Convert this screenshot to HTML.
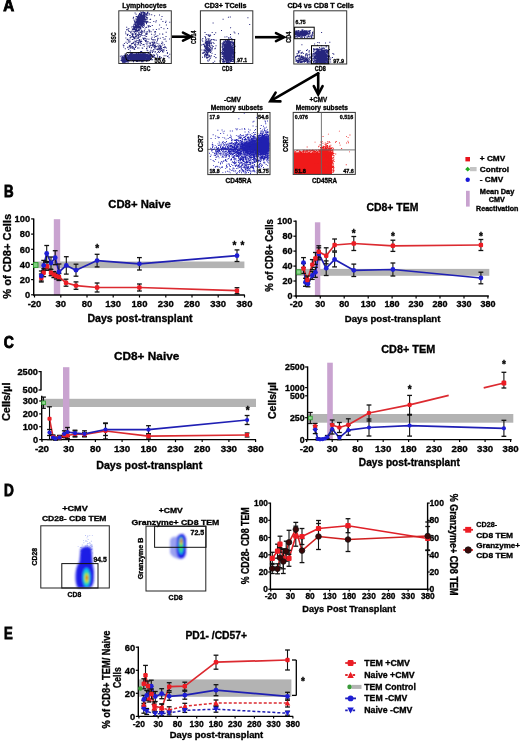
<!DOCTYPE html>
<html><head><meta charset="utf-8"><title>Figure</title>
<style>
html,body{margin:0;padding:0;background:#fff;width:520px;height:741px;overflow:hidden}
svg{display:block;font-family:"Liberation Sans",sans-serif;font-weight:bold;will-change:transform;filter:blur(0.3px)}
text{stroke:#000;stroke-width:0.32px;paint-order:stroke}
.pl{stroke-width:0.9px}
</style></head><body>
<svg width="520" height="741" viewBox="0 0 520 741">
<rect width="520" height="741" fill="#fff"/>
<defs><filter id="bl0" x="-50%" y="-50%" width="200%" height="200%"><feGaussianBlur stdDeviation="2"/></filter></defs>
<text x="3.2" y="11" font-size="16" class="pl" textLength="10.9" lengthAdjust="spacingAndGlyphs">A</text>
<text x="122.2" y="7.6" font-size="7" textLength="44.5" lengthAdjust="spacingAndGlyphs">Lymphocytes</text>
<path d="M141.8 17.5h1.0v1.0h-1.0zM142.8 17.2h1.0v1.0h-1.0zM139.8 19.9h1.0v1.0h-1.0zM141.1 14.3h1.0v1.0h-1.0zM137.6 23.0h1.0v1.0h-1.0zM138.4 18.8h1.0v1.0h-1.0zM139.7 21.8h1.0v1.0h-1.0zM143.5 21.1h1.0v1.0h-1.0zM141.1 16.4h1.0v1.0h-1.0zM141.4 15.1h1.0v1.0h-1.0zM141.9 19.9h1.0v1.0h-1.0zM142.4 18.2h1.0v1.0h-1.0zM139.8 21.8h1.0v1.0h-1.0zM138.3 19.4h1.0v1.0h-1.0zM143.8 13.8h1.0v1.0h-1.0zM141.5 21.6h1.0v1.0h-1.0zM141.0 12.4h1.0v1.0h-1.0zM140.9 16.9h1.0v1.0h-1.0zM137.0 16.9h1.0v1.0h-1.0zM136.1 18.8h1.0v1.0h-1.0zM139.3 21.0h1.0v1.0h-1.0zM138.0 18.3h1.0v1.0h-1.0zM141.9 18.7h1.0v1.0h-1.0zM141.5 18.8h1.0v1.0h-1.0zM142.4 15.5h1.0v1.0h-1.0zM135.6 16.3h1.0v1.0h-1.0zM140.5 17.2h1.0v1.0h-1.0zM139.9 20.9h1.0v1.0h-1.0zM143.7 14.7h1.0v1.0h-1.0zM136.3 19.9h1.0v1.0h-1.0zM138.8 20.7h1.0v1.0h-1.0zM138.5 18.7h1.0v1.0h-1.0zM139.7 17.4h1.0v1.0h-1.0zM141.0 24.4h1.0v1.0h-1.0zM143.0 11.4h1.0v1.0h-1.0zM138.9 22.7h1.0v1.0h-1.0zM141.4 22.7h1.0v1.0h-1.0zM138.2 21.2h1.0v1.0h-1.0zM138.9 22.3h1.0v1.0h-1.0zM142.2 17.4h1.0v1.0h-1.0zM141.0 19.3h1.0v1.0h-1.0zM135.9 22.2h1.0v1.0h-1.0zM139.2 22.7h1.0v1.0h-1.0zM142.5 23.1h1.0v1.0h-1.0zM140.6 24.1h1.0v1.0h-1.0zM137.3 26.4h1.0v1.0h-1.0zM136.1 24.7h1.0v1.0h-1.0zM143.8 24.0h1.0v1.0h-1.0zM146.0 13.7h1.0v1.0h-1.0zM135.1 23.8h1.0v1.0h-1.0zM140.8 19.9h1.0v1.0h-1.0zM138.8 22.1h1.0v1.0h-1.0zM145.6 14.0h1.0v1.0h-1.0zM143.5 14.1h1.0v1.0h-1.0zM143.3 18.1h1.0v1.0h-1.0zM139.8 28.4h1.0v1.0h-1.0zM139.8 17.9h1.0v1.0h-1.0zM139.9 22.1h1.0v1.0h-1.0zM134.5 28.6h1.0v1.0h-1.0zM136.2 28.5h1.0v1.0h-1.0zM138.0 18.6h1.0v1.0h-1.0zM139.6 18.6h1.0v1.0h-1.0zM143.2 14.1h1.0v1.0h-1.0zM144.0 18.1h1.0v1.0h-1.0zM141.5 23.9h1.0v1.0h-1.0zM136.3 20.9h1.0v1.0h-1.0zM138.2 20.1h1.0v1.0h-1.0zM138.9 26.1h1.0v1.0h-1.0zM138.1 14.4h1.0v1.0h-1.0zM139.4 19.7h1.0v1.0h-1.0zM138.0 24.0h1.0v1.0h-1.0zM141.3 24.8h1.0v1.0h-1.0zM138.8 26.6h1.0v1.0h-1.0zM138.4 22.1h1.0v1.0h-1.0zM140.3 18.6h1.0v1.0h-1.0zM138.7 22.0h1.0v1.0h-1.0zM146.1 17.3h1.0v1.0h-1.0zM143.7 12.0h1.0v1.0h-1.0zM138.0 23.0h1.0v1.0h-1.0zM141.1 20.6h1.0v1.0h-1.0zM139.1 21.9h1.0v1.0h-1.0zM144.3 11.9h1.0v1.0h-1.0zM138.8 17.4h1.0v1.0h-1.0zM141.8 17.5h1.0v1.0h-1.0zM141.6 15.7h1.0v1.0h-1.0zM142.5 19.6h1.0v1.0h-1.0zM137.7 24.9h1.0v1.0h-1.0zM140.6 23.1h1.0v1.0h-1.0zM141.1 17.2h1.0v1.0h-1.0zM142.5 21.6h1.0v1.0h-1.0zM138.2 24.2h1.0v1.0h-1.0zM137.8 18.4h1.0v1.0h-1.0zM139.5 23.6h1.0v1.0h-1.0zM134.8 21.9h1.0v1.0h-1.0zM131.3 26.5h1.0v1.0h-1.0zM136.5 25.7h1.0v1.0h-1.0zM137.5 21.0h1.0v1.0h-1.0zM139.7 22.2h1.0v1.0h-1.0zM142.8 27.0h1.0v1.0h-1.0zM139.9 16.9h1.0v1.0h-1.0zM139.0 19.6h1.0v1.0h-1.0zM138.2 25.2h1.0v1.0h-1.0zM136.0 30.7h1.0v1.0h-1.0zM140.3 19.5h1.0v1.0h-1.0zM139.9 20.0h1.0v1.0h-1.0zM141.1 22.3h1.0v1.0h-1.0zM137.7 27.7h1.0v1.0h-1.0zM138.1 19.2h1.0v1.0h-1.0zM136.1 27.6h1.0v1.0h-1.0zM142.9 15.8h1.0v1.0h-1.0zM138.5 18.4h1.0v1.0h-1.0zM141.3 19.8h1.0v1.0h-1.0zM136.3 23.4h1.0v1.0h-1.0zM139.4 26.8h1.0v1.0h-1.0zM144.7 13.3h1.0v1.0h-1.0zM142.8 16.1h1.0v1.0h-1.0zM138.1 21.5h1.0v1.0h-1.0zM141.7 17.1h1.0v1.0h-1.0zM135.0 24.3h1.0v1.0h-1.0zM139.6 23.3h1.0v1.0h-1.0zM134.4 20.5h1.0v1.0h-1.0zM143.3 19.1h1.0v1.0h-1.0zM133.8 23.5h1.0v1.0h-1.0zM142.4 20.2h1.0v1.0h-1.0zM135.5 24.9h1.0v1.0h-1.0zM144.3 16.9h1.0v1.0h-1.0zM142.8 16.5h1.0v1.0h-1.0zM136.4 19.7h1.0v1.0h-1.0zM144.7 18.5h1.0v1.0h-1.0zM141.4 25.5h1.0v1.0h-1.0zM139.4 21.7h1.0v1.0h-1.0zM142.1 15.6h1.0v1.0h-1.0zM139.7 20.7h1.0v1.0h-1.0zM139.1 17.7h1.0v1.0h-1.0zM140.1 26.3h1.0v1.0h-1.0zM140.8 16.8h1.0v1.0h-1.0zM141.3 18.3h1.0v1.0h-1.0zM135.3 25.5h1.0v1.0h-1.0zM132.9 30.8h1.0v1.0h-1.0zM132.1 28.9h1.0v1.0h-1.0zM142.7 22.3h1.0v1.0h-1.0zM139.3 21.4h1.0v1.0h-1.0zM138.1 29.1h1.0v1.0h-1.0zM140.6 19.9h1.0v1.0h-1.0zM141.4 14.9h1.0v1.0h-1.0zM139.2 20.7h1.0v1.0h-1.0zM137.8 22.1h1.0v1.0h-1.0zM142.4 16.4h1.0v1.0h-1.0zM143.8 12.0h1.0v1.0h-1.0zM143.4 13.1h1.0v1.0h-1.0zM135.5 22.2h1.0v1.0h-1.0zM140.5 15.8h1.0v1.0h-1.0zM144.1 21.7h1.0v1.0h-1.0zM138.2 20.8h1.0v1.0h-1.0zM136.3 22.3h1.0v1.0h-1.0zM141.8 19.2h1.0v1.0h-1.0zM141.8 24.6h1.0v1.0h-1.0zM139.5 14.5h1.0v1.0h-1.0zM140.7 18.5h1.0v1.0h-1.0zM141.6 14.7h1.0v1.0h-1.0zM133.5 24.0h1.0v1.0h-1.0zM141.8 21.2h1.0v1.0h-1.0zM142.1 16.8h1.0v1.0h-1.0zM141.3 18.9h1.0v1.0h-1.0zM139.2 18.5h1.0v1.0h-1.0zM139.3 24.5h1.0v1.0h-1.0zM143.3 12.0h1.0v1.0h-1.0zM142.7 15.2h1.0v1.0h-1.0zM138.9 17.4h1.0v1.0h-1.0zM130.8 31.5h1.0v1.0h-1.0zM140.4 26.7h1.0v1.0h-1.0zM139.4 19.4h1.0v1.0h-1.0zM138.9 24.3h1.0v1.0h-1.0zM134.6 30.6h1.0v1.0h-1.0zM139.9 18.8h1.0v1.0h-1.0zM140.1 18.1h1.0v1.0h-1.0zM138.3 27.2h1.0v1.0h-1.0zM138.2 22.6h1.0v1.0h-1.0zM138.1 23.6h1.0v1.0h-1.0zM141.6 18.0h1.0v1.0h-1.0zM137.5 31.3h1.0v1.0h-1.0zM137.0 29.7h1.0v1.0h-1.0zM139.5 23.7h1.0v1.0h-1.0zM137.2 23.2h1.0v1.0h-1.0zM140.5 24.7h1.0v1.0h-1.0zM142.8 20.7h1.0v1.0h-1.0zM138.7 22.5h1.0v1.0h-1.0zM139.5 24.5h1.0v1.0h-1.0zM142.8 19.7h1.0v1.0h-1.0zM146.5 13.1h1.0v1.0h-1.0zM141.2 23.4h1.0v1.0h-1.0zM141.2 16.3h1.0v1.0h-1.0zM144.3 20.6h1.0v1.0h-1.0zM139.2 16.1h1.0v1.0h-1.0zM142.9 19.8h1.0v1.0h-1.0zM138.8 27.5h1.0v1.0h-1.0zM143.5 23.9h1.0v1.0h-1.0zM140.3 27.7h1.0v1.0h-1.0zM132.5 28.9h1.0v1.0h-1.0zM136.6 18.7h1.0v1.0h-1.0zM146.8 12.6h1.0v1.0h-1.0zM140.5 14.9h1.0v1.0h-1.0zM143.4 14.6h1.0v1.0h-1.0zM143.3 19.0h1.0v1.0h-1.0zM136.5 19.0h1.0v1.0h-1.0zM139.8 22.5h1.0v1.0h-1.0zM144.3 13.1h1.0v1.0h-1.0zM138.9 21.7h1.0v1.0h-1.0zM140.6 20.0h1.0v1.0h-1.0zM139.2 18.0h1.0v1.0h-1.0zM137.2 18.4h1.0v1.0h-1.0zM141.3 17.7h1.0v1.0h-1.0zM139.8 16.4h1.0v1.0h-1.0zM141.3 20.9h1.0v1.0h-1.0zM135.1 29.5h1.0v1.0h-1.0zM135.7 30.7h1.0v1.0h-1.0zM134.6 25.9h1.0v1.0h-1.0zM136.9 23.2h1.0v1.0h-1.0zM139.9 16.0h1.0v1.0h-1.0zM134.5 26.6h1.0v1.0h-1.0zM140.8 20.4h1.0v1.0h-1.0zM138.7 19.3h1.0v1.0h-1.0zM141.7 19.5h1.0v1.0h-1.0zM140.7 21.3h1.0v1.0h-1.0zM145.6 20.7h1.0v1.0h-1.0zM137.5 18.5h1.0v1.0h-1.0zM145.0 16.2h1.0v1.0h-1.0zM141.0 18.6h1.0v1.0h-1.0zM134.0 31.7h1.0v1.0h-1.0zM137.3 18.5h1.0v1.0h-1.0zM139.9 18.8h1.0v1.0h-1.0zM140.3 24.0h1.0v1.0h-1.0zM138.1 23.9h1.0v1.0h-1.0zM143.4 15.1h1.0v1.0h-1.0zM140.1 19.1h1.0v1.0h-1.0zM140.2 26.3h1.0v1.0h-1.0zM139.4 21.8h1.0v1.0h-1.0zM135.2 18.6h1.0v1.0h-1.0zM134.6 27.3h1.0v1.0h-1.0zM137.9 14.9h1.0v1.0h-1.0zM133.1 17.2h1.0v1.0h-1.0zM140.5 17.3h1.0v1.0h-1.0zM139.0 29.4h1.0v1.0h-1.0zM139.5 15.9h1.0v1.0h-1.0zM139.6 16.8h1.0v1.0h-1.0zM140.8 25.1h1.0v1.0h-1.0zM138.9 23.7h1.0v1.0h-1.0zM136.6 27.4h1.0v1.0h-1.0zM144.3 12.7h1.0v1.0h-1.0zM138.3 24.2h1.0v1.0h-1.0zM142.7 20.0h1.0v1.0h-1.0zM143.2 17.9h1.0v1.0h-1.0zM139.2 23.4h1.0v1.0h-1.0zM140.5 14.8h1.0v1.0h-1.0zM139.8 17.9h1.0v1.0h-1.0zM146.5 14.4h1.0v1.0h-1.0zM139.3 15.8h1.0v1.0h-1.0zM138.9 22.2h1.0v1.0h-1.0zM139.3 22.0h1.0v1.0h-1.0zM133.1 26.8h1.0v1.0h-1.0zM144.4 21.5h1.0v1.0h-1.0zM147.4 14.6h1.0v1.0h-1.0zM141.3 16.3h1.0v1.0h-1.0zM144.3 16.9h1.0v1.0h-1.0zM144.3 15.0h1.0v1.0h-1.0zM133.5 19.6h1.0v1.0h-1.0zM142.5 17.6h1.0v1.0h-1.0zM138.5 24.0h1.0v1.0h-1.0zM138.2 18.7h1.0v1.0h-1.0zM138.7 21.9h1.0v1.0h-1.0zM139.5 20.8h1.0v1.0h-1.0zM141.0 25.0h1.0v1.0h-1.0zM140.8 21.1h1.0v1.0h-1.0zM136.9 26.6h1.0v1.0h-1.0zM142.3 24.3h1.0v1.0h-1.0zM138.0 21.8h1.0v1.0h-1.0zM138.3 22.1h1.0v1.0h-1.0zM143.9 21.5h1.0v1.0h-1.0zM142.9 20.3h1.0v1.0h-1.0zM141.6 22.6h1.0v1.0h-1.0zM145.3 14.6h1.0v1.0h-1.0zM136.0 28.7h1.0v1.0h-1.0zM140.4 21.3h1.0v1.0h-1.0zM142.9 14.3h1.0v1.0h-1.0zM144.4 11.9h1.0v1.0h-1.0zM141.1 19.2h1.0v1.0h-1.0zM143.6 21.8h1.0v1.0h-1.0zM143.3 17.6h1.0v1.0h-1.0zM139.8 20.9h1.0v1.0h-1.0zM140.7 16.7h1.0v1.0h-1.0zM137.4 22.5h1.0v1.0h-1.0zM145.5 18.8h1.0v1.0h-1.0zM141.4 20.9h1.0v1.0h-1.0zM137.7 25.4h1.0v1.0h-1.0zM132.6 32.7h1.0v1.0h-1.0zM140.6 14.3h1.0v1.0h-1.0zM141.3 18.1h1.0v1.0h-1.0zM144.3 17.4h1.0v1.0h-1.0zM137.3 23.9h1.0v1.0h-1.0zM142.8 14.6h1.0v1.0h-1.0zM141.0 17.9h1.0v1.0h-1.0zM140.5 20.5h1.0v1.0h-1.0zM139.5 13.9h1.0v1.0h-1.0zM142.3 15.5h1.0v1.0h-1.0zM139.7 17.2h1.0v1.0h-1.0zM142.5 12.5h1.0v1.0h-1.0zM142.5 19.1h1.0v1.0h-1.0zM143.0 23.0h1.0v1.0h-1.0zM140.0 19.2h1.0v1.0h-1.0zM141.8 18.4h1.0v1.0h-1.0zM138.1 24.4h1.0v1.0h-1.0zM136.6 22.1h1.0v1.0h-1.0zM141.4 20.6h1.0v1.0h-1.0zM146.8 18.5h1.0v1.0h-1.0zM138.0 23.3h1.0v1.0h-1.0zM141.3 17.4h1.0v1.0h-1.0zM141.1 13.6h1.0v1.0h-1.0zM143.0 16.9h1.0v1.0h-1.0zM133.7 26.2h1.0v1.0h-1.0zM137.3 20.3h1.0v1.0h-1.0zM139.8 27.7h1.0v1.0h-1.0zM139.6 17.1h1.0v1.0h-1.0zM140.0 26.4h1.0v1.0h-1.0zM145.0 19.3h1.0v1.0h-1.0zM141.2 20.0h1.0v1.0h-1.0zM134.7 33.4h1.0v1.0h-1.0zM142.3 26.5h1.0v1.0h-1.0zM141.1 17.8h1.0v1.0h-1.0zM139.2 19.4h1.0v1.0h-1.0zM136.5 20.5h1.0v1.0h-1.0zM137.0 26.5h1.0v1.0h-1.0zM144.6 19.8h1.0v1.0h-1.0zM146.9 13.0h1.0v1.0h-1.0zM139.0 18.0h1.0v1.0h-1.0zM138.4 19.6h1.0v1.0h-1.0zM138.8 20.5h1.0v1.0h-1.0zM137.3 27.3h1.0v1.0h-1.0zM138.9 21.8h1.0v1.0h-1.0zM138.5 24.7h1.0v1.0h-1.0zM143.8 15.4h1.0v1.0h-1.0zM137.2 24.4h1.0v1.0h-1.0zM134.5 30.8h1.0v1.0h-1.0zM138.6 24.5h1.0v1.0h-1.0zM139.3 21.6h1.0v1.0h-1.0zM140.8 21.8h1.0v1.0h-1.0zM139.3 31.4h1.0v1.0h-1.0zM143.9 16.6h1.0v1.0h-1.0zM140.6 20.0h1.0v1.0h-1.0zM135.4 20.8h1.0v1.0h-1.0zM139.0 24.6h1.0v1.0h-1.0zM137.3 16.1h1.0v1.0h-1.0zM136.4 20.4h1.0v1.0h-1.0zM142.7 20.1h1.0v1.0h-1.0zM141.4 21.9h1.0v1.0h-1.0zM140.2 19.7h1.0v1.0h-1.0zM139.7 12.9h1.0v1.0h-1.0zM139.5 20.0h1.0v1.0h-1.0zM136.4 24.0h1.0v1.0h-1.0zM144.1 16.5h1.0v1.0h-1.0zM145.6 21.9h1.0v1.0h-1.0zM138.9 24.0h1.0v1.0h-1.0zM141.4 14.3h1.0v1.0h-1.0zM137.2 20.1h1.0v1.0h-1.0zM142.9 15.2h1.0v1.0h-1.0zM136.8 25.9h1.0v1.0h-1.0zM131.6 30.5h1.0v1.0h-1.0zM135.0 30.6h1.0v1.0h-1.0zM138.4 18.1h1.0v1.0h-1.0zM140.6 25.4h1.0v1.0h-1.0zM142.1 22.3h1.0v1.0h-1.0zM142.2 22.2h1.0v1.0h-1.0zM135.0 27.6h1.0v1.0h-1.0zM144.8 14.6h1.0v1.0h-1.0zM137.1 25.5h1.0v1.0h-1.0zM139.5 19.8h1.0v1.0h-1.0zM135.7 27.0h1.0v1.0h-1.0zM137.0 19.9h1.0v1.0h-1.0zM139.0 15.5h1.0v1.0h-1.0zM141.1 22.8h1.0v1.0h-1.0zM137.8 23.9h1.0v1.0h-1.0zM140.6 20.9h1.0v1.0h-1.0zM141.0 24.1h1.0v1.0h-1.0zM138.0 15.9h1.0v1.0h-1.0zM138.2 25.1h1.0v1.0h-1.0zM139.1 24.4h1.0v1.0h-1.0zM139.0 20.8h1.0v1.0h-1.0zM142.2 22.0h1.0v1.0h-1.0zM137.9 25.8h1.0v1.0h-1.0zM138.9 16.9h1.0v1.0h-1.0zM140.1 16.0h1.0v1.0h-1.0zM142.4 20.5h1.0v1.0h-1.0zM138.0 26.9h1.0v1.0h-1.0zM139.9 11.5h1.0v1.0h-1.0zM139.8 27.9h1.0v1.0h-1.0zM143.2 18.0h1.0v1.0h-1.0zM146.0 16.6h1.0v1.0h-1.0zM136.0 26.3h1.0v1.0h-1.0zM139.8 19.7h1.0v1.0h-1.0zM141.3 12.8h1.0v1.0h-1.0zM146.5 21.7h1.0v1.0h-1.0zM137.3 24.9h1.0v1.0h-1.0zM140.3 28.2h1.0v1.0h-1.0zM140.0 17.7h1.0v1.0h-1.0zM139.5 22.7h1.0v1.0h-1.0zM134.8 22.1h1.0v1.0h-1.0zM141.1 16.9h1.0v1.0h-1.0zM141.3 23.4h1.0v1.0h-1.0zM137.6 18.9h1.0v1.0h-1.0zM143.9 19.1h1.0v1.0h-1.0zM142.2 18.5h1.0v1.0h-1.0zM137.8 19.6h1.0v1.0h-1.0zM139.1 20.1h1.0v1.0h-1.0zM140.8 17.2h1.0v1.0h-1.0zM141.2 18.3h1.0v1.0h-1.0zM136.1 25.4h1.0v1.0h-1.0zM137.9 20.6h1.0v1.0h-1.0zM137.2 24.5h1.0v1.0h-1.0zM134.8 25.2h1.0v1.0h-1.0zM135.9 21.9h1.0v1.0h-1.0zM134.0 31.6h1.0v1.0h-1.0zM144.3 17.5h1.0v1.0h-1.0zM134.8 22.7h1.0v1.0h-1.0zM141.1 18.9h1.0v1.0h-1.0zM133.8 28.9h1.0v1.0h-1.0zM133.6 27.7h1.0v1.0h-1.0zM147.2 11.9h1.0v1.0h-1.0zM141.7 15.1h1.0v1.0h-1.0zM141.6 25.5h1.0v1.0h-1.0zM136.4 23.5h1.0v1.0h-1.0zM139.0 24.6h1.0v1.0h-1.0zM139.9 19.9h1.0v1.0h-1.0zM137.4 21.9h1.0v1.0h-1.0zM139.7 24.4h1.0v1.0h-1.0zM140.1 19.9h1.0v1.0h-1.0zM138.7 26.2h1.0v1.0h-1.0zM136.2 22.4h1.0v1.0h-1.0zM142.8 15.3h1.0v1.0h-1.0zM137.7 25.3h1.0v1.0h-1.0zM142.8 20.5h1.0v1.0h-1.0zM140.7 15.1h1.0v1.0h-1.0zM139.1 22.3h1.0v1.0h-1.0zM139.0 14.0h1.0v1.0h-1.0zM144.0 16.8h1.0v1.0h-1.0zM142.1 11.6h1.0v1.0h-1.0zM136.5 18.3h1.0v1.0h-1.0zM138.7 22.9h1.0v1.0h-1.0zM139.8 26.8h1.0v1.0h-1.0zM137.4 18.0h1.0v1.0h-1.0zM135.1 24.4h1.0v1.0h-1.0zM138.6 19.7h1.0v1.0h-1.0zM138.1 18.7h1.0v1.0h-1.0zM139.5 23.8h1.0v1.0h-1.0zM135.7 24.8h1.0v1.0h-1.0zM139.6 18.0h1.0v1.0h-1.0zM142.1 20.0h1.0v1.0h-1.0zM139.0 18.8h1.0v1.0h-1.0zM140.9 21.4h1.0v1.0h-1.0zM140.6 15.0h1.0v1.0h-1.0zM134.9 24.2h1.0v1.0h-1.0zM137.4 16.4h1.0v1.0h-1.0zM142.9 24.9h1.0v1.0h-1.0zM141.7 16.1h1.0v1.0h-1.0zM139.8 22.5h1.0v1.0h-1.0zM139.1 22.4h1.0v1.0h-1.0zM141.7 18.6h1.0v1.0h-1.0zM134.9 30.5h1.0v1.0h-1.0zM143.2 24.5h1.0v1.0h-1.0zM133.2 28.0h1.0v1.0h-1.0zM134.3 23.4h1.0v1.0h-1.0zM139.8 16.1h1.0v1.0h-1.0zM138.4 17.1h1.0v1.0h-1.0zM140.6 23.5h1.0v1.0h-1.0zM141.8 21.7h1.0v1.0h-1.0zM138.0 19.6h1.0v1.0h-1.0zM138.0 17.5h1.0v1.0h-1.0zM143.7 21.0h1.0v1.0h-1.0zM140.3 22.9h1.0v1.0h-1.0zM139.9 15.7h1.0v1.0h-1.0zM144.3 18.2h1.0v1.0h-1.0zM138.5 18.2h1.0v1.0h-1.0zM138.9 21.5h1.0v1.0h-1.0zM140.9 11.7h1.0v1.0h-1.0zM146.0 16.9h1.0v1.0h-1.0zM147.4 11.4h1.0v1.0h-1.0zM141.9 15.3h1.0v1.0h-1.0zM134.1 27.3h1.0v1.0h-1.0zM139.0 13.1h1.0v1.0h-1.0zM137.6 23.2h1.0v1.0h-1.0zM143.8 13.7h1.0v1.0h-1.0zM139.2 21.9h1.0v1.0h-1.0zM140.9 18.8h1.0v1.0h-1.0zM138.0 18.9h1.0v1.0h-1.0zM138.5 23.2h1.0v1.0h-1.0zM135.4 29.1h1.0v1.0h-1.0zM142.4 22.9h1.0v1.0h-1.0zM143.8 23.3h1.0v1.0h-1.0zM142.5 15.6h1.0v1.0h-1.0zM137.0 22.5h1.0v1.0h-1.0zM140.7 19.2h1.0v1.0h-1.0zM145.2 21.2h1.0v1.0h-1.0zM143.4 16.2h1.0v1.0h-1.0zM147.6 25.3h1.0v1.0h-1.0zM132.7 17.7h1.0v1.0h-1.0zM139.6 20.8h1.0v1.0h-1.0zM139.7 20.2h1.0v1.0h-1.0zM140.7 14.3h1.0v1.0h-1.0zM141.6 17.6h1.0v1.0h-1.0zM134.2 20.6h1.0v1.0h-1.0zM138.5 26.8h1.0v1.0h-1.0zM146.7 33.6h1.0v1.0h-1.0zM146.9 21.0h1.0v1.0h-1.0zM132.6 26.1h1.0v1.0h-1.0zM132.5 28.4h1.0v1.0h-1.0zM134.5 29.1h1.0v1.0h-1.0zM139.1 33.9h1.0v1.0h-1.0zM137.8 19.2h1.0v1.0h-1.0zM138.4 19.3h1.0v1.0h-1.0zM140.8 29.7h1.0v1.0h-1.0zM149.2 14.3h1.0v1.0h-1.0zM138.2 22.7h1.0v1.0h-1.0zM138.1 15.9h1.0v1.0h-1.0zM135.8 16.1h1.0v1.0h-1.0zM143.5 23.5h1.0v1.0h-1.0zM134.6 26.9h1.0v1.0h-1.0zM138.6 30.0h1.0v1.0h-1.0zM148.2 25.5h1.0v1.0h-1.0zM145.9 23.2h1.0v1.0h-1.0zM139.1 13.7h1.0v1.0h-1.0zM142.4 26.7h1.0v1.0h-1.0zM146.0 22.8h1.0v1.0h-1.0zM135.2 24.6h1.0v1.0h-1.0zM130.0 32.2h1.0v1.0h-1.0zM140.2 21.5h1.0v1.0h-1.0zM149.6 19.1h1.0v1.0h-1.0zM134.4 30.6h1.0v1.0h-1.0zM138.7 23.1h1.0v1.0h-1.0zM147.0 11.7h1.0v1.0h-1.0zM139.1 27.2h1.0v1.0h-1.0zM134.8 30.4h1.0v1.0h-1.0zM146.4 21.9h1.0v1.0h-1.0zM134.6 12.6h1.0v1.0h-1.0zM141.8 19.6h1.0v1.0h-1.0zM136.6 22.5h1.0v1.0h-1.0zM138.6 26.8h1.0v1.0h-1.0zM136.8 30.8h1.0v1.0h-1.0zM132.2 28.5h1.0v1.0h-1.0zM133.4 28.9h1.0v1.0h-1.0zM138.4 33.3h1.0v1.0h-1.0zM139.3 27.4h1.0v1.0h-1.0zM149.1 25.5h1.0v1.0h-1.0zM148.4 29.2h1.0v1.0h-1.0zM136.2 16.2h1.0v1.0h-1.0zM138.2 29.0h1.0v1.0h-1.0zM151.8 24.9h1.0v1.0h-1.0zM147.1 17.2h1.0v1.0h-1.0zM135.8 32.6h1.0v1.0h-1.0zM137.1 26.2h1.0v1.0h-1.0zM137.5 22.4h1.0v1.0h-1.0zM136.1 28.0h1.0v1.0h-1.0zM134.2 28.3h1.0v1.0h-1.0zM142.1 26.0h1.0v1.0h-1.0zM141.3 16.3h1.0v1.0h-1.0zM137.5 16.2h1.0v1.0h-1.0zM144.1 15.0h1.0v1.0h-1.0zM136.2 21.5h1.0v1.0h-1.0zM135.2 30.0h1.0v1.0h-1.0zM146.5 20.8h1.0v1.0h-1.0zM146.3 14.8h1.0v1.0h-1.0zM134.7 37.3h1.0v1.0h-1.0zM143.6 19.6h1.0v1.0h-1.0zM145.5 13.5h1.0v1.0h-1.0zM139.1 23.4h1.0v1.0h-1.0zM137.7 24.3h1.0v1.0h-1.0zM146.2 18.7h1.0v1.0h-1.0zM133.2 25.2h1.0v1.0h-1.0zM147.7 21.5h1.0v1.0h-1.0zM144.2 15.6h1.0v1.0h-1.0zM136.9 21.6h1.0v1.0h-1.0zM135.6 26.4h1.0v1.0h-1.0zM140.3 16.1h1.0v1.0h-1.0zM139.9 24.7h1.0v1.0h-1.0zM138.0 19.8h1.0v1.0h-1.0zM134.2 44.3h1.0v1.0h-1.0zM140.1 15.3h1.0v1.0h-1.0zM126.2 26.8h1.0v1.0h-1.0zM137.8 20.1h1.0v1.0h-1.0zM133.1 16.8h1.0v1.0h-1.0zM137.6 27.0h1.0v1.0h-1.0zM141.3 30.6h1.0v1.0h-1.0zM138.2 32.3h1.0v1.0h-1.0zM134.0 21.4h1.0v1.0h-1.0zM139.8 16.1h1.0v1.0h-1.0zM149.6 22.1h1.0v1.0h-1.0zM139.8 26.3h1.0v1.0h-1.0zM138.3 26.1h1.0v1.0h-1.0zM139.3 34.1h1.0v1.0h-1.0zM148.6 30.2h1.0v1.0h-1.0zM141.6 32.2h1.0v1.0h-1.0zM135.2 32.9h1.0v1.0h-1.0zM141.3 23.9h1.0v1.0h-1.0zM148.6 12.9h1.0v1.0h-1.0zM142.6 12.4h1.0v1.0h-1.0zM134.6 33.3h1.0v1.0h-1.0zM140.0 14.0h1.0v1.0h-1.0zM135.5 30.5h1.0v1.0h-1.0zM138.6 26.3h1.0v1.0h-1.0zM143.2 39.1h1.0v1.0h-1.0zM133.3 27.2h1.0v1.0h-1.0zM140.4 21.0h1.0v1.0h-1.0zM140.6 20.2h1.0v1.0h-1.0zM141.9 23.5h1.0v1.0h-1.0zM144.0 25.5h1.0v1.0h-1.0zM140.6 17.2h1.0v1.0h-1.0zM137.4 20.0h1.0v1.0h-1.0zM127.8 29.8h1.0v1.0h-1.0zM141.6 25.0h1.0v1.0h-1.0zM144.2 15.7h1.0v1.0h-1.0zM135.8 21.1h1.0v1.0h-1.0zM135.8 27.1h1.0v1.0h-1.0zM140.8 21.7h1.0v1.0h-1.0zM139.5 28.5h1.0v1.0h-1.0zM135.3 29.2h1.0v1.0h-1.0zM135.6 13.8h1.0v1.0h-1.0zM133.6 23.9h1.0v1.0h-1.0zM146.2 26.8h1.0v1.0h-1.0zM142.1 16.0h1.0v1.0h-1.0zM140.5 24.0h1.0v1.0h-1.0zM160.8 47.8h1.0v1.0h-1.0zM146.4 49.6h1.0v1.0h-1.0zM153.9 36.8h1.0v1.0h-1.0zM133.2 41.7h1.0v1.0h-1.0zM160.7 45.9h1.0v1.0h-1.0zM169.1 38.6h1.0v1.0h-1.0zM141.3 53.4h1.0v1.0h-1.0zM142.2 47.7h1.0v1.0h-1.0zM138.3 30.0h1.0v1.0h-1.0zM154.3 46.9h1.0v1.0h-1.0zM169.3 53.8h1.0v1.0h-1.0zM153.2 45.8h1.0v1.0h-1.0zM161.6 41.6h1.0v1.0h-1.0zM153.9 41.6h1.0v1.0h-1.0zM139.2 39.4h1.0v1.0h-1.0zM157.7 49.2h1.0v1.0h-1.0zM135.4 41.3h1.0v1.0h-1.0zM146.2 41.3h1.0v1.0h-1.0zM144.0 53.3h1.0v1.0h-1.0zM156.6 43.1h1.0v1.0h-1.0zM150.5 45.1h1.0v1.0h-1.0zM156.0 35.7h1.0v1.0h-1.0zM145.4 33.1h1.0v1.0h-1.0zM134.6 41.6h1.0v1.0h-1.0zM150.9 38.3h1.0v1.0h-1.0zM141.2 40.9h1.0v1.0h-1.0zM138.1 35.6h1.0v1.0h-1.0zM141.0 31.6h1.0v1.0h-1.0zM145.1 38.2h1.0v1.0h-1.0zM135.1 31.1h1.0v1.0h-1.0zM138.9 33.6h1.0v1.0h-1.0zM133.5 37.5h1.0v1.0h-1.0zM147.7 45.6h1.0v1.0h-1.0zM152.6 41.5h1.0v1.0h-1.0zM165.8 47.6h1.0v1.0h-1.0zM135.8 36.2h1.0v1.0h-1.0zM143.0 38.4h1.0v1.0h-1.0zM152.3 50.7h1.0v1.0h-1.0zM139.4 52.3h1.0v1.0h-1.0zM143.3 44.1h1.0v1.0h-1.0zM161.2 49.9h1.0v1.0h-1.0zM145.9 39.7h1.0v1.0h-1.0zM141.4 32.9h1.0v1.0h-1.0zM140.3 31.9h1.0v1.0h-1.0zM153.2 39.3h1.0v1.0h-1.0zM151.4 41.8h1.0v1.0h-1.0zM138.6 33.7h1.0v1.0h-1.0zM138.5 40.5h1.0v1.0h-1.0zM153.1 42.8h1.0v1.0h-1.0zM152.9 43.9h1.0v1.0h-1.0zM146.2 33.8h1.0v1.0h-1.0zM148.5 51.9h1.0v1.0h-1.0zM151.1 46.9h1.0v1.0h-1.0zM129.6 41.2h1.0v1.0h-1.0zM143.5 43.9h1.0v1.0h-1.0zM147.3 50.3h1.0v1.0h-1.0zM144.3 38.2h1.0v1.0h-1.0zM129.7 35.0h1.0v1.0h-1.0zM138.8 52.2h1.0v1.0h-1.0zM157.0 40.3h1.0v1.0h-1.0zM157.1 54.4h1.0v1.0h-1.0zM126.8 38.9h1.0v1.0h-1.0zM167.0 56.1h1.0v1.0h-1.0zM137.4 40.0h1.0v1.0h-1.0zM152.0 52.0h1.0v1.0h-1.0zM159.2 44.9h1.0v1.0h-1.0zM154.5 48.4h1.0v1.0h-1.0zM151.5 38.9h1.0v1.0h-1.0zM140.9 33.6h1.0v1.0h-1.0zM154.5 42.3h1.0v1.0h-1.0zM142.9 38.0h1.0v1.0h-1.0zM128.3 30.8h1.0v1.0h-1.0zM168.5 57.3h1.0v1.0h-1.0zM157.2 39.1h1.0v1.0h-1.0zM156.7 59.2h1.0v1.0h-1.0zM137.9 42.8h1.0v1.0h-1.0zM157.3 52.1h1.0v1.0h-1.0zM161.2 47.9h1.0v1.0h-1.0zM160.2 48.9h1.0v1.0h-1.0zM146.4 44.3h1.0v1.0h-1.0zM137.7 38.1h1.0v1.0h-1.0zM151.1 33.8h1.0v1.0h-1.0zM129.1 34.9h1.0v1.0h-1.0zM127.1 46.7h1.0v1.0h-1.0zM153.7 34.4h1.0v1.0h-1.0zM137.7 41.7h1.0v1.0h-1.0zM145.7 42.8h1.0v1.0h-1.0zM147.5 41.0h1.0v1.0h-1.0zM159.1 57.1h1.0v1.0h-1.0zM161.1 42.9h1.0v1.0h-1.0zM147.2 42.5h1.0v1.0h-1.0zM153.4 54.1h1.0v1.0h-1.0zM142.5 37.5h1.0v1.0h-1.0zM146.5 38.6h1.0v1.0h-1.0zM154.7 46.8h1.0v1.0h-1.0zM139.7 34.2h1.0v1.0h-1.0zM141.7 47.5h1.0v1.0h-1.0zM140.3 31.8h1.0v1.0h-1.0zM146.6 46.4h1.0v1.0h-1.0zM163.9 44.2h1.0v1.0h-1.0zM140.4 41.4h1.0v1.0h-1.0zM150.0 42.6h1.0v1.0h-1.0zM148.1 26.5h1.0v1.0h-1.0zM139.2 36.6h1.0v1.0h-1.0zM141.4 31.5h1.0v1.0h-1.0zM160.4 46.9h1.0v1.0h-1.0zM162.0 59.9h1.0v1.0h-1.0zM154.7 39.4h1.0v1.0h-1.0zM145.4 34.0h1.0v1.0h-1.0zM149.5 51.6h1.0v1.0h-1.0zM145.1 40.9h1.0v1.0h-1.0zM150.0 52.5h1.0v1.0h-1.0zM149.4 44.8h1.0v1.0h-1.0zM152.5 39.4h1.0v1.0h-1.0zM152.8 44.6h1.0v1.0h-1.0zM140.2 44.7h1.0v1.0h-1.0zM142.4 44.2h1.0v1.0h-1.0zM134.8 33.9h1.0v1.0h-1.0zM144.5 40.1h1.0v1.0h-1.0zM137.4 34.8h1.0v1.0h-1.0zM148.4 38.8h1.0v1.0h-1.0zM135.5 46.0h1.0v1.0h-1.0zM148.8 42.5h1.0v1.0h-1.0zM154.5 39.2h1.0v1.0h-1.0zM138.4 33.2h1.0v1.0h-1.0zM139.8 41.4h1.0v1.0h-1.0zM139.0 40.4h1.0v1.0h-1.0zM154.1 44.9h1.0v1.0h-1.0zM162.9 47.1h1.0v1.0h-1.0zM154.5 46.1h1.0v1.0h-1.0zM125.4 37.4h1.0v1.0h-1.0zM127.3 38.7h1.0v1.0h-1.0zM138.1 34.6h1.0v1.0h-1.0zM131.5 33.5h1.0v1.0h-1.0zM135.9 35.5h1.0v1.0h-1.0zM140.3 40.9h1.0v1.0h-1.0zM137.3 44.2h1.0v1.0h-1.0zM134.1 44.1h1.0v1.0h-1.0zM144.9 35.5h1.0v1.0h-1.0zM137.4 36.6h1.0v1.0h-1.0zM132.2 35.9h1.0v1.0h-1.0zM137.8 43.5h1.0v1.0h-1.0zM136.1 29.8h1.0v1.0h-1.0zM129.6 47.8h1.0v1.0h-1.0zM134.4 38.3h1.0v1.0h-1.0zM133.2 36.7h1.0v1.0h-1.0zM123.9 42.9h1.0v1.0h-1.0zM133.1 46.7h1.0v1.0h-1.0zM132.5 42.9h1.0v1.0h-1.0zM131.7 46.8h1.0v1.0h-1.0zM125.5 41.7h1.0v1.0h-1.0zM132.2 47.8h1.0v1.0h-1.0zM133.8 47.8h1.0v1.0h-1.0zM134.5 40.5h1.0v1.0h-1.0zM128.2 48.9h1.0v1.0h-1.0zM137.3 41.9h1.0v1.0h-1.0zM127.8 41.5h1.0v1.0h-1.0zM132.8 35.9h1.0v1.0h-1.0zM140.7 39.4h1.0v1.0h-1.0zM130.4 45.3h1.0v1.0h-1.0zM131.4 33.8h1.0v1.0h-1.0zM139.5 44.6h1.0v1.0h-1.0zM132.0 42.9h1.0v1.0h-1.0zM132.5 42.5h1.0v1.0h-1.0zM135.1 28.9h1.0v1.0h-1.0zM139.4 40.4h1.0v1.0h-1.0zM122.7 44.6h1.0v1.0h-1.0zM129.7 36.8h1.0v1.0h-1.0zM128.8 41.5h1.0v1.0h-1.0zM128.4 27.9h1.0v1.0h-1.0zM129.6 44.7h1.0v1.0h-1.0zM129.7 37.4h1.0v1.0h-1.0zM135.5 45.8h1.0v1.0h-1.0zM129.4 30.9h1.0v1.0h-1.0zM134.6 44.8h1.0v1.0h-1.0zM136.1 39.7h1.0v1.0h-1.0zM130.3 45.4h1.0v1.0h-1.0zM134.7 35.9h1.0v1.0h-1.0zM142.4 37.6h1.0v1.0h-1.0zM135.7 53.3h1.0v1.0h-1.0zM130.7 36.4h1.0v1.0h-1.0zM133.7 37.1h1.0v1.0h-1.0zM129.3 39.5h1.0v1.0h-1.0zM135.4 35.4h1.0v1.0h-1.0zM138.4 47.5h1.0v1.0h-1.0zM129.8 50.5h1.0v1.0h-1.0zM132.9 37.1h1.0v1.0h-1.0zM139.7 31.5h1.0v1.0h-1.0zM131.5 47.4h1.0v1.0h-1.0zM135.0 47.1h1.0v1.0h-1.0zM128.8 45.5h1.0v1.0h-1.0zM129.8 47.4h1.0v1.0h-1.0zM131.4 36.2h1.0v1.0h-1.0zM144.9 40.1h1.0v1.0h-1.0zM132.0 33.4h1.0v1.0h-1.0zM131.4 33.2h1.0v1.0h-1.0zM131.2 46.4h1.0v1.0h-1.0zM133.2 37.3h1.0v1.0h-1.0zM137.3 53.5h1.0v1.0h-1.0zM134.9 41.4h1.0v1.0h-1.0zM144.3 37.5h1.0v1.0h-1.0zM135.1 45.4h1.0v1.0h-1.0zM141.2 50.9h1.0v1.0h-1.0zM135.4 43.7h1.0v1.0h-1.0zM137.0 34.3h1.0v1.0h-1.0zM126.8 43.0h1.0v1.0h-1.0zM133.4 48.6h1.0v1.0h-1.0zM133.7 38.3h1.0v1.0h-1.0zM132.8 36.7h1.0v1.0h-1.0zM123.2 46.6h1.0v1.0h-1.0zM138.4 41.8h1.0v1.0h-1.0zM132.1 34.9h1.0v1.0h-1.0zM131.8 38.9h1.0v1.0h-1.0zM132.7 36.8h1.0v1.0h-1.0zM132.9 42.6h1.0v1.0h-1.0zM136.0 41.6h1.0v1.0h-1.0zM127.6 47.3h1.0v1.0h-1.0zM129.3 44.9h1.0v1.0h-1.0zM135.5 32.4h1.0v1.0h-1.0zM134.7 43.2h1.0v1.0h-1.0zM132.1 45.9h1.0v1.0h-1.0zM131.1 43.5h1.0v1.0h-1.0zM129.8 46.7h1.0v1.0h-1.0zM133.7 38.0h1.0v1.0h-1.0zM139.9 35.8h1.0v1.0h-1.0zM128.7 46.1h1.0v1.0h-1.0zM141.6 35.1h1.0v1.0h-1.0zM138.2 29.1h1.0v1.0h-1.0zM131.7 46.6h1.0v1.0h-1.0zM137.9 37.0h1.0v1.0h-1.0zM126.7 39.3h1.0v1.0h-1.0zM125.3 33.3h1.0v1.0h-1.0zM127.6 33.7h1.0v1.0h-1.0zM132.0 34.6h1.0v1.0h-1.0zM132.4 39.0h1.0v1.0h-1.0zM131.4 43.0h1.0v1.0h-1.0zM134.5 28.4h1.0v1.0h-1.0zM123.3 45.1h1.0v1.0h-1.0zM136.5 34.5h1.0v1.0h-1.0zM126.9 35.1h1.0v1.0h-1.0zM158.9 52.0h1.0v1.0h-1.0zM157.5 45.2h1.0v1.0h-1.0zM146.0 47.9h1.0v1.0h-1.0zM166.9 52.0h1.0v1.0h-1.0zM150.8 47.6h1.0v1.0h-1.0zM158.5 47.4h1.0v1.0h-1.0zM158.5 46.8h1.0v1.0h-1.0zM161.0 57.3h1.0v1.0h-1.0zM155.1 44.7h1.0v1.0h-1.0zM164.5 46.0h1.0v1.0h-1.0zM154.3 42.7h1.0v1.0h-1.0zM163.4 49.3h1.0v1.0h-1.0zM149.4 51.4h1.0v1.0h-1.0zM154.7 46.6h1.0v1.0h-1.0zM165.4 55.3h1.0v1.0h-1.0zM160.3 44.8h1.0v1.0h-1.0zM157.0 48.4h1.0v1.0h-1.0zM167.7 55.5h1.0v1.0h-1.0zM155.9 53.6h1.0v1.0h-1.0zM153.9 42.5h1.0v1.0h-1.0zM159.9 51.0h1.0v1.0h-1.0zM150.3 44.5h1.0v1.0h-1.0zM164.7 47.1h1.0v1.0h-1.0zM163.4 50.4h1.0v1.0h-1.0zM154.4 44.5h1.0v1.0h-1.0zM157.6 38.1h1.0v1.0h-1.0zM156.9 49.3h1.0v1.0h-1.0zM156.2 48.7h1.0v1.0h-1.0zM152.6 42.8h1.0v1.0h-1.0zM162.2 44.5h1.0v1.0h-1.0zM143.8 45.7h1.0v1.0h-1.0zM154.3 46.6h1.0v1.0h-1.0zM153.2 49.0h1.0v1.0h-1.0zM153.2 50.5h1.0v1.0h-1.0zM159.5 46.3h1.0v1.0h-1.0zM149.2 46.0h1.0v1.0h-1.0zM160.5 48.0h1.0v1.0h-1.0zM156.2 46.3h1.0v1.0h-1.0zM153.7 44.9h1.0v1.0h-1.0zM149.8 43.1h1.0v1.0h-1.0zM148.9 47.0h1.0v1.0h-1.0zM158.7 48.4h1.0v1.0h-1.0zM152.2 43.8h1.0v1.0h-1.0zM157.8 46.3h1.0v1.0h-1.0zM162.0 51.1h1.0v1.0h-1.0zM163.9 47.2h1.0v1.0h-1.0zM166.1 49.9h1.0v1.0h-1.0zM155.5 46.0h1.0v1.0h-1.0zM152.2 42.1h1.0v1.0h-1.0zM162.6 49.6h1.0v1.0h-1.0zM159.7 46.0h1.0v1.0h-1.0zM159.6 56.4h1.0v1.0h-1.0zM154.8 51.1h1.0v1.0h-1.0zM162.5 51.8h1.0v1.0h-1.0zM161.5 49.3h1.0v1.0h-1.0zM157.1 55.8h1.0v1.0h-1.0zM159.1 49.4h1.0v1.0h-1.0zM159.2 47.9h1.0v1.0h-1.0zM157.7 48.6h1.0v1.0h-1.0zM157.7 48.6h1.0v1.0h-1.0zM162.3 42.4h1.0v1.0h-1.0zM146.1 35.9h1.0v1.0h-1.0zM140.2 51.0h1.0v1.0h-1.0zM143.6 31.7h1.0v1.0h-1.0zM131.8 28.4h1.0v1.0h-1.0zM145.8 57.9h1.0v1.0h-1.0zM134.2 37.4h1.0v1.0h-1.0zM131.1 43.3h1.0v1.0h-1.0zM140.7 34.3h1.0v1.0h-1.0zM126.8 34.3h1.0v1.0h-1.0zM144.7 40.1h1.0v1.0h-1.0zM154.6 51.7h1.0v1.0h-1.0zM152.7 29.2h1.0v1.0h-1.0zM166.9 53.1h1.0v1.0h-1.0zM163.0 57.7h1.0v1.0h-1.0zM151.9 44.8h1.0v1.0h-1.0zM163.5 38.8h1.0v1.0h-1.0zM143.6 35.0h1.0v1.0h-1.0zM159.2 33.5h1.0v1.0h-1.0zM136.5 37.7h1.0v1.0h-1.0zM147.2 53.5h1.0v1.0h-1.0zM167.1 28.1h1.0v1.0h-1.0zM150.3 51.6h1.0v1.0h-1.0zM146.3 48.0h1.0v1.0h-1.0zM158.6 28.6h1.0v1.0h-1.0zM137.7 30.1h1.0v1.0h-1.0zM160.6 50.1h1.0v1.0h-1.0zM124.8 48.2h1.0v1.0h-1.0zM134.5 37.4h1.0v1.0h-1.0zM131.8 53.8h1.0v1.0h-1.0zM135.3 34.3h1.0v1.0h-1.0zM165.6 40.8h1.0v1.0h-1.0zM125.1 31.5h1.0v1.0h-1.0zM137.1 47.4h1.0v1.0h-1.0zM149.3 30.6h1.0v1.0h-1.0zM154.9 33.4h1.0v1.0h-1.0zM158.0 51.0h1.0v1.0h-1.0zM140.9 43.0h1.0v1.0h-1.0zM133.7 47.9h1.0v1.0h-1.0zM161.5 50.0h1.0v1.0h-1.0zM129.4 46.2h1.0v1.0h-1.0zM126.9 33.9h1.0v1.0h-1.0zM134.2 49.0h1.0v1.0h-1.0zM145.7 31.5h1.0v1.0h-1.0zM165.5 36.1h1.0v1.0h-1.0zM156.1 41.4h1.0v1.0h-1.0zM148.8 31.4h1.0v1.0h-1.0zM146.9 31.2h1.0v1.0h-1.0zM154.5 47.6h1.0v1.0h-1.0zM151.6 50.3h1.0v1.0h-1.0zM138.8 39.1h1.0v1.0h-1.0zM128.1 39.7h1.0v1.0h-1.0zM132.8 34.2h1.0v1.0h-1.0zM158.4 43.6h1.0v1.0h-1.0zM151.9 45.4h1.0v1.0h-1.0zM159.1 56.0h1.0v1.0h-1.0zM126.0 29.2h1.0v1.0h-1.0zM163.6 55.3h1.0v1.0h-1.0zM140.8 57.7h1.0v1.0h-1.0zM164.8 38.4h1.0v1.0h-1.0zM150.2 49.8h1.0v1.0h-1.0zM148.1 52.7h1.0v1.0h-1.0zM160.0 47.5h1.0v1.0h-1.0zM151.5 36.7h1.0v1.0h-1.0zM153.7 46.7h1.0v1.0h-1.0zM130.9 54.3h1.0v1.0h-1.0zM150.6 31.2h1.0v1.0h-1.0zM139.7 42.4h1.0v1.0h-1.0zM127.3 28.7h1.0v1.0h-1.0zM129.9 53.3h1.0v1.0h-1.0zM163.4 28.3h1.0v1.0h-1.0zM141.4 24.6h1.0v1.0h-1.0zM162.4 21.0h1.0v1.0h-1.0zM160.7 18.7h1.0v1.0h-1.0zM143.8 30.1h1.0v1.0h-1.0zM155.8 20.3h1.0v1.0h-1.0zM160.7 27.0h1.0v1.0h-1.0zM150.1 18.8h1.0v1.0h-1.0zM155.1 31.6h1.0v1.0h-1.0zM169.3 21.7h1.0v1.0h-1.0zM159.1 24.4h1.0v1.0h-1.0zM155.1 36.1h1.0v1.0h-1.0zM142.0 30.7h1.0v1.0h-1.0zM143.6 31.1h1.0v1.0h-1.0zM165.5 20.8h1.0v1.0h-1.0zM162.3 33.8h1.0v1.0h-1.0zM165.1 22.0h1.0v1.0h-1.0zM157.3 37.7h1.0v1.0h-1.0zM157.3 35.3h1.0v1.0h-1.0zM155.9 29.1h1.0v1.0h-1.0zM162.1 33.6h1.0v1.0h-1.0zM149.9 26.1h1.0v1.0h-1.0zM154.9 31.1h1.0v1.0h-1.0zM154.1 15.2h1.0v1.0h-1.0zM159.8 37.7h1.0v1.0h-1.0zM146.5 32.8h1.0v1.0h-1.0zM140.8 15.7h1.0v1.0h-1.0zM142.7 18.3h1.0v1.0h-1.0zM145.4 26.9h1.0v1.0h-1.0zM165.7 31.8h1.0v1.0h-1.0zM161.5 15.9h1.0v1.0h-1.0zM162.5 37.0h1.0v1.0h-1.0zM153.3 21.0h1.0v1.0h-1.0zM143.1 37.9h1.0v1.0h-1.0zM154.0 31.6h1.0v1.0h-1.0zM165.9 24.6h1.0v1.0h-1.0zM155.3 21.4h1.0v1.0h-1.0zM159.0 14.5h1.0v1.0h-1.0zM151.2 14.3h1.0v1.0h-1.0zM144.5 28.4h1.0v1.0h-1.0zM135.9 57.8h1.0v1.0h-1.0zM139.7 57.1h1.0v1.0h-1.0zM141.5 57.9h1.0v1.0h-1.0zM145.5 56.1h1.0v1.0h-1.0zM131.4 56.9h1.0v1.0h-1.0zM147.2 55.7h1.0v1.0h-1.0zM131.7 55.7h1.0v1.0h-1.0zM139.2 56.6h1.0v1.0h-1.0zM144.7 56.6h1.0v1.0h-1.0zM141.9 54.8h1.0v1.0h-1.0zM131.7 59.5h1.0v1.0h-1.0zM133.1 56.6h1.0v1.0h-1.0zM134.6 54.4h1.0v1.0h-1.0zM137.2 58.7h1.0v1.0h-1.0zM144.6 55.5h1.0v1.0h-1.0zM129.5 57.7h1.0v1.0h-1.0zM140.4 56.8h1.0v1.0h-1.0zM141.3 57.2h1.0v1.0h-1.0zM141.0 57.1h1.0v1.0h-1.0zM140.4 55.8h1.0v1.0h-1.0zM146.9 56.9h1.0v1.0h-1.0zM140.5 60.3h1.0v1.0h-1.0zM142.8 53.0h1.0v1.0h-1.0zM141.0 56.9h1.0v1.0h-1.0zM148.6 57.5h1.0v1.0h-1.0zM125.7 55.0h1.0v1.0h-1.0zM145.4 54.5h1.0v1.0h-1.0zM135.9 60.5h1.0v1.0h-1.0zM135.8 56.2h1.0v1.0h-1.0zM131.5 60.3h1.0v1.0h-1.0zM125.9 57.7h1.0v1.0h-1.0zM135.1 56.9h1.0v1.0h-1.0zM133.2 57.6h1.0v1.0h-1.0zM140.6 57.9h1.0v1.0h-1.0zM128.4 58.8h1.0v1.0h-1.0zM146.4 57.5h1.0v1.0h-1.0zM139.2 57.0h1.0v1.0h-1.0zM136.0 57.1h1.0v1.0h-1.0zM133.1 59.1h1.0v1.0h-1.0zM132.6 58.2h1.0v1.0h-1.0zM130.5 55.1h1.0v1.0h-1.0zM134.1 55.7h1.0v1.0h-1.0zM137.5 57.4h1.0v1.0h-1.0zM136.4 55.7h1.0v1.0h-1.0zM128.7 56.2h1.0v1.0h-1.0zM135.9 55.2h1.0v1.0h-1.0zM132.0 56.4h1.0v1.0h-1.0zM138.5 57.5h1.0v1.0h-1.0zM149.1 58.5h1.0v1.0h-1.0zM141.4 56.8h1.0v1.0h-1.0zM135.6 60.3h1.0v1.0h-1.0zM127.4 56.7h1.0v1.0h-1.0zM127.0 58.5h1.0v1.0h-1.0zM142.0 57.6h1.0v1.0h-1.0zM132.8 56.0h1.0v1.0h-1.0zM137.9 52.0h1.0v1.0h-1.0zM133.6 56.5h1.0v1.0h-1.0zM138.1 57.1h1.0v1.0h-1.0zM146.2 60.1h1.0v1.0h-1.0zM133.3 54.5h1.0v1.0h-1.0zM135.4 60.0h1.0v1.0h-1.0zM132.5 56.4h1.0v1.0h-1.0zM142.9 58.0h1.0v1.0h-1.0zM131.1 52.5h1.0v1.0h-1.0zM130.5 57.0h1.0v1.0h-1.0zM128.9 56.2h1.0v1.0h-1.0zM128.8 58.0h1.0v1.0h-1.0zM140.4 57.0h1.0v1.0h-1.0zM153.4 54.9h1.0v1.0h-1.0zM131.3 58.4h1.0v1.0h-1.0zM143.4 58.0h1.0v1.0h-1.0zM139.1 57.8h1.0v1.0h-1.0zM130.7 58.5h1.0v1.0h-1.0zM135.8 58.7h1.0v1.0h-1.0zM136.1 56.8h1.0v1.0h-1.0zM133.2 54.5h1.0v1.0h-1.0zM149.5 54.4h1.0v1.0h-1.0zM125.7 59.1h1.0v1.0h-1.0zM139.9 58.0h1.0v1.0h-1.0zM139.6 57.0h1.0v1.0h-1.0zM133.9 56.1h1.0v1.0h-1.0zM138.4 56.9h1.0v1.0h-1.0zM142.9 56.8h1.0v1.0h-1.0zM138.4 56.2h1.0v1.0h-1.0zM140.1 55.6h1.0v1.0h-1.0zM141.8 60.5h1.0v1.0h-1.0zM124.9 57.2h1.0v1.0h-1.0zM146.7 55.8h1.0v1.0h-1.0zM151.6 54.6h1.0v1.0h-1.0zM143.6 55.6h1.0v1.0h-1.0zM143.8 58.0h1.0v1.0h-1.0zM128.8 58.1h1.0v1.0h-1.0zM136.8 56.4h1.0v1.0h-1.0zM132.5 56.9h1.0v1.0h-1.0zM133.9 56.3h1.0v1.0h-1.0zM143.5 54.9h1.0v1.0h-1.0zM132.5 59.0h1.0v1.0h-1.0zM136.7 57.4h1.0v1.0h-1.0zM125.7 61.0h1.0v1.0h-1.0zM136.5 55.5h1.0v1.0h-1.0zM138.1 56.6h1.0v1.0h-1.0zM133.1 58.3h1.0v1.0h-1.0zM133.0 56.4h1.0v1.0h-1.0zM149.2 54.4h1.0v1.0h-1.0zM130.0 55.2h1.0v1.0h-1.0zM131.0 57.0h1.0v1.0h-1.0zM132.5 57.4h1.0v1.0h-1.0zM144.9 56.6h1.0v1.0h-1.0zM150.5 58.5h1.0v1.0h-1.0zM139.6 58.5h1.0v1.0h-1.0zM133.1 57.3h1.0v1.0h-1.0zM134.8 56.8h1.0v1.0h-1.0zM144.1 56.4h1.0v1.0h-1.0zM131.9 57.7h1.0v1.0h-1.0zM146.5 58.4h1.0v1.0h-1.0zM146.3 56.9h1.0v1.0h-1.0zM137.9 57.6h1.0v1.0h-1.0zM141.5 56.2h1.0v1.0h-1.0zM142.1 54.4h1.0v1.0h-1.0zM147.1 55.1h1.0v1.0h-1.0zM131.0 58.1h1.0v1.0h-1.0zM144.8 57.6h1.0v1.0h-1.0zM135.2 59.5h1.0v1.0h-1.0zM132.7 56.9h1.0v1.0h-1.0zM138.1 58.3h1.0v1.0h-1.0zM136.2 59.0h1.0v1.0h-1.0zM131.4 58.5h1.0v1.0h-1.0zM127.6 55.8h1.0v1.0h-1.0zM131.7 56.5h1.0v1.0h-1.0zM146.5 57.0h1.0v1.0h-1.0zM149.7 55.1h1.0v1.0h-1.0zM141.5 57.6h1.0v1.0h-1.0zM144.9 58.5h1.0v1.0h-1.0zM134.3 56.0h1.0v1.0h-1.0zM137.0 60.2h1.0v1.0h-1.0zM139.3 56.3h1.0v1.0h-1.0zM130.8 56.5h1.0v1.0h-1.0zM131.4 56.4h1.0v1.0h-1.0zM138.1 55.6h1.0v1.0h-1.0zM135.5 57.5h1.0v1.0h-1.0zM130.9 56.8h1.0v1.0h-1.0zM139.9 59.6h1.0v1.0h-1.0zM135.9 57.8h1.0v1.0h-1.0zM143.8 57.7h1.0v1.0h-1.0zM137.5 56.4h1.0v1.0h-1.0zM135.6 54.4h1.0v1.0h-1.0zM138.3 56.6h1.0v1.0h-1.0zM136.4 55.4h1.0v1.0h-1.0zM133.4 58.4h1.0v1.0h-1.0zM135.0 56.7h1.0v1.0h-1.0zM142.1 59.6h1.0v1.0h-1.0zM141.5 58.1h1.0v1.0h-1.0zM145.5 58.2h1.0v1.0h-1.0zM127.0 57.2h1.0v1.0h-1.0zM135.1 57.2h1.0v1.0h-1.0zM134.9 57.9h1.0v1.0h-1.0zM138.6 58.4h1.0v1.0h-1.0zM134.7 55.6h1.0v1.0h-1.0zM134.3 57.6h1.0v1.0h-1.0zM142.4 61.3h1.0v1.0h-1.0zM138.6 56.6h1.0v1.0h-1.0zM130.3 56.4h1.0v1.0h-1.0zM145.8 55.6h1.0v1.0h-1.0zM143.7 54.3h1.0v1.0h-1.0zM133.9 58.8h1.0v1.0h-1.0zM142.7 56.9h1.0v1.0h-1.0zM132.9 57.3h1.0v1.0h-1.0zM144.5 59.9h1.0v1.0h-1.0zM136.1 61.1h1.0v1.0h-1.0zM132.5 55.3h1.0v1.0h-1.0zM135.2 58.6h1.0v1.0h-1.0zM132.8 57.9h1.0v1.0h-1.0zM138.7 57.5h1.0v1.0h-1.0zM138.6 57.6h1.0v1.0h-1.0zM137.7 56.8h1.0v1.0h-1.0zM134.0 59.5h1.0v1.0h-1.0zM138.1 57.4h1.0v1.0h-1.0zM125.7 58.9h1.0v1.0h-1.0zM139.0 58.3h1.0v1.0h-1.0zM144.5 57.6h1.0v1.0h-1.0zM139.2 57.4h1.0v1.0h-1.0zM135.1 59.8h1.0v1.0h-1.0zM136.4 57.7h1.0v1.0h-1.0zM136.7 56.7h1.0v1.0h-1.0zM134.1 55.3h1.0v1.0h-1.0zM133.9 56.2h1.0v1.0h-1.0zM131.8 55.0h1.0v1.0h-1.0zM144.9 57.0h1.0v1.0h-1.0zM137.4 57.2h1.0v1.0h-1.0zM143.4 53.3h1.0v1.0h-1.0zM135.9 56.8h1.0v1.0h-1.0zM137.9 57.9h1.0v1.0h-1.0zM136.4 57.1h1.0v1.0h-1.0zM140.4 55.2h1.0v1.0h-1.0zM142.6 59.0h1.0v1.0h-1.0zM139.0 55.6h1.0v1.0h-1.0zM133.3 54.7h1.0v1.0h-1.0zM132.7 55.0h1.0v1.0h-1.0zM147.8 56.8h1.0v1.0h-1.0zM135.8 58.5h1.0v1.0h-1.0zM135.7 58.8h1.0v1.0h-1.0zM146.6 57.2h1.0v1.0h-1.0zM144.2 54.8h1.0v1.0h-1.0zM140.8 55.7h1.0v1.0h-1.0zM135.0 55.3h1.0v1.0h-1.0zM152.1 56.5h1.0v1.0h-1.0zM139.9 53.8h1.0v1.0h-1.0zM140.9 57.0h1.0v1.0h-1.0zM136.4 57.9h1.0v1.0h-1.0zM128.7 56.5h1.0v1.0h-1.0zM129.2 57.6h1.0v1.0h-1.0zM140.0 55.2h1.0v1.0h-1.0zM139.9 54.3h1.0v1.0h-1.0zM136.0 55.7h1.0v1.0h-1.0zM130.2 58.8h1.0v1.0h-1.0zM128.6 58.6h1.0v1.0h-1.0zM135.5 56.0h1.0v1.0h-1.0zM128.5 58.8h1.0v1.0h-1.0zM143.1 56.2h1.0v1.0h-1.0zM144.6 59.4h1.0v1.0h-1.0zM155.0 57.6h1.0v1.0h-1.0zM142.9 56.0h1.0v1.0h-1.0zM133.8 58.2h1.0v1.0h-1.0zM132.1 55.5h1.0v1.0h-1.0zM133.8 54.3h1.0v1.0h-1.0zM136.4 57.2h1.0v1.0h-1.0zM143.5 56.7h1.0v1.0h-1.0zM141.3 56.7h1.0v1.0h-1.0zM141.1 56.1h1.0v1.0h-1.0zM138.8 59.2h1.0v1.0h-1.0zM141.6 56.1h1.0v1.0h-1.0zM146.5 55.6h1.0v1.0h-1.0zM130.9 58.9h1.0v1.0h-1.0zM134.7 59.2h1.0v1.0h-1.0zM128.9 57.4h1.0v1.0h-1.0zM147.5 53.8h1.0v1.0h-1.0zM145.5 55.8h1.0v1.0h-1.0zM142.2 57.8h1.0v1.0h-1.0zM130.1 56.8h1.0v1.0h-1.0zM138.6 59.4h1.0v1.0h-1.0zM136.0 54.5h1.0v1.0h-1.0zM138.0 58.0h1.0v1.0h-1.0zM136.3 55.7h1.0v1.0h-1.0zM140.7 59.0h1.0v1.0h-1.0zM135.1 56.7h1.0v1.0h-1.0zM142.8 58.6h1.0v1.0h-1.0zM139.0 55.7h1.0v1.0h-1.0zM135.7 54.4h1.0v1.0h-1.0zM136.8 54.9h1.0v1.0h-1.0zM134.8 55.8h1.0v1.0h-1.0zM142.5 55.1h1.0v1.0h-1.0zM135.8 58.8h1.0v1.0h-1.0zM139.3 59.1h1.0v1.0h-1.0zM135.1 57.3h1.0v1.0h-1.0zM128.3 55.0h1.0v1.0h-1.0zM143.1 56.6h1.0v1.0h-1.0zM130.9 55.6h1.0v1.0h-1.0zM141.7 59.3h1.0v1.0h-1.0zM140.1 57.3h1.0v1.0h-1.0zM127.2 57.6h1.0v1.0h-1.0zM131.6 56.1h1.0v1.0h-1.0zM134.3 53.4h1.0v1.0h-1.0zM132.4 55.5h1.0v1.0h-1.0zM130.2 54.9h1.0v1.0h-1.0zM142.1 57.4h1.0v1.0h-1.0zM136.0 57.0h1.0v1.0h-1.0zM139.9 55.4h1.0v1.0h-1.0zM134.8 56.1h1.0v1.0h-1.0zM139.4 59.5h1.0v1.0h-1.0zM132.8 55.2h1.0v1.0h-1.0zM137.3 55.2h1.0v1.0h-1.0zM141.1 56.4h1.0v1.0h-1.0zM137.8 55.6h1.0v1.0h-1.0zM134.7 56.1h1.0v1.0h-1.0zM130.8 57.7h1.0v1.0h-1.0zM138.5 59.7h1.0v1.0h-1.0zM139.6 53.8h1.0v1.0h-1.0zM135.9 56.8h1.0v1.0h-1.0zM132.7 56.9h1.0v1.0h-1.0zM140.9 56.7h1.0v1.0h-1.0zM152.9 56.5h1.0v1.0h-1.0zM135.6 56.2h1.0v1.0h-1.0zM139.6 58.5h1.0v1.0h-1.0zM139.8 56.0h1.0v1.0h-1.0zM121.6 56.6h1.0v1.0h-1.0zM138.3 56.8h1.0v1.0h-1.0zM133.1 57.0h1.0v1.0h-1.0zM146.1 56.5h1.0v1.0h-1.0zM135.9 58.5h1.0v1.0h-1.0zM132.7 56.8h1.0v1.0h-1.0zM136.1 57.1h1.0v1.0h-1.0zM138.5 56.7h1.0v1.0h-1.0zM134.0 55.1h1.0v1.0h-1.0zM137.2 55.4h1.0v1.0h-1.0zM129.1 55.0h1.0v1.0h-1.0zM136.1 57.1h1.0v1.0h-1.0zM142.3 55.6h1.0v1.0h-1.0zM149.7 55.0h1.0v1.0h-1.0zM141.9 57.2h1.0v1.0h-1.0zM139.2 57.7h1.0v1.0h-1.0zM144.8 53.8h1.0v1.0h-1.0zM143.8 59.7h1.0v1.0h-1.0zM147.8 56.9h1.0v1.0h-1.0zM144.2 56.6h1.0v1.0h-1.0zM136.8 58.6h1.0v1.0h-1.0zM139.1 56.9h1.0v1.0h-1.0zM138.6 55.8h1.0v1.0h-1.0zM139.4 60.5h1.0v1.0h-1.0zM138.7 55.0h1.0v1.0h-1.0zM132.6 56.6h1.0v1.0h-1.0zM124.5 58.2h1.0v1.0h-1.0zM133.3 55.0h1.0v1.0h-1.0zM124.9 56.6h1.0v1.0h-1.0zM137.9 57.5h1.0v1.0h-1.0zM137.5 60.9h1.0v1.0h-1.0zM127.1 55.3h1.0v1.0h-1.0zM141.8 56.7h1.0v1.0h-1.0zM142.9 57.9h1.0v1.0h-1.0zM138.1 56.9h1.0v1.0h-1.0zM147.8 54.8h1.0v1.0h-1.0zM149.1 57.5h1.0v1.0h-1.0zM130.0 57.0h1.0v1.0h-1.0zM143.9 57.6h1.0v1.0h-1.0zM140.2 58.7h1.0v1.0h-1.0zM140.1 58.5h1.0v1.0h-1.0zM143.3 57.5h1.0v1.0h-1.0zM133.0 57.3h1.0v1.0h-1.0zM133.8 54.9h1.0v1.0h-1.0zM132.4 56.6h1.0v1.0h-1.0zM132.8 57.2h1.0v1.0h-1.0zM136.9 56.1h1.0v1.0h-1.0zM128.5 57.0h1.0v1.0h-1.0zM131.0 55.4h1.0v1.0h-1.0zM141.1 59.4h1.0v1.0h-1.0zM137.1 60.5h1.0v1.0h-1.0zM139.9 56.1h1.0v1.0h-1.0zM125.8 57.5h1.0v1.0h-1.0zM132.6 56.4h1.0v1.0h-1.0zM134.1 58.9h1.0v1.0h-1.0zM137.7 57.5h1.0v1.0h-1.0zM133.9 56.9h1.0v1.0h-1.0zM143.3 56.4h1.0v1.0h-1.0zM137.1 57.0h1.0v1.0h-1.0zM137.6 55.1h1.0v1.0h-1.0zM137.6 57.9h1.0v1.0h-1.0zM141.9 55.6h1.0v1.0h-1.0zM134.6 57.7h1.0v1.0h-1.0zM144.5 57.0h1.0v1.0h-1.0zM140.4 58.7h1.0v1.0h-1.0zM138.5 56.8h1.0v1.0h-1.0zM137.8 58.5h1.0v1.0h-1.0zM140.7 55.2h1.0v1.0h-1.0zM143.8 57.8h1.0v1.0h-1.0zM143.4 56.4h1.0v1.0h-1.0zM139.8 57.1h1.0v1.0h-1.0zM142.9 56.9h1.0v1.0h-1.0zM138.2 58.4h1.0v1.0h-1.0zM145.3 53.4h1.0v1.0h-1.0zM137.3 57.3h1.0v1.0h-1.0zM124.6 54.3h1.0v1.0h-1.0zM145.8 58.9h1.0v1.0h-1.0zM138.2 53.4h1.0v1.0h-1.0zM130.2 55.1h1.0v1.0h-1.0zM136.3 54.0h1.0v1.0h-1.0zM132.0 59.6h1.0v1.0h-1.0zM150.5 54.6h1.0v1.0h-1.0zM140.6 57.0h1.0v1.0h-1.0zM127.8 55.9h1.0v1.0h-1.0zM140.9 53.7h1.0v1.0h-1.0zM135.0 56.2h1.0v1.0h-1.0zM149.4 57.9h1.0v1.0h-1.0zM131.0 56.5h1.0v1.0h-1.0zM123.6 58.4h1.0v1.0h-1.0zM137.9 56.2h1.0v1.0h-1.0zM135.3 56.8h1.0v1.0h-1.0zM134.9 56.1h1.0v1.0h-1.0zM124.2 57.4h1.0v1.0h-1.0zM140.1 60.0h1.0v1.0h-1.0zM147.9 57.4h1.0v1.0h-1.0zM125.7 57.1h1.0v1.0h-1.0zM144.8 55.7h1.0v1.0h-1.0zM134.0 55.5h1.0v1.0h-1.0zM152.1 59.3h1.0v1.0h-1.0zM140.2 54.9h1.0v1.0h-1.0zM136.3 55.2h1.0v1.0h-1.0zM144.4 56.6h1.0v1.0h-1.0zM140.8 56.1h1.0v1.0h-1.0zM133.8 60.1h1.0v1.0h-1.0zM141.9 52.8h1.0v1.0h-1.0zM134.3 57.4h1.0v1.0h-1.0zM126.4 58.0h1.0v1.0h-1.0zM150.1 54.9h1.0v1.0h-1.0zM135.3 55.7h1.0v1.0h-1.0zM133.7 57.5h1.0v1.0h-1.0zM139.6 59.6h1.0v1.0h-1.0zM127.8 55.2h1.0v1.0h-1.0zM129.1 54.1h1.0v1.0h-1.0zM134.4 58.5h1.0v1.0h-1.0zM134.3 59.4h1.0v1.0h-1.0zM137.9 56.2h1.0v1.0h-1.0zM144.5 53.0h1.0v1.0h-1.0zM134.6 59.3h1.0v1.0h-1.0zM140.6 56.5h1.0v1.0h-1.0zM141.2 58.7h1.0v1.0h-1.0zM130.8 56.7h1.0v1.0h-1.0zM138.9 56.2h1.0v1.0h-1.0zM131.7 56.0h1.0v1.0h-1.0zM144.1 59.3h1.0v1.0h-1.0zM140.3 59.2h1.0v1.0h-1.0zM137.6 53.2h1.0v1.0h-1.0zM129.2 55.2h1.0v1.0h-1.0zM138.2 59.8h1.0v1.0h-1.0zM132.7 56.2h1.0v1.0h-1.0zM141.9 54.5h1.0v1.0h-1.0zM136.8 56.8h1.0v1.0h-1.0zM132.5 56.6h1.0v1.0h-1.0zM143.2 56.6h1.0v1.0h-1.0zM142.0 56.0h1.0v1.0h-1.0zM133.8 56.3h1.0v1.0h-1.0zM144.7 56.0h1.0v1.0h-1.0zM135.6 57.4h1.0v1.0h-1.0zM135.6 55.4h1.0v1.0h-1.0zM138.3 56.3h1.0v1.0h-1.0zM132.8 56.6h1.0v1.0h-1.0zM134.8 59.0h1.0v1.0h-1.0zM136.5 57.4h1.0v1.0h-1.0zM147.0 56.6h1.0v1.0h-1.0zM146.8 57.7h1.0v1.0h-1.0zM135.9 57.5h1.0v1.0h-1.0zM147.5 58.6h1.0v1.0h-1.0zM137.2 57.7h1.0v1.0h-1.0zM139.9 59.8h1.0v1.0h-1.0zM143.0 59.1h1.0v1.0h-1.0zM139.3 56.7h1.0v1.0h-1.0zM152.5 56.1h1.0v1.0h-1.0zM139.0 58.3h1.0v1.0h-1.0zM130.1 57.7h1.0v1.0h-1.0zM145.6 56.6h1.0v1.0h-1.0zM134.9 54.3h1.0v1.0h-1.0zM135.6 53.7h1.0v1.0h-1.0zM143.7 58.1h1.0v1.0h-1.0zM142.6 58.2h1.0v1.0h-1.0zM142.5 54.6h1.0v1.0h-1.0zM143.6 58.6h1.0v1.0h-1.0zM148.0 55.9h1.0v1.0h-1.0zM137.2 57.5h1.0v1.0h-1.0zM143.3 57.5h1.0v1.0h-1.0zM132.9 55.4h1.0v1.0h-1.0zM135.3 55.8h1.0v1.0h-1.0zM144.1 53.3h1.0v1.0h-1.0zM139.9 55.2h1.0v1.0h-1.0zM129.2 53.7h1.0v1.0h-1.0zM139.7 57.5h1.0v1.0h-1.0zM136.4 56.9h1.0v1.0h-1.0zM132.4 58.4h1.0v1.0h-1.0zM140.2 57.4h1.0v1.0h-1.0zM135.0 55.7h1.0v1.0h-1.0zM127.8 57.4h1.0v1.0h-1.0zM130.6 56.1h1.0v1.0h-1.0zM148.5 57.8h1.0v1.0h-1.0zM128.1 57.3h1.0v1.0h-1.0zM138.9 55.1h1.0v1.0h-1.0zM141.3 56.8h1.0v1.0h-1.0zM141.5 56.9h1.0v1.0h-1.0zM129.9 56.3h1.0v1.0h-1.0zM135.5 58.3h1.0v1.0h-1.0zM138.4 59.7h1.0v1.0h-1.0zM142.5 56.2h1.0v1.0h-1.0zM133.5 56.2h1.0v1.0h-1.0zM130.3 53.0h1.0v1.0h-1.0zM143.7 56.6h1.0v1.0h-1.0zM144.4 56.1h1.0v1.0h-1.0zM139.8 53.1h1.0v1.0h-1.0zM133.7 57.3h1.0v1.0h-1.0zM140.0 57.8h1.0v1.0h-1.0zM138.2 55.6h1.0v1.0h-1.0zM142.7 56.2h1.0v1.0h-1.0zM129.8 55.2h1.0v1.0h-1.0zM138.2 58.1h1.0v1.0h-1.0zM136.5 54.2h1.0v1.0h-1.0zM130.6 56.3h1.0v1.0h-1.0zM138.8 60.1h1.0v1.0h-1.0zM137.7 56.9h1.0v1.0h-1.0zM135.0 57.6h1.0v1.0h-1.0zM140.0 56.6h1.0v1.0h-1.0zM128.7 54.8h1.0v1.0h-1.0zM137.2 56.7h1.0v1.0h-1.0zM140.2 57.5h1.0v1.0h-1.0zM139.3 55.1h1.0v1.0h-1.0zM144.2 57.4h1.0v1.0h-1.0zM130.1 58.9h1.0v1.0h-1.0zM128.2 58.6h1.0v1.0h-1.0zM139.0 54.1h1.0v1.0h-1.0zM140.3 55.1h1.0v1.0h-1.0zM150.6 54.1h1.0v1.0h-1.0zM141.3 58.6h1.0v1.0h-1.0zM132.1 57.8h1.0v1.0h-1.0zM142.5 58.0h1.0v1.0h-1.0zM132.3 55.3h1.0v1.0h-1.0zM128.3 54.8h1.0v1.0h-1.0zM153.7 56.9h1.0v1.0h-1.0zM139.5 57.0h1.0v1.0h-1.0zM141.9 55.3h1.0v1.0h-1.0zM141.0 57.0h1.0v1.0h-1.0zM148.7 57.9h1.0v1.0h-1.0zM139.3 57.2h1.0v1.0h-1.0zM145.0 55.0h1.0v1.0h-1.0zM131.1 53.2h1.0v1.0h-1.0zM128.9 56.4h1.0v1.0h-1.0zM146.3 57.1h1.0v1.0h-1.0zM146.6 56.4h1.0v1.0h-1.0zM140.7 56.1h1.0v1.0h-1.0zM138.9 55.6h1.0v1.0h-1.0zM138.5 58.0h1.0v1.0h-1.0zM133.2 56.7h1.0v1.0h-1.0zM147.0 57.0h1.0v1.0h-1.0zM141.6 55.1h1.0v1.0h-1.0zM140.6 55.7h1.0v1.0h-1.0zM139.8 57.1h1.0v1.0h-1.0zM144.0 55.1h1.0v1.0h-1.0zM140.6 54.7h1.0v1.0h-1.0zM142.1 56.2h1.0v1.0h-1.0zM130.3 58.8h1.0v1.0h-1.0zM140.7 57.1h1.0v1.0h-1.0zM151.1 59.3h1.0v1.0h-1.0zM134.3 56.6h1.0v1.0h-1.0zM136.7 56.3h1.0v1.0h-1.0zM143.0 54.4h1.0v1.0h-1.0zM143.4 55.8h1.0v1.0h-1.0zM141.4 59.2h1.0v1.0h-1.0zM127.5 57.4h1.0v1.0h-1.0zM140.6 58.0h1.0v1.0h-1.0zM130.2 58.0h1.0v1.0h-1.0zM132.4 56.8h1.0v1.0h-1.0zM140.9 56.5h1.0v1.0h-1.0zM135.7 57.0h1.0v1.0h-1.0zM142.5 57.9h1.0v1.0h-1.0zM157.0 57.6h1.0v1.0h-1.0zM142.3 57.6h1.0v1.0h-1.0zM142.0 57.1h1.0v1.0h-1.0zM131.9 55.5h1.0v1.0h-1.0zM133.5 56.4h1.0v1.0h-1.0zM130.9 55.2h1.0v1.0h-1.0zM134.2 58.5h1.0v1.0h-1.0zM130.7 53.2h1.0v1.0h-1.0zM133.4 56.4h1.0v1.0h-1.0zM136.2 60.9h1.0v1.0h-1.0zM131.3 56.2h1.0v1.0h-1.0zM128.7 54.9h1.0v1.0h-1.0zM129.1 56.8h1.0v1.0h-1.0zM140.3 59.0h1.0v1.0h-1.0zM137.9 56.5h1.0v1.0h-1.0zM143.9 57.8h1.0v1.0h-1.0zM144.0 57.0h1.0v1.0h-1.0zM135.4 56.2h1.0v1.0h-1.0zM128.6 56.9h1.0v1.0h-1.0zM151.7 55.9h1.0v1.0h-1.0zM144.9 56.0h1.0v1.0h-1.0zM136.2 57.4h1.0v1.0h-1.0zM130.3 57.5h1.0v1.0h-1.0zM139.9 58.1h1.0v1.0h-1.0zM125.9 57.0h1.0v1.0h-1.0zM132.7 54.4h1.0v1.0h-1.0zM142.1 57.7h1.0v1.0h-1.0zM138.0 56.3h1.0v1.0h-1.0zM134.5 56.3h1.0v1.0h-1.0zM143.4 54.3h1.0v1.0h-1.0zM131.1 55.8h1.0v1.0h-1.0zM139.3 55.6h1.0v1.0h-1.0zM134.4 56.7h1.0v1.0h-1.0zM132.2 54.3h1.0v1.0h-1.0zM140.4 56.9h1.0v1.0h-1.0zM131.3 57.0h1.0v1.0h-1.0zM149.3 54.9h1.0v1.0h-1.0zM133.9 55.7h1.0v1.0h-1.0zM149.8 55.3h1.0v1.0h-1.0zM130.7 58.3h1.0v1.0h-1.0zM141.3 52.5h1.0v1.0h-1.0zM130.1 56.2h1.0v1.0h-1.0zM129.2 54.0h1.0v1.0h-1.0zM138.5 56.1h1.0v1.0h-1.0zM141.7 58.2h1.0v1.0h-1.0zM129.6 55.7h1.0v1.0h-1.0zM144.8 57.0h1.0v1.0h-1.0zM132.6 55.4h1.0v1.0h-1.0zM138.3 60.1h1.0v1.0h-1.0zM139.9 58.4h1.0v1.0h-1.0zM141.2 58.7h1.0v1.0h-1.0zM126.4 54.5h1.0v1.0h-1.0zM147.5 54.9h1.0v1.0h-1.0zM141.0 58.6h1.0v1.0h-1.0zM134.9 56.5h1.0v1.0h-1.0zM131.2 56.4h1.0v1.0h-1.0zM127.0 57.4h1.0v1.0h-1.0zM129.1 54.7h1.0v1.0h-1.0zM140.9 58.1h1.0v1.0h-1.0zM135.4 56.8h1.0v1.0h-1.0zM130.5 57.6h1.0v1.0h-1.0zM134.2 55.7h1.0v1.0h-1.0zM147.2 57.7h1.0v1.0h-1.0zM135.4 55.6h1.0v1.0h-1.0zM133.9 58.4h1.0v1.0h-1.0zM145.9 58.7h1.0v1.0h-1.0zM140.4 58.4h1.0v1.0h-1.0zM137.8 57.7h1.0v1.0h-1.0zM133.7 57.9h1.0v1.0h-1.0zM127.9 52.2h1.0v1.0h-1.0zM130.2 58.2h1.0v1.0h-1.0zM134.5 56.3h1.0v1.0h-1.0zM136.1 57.0h1.0v1.0h-1.0zM139.7 56.3h1.0v1.0h-1.0zM140.9 54.4h1.0v1.0h-1.0zM138.9 55.9h1.0v1.0h-1.0zM138.9 57.9h1.0v1.0h-1.0zM131.3 59.2h1.0v1.0h-1.0zM124.1 55.7h1.0v1.0h-1.0zM134.3 55.3h1.0v1.0h-1.0zM131.6 59.3h1.0v1.0h-1.0zM133.5 55.3h1.0v1.0h-1.0zM135.8 60.3h1.0v1.0h-1.0zM129.8 56.9h1.0v1.0h-1.0zM130.6 55.3h1.0v1.0h-1.0zM136.9 58.5h1.0v1.0h-1.0zM138.2 59.7h1.0v1.0h-1.0zM133.4 54.4h1.0v1.0h-1.0zM140.6 59.5h1.0v1.0h-1.0zM136.1 56.3h1.0v1.0h-1.0zM131.2 59.3h1.0v1.0h-1.0zM137.8 56.2h1.0v1.0h-1.0zM149.2 54.1h1.0v1.0h-1.0zM133.3 57.7h1.0v1.0h-1.0zM144.7 58.4h1.0v1.0h-1.0zM146.0 60.4h1.0v1.0h-1.0zM146.8 59.7h1.0v1.0h-1.0zM132.4 58.0h1.0v1.0h-1.0zM150.0 56.4h1.0v1.0h-1.0zM138.2 55.9h1.0v1.0h-1.0zM135.9 56.3h1.0v1.0h-1.0zM136.1 55.4h1.0v1.0h-1.0zM141.2 56.3h1.0v1.0h-1.0zM137.8 52.5h1.0v1.0h-1.0zM136.4 57.1h1.0v1.0h-1.0zM145.5 56.8h1.0v1.0h-1.0zM133.0 61.2h1.0v1.0h-1.0zM131.0 58.1h1.0v1.0h-1.0zM142.4 56.0h1.0v1.0h-1.0zM141.9 57.8h1.0v1.0h-1.0zM144.3 54.7h1.0v1.0h-1.0zM130.9 55.8h1.0v1.0h-1.0zM144.2 53.6h1.0v1.0h-1.0zM140.5 59.2h1.0v1.0h-1.0zM148.4 57.8h1.0v1.0h-1.0zM129.8 54.8h1.0v1.0h-1.0zM138.9 56.7h1.0v1.0h-1.0zM135.8 58.4h1.0v1.0h-1.0zM127.6 57.6h1.0v1.0h-1.0zM133.1 57.4h1.0v1.0h-1.0zM144.5 55.3h1.0v1.0h-1.0zM134.6 55.7h1.0v1.0h-1.0zM133.0 57.0h1.0v1.0h-1.0zM142.9 58.4h1.0v1.0h-1.0zM143.6 55.4h1.0v1.0h-1.0zM143.6 54.9h1.0v1.0h-1.0zM132.6 58.7h1.0v1.0h-1.0zM137.1 55.2h1.0v1.0h-1.0zM143.9 58.6h1.0v1.0h-1.0zM133.4 57.2h1.0v1.0h-1.0zM132.9 58.3h1.0v1.0h-1.0zM142.6 59.8h1.0v1.0h-1.0zM147.2 58.0h1.0v1.0h-1.0zM130.4 58.1h1.0v1.0h-1.0zM121.4 55.2h1.0v1.0h-1.0zM128.5 55.6h1.0v1.0h-1.0zM131.2 57.9h1.0v1.0h-1.0zM136.6 59.4h1.0v1.0h-1.0zM141.3 59.2h1.0v1.0h-1.0zM136.6 60.7h1.0v1.0h-1.0zM133.2 57.3h1.0v1.0h-1.0zM138.5 57.1h1.0v1.0h-1.0zM131.5 58.5h1.0v1.0h-1.0zM137.2 56.8h1.0v1.0h-1.0zM133.5 56.7h1.0v1.0h-1.0zM154.1 55.0h1.0v1.0h-1.0zM142.6 58.5h1.0v1.0h-1.0zM132.3 55.0h1.0v1.0h-1.0zM131.3 57.7h1.0v1.0h-1.0zM134.8 54.4h1.0v1.0h-1.0zM127.3 58.7h1.0v1.0h-1.0zM133.0 55.1h1.0v1.0h-1.0zM132.9 58.2h1.0v1.0h-1.0zM143.0 54.1h1.0v1.0h-1.0zM134.9 56.1h1.0v1.0h-1.0zM132.6 58.8h1.0v1.0h-1.0zM129.2 55.4h1.0v1.0h-1.0zM130.2 56.9h1.0v1.0h-1.0zM137.1 56.0h1.0v1.0h-1.0zM136.2 52.9h1.0v1.0h-1.0zM144.5 57.3h1.0v1.0h-1.0zM133.6 57.5h1.0v1.0h-1.0zM144.1 54.9h1.0v1.0h-1.0zM139.1 57.8h1.0v1.0h-1.0zM137.5 55.4h1.0v1.0h-1.0zM125.0 55.1h1.0v1.0h-1.0zM129.5 56.8h1.0v1.0h-1.0zM142.1 55.6h1.0v1.0h-1.0zM146.2 60.7h1.0v1.0h-1.0zM138.8 54.2h1.0v1.0h-1.0zM142.2 58.1h1.0v1.0h-1.0zM135.0 58.5h1.0v1.0h-1.0zM135.2 53.4h1.0v1.0h-1.0zM133.4 53.9h1.0v1.0h-1.0zM143.5 57.8h1.0v1.0h-1.0zM139.6 56.0h1.0v1.0h-1.0zM136.0 57.5h1.0v1.0h-1.0zM135.5 58.7h1.0v1.0h-1.0zM141.0 56.2h1.0v1.0h-1.0zM139.5 55.0h1.0v1.0h-1.0zM132.3 52.2h1.0v1.0h-1.0zM148.1 57.1h1.0v1.0h-1.0zM139.1 55.2h1.0v1.0h-1.0zM137.6 57.3h1.0v1.0h-1.0zM146.7 57.2h1.0v1.0h-1.0zM143.8 54.4h1.0v1.0h-1.0zM137.0 59.7h1.0v1.0h-1.0zM140.8 58.6h1.0v1.0h-1.0zM130.9 58.2h1.0v1.0h-1.0zM133.5 54.8h1.0v1.0h-1.0zM123.5 56.1h1.0v1.0h-1.0zM145.1 55.9h1.0v1.0h-1.0zM125.7 56.1h1.0v1.0h-1.0zM141.7 54.9h1.0v1.0h-1.0zM132.3 57.5h1.0v1.0h-1.0zM131.4 57.2h1.0v1.0h-1.0zM136.3 57.4h1.0v1.0h-1.0zM139.2 55.9h1.0v1.0h-1.0zM141.3 59.0h1.0v1.0h-1.0zM148.5 57.1h1.0v1.0h-1.0zM139.7 52.1h1.0v1.0h-1.0zM143.0 55.7h1.0v1.0h-1.0zM133.8 56.7h1.0v1.0h-1.0zM141.9 58.4h1.0v1.0h-1.0zM138.5 56.3h1.0v1.0h-1.0zM134.6 56.4h1.0v1.0h-1.0zM136.9 55.7h1.0v1.0h-1.0zM137.1 57.9h1.0v1.0h-1.0zM138.7 56.0h1.0v1.0h-1.0zM140.0 55.8h1.0v1.0h-1.0zM134.3 55.5h1.0v1.0h-1.0zM132.9 57.7h1.0v1.0h-1.0zM142.1 55.9h1.0v1.0h-1.0zM127.0 54.0h1.0v1.0h-1.0zM133.7 57.9h1.0v1.0h-1.0zM147.1 55.6h1.0v1.0h-1.0zM120.7 57.4h1.0v1.0h-1.0zM133.2 57.4h1.0v1.0h-1.0zM141.8 58.8h1.0v1.0h-1.0zM127.3 58.6h1.0v1.0h-1.0zM153.6 55.8h1.0v1.0h-1.0zM121.5 56.5h1.0v1.0h-1.0zM146.4 54.6h1.0v1.0h-1.0zM147.2 59.7h1.0v1.0h-1.0zM143.2 57.6h1.0v1.0h-1.0zM136.1 59.2h1.0v1.0h-1.0zM139.7 56.3h1.0v1.0h-1.0zM131.9 53.3h1.0v1.0h-1.0zM142.5 59.4h1.0v1.0h-1.0zM130.6 57.0h1.0v1.0h-1.0zM135.8 57.0h1.0v1.0h-1.0zM143.7 56.9h1.0v1.0h-1.0zM130.6 57.9h1.0v1.0h-1.0zM135.2 57.7h1.0v1.0h-1.0zM138.5 54.1h1.0v1.0h-1.0zM129.2 58.6h1.0v1.0h-1.0zM144.7 55.9h1.0v1.0h-1.0zM139.6 56.0h1.0v1.0h-1.0zM128.1 59.7h1.0v1.0h-1.0zM137.2 58.4h1.0v1.0h-1.0zM132.7 56.2h1.0v1.0h-1.0zM133.4 53.6h1.0v1.0h-1.0zM138.0 57.1h1.0v1.0h-1.0zM133.1 57.7h1.0v1.0h-1.0zM143.5 56.7h1.0v1.0h-1.0zM133.1 54.7h1.0v1.0h-1.0zM143.6 55.5h1.0v1.0h-1.0zM137.2 54.7h1.0v1.0h-1.0zM142.8 57.2h1.0v1.0h-1.0zM134.1 58.2h1.0v1.0h-1.0zM134.4 58.5h1.0v1.0h-1.0zM130.4 55.6h1.0v1.0h-1.0zM141.1 57.2h1.0v1.0h-1.0zM143.3 57.7h1.0v1.0h-1.0zM150.6 55.9h1.0v1.0h-1.0zM145.5 56.5h1.0v1.0h-1.0zM139.0 60.4h1.0v1.0h-1.0zM136.2 57.1h1.0v1.0h-1.0zM139.9 58.3h1.0v1.0h-1.0zM137.3 56.1h1.0v1.0h-1.0zM146.6 56.9h1.0v1.0h-1.0zM143.4 53.9h1.0v1.0h-1.0zM132.3 56.8h1.0v1.0h-1.0zM133.2 58.8h1.0v1.0h-1.0zM146.0 60.4h1.0v1.0h-1.0zM139.4 58.8h1.0v1.0h-1.0zM136.1 58.0h1.0v1.0h-1.0zM144.9 56.9h1.0v1.0h-1.0zM135.1 55.8h1.0v1.0h-1.0zM135.8 56.5h1.0v1.0h-1.0zM134.6 57.8h1.0v1.0h-1.0zM125.3 55.5h1.0v1.0h-1.0zM142.9 58.4h1.0v1.0h-1.0zM130.0 55.1h1.0v1.0h-1.0zM134.0 53.8h1.0v1.0h-1.0zM132.9 55.1h1.0v1.0h-1.0zM142.0 54.0h1.0v1.0h-1.0zM137.1 54.5h1.0v1.0h-1.0zM137.6 58.7h1.0v1.0h-1.0zM127.1 56.5h1.0v1.0h-1.0zM137.0 57.2h1.0v1.0h-1.0zM128.3 58.8h1.0v1.0h-1.0zM139.4 58.9h1.0v1.0h-1.0zM139.8 55.9h1.0v1.0h-1.0zM137.4 59.1h1.0v1.0h-1.0zM150.2 57.5h1.0v1.0h-1.0zM140.8 56.8h1.0v1.0h-1.0zM141.2 57.6h1.0v1.0h-1.0zM138.4 54.4h1.0v1.0h-1.0zM136.3 55.5h1.0v1.0h-1.0zM143.5 56.6h1.0v1.0h-1.0zM144.3 57.8h1.0v1.0h-1.0zM129.4 56.2h1.0v1.0h-1.0zM144.0 56.6h1.0v1.0h-1.0zM140.7 58.4h1.0v1.0h-1.0zM143.5 59.2h1.0v1.0h-1.0zM140.4 58.1h1.0v1.0h-1.0zM129.8 59.0h1.0v1.0h-1.0zM130.2 56.1h1.0v1.0h-1.0zM148.8 56.3h1.0v1.0h-1.0zM139.1 57.3h1.0v1.0h-1.0zM128.7 56.3h1.0v1.0h-1.0zM139.7 55.9h1.0v1.0h-1.0zM135.3 59.6h1.0v1.0h-1.0zM126.1 56.5h1.0v1.0h-1.0zM123.3 55.2h1.0v1.0h-1.0zM127.6 57.6h1.0v1.0h-1.0zM139.2 59.9h1.0v1.0h-1.0zM137.2 56.9h1.0v1.0h-1.0zM136.0 58.9h1.0v1.0h-1.0zM139.3 56.1h1.0v1.0h-1.0zM141.2 56.0h1.0v1.0h-1.0zM124.5 55.6h1.0v1.0h-1.0zM135.6 56.6h1.0v1.0h-1.0zM132.4 59.9h1.0v1.0h-1.0zM129.9 54.8h1.0v1.0h-1.0zM134.1 59.6h1.0v1.0h-1.0zM136.7 55.1h1.0v1.0h-1.0zM135.8 56.4h1.0v1.0h-1.0zM128.5 58.2h1.0v1.0h-1.0zM134.5 57.9h1.0v1.0h-1.0zM150.0 57.3h1.0v1.0h-1.0zM131.0 54.0h1.0v1.0h-1.0zM127.0 57.4h1.0v1.0h-1.0zM139.2 55.1h1.0v1.0h-1.0zM141.2 61.2h1.0v1.0h-1.0zM140.4 56.4h1.0v1.0h-1.0zM130.6 57.1h1.0v1.0h-1.0zM143.7 54.9h1.0v1.0h-1.0zM132.6 56.0h1.0v1.0h-1.0zM130.5 54.6h1.0v1.0h-1.0zM133.7 58.5h1.0v1.0h-1.0zM136.8 56.4h1.0v1.0h-1.0zM141.9 57.8h1.0v1.0h-1.0zM141.4 55.6h1.0v1.0h-1.0zM137.4 55.9h1.0v1.0h-1.0zM143.3 59.0h1.0v1.0h-1.0zM138.0 55.1h1.0v1.0h-1.0zM143.1 53.7h1.0v1.0h-1.0zM128.8 57.5h1.0v1.0h-1.0zM127.7 54.9h1.0v1.0h-1.0zM142.3 56.1h1.0v1.0h-1.0zM128.9 58.3h1.0v1.0h-1.0zM135.6 55.4h1.0v1.0h-1.0zM136.9 58.3h1.0v1.0h-1.0zM134.5 55.6h1.0v1.0h-1.0zM134.7 59.3h1.0v1.0h-1.0zM146.1 59.1h1.0v1.0h-1.0zM121.8 56.0h1.0v1.0h-1.0zM143.0 56.4h1.0v1.0h-1.0zM151.7 55.4h1.0v1.0h-1.0zM137.6 57.1h1.0v1.0h-1.0zM137.4 58.8h1.0v1.0h-1.0zM142.0 54.3h1.0v1.0h-1.0zM148.8 58.4h1.0v1.0h-1.0zM130.1 54.5h1.0v1.0h-1.0zM138.0 55.3h1.0v1.0h-1.0zM136.3 53.8h1.0v1.0h-1.0zM128.0 61.5h1.0v1.0h-1.0zM124.3 59.3h1.0v1.0h-1.0zM124.6 59.5h1.0v1.0h-1.0zM123.0 59.8h1.0v1.0h-1.0zM126.1 60.5h1.0v1.0h-1.0zM124.2 56.1h1.0v1.0h-1.0zM128.2 59.9h1.0v1.0h-1.0zM123.5 58.4h1.0v1.0h-1.0zM125.4 59.0h1.0v1.0h-1.0zM122.7 60.7h1.0v1.0h-1.0zM124.2 59.0h1.0v1.0h-1.0zM125.9 61.1h1.0v1.0h-1.0zM124.5 61.8h1.0v1.0h-1.0zM124.9 59.0h1.0v1.0h-1.0zM123.6 59.9h1.0v1.0h-1.0zM124.8 57.0h1.0v1.0h-1.0zM124.3 60.4h1.0v1.0h-1.0zM126.8 61.5h1.0v1.0h-1.0zM125.5 58.7h1.0v1.0h-1.0zM119.8 55.7h1.0v1.0h-1.0zM125.5 56.1h1.0v1.0h-1.0zM125.6 57.0h1.0v1.0h-1.0zM122.5 58.8h1.0v1.0h-1.0zM120.6 59.8h1.0v1.0h-1.0zM122.1 59.6h1.0v1.0h-1.0zM125.9 59.7h1.0v1.0h-1.0zM122.3 61.2h1.0v1.0h-1.0zM123.4 58.9h1.0v1.0h-1.0zM124.6 57.3h1.0v1.0h-1.0zM126.4 57.3h1.0v1.0h-1.0zM124.0 55.1h1.0v1.0h-1.0zM123.2 59.4h1.0v1.0h-1.0zM126.1 60.8h1.0v1.0h-1.0zM124.0 58.1h1.0v1.0h-1.0zM121.7 59.8h1.0v1.0h-1.0zM122.8 61.5h1.0v1.0h-1.0zM122.9 58.0h1.0v1.0h-1.0zM125.8 61.3h1.0v1.0h-1.0zM124.9 60.3h1.0v1.0h-1.0zM125.1 59.1h1.0v1.0h-1.0zM122.7 56.9h1.0v1.0h-1.0zM123.6 60.6h1.0v1.0h-1.0zM122.0 61.2h1.0v1.0h-1.0zM123.3 60.3h1.0v1.0h-1.0zM123.9 57.7h1.0v1.0h-1.0zM122.7 61.6h1.0v1.0h-1.0zM121.8 58.7h1.0v1.0h-1.0zM125.2 59.9h1.0v1.0h-1.0zM126.0 60.0h1.0v1.0h-1.0zM124.3 57.9h1.0v1.0h-1.0zM126.1 58.7h1.0v1.0h-1.0zM122.3 56.6h1.0v1.0h-1.0zM124.5 60.8h1.0v1.0h-1.0zM123.0 58.9h1.0v1.0h-1.0zM124.5 60.6h1.0v1.0h-1.0zM125.6 57.7h1.0v1.0h-1.0zM126.1 59.1h1.0v1.0h-1.0zM122.4 61.9h1.0v1.0h-1.0zM126.5 59.5h1.0v1.0h-1.0zM123.3 61.1h1.0v1.0h-1.0zM122.4 60.9h1.0v1.0h-1.0zM123.9 59.1h1.0v1.0h-1.0zM121.6 56.7h1.0v1.0h-1.0zM124.2 61.8h1.0v1.0h-1.0zM124.7 60.1h1.0v1.0h-1.0zM123.8 61.8h1.0v1.0h-1.0zM125.2 55.8h1.0v1.0h-1.0zM123.6 56.5h1.0v1.0h-1.0zM124.2 55.5h1.0v1.0h-1.0zM121.6 58.0h1.0v1.0h-1.0zM124.3 61.9h1.0v1.0h-1.0zM122.7 60.9h1.0v1.0h-1.0zM123.4 59.7h1.0v1.0h-1.0zM124.0 60.1h1.0v1.0h-1.0zM124.5 61.3h1.0v1.0h-1.0zM121.2 59.2h1.0v1.0h-1.0zM121.4 60.6h1.0v1.0h-1.0zM123.7 60.1h1.0v1.0h-1.0zM125.1 55.4h1.0v1.0h-1.0zM124.8 59.0h1.0v1.0h-1.0zM126.5 59.0h1.0v1.0h-1.0zM125.1 59.5h1.0v1.0h-1.0zM124.2 58.6h1.0v1.0h-1.0zM122.3 58.8h1.0v1.0h-1.0zM123.4 59.3h1.0v1.0h-1.0zM124.7 57.8h1.0v1.0h-1.0zM124.6 53.6h1.0v1.0h-1.0zM124.2 58.7h1.0v1.0h-1.0zM123.9 55.9h1.0v1.0h-1.0zM125.3 56.2h1.0v1.0h-1.0zM124.6 61.4h1.0v1.0h-1.0zM124.7 61.2h1.0v1.0h-1.0zM124.8 56.0h1.0v1.0h-1.0zM123.2 61.5h1.0v1.0h-1.0zM122.3 60.7h1.0v1.0h-1.0zM125.1 58.2h1.0v1.0h-1.0zM125.0 61.3h1.0v1.0h-1.0zM123.8 56.5h1.0v1.0h-1.0zM123.5 57.4h1.0v1.0h-1.0zM128.3 56.9h1.0v1.0h-1.0zM122.8 57.6h1.0v1.0h-1.0zM123.8 61.6h1.0v1.0h-1.0zM124.7 57.1h1.0v1.0h-1.0zM122.1 57.5h1.0v1.0h-1.0zM124.4 57.9h1.0v1.0h-1.0zM127.4 60.2h1.0v1.0h-1.0zM125.9 59.1h1.0v1.0h-1.0zM125.3 61.5h1.0v1.0h-1.0zM125.3 58.4h1.0v1.0h-1.0zM124.4 57.2h1.0v1.0h-1.0zM125.9 58.8h1.0v1.0h-1.0zM123.9 59.9h1.0v1.0h-1.0zM123.4 57.9h1.0v1.0h-1.0zM124.4 60.3h1.0v1.0h-1.0zM124.8 58.6h1.0v1.0h-1.0zM125.4 59.9h1.0v1.0h-1.0zM126.3 58.5h1.0v1.0h-1.0zM128.4 58.1h1.0v1.0h-1.0zM126.6 57.6h1.0v1.0h-1.0zM123.6 60.6h1.0v1.0h-1.0zM122.7 60.8h1.0v1.0h-1.0zM124.7 59.5h1.0v1.0h-1.0zM122.4 59.9h1.0v1.0h-1.0zM123.3 61.5h1.0v1.0h-1.0zM125.9 57.0h1.0v1.0h-1.0zM126.7 59.7h1.0v1.0h-1.0zM120.5 60.0h1.0v1.0h-1.0zM124.7 61.2h1.0v1.0h-1.0zM122.9 59.3h1.0v1.0h-1.0zM121.7 58.5h1.0v1.0h-1.0zM123.1 58.8h1.0v1.0h-1.0zM123.8 56.2h1.0v1.0h-1.0zM126.1 59.7h1.0v1.0h-1.0zM121.5 58.6h1.0v1.0h-1.0zM126.1 60.7h1.0v1.0h-1.0zM127.8 57.7h1.0v1.0h-1.0zM125.3 58.9h1.0v1.0h-1.0zM125.2 57.8h1.0v1.0h-1.0zM124.2 57.6h1.0v1.0h-1.0zM122.1 61.1h1.0v1.0h-1.0zM125.2 58.8h1.0v1.0h-1.0zM124.9 60.6h1.0v1.0h-1.0zM125.5 57.5h1.0v1.0h-1.0zM128.8 59.9h1.0v1.0h-1.0zM125.5 56.3h1.0v1.0h-1.0zM125.0 58.8h1.0v1.0h-1.0zM127.0 58.7h1.0v1.0h-1.0zM121.8 60.9h1.0v1.0h-1.0zM122.1 60.1h1.0v1.0h-1.0zM123.5 59.4h1.0v1.0h-1.0zM123.0 61.4h1.0v1.0h-1.0zM125.4 60.1h1.0v1.0h-1.0zM123.6 60.8h1.0v1.0h-1.0zM127.3 61.2h1.0v1.0h-1.0zM126.9 59.6h1.0v1.0h-1.0zM125.6 59.1h1.0v1.0h-1.0zM123.5 60.4h1.0v1.0h-1.0zM125.3 58.9h1.0v1.0h-1.0zM125.7 60.5h1.0v1.0h-1.0zM122.3 61.9h1.0v1.0h-1.0zM124.8 61.4h1.0v1.0h-1.0zM125.5 58.9h1.0v1.0h-1.0zM124.6 57.1h1.0v1.0h-1.0zM127.0 59.6h1.0v1.0h-1.0zM126.4 59.5h1.0v1.0h-1.0zM122.7 61.9h1.0v1.0h-1.0zM124.4 58.9h1.0v1.0h-1.0zM122.7 59.3h1.0v1.0h-1.0zM125.2 61.2h1.0v1.0h-1.0zM122.6 58.8h1.0v1.0h-1.0zM125.9 59.4h1.0v1.0h-1.0zM123.9 61.0h1.0v1.0h-1.0zM121.6 60.2h1.0v1.0h-1.0zM127.4 57.8h1.0v1.0h-1.0zM123.9 60.8h1.0v1.0h-1.0zM126.7 59.8h1.0v1.0h-1.0zM125.0 60.1h1.0v1.0h-1.0zM125.4 58.7h1.0v1.0h-1.0zM127.5 59.7h1.0v1.0h-1.0zM124.8 59.3h1.0v1.0h-1.0zM126.7 60.3h1.0v1.0h-1.0zM148.9 55.4h1.0v1.0h-1.0zM130.6 55.9h1.0v1.0h-1.0zM140.3 57.8h1.0v1.0h-1.0zM138.2 57.5h1.0v1.0h-1.0zM134.8 58.8h1.0v1.0h-1.0zM134.3 59.0h1.0v1.0h-1.0zM129.9 55.6h1.0v1.0h-1.0zM142.2 54.3h1.0v1.0h-1.0zM132.3 58.5h1.0v1.0h-1.0zM137.3 58.2h1.0v1.0h-1.0zM148.4 55.4h1.0v1.0h-1.0zM135.7 53.9h1.0v1.0h-1.0zM135.0 53.7h1.0v1.0h-1.0zM148.5 55.2h1.0v1.0h-1.0zM140.8 55.4h1.0v1.0h-1.0zM140.6 54.9h1.0v1.0h-1.0zM132.9 53.8h1.0v1.0h-1.0zM142.1 54.7h1.0v1.0h-1.0zM136.3 55.9h1.0v1.0h-1.0zM140.0 54.1h1.0v1.0h-1.0zM136.7 54.9h1.0v1.0h-1.0zM129.8 56.5h1.0v1.0h-1.0zM147.3 59.3h1.0v1.0h-1.0zM143.2 59.4h1.0v1.0h-1.0zM149.1 56.3h1.0v1.0h-1.0zM134.7 54.4h1.0v1.0h-1.0zM134.2 55.3h1.0v1.0h-1.0zM131.0 58.1h1.0v1.0h-1.0zM134.7 56.3h1.0v1.0h-1.0zM135.2 57.4h1.0v1.0h-1.0zM132.0 58.5h1.0v1.0h-1.0zM133.8 58.0h1.0v1.0h-1.0zM134.5 59.3h1.0v1.0h-1.0zM146.9 54.1h1.0v1.0h-1.0zM137.8 55.5h1.0v1.0h-1.0zM146.0 53.7h1.0v1.0h-1.0zM129.1 57.0h1.0v1.0h-1.0zM132.1 57.7h1.0v1.0h-1.0zM149.0 55.2h1.0v1.0h-1.0zM129.1 53.9h1.0v1.0h-1.0zM129.5 56.7h1.0v1.0h-1.0zM139.4 54.6h1.0v1.0h-1.0zM134.4 54.8h1.0v1.0h-1.0zM132.3 56.1h1.0v1.0h-1.0zM141.4 59.9h1.0v1.0h-1.0zM141.4 55.9h1.0v1.0h-1.0zM132.1 58.3h1.0v1.0h-1.0zM139.9 56.0h1.0v1.0h-1.0zM138.0 56.3h1.0v1.0h-1.0zM146.6 54.5h1.0v1.0h-1.0zM129.5 54.8h1.0v1.0h-1.0zM133.1 58.7h1.0v1.0h-1.0zM140.4 56.4h1.0v1.0h-1.0zM128.7 55.4h1.0v1.0h-1.0zM146.6 60.2h1.0v1.0h-1.0zM149.3 59.5h1.0v1.0h-1.0zM135.2 55.3h1.0v1.0h-1.0zM145.0 56.5h1.0v1.0h-1.0zM133.5 57.4h1.0v1.0h-1.0zM148.9 54.6h1.0v1.0h-1.0zM132.7 56.4h1.0v1.0h-1.0zM128.1 55.4h1.0v1.0h-1.0zM129.5 59.0h1.0v1.0h-1.0zM138.1 54.1h1.0v1.0h-1.0zM128.8 60.2h1.0v1.0h-1.0zM149.6 55.1h1.0v1.0h-1.0zM141.9 55.8h1.0v1.0h-1.0zM140.5 54.0h1.0v1.0h-1.0zM141.8 59.7h1.0v1.0h-1.0zM137.2 59.1h1.0v1.0h-1.0zM147.5 54.0h1.0v1.0h-1.0zM143.7 57.1h1.0v1.0h-1.0zM137.5 56.2h1.0v1.0h-1.0zM134.2 57.6h1.0v1.0h-1.0zM131.2 55.8h1.0v1.0h-1.0zM134.9 60.0h1.0v1.0h-1.0zM135.8 55.0h1.0v1.0h-1.0zM129.8 59.1h1.0v1.0h-1.0zM148.3 55.3h1.0v1.0h-1.0zM133.7 57.9h1.0v1.0h-1.0zM139.9 56.4h1.0v1.0h-1.0zM129.5 57.1h1.0v1.0h-1.0zM140.1 57.0h1.0v1.0h-1.0zM142.2 57.8h1.0v1.0h-1.0zM129.8 54.0h1.0v1.0h-1.0zM149.5 53.9h1.0v1.0h-1.0zM131.6 60.1h1.0v1.0h-1.0zM133.8 55.2h1.0v1.0h-1.0zM144.2 55.9h1.0v1.0h-1.0zM135.4 55.1h1.0v1.0h-1.0zM147.3 57.9h1.0v1.0h-1.0zM133.2 60.2h1.0v1.0h-1.0zM134.9 56.2h1.0v1.0h-1.0zM143.2 55.7h1.0v1.0h-1.0zM146.9 55.9h1.0v1.0h-1.0zM147.4 53.7h1.0v1.0h-1.0zM134.3 54.1h1.0v1.0h-1.0zM139.7 53.8h1.0v1.0h-1.0zM137.0 55.7h1.0v1.0h-1.0zM142.9 60.2h1.0v1.0h-1.0zM133.0 54.5h1.0v1.0h-1.0zM146.5 57.2h1.0v1.0h-1.0zM143.7 54.9h1.0v1.0h-1.0zM131.8 53.8h1.0v1.0h-1.0zM134.9 59.2h1.0v1.0h-1.0zM135.4 54.4h1.0v1.0h-1.0zM148.5 54.4h1.0v1.0h-1.0zM138.0 59.1h1.0v1.0h-1.0zM141.6 55.2h1.0v1.0h-1.0zM148.5 54.9h1.0v1.0h-1.0zM136.7 59.9h1.0v1.0h-1.0zM148.8 54.8h1.0v1.0h-1.0zM134.4 59.2h1.0v1.0h-1.0zM128.3 55.6h1.0v1.0h-1.0zM130.3 57.3h1.0v1.0h-1.0zM143.2 55.6h1.0v1.0h-1.0zM136.4 55.8h1.0v1.0h-1.0zM146.3 59.8h1.0v1.0h-1.0zM139.7 59.7h1.0v1.0h-1.0zM143.1 54.7h1.0v1.0h-1.0zM135.8 58.4h1.0v1.0h-1.0zM140.9 54.4h1.0v1.0h-1.0zM143.4 55.5h1.0v1.0h-1.0zM136.3 54.0h1.0v1.0h-1.0zM138.8 57.9h1.0v1.0h-1.0zM146.6 58.4h1.0v1.0h-1.0zM148.4 58.6h1.0v1.0h-1.0zM135.7 58.8h1.0v1.0h-1.0zM129.5 56.2h1.0v1.0h-1.0zM146.5 54.7h1.0v1.0h-1.0zM137.8 53.5h1.0v1.0h-1.0zM149.3 56.5h1.0v1.0h-1.0zM144.8 59.8h1.0v1.0h-1.0zM136.1 56.6h1.0v1.0h-1.0zM146.7 57.7h1.0v1.0h-1.0zM140.1 59.7h1.0v1.0h-1.0zM143.7 59.4h1.0v1.0h-1.0zM147.5 58.5h1.0v1.0h-1.0zM140.8 57.5h1.0v1.0h-1.0zM148.8 55.1h1.0v1.0h-1.0zM136.8 58.6h1.0v1.0h-1.0zM136.3 56.3h1.0v1.0h-1.0zM142.1 58.3h1.0v1.0h-1.0zM136.9 55.0h1.0v1.0h-1.0zM143.6 59.9h1.0v1.0h-1.0zM139.7 54.6h1.0v1.0h-1.0zM144.3 58.9h1.0v1.0h-1.0zM146.2 59.6h1.0v1.0h-1.0zM140.5 54.5h1.0v1.0h-1.0zM148.1 59.4h1.0v1.0h-1.0zM145.2 57.9h1.0v1.0h-1.0zM146.9 57.6h1.0v1.0h-1.0zM128.4 55.2h1.0v1.0h-1.0zM128.3 55.7h1.0v1.0h-1.0zM142.0 55.1h1.0v1.0h-1.0zM135.3 56.5h1.0v1.0h-1.0zM147.2 57.9h1.0v1.0h-1.0zM136.6 58.5h1.0v1.0h-1.0zM144.4 58.3h1.0v1.0h-1.0zM133.4 55.9h1.0v1.0h-1.0zM141.8 55.8h1.0v1.0h-1.0zM147.8 58.7h1.0v1.0h-1.0zM147.0 60.1h1.0v1.0h-1.0zM136.1 55.0h1.0v1.0h-1.0zM138.6 56.3h1.0v1.0h-1.0zM139.8 55.4h1.0v1.0h-1.0zM135.6 60.1h1.0v1.0h-1.0zM138.6 53.6h1.0v1.0h-1.0zM149.2 59.6h1.0v1.0h-1.0zM147.4 58.7h1.0v1.0h-1.0zM134.9 55.8h1.0v1.0h-1.0zM143.0 58.1h1.0v1.0h-1.0zM148.9 56.0h1.0v1.0h-1.0zM136.0 57.8h1.0v1.0h-1.0zM146.7 56.4h1.0v1.0h-1.0zM145.5 59.7h1.0v1.0h-1.0zM147.5 56.6h1.0v1.0h-1.0zM129.9 59.0h1.0v1.0h-1.0zM148.3 57.4h1.0v1.0h-1.0zM149.6 56.0h1.0v1.0h-1.0zM133.3 60.1h1.0v1.0h-1.0zM141.9 54.8h1.0v1.0h-1.0zM130.0 59.7h1.0v1.0h-1.0zM141.3 60.2h1.0v1.0h-1.0zM143.6 59.3h1.0v1.0h-1.0zM144.4 57.7h1.0v1.0h-1.0zM146.9 57.7h1.0v1.0h-1.0zM134.5 59.8h1.0v1.0h-1.0zM130.6 56.4h1.0v1.0h-1.0zM146.0 59.1h1.0v1.0h-1.0zM128.6 58.8h1.0v1.0h-1.0zM133.1 59.3h1.0v1.0h-1.0zM133.2 56.5h1.0v1.0h-1.0zM145.1 57.9h1.0v1.0h-1.0zM137.7 54.1h1.0v1.0h-1.0zM146.4 54.0h1.0v1.0h-1.0zM142.7 54.2h1.0v1.0h-1.0zM146.5 58.5h1.0v1.0h-1.0zM145.3 55.9h1.0v1.0h-1.0zM147.4 59.7h1.0v1.0h-1.0z" fill="#26267e"/>
<rect x="118.8" y="10.8" width="52.5" height="52.7" fill="none" stroke="#333" stroke-width="1" />
<path d="M127 52.6L149 52.6L152.8 56.6L149.3 60.8L129 60.8Q125.8 60.8 125.8 57.5L125.8 55.2Q125.8 52.6 127 52.6Z" fill="none" stroke="#000" stroke-width="1"/>
<text x="154.5" y="62.6" font-size="6.8" textLength="11" lengthAdjust="spacingAndGlyphs">55.6</text>
<text x="145.3" y="71" font-size="6.3" text-anchor="middle" textLength="10.1" lengthAdjust="spacingAndGlyphs">FSC</text>
<text x="116.3" y="37.6" font-size="6.3" text-anchor="middle" textLength="10.1" lengthAdjust="spacingAndGlyphs" transform="rotate(-90 116.3 37.6)">SSC</text>
<line x1="172" y1="36.7" x2="189.5" y2="36.7" stroke="#000" stroke-width="2.6" />
<path d="M183 32.7L191 36.7L183 40.7" fill="none" stroke="#000" stroke-width="2.6" stroke-linecap="round" stroke-linejoin="miter"/>
<line x1="255" y1="37.2" x2="282.5" y2="37.2" stroke="#000" stroke-width="2.6" />
<path d="M276 33.2L284 37.2L276 41.2" fill="none" stroke="#000" stroke-width="2.6" stroke-linecap="round" stroke-linejoin="miter"/>
<text x="225.5" y="7.6" font-size="7" text-anchor="middle" textLength="42" lengthAdjust="spacingAndGlyphs">CD3+ TCells</text>
<ellipse cx="227.8" cy="52.5" rx="4.2" ry="9.5" fill="#26267e"/>
<path d="M204.1 46.5h1.0v1.0h-1.0zM204.3 43.4h1.0v1.0h-1.0zM205.5 42.9h1.0v1.0h-1.0zM207.9 41.0h1.0v1.0h-1.0zM204.1 54.4h1.0v1.0h-1.0zM206.3 46.5h1.0v1.0h-1.0zM202.0 56.8h1.0v1.0h-1.0zM203.9 45.9h1.0v1.0h-1.0zM207.6 34.1h1.0v1.0h-1.0zM208.7 51.6h1.0v1.0h-1.0zM204.1 45.0h1.0v1.0h-1.0zM205.0 45.7h1.0v1.0h-1.0zM208.5 55.6h1.0v1.0h-1.0zM205.8 45.6h1.0v1.0h-1.0zM205.5 53.4h1.0v1.0h-1.0zM207.8 47.0h1.0v1.0h-1.0zM207.1 42.9h1.0v1.0h-1.0zM209.2 49.8h1.0v1.0h-1.0zM208.5 43.7h1.0v1.0h-1.0zM205.4 53.8h1.0v1.0h-1.0zM206.4 52.3h1.0v1.0h-1.0zM206.6 47.3h1.0v1.0h-1.0zM203.7 50.4h1.0v1.0h-1.0zM204.6 50.1h1.0v1.0h-1.0zM208.9 45.5h1.0v1.0h-1.0zM203.2 51.9h1.0v1.0h-1.0zM208.9 45.7h1.0v1.0h-1.0zM207.3 50.4h1.0v1.0h-1.0zM206.4 41.8h1.0v1.0h-1.0zM207.9 47.6h1.0v1.0h-1.0zM207.8 49.3h1.0v1.0h-1.0zM209.4 42.7h1.0v1.0h-1.0zM205.8 44.7h1.0v1.0h-1.0zM206.2 44.1h1.0v1.0h-1.0zM206.2 51.0h1.0v1.0h-1.0zM210.9 43.1h1.0v1.0h-1.0zM208.8 49.4h1.0v1.0h-1.0zM204.7 55.4h1.0v1.0h-1.0zM206.0 49.0h1.0v1.0h-1.0zM205.1 38.2h1.0v1.0h-1.0zM206.7 47.7h1.0v1.0h-1.0zM207.2 52.8h1.0v1.0h-1.0zM211.8 45.5h1.0v1.0h-1.0zM202.7 53.1h1.0v1.0h-1.0zM209.0 50.4h1.0v1.0h-1.0zM207.7 49.4h1.0v1.0h-1.0zM205.2 45.6h1.0v1.0h-1.0zM206.4 44.2h1.0v1.0h-1.0zM205.6 45.6h1.0v1.0h-1.0zM206.8 47.4h1.0v1.0h-1.0zM208.9 49.9h1.0v1.0h-1.0zM203.4 49.4h1.0v1.0h-1.0zM209.6 45.4h1.0v1.0h-1.0zM205.9 47.4h1.0v1.0h-1.0zM210.0 49.2h1.0v1.0h-1.0zM207.6 38.1h1.0v1.0h-1.0zM209.4 42.8h1.0v1.0h-1.0zM208.0 42.7h1.0v1.0h-1.0zM209.1 45.9h1.0v1.0h-1.0zM206.8 45.6h1.0v1.0h-1.0zM204.9 45.7h1.0v1.0h-1.0zM208.2 42.3h1.0v1.0h-1.0zM208.3 50.8h1.0v1.0h-1.0zM211.4 48.6h1.0v1.0h-1.0zM202.3 38.0h1.0v1.0h-1.0zM206.3 47.2h1.0v1.0h-1.0zM209.1 40.9h1.0v1.0h-1.0zM204.0 56.4h1.0v1.0h-1.0zM206.2 44.6h1.0v1.0h-1.0zM211.4 44.9h1.0v1.0h-1.0zM209.8 47.5h1.0v1.0h-1.0zM204.8 46.0h1.0v1.0h-1.0zM209.9 46.8h1.0v1.0h-1.0zM209.3 55.6h1.0v1.0h-1.0zM208.4 48.3h1.0v1.0h-1.0zM207.6 51.7h1.0v1.0h-1.0zM207.3 53.3h1.0v1.0h-1.0zM204.8 41.7h1.0v1.0h-1.0zM205.6 56.4h1.0v1.0h-1.0zM208.3 50.9h1.0v1.0h-1.0zM207.0 52.4h1.0v1.0h-1.0zM210.8 42.3h1.0v1.0h-1.0zM206.0 51.6h1.0v1.0h-1.0zM201.4 49.4h1.0v1.0h-1.0zM206.0 44.1h1.0v1.0h-1.0zM207.3 59.7h1.0v1.0h-1.0zM207.6 50.2h1.0v1.0h-1.0zM206.9 45.8h1.0v1.0h-1.0zM204.9 48.2h1.0v1.0h-1.0zM210.0 52.1h1.0v1.0h-1.0zM205.3 53.3h1.0v1.0h-1.0zM208.3 50.3h1.0v1.0h-1.0zM206.1 53.8h1.0v1.0h-1.0zM204.1 55.2h1.0v1.0h-1.0zM209.9 40.3h1.0v1.0h-1.0zM201.2 44.4h1.0v1.0h-1.0zM204.9 41.9h1.0v1.0h-1.0zM207.7 47.6h1.0v1.0h-1.0zM206.0 55.0h1.0v1.0h-1.0zM208.4 50.7h1.0v1.0h-1.0zM206.5 41.4h1.0v1.0h-1.0zM205.7 45.5h1.0v1.0h-1.0zM211.5 52.8h1.0v1.0h-1.0zM206.3 44.2h1.0v1.0h-1.0zM206.4 46.6h1.0v1.0h-1.0zM204.4 48.8h1.0v1.0h-1.0zM205.1 37.1h1.0v1.0h-1.0zM208.2 51.4h1.0v1.0h-1.0zM208.0 49.0h1.0v1.0h-1.0zM206.8 50.2h1.0v1.0h-1.0zM205.2 41.7h1.0v1.0h-1.0zM208.3 42.9h1.0v1.0h-1.0zM203.0 43.8h1.0v1.0h-1.0zM206.0 48.5h1.0v1.0h-1.0zM206.2 47.5h1.0v1.0h-1.0zM204.9 47.8h1.0v1.0h-1.0zM207.1 57.0h1.0v1.0h-1.0zM205.3 54.3h1.0v1.0h-1.0zM205.0 43.2h1.0v1.0h-1.0zM210.7 43.5h1.0v1.0h-1.0zM208.4 56.5h1.0v1.0h-1.0zM209.4 45.4h1.0v1.0h-1.0zM206.9 54.7h1.0v1.0h-1.0zM208.9 55.9h1.0v1.0h-1.0zM208.5 44.1h1.0v1.0h-1.0zM209.4 45.6h1.0v1.0h-1.0zM212.0 47.6h1.0v1.0h-1.0zM206.3 42.4h1.0v1.0h-1.0zM207.3 41.7h1.0v1.0h-1.0zM206.7 44.9h1.0v1.0h-1.0zM203.7 44.6h1.0v1.0h-1.0zM206.8 46.0h1.0v1.0h-1.0zM208.2 44.6h1.0v1.0h-1.0zM205.5 39.6h1.0v1.0h-1.0zM209.3 55.3h1.0v1.0h-1.0zM209.6 34.2h1.0v1.0h-1.0zM205.9 43.5h1.0v1.0h-1.0zM209.9 50.2h1.0v1.0h-1.0zM210.6 39.4h1.0v1.0h-1.0zM207.8 50.4h1.0v1.0h-1.0zM204.6 54.0h1.0v1.0h-1.0zM210.0 42.4h1.0v1.0h-1.0zM206.4 48.3h1.0v1.0h-1.0zM206.0 41.0h1.0v1.0h-1.0zM207.0 49.9h1.0v1.0h-1.0zM205.6 47.6h1.0v1.0h-1.0zM209.2 48.3h1.0v1.0h-1.0zM208.5 54.6h1.0v1.0h-1.0zM209.5 49.7h1.0v1.0h-1.0zM208.1 54.5h1.0v1.0h-1.0zM205.1 50.6h1.0v1.0h-1.0zM206.4 40.5h1.0v1.0h-1.0zM208.7 48.5h1.0v1.0h-1.0zM205.9 49.8h1.0v1.0h-1.0zM213.2 39.2h1.0v1.0h-1.0zM206.3 54.4h1.0v1.0h-1.0zM205.5 47.5h1.0v1.0h-1.0zM209.3 49.1h1.0v1.0h-1.0zM208.4 42.2h1.0v1.0h-1.0zM206.7 47.5h1.0v1.0h-1.0zM206.3 48.8h1.0v1.0h-1.0zM207.7 45.3h1.0v1.0h-1.0zM208.6 47.5h1.0v1.0h-1.0zM208.5 35.4h1.0v1.0h-1.0zM206.1 54.6h1.0v1.0h-1.0zM207.8 41.0h1.0v1.0h-1.0zM208.7 35.1h1.0v1.0h-1.0zM208.5 41.8h1.0v1.0h-1.0zM204.8 50.1h1.0v1.0h-1.0zM205.1 42.1h1.0v1.0h-1.0zM206.3 48.7h1.0v1.0h-1.0zM207.2 41.8h1.0v1.0h-1.0zM208.8 59.2h1.0v1.0h-1.0zM208.2 50.1h1.0v1.0h-1.0zM206.5 57.9h1.0v1.0h-1.0zM206.9 41.5h1.0v1.0h-1.0zM210.7 50.8h1.0v1.0h-1.0zM205.5 41.8h1.0v1.0h-1.0zM207.5 50.3h1.0v1.0h-1.0zM210.2 50.8h1.0v1.0h-1.0zM207.6 38.3h1.0v1.0h-1.0zM202.3 40.8h1.0v1.0h-1.0zM207.6 40.7h1.0v1.0h-1.0zM205.9 38.8h1.0v1.0h-1.0zM206.6 43.1h1.0v1.0h-1.0zM209.1 41.8h1.0v1.0h-1.0zM207.8 39.1h1.0v1.0h-1.0zM206.2 47.6h1.0v1.0h-1.0zM208.8 50.1h1.0v1.0h-1.0zM207.8 39.9h1.0v1.0h-1.0zM207.0 44.0h1.0v1.0h-1.0zM207.5 47.1h1.0v1.0h-1.0zM207.4 45.8h1.0v1.0h-1.0zM206.1 43.2h1.0v1.0h-1.0zM205.8 51.5h1.0v1.0h-1.0zM206.9 51.7h1.0v1.0h-1.0zM204.7 50.8h1.0v1.0h-1.0zM204.0 45.9h1.0v1.0h-1.0zM209.7 58.0h1.0v1.0h-1.0zM206.3 56.6h1.0v1.0h-1.0zM206.7 44.9h1.0v1.0h-1.0zM206.5 46.4h1.0v1.0h-1.0zM206.9 53.6h1.0v1.0h-1.0zM206.8 42.7h1.0v1.0h-1.0zM206.9 49.3h1.0v1.0h-1.0zM205.0 47.3h1.0v1.0h-1.0zM208.9 43.2h1.0v1.0h-1.0zM205.3 45.8h1.0v1.0h-1.0zM209.1 38.4h1.0v1.0h-1.0zM202.6 44.1h1.0v1.0h-1.0zM204.5 36.1h1.0v1.0h-1.0zM209.0 59.6h1.0v1.0h-1.0zM206.5 55.3h1.0v1.0h-1.0zM205.3 53.8h1.0v1.0h-1.0zM207.6 48.7h1.0v1.0h-1.0zM204.5 52.5h1.0v1.0h-1.0zM207.0 54.0h1.0v1.0h-1.0zM201.9 52.6h1.0v1.0h-1.0zM205.8 52.1h1.0v1.0h-1.0zM205.4 42.0h1.0v1.0h-1.0zM208.0 49.4h1.0v1.0h-1.0zM208.7 44.1h1.0v1.0h-1.0zM204.9 40.5h1.0v1.0h-1.0zM210.3 40.8h1.0v1.0h-1.0zM205.5 49.4h1.0v1.0h-1.0zM202.3 52.8h1.0v1.0h-1.0zM201.6 39.5h1.0v1.0h-1.0zM210.2 56.6h1.0v1.0h-1.0zM213.8 56.1h1.0v1.0h-1.0zM211.3 47.7h1.0v1.0h-1.0zM206.1 57.0h1.0v1.0h-1.0zM205.8 34.0h1.0v1.0h-1.0zM204.5 32.0h1.0v1.0h-1.0zM207.7 34.7h1.0v1.0h-1.0zM207.0 45.1h1.0v1.0h-1.0zM206.0 43.0h1.0v1.0h-1.0zM214.2 60.8h1.0v1.0h-1.0zM212.7 61.9h1.0v1.0h-1.0zM208.9 36.0h1.0v1.0h-1.0zM215.5 57.0h1.0v1.0h-1.0zM211.4 47.3h1.0v1.0h-1.0zM215.3 57.2h1.0v1.0h-1.0zM213.5 43.1h1.0v1.0h-1.0zM210.9 55.2h1.0v1.0h-1.0zM211.7 32.1h1.0v1.0h-1.0zM212.8 46.0h1.0v1.0h-1.0zM212.6 42.0h1.0v1.0h-1.0zM214.2 39.6h1.0v1.0h-1.0zM206.8 41.0h1.0v1.0h-1.0zM207.1 44.6h1.0v1.0h-1.0zM205.5 46.9h1.0v1.0h-1.0zM214.9 47.7h1.0v1.0h-1.0zM214.7 54.0h1.0v1.0h-1.0zM208.2 56.8h1.0v1.0h-1.0zM207.6 60.8h1.0v1.0h-1.0zM203.9 52.1h1.0v1.0h-1.0zM215.7 39.7h1.0v1.0h-1.0zM211.4 49.4h1.0v1.0h-1.0zM215.5 45.2h1.0v1.0h-1.0zM210.9 39.1h1.0v1.0h-1.0zM209.2 42.0h1.0v1.0h-1.0zM212.5 38.9h1.0v1.0h-1.0zM214.4 48.2h1.0v1.0h-1.0zM213.8 34.0h1.0v1.0h-1.0zM206.8 48.3h1.0v1.0h-1.0zM209.1 44.4h1.0v1.0h-1.0zM215.2 32.2h1.0v1.0h-1.0zM209.1 40.3h1.0v1.0h-1.0zM233.5 47.5h1.0v1.0h-1.0zM226.1 47.3h1.0v1.0h-1.0zM229.1 50.1h1.0v1.0h-1.0zM229.8 47.6h1.0v1.0h-1.0zM225.1 46.1h1.0v1.0h-1.0zM228.3 61.1h1.0v1.0h-1.0zM228.3 51.5h1.0v1.0h-1.0zM226.5 49.2h1.0v1.0h-1.0zM229.4 49.7h1.0v1.0h-1.0zM230.7 49.9h1.0v1.0h-1.0zM231.0 59.6h1.0v1.0h-1.0zM227.3 54.1h1.0v1.0h-1.0zM228.3 57.9h1.0v1.0h-1.0zM234.4 32.5h1.0v1.0h-1.0zM224.7 53.2h1.0v1.0h-1.0zM228.4 57.6h1.0v1.0h-1.0zM228.2 51.4h1.0v1.0h-1.0zM229.6 40.9h1.0v1.0h-1.0zM228.3 54.7h1.0v1.0h-1.0zM229.9 47.6h1.0v1.0h-1.0zM231.4 40.5h1.0v1.0h-1.0zM227.2 47.5h1.0v1.0h-1.0zM228.4 57.5h1.0v1.0h-1.0zM227.6 58.4h1.0v1.0h-1.0zM226.7 55.5h1.0v1.0h-1.0zM227.7 44.9h1.0v1.0h-1.0zM229.9 44.2h1.0v1.0h-1.0zM232.6 50.8h1.0v1.0h-1.0zM232.6 42.5h1.0v1.0h-1.0zM231.4 59.1h1.0v1.0h-1.0zM225.1 53.9h1.0v1.0h-1.0zM232.1 56.6h1.0v1.0h-1.0zM225.8 51.8h1.0v1.0h-1.0zM227.7 50.8h1.0v1.0h-1.0zM233.0 52.3h1.0v1.0h-1.0zM224.8 39.9h1.0v1.0h-1.0zM230.2 57.2h1.0v1.0h-1.0zM228.6 56.7h1.0v1.0h-1.0zM227.4 48.9h1.0v1.0h-1.0zM225.3 51.2h1.0v1.0h-1.0zM229.0 53.0h1.0v1.0h-1.0zM226.5 60.7h1.0v1.0h-1.0zM230.7 53.8h1.0v1.0h-1.0zM231.2 51.5h1.0v1.0h-1.0zM223.9 48.2h1.0v1.0h-1.0zM226.4 42.2h1.0v1.0h-1.0zM226.9 47.7h1.0v1.0h-1.0zM224.5 51.7h1.0v1.0h-1.0zM224.7 49.7h1.0v1.0h-1.0zM228.0 51.7h1.0v1.0h-1.0zM227.2 55.7h1.0v1.0h-1.0zM223.2 53.9h1.0v1.0h-1.0zM226.3 52.9h1.0v1.0h-1.0zM229.3 55.2h1.0v1.0h-1.0zM224.4 52.4h1.0v1.0h-1.0zM225.2 51.1h1.0v1.0h-1.0zM232.2 54.1h1.0v1.0h-1.0zM231.5 40.9h1.0v1.0h-1.0zM223.3 58.8h1.0v1.0h-1.0zM224.0 43.5h1.0v1.0h-1.0zM228.9 56.3h1.0v1.0h-1.0zM224.5 51.4h1.0v1.0h-1.0zM227.1 57.9h1.0v1.0h-1.0zM226.5 51.5h1.0v1.0h-1.0zM229.4 45.6h1.0v1.0h-1.0zM220.7 57.7h1.0v1.0h-1.0zM221.6 52.4h1.0v1.0h-1.0zM224.4 52.0h1.0v1.0h-1.0zM230.6 51.8h1.0v1.0h-1.0zM227.4 57.3h1.0v1.0h-1.0zM223.0 56.2h1.0v1.0h-1.0zM229.2 52.7h1.0v1.0h-1.0zM229.8 42.0h1.0v1.0h-1.0zM227.1 48.9h1.0v1.0h-1.0zM226.9 51.9h1.0v1.0h-1.0zM231.2 53.6h1.0v1.0h-1.0zM228.2 50.8h1.0v1.0h-1.0zM229.3 58.5h1.0v1.0h-1.0zM227.7 50.6h1.0v1.0h-1.0zM226.7 51.2h1.0v1.0h-1.0zM225.2 52.3h1.0v1.0h-1.0zM228.5 42.3h1.0v1.0h-1.0zM227.0 57.1h1.0v1.0h-1.0zM227.1 53.9h1.0v1.0h-1.0zM230.4 49.6h1.0v1.0h-1.0zM229.2 44.5h1.0v1.0h-1.0zM230.2 52.6h1.0v1.0h-1.0zM223.4 59.7h1.0v1.0h-1.0zM229.4 47.5h1.0v1.0h-1.0zM226.1 45.0h1.0v1.0h-1.0zM225.5 53.9h1.0v1.0h-1.0zM225.4 41.8h1.0v1.0h-1.0zM231.2 38.0h1.0v1.0h-1.0zM230.1 48.7h1.0v1.0h-1.0zM225.8 47.2h1.0v1.0h-1.0zM224.6 49.7h1.0v1.0h-1.0zM227.8 48.0h1.0v1.0h-1.0zM226.5 53.3h1.0v1.0h-1.0zM232.4 50.0h1.0v1.0h-1.0zM223.7 47.7h1.0v1.0h-1.0zM222.7 48.6h1.0v1.0h-1.0zM227.1 55.1h1.0v1.0h-1.0zM227.8 57.1h1.0v1.0h-1.0zM228.2 56.8h1.0v1.0h-1.0zM229.9 55.5h1.0v1.0h-1.0zM233.6 31.6h1.0v1.0h-1.0zM226.8 45.3h1.0v1.0h-1.0zM226.3 49.5h1.0v1.0h-1.0zM222.9 52.6h1.0v1.0h-1.0zM228.5 41.6h1.0v1.0h-1.0zM230.2 59.9h1.0v1.0h-1.0zM227.1 53.2h1.0v1.0h-1.0zM231.1 47.6h1.0v1.0h-1.0zM227.9 52.3h1.0v1.0h-1.0zM232.0 49.3h1.0v1.0h-1.0zM228.7 46.8h1.0v1.0h-1.0zM224.8 54.4h1.0v1.0h-1.0zM226.0 48.6h1.0v1.0h-1.0zM223.5 42.9h1.0v1.0h-1.0zM222.9 47.6h1.0v1.0h-1.0zM228.5 50.7h1.0v1.0h-1.0zM230.2 44.9h1.0v1.0h-1.0zM233.3 58.9h1.0v1.0h-1.0zM227.6 44.8h1.0v1.0h-1.0zM227.1 61.9h1.0v1.0h-1.0zM224.7 56.7h1.0v1.0h-1.0zM230.6 45.7h1.0v1.0h-1.0zM228.9 52.2h1.0v1.0h-1.0zM226.1 58.5h1.0v1.0h-1.0zM229.7 50.2h1.0v1.0h-1.0zM229.4 44.2h1.0v1.0h-1.0zM222.6 52.1h1.0v1.0h-1.0zM228.2 42.4h1.0v1.0h-1.0zM226.7 54.7h1.0v1.0h-1.0zM226.6 51.4h1.0v1.0h-1.0zM232.7 50.7h1.0v1.0h-1.0zM232.1 49.1h1.0v1.0h-1.0zM232.9 49.5h1.0v1.0h-1.0zM224.6 57.6h1.0v1.0h-1.0zM226.0 55.0h1.0v1.0h-1.0zM230.3 45.4h1.0v1.0h-1.0zM224.4 60.8h1.0v1.0h-1.0zM225.8 43.6h1.0v1.0h-1.0zM222.7 55.4h1.0v1.0h-1.0zM233.0 52.5h1.0v1.0h-1.0zM230.8 58.6h1.0v1.0h-1.0zM229.1 53.6h1.0v1.0h-1.0zM228.4 57.8h1.0v1.0h-1.0zM226.6 51.3h1.0v1.0h-1.0zM226.7 57.3h1.0v1.0h-1.0zM229.5 53.5h1.0v1.0h-1.0zM231.2 47.3h1.0v1.0h-1.0zM226.4 58.6h1.0v1.0h-1.0zM225.4 54.2h1.0v1.0h-1.0zM231.4 52.5h1.0v1.0h-1.0zM227.4 48.0h1.0v1.0h-1.0zM229.4 54.1h1.0v1.0h-1.0zM226.6 42.6h1.0v1.0h-1.0zM221.5 43.2h1.0v1.0h-1.0zM229.3 55.7h1.0v1.0h-1.0zM224.0 42.1h1.0v1.0h-1.0zM230.8 60.1h1.0v1.0h-1.0zM223.5 49.8h1.0v1.0h-1.0zM222.6 52.9h1.0v1.0h-1.0zM228.7 51.9h1.0v1.0h-1.0zM229.0 54.0h1.0v1.0h-1.0zM228.1 49.8h1.0v1.0h-1.0zM224.4 49.2h1.0v1.0h-1.0zM230.3 50.7h1.0v1.0h-1.0zM223.7 57.7h1.0v1.0h-1.0zM226.5 58.3h1.0v1.0h-1.0zM225.6 59.1h1.0v1.0h-1.0zM226.7 53.6h1.0v1.0h-1.0zM230.2 50.2h1.0v1.0h-1.0zM226.0 41.4h1.0v1.0h-1.0zM229.4 55.3h1.0v1.0h-1.0zM229.7 56.5h1.0v1.0h-1.0zM223.0 49.0h1.0v1.0h-1.0zM224.5 56.3h1.0v1.0h-1.0zM226.7 59.2h1.0v1.0h-1.0zM226.1 52.0h1.0v1.0h-1.0zM228.7 57.8h1.0v1.0h-1.0zM222.4 53.3h1.0v1.0h-1.0zM229.8 41.0h1.0v1.0h-1.0zM229.9 48.6h1.0v1.0h-1.0zM227.3 49.0h1.0v1.0h-1.0zM223.9 54.6h1.0v1.0h-1.0zM227.8 46.3h1.0v1.0h-1.0zM226.3 48.8h1.0v1.0h-1.0zM229.4 45.7h1.0v1.0h-1.0zM227.6 51.2h1.0v1.0h-1.0zM229.8 51.9h1.0v1.0h-1.0zM226.6 57.3h1.0v1.0h-1.0zM231.8 56.2h1.0v1.0h-1.0zM221.3 52.4h1.0v1.0h-1.0zM225.0 52.9h1.0v1.0h-1.0zM229.2 52.1h1.0v1.0h-1.0zM223.6 52.1h1.0v1.0h-1.0zM229.9 60.7h1.0v1.0h-1.0zM224.4 36.5h1.0v1.0h-1.0zM228.1 50.4h1.0v1.0h-1.0zM225.2 53.3h1.0v1.0h-1.0zM226.6 58.2h1.0v1.0h-1.0zM228.3 44.9h1.0v1.0h-1.0zM227.5 53.5h1.0v1.0h-1.0zM226.7 56.6h1.0v1.0h-1.0zM233.8 48.8h1.0v1.0h-1.0zM227.8 40.0h1.0v1.0h-1.0zM225.1 49.3h1.0v1.0h-1.0zM230.4 44.3h1.0v1.0h-1.0zM230.1 55.4h1.0v1.0h-1.0zM231.2 46.4h1.0v1.0h-1.0zM225.2 52.3h1.0v1.0h-1.0zM230.8 46.6h1.0v1.0h-1.0zM231.0 48.4h1.0v1.0h-1.0zM227.8 44.9h1.0v1.0h-1.0zM228.5 53.8h1.0v1.0h-1.0zM219.4 60.4h1.0v1.0h-1.0zM226.2 50.2h1.0v1.0h-1.0zM232.8 57.0h1.0v1.0h-1.0zM222.8 45.8h1.0v1.0h-1.0zM226.3 53.3h1.0v1.0h-1.0zM229.4 43.0h1.0v1.0h-1.0zM232.4 58.9h1.0v1.0h-1.0zM222.9 58.5h1.0v1.0h-1.0zM227.9 40.2h1.0v1.0h-1.0zM230.2 42.9h1.0v1.0h-1.0zM224.1 45.6h1.0v1.0h-1.0zM227.7 57.3h1.0v1.0h-1.0zM233.1 48.9h1.0v1.0h-1.0zM231.5 50.5h1.0v1.0h-1.0zM229.3 55.7h1.0v1.0h-1.0zM220.5 52.2h1.0v1.0h-1.0zM227.4 52.8h1.0v1.0h-1.0zM228.9 49.5h1.0v1.0h-1.0zM226.9 58.2h1.0v1.0h-1.0zM227.6 46.8h1.0v1.0h-1.0zM236.4 61.5h1.0v1.0h-1.0zM227.2 49.4h1.0v1.0h-1.0zM225.1 46.7h1.0v1.0h-1.0zM228.5 55.3h1.0v1.0h-1.0zM226.9 54.2h1.0v1.0h-1.0zM226.9 39.6h1.0v1.0h-1.0zM227.6 52.8h1.0v1.0h-1.0zM230.0 43.4h1.0v1.0h-1.0zM228.5 46.5h1.0v1.0h-1.0zM224.4 56.2h1.0v1.0h-1.0zM227.4 46.3h1.0v1.0h-1.0zM229.1 53.6h1.0v1.0h-1.0zM226.5 49.2h1.0v1.0h-1.0zM230.0 50.9h1.0v1.0h-1.0zM225.0 44.4h1.0v1.0h-1.0zM228.7 44.8h1.0v1.0h-1.0zM233.4 46.0h1.0v1.0h-1.0zM232.2 52.2h1.0v1.0h-1.0zM227.6 51.4h1.0v1.0h-1.0zM230.3 57.2h1.0v1.0h-1.0zM225.9 52.4h1.0v1.0h-1.0zM223.7 52.2h1.0v1.0h-1.0zM229.4 53.4h1.0v1.0h-1.0zM228.5 50.6h1.0v1.0h-1.0zM229.2 53.2h1.0v1.0h-1.0zM227.7 56.1h1.0v1.0h-1.0zM228.7 56.1h1.0v1.0h-1.0zM226.4 48.1h1.0v1.0h-1.0zM229.1 40.8h1.0v1.0h-1.0zM230.1 46.5h1.0v1.0h-1.0zM227.6 53.1h1.0v1.0h-1.0zM230.1 36.5h1.0v1.0h-1.0zM222.8 48.5h1.0v1.0h-1.0zM225.6 54.1h1.0v1.0h-1.0zM231.8 48.0h1.0v1.0h-1.0zM232.7 44.7h1.0v1.0h-1.0zM228.5 61.9h1.0v1.0h-1.0zM227.5 59.7h1.0v1.0h-1.0zM224.2 49.8h1.0v1.0h-1.0zM228.8 59.3h1.0v1.0h-1.0zM230.0 59.2h1.0v1.0h-1.0zM223.7 44.6h1.0v1.0h-1.0zM229.2 45.7h1.0v1.0h-1.0zM229.0 49.8h1.0v1.0h-1.0zM224.6 44.8h1.0v1.0h-1.0zM229.3 51.8h1.0v1.0h-1.0zM223.6 43.5h1.0v1.0h-1.0zM232.0 51.3h1.0v1.0h-1.0zM228.2 57.8h1.0v1.0h-1.0zM224.5 52.6h1.0v1.0h-1.0zM231.6 49.7h1.0v1.0h-1.0zM231.0 60.6h1.0v1.0h-1.0zM226.0 46.0h1.0v1.0h-1.0zM234.0 57.1h1.0v1.0h-1.0zM225.0 49.5h1.0v1.0h-1.0zM228.7 52.6h1.0v1.0h-1.0zM231.1 51.5h1.0v1.0h-1.0zM221.4 52.1h1.0v1.0h-1.0zM230.6 51.0h1.0v1.0h-1.0zM227.6 46.6h1.0v1.0h-1.0zM227.8 47.9h1.0v1.0h-1.0zM224.8 53.9h1.0v1.0h-1.0zM228.7 50.6h1.0v1.0h-1.0zM224.7 44.3h1.0v1.0h-1.0zM225.1 47.1h1.0v1.0h-1.0zM226.5 47.1h1.0v1.0h-1.0zM224.4 50.9h1.0v1.0h-1.0zM232.2 52.3h1.0v1.0h-1.0zM224.1 51.8h1.0v1.0h-1.0zM225.7 47.3h1.0v1.0h-1.0zM226.9 51.4h1.0v1.0h-1.0zM227.8 43.0h1.0v1.0h-1.0zM230.0 34.0h1.0v1.0h-1.0zM230.1 50.9h1.0v1.0h-1.0zM227.0 41.3h1.0v1.0h-1.0zM226.7 45.6h1.0v1.0h-1.0zM227.9 44.0h1.0v1.0h-1.0zM230.1 55.0h1.0v1.0h-1.0zM229.8 44.0h1.0v1.0h-1.0zM226.4 52.9h1.0v1.0h-1.0zM222.0 48.3h1.0v1.0h-1.0zM233.8 43.8h1.0v1.0h-1.0zM230.5 41.7h1.0v1.0h-1.0zM228.5 54.0h1.0v1.0h-1.0zM228.8 53.5h1.0v1.0h-1.0zM226.3 55.8h1.0v1.0h-1.0zM226.9 52.8h1.0v1.0h-1.0zM227.2 52.8h1.0v1.0h-1.0zM226.0 50.4h1.0v1.0h-1.0zM223.7 51.8h1.0v1.0h-1.0zM226.9 49.0h1.0v1.0h-1.0zM229.4 45.8h1.0v1.0h-1.0zM227.9 39.9h1.0v1.0h-1.0zM222.0 52.6h1.0v1.0h-1.0zM227.2 53.8h1.0v1.0h-1.0zM227.5 52.0h1.0v1.0h-1.0zM224.4 45.3h1.0v1.0h-1.0zM223.0 49.9h1.0v1.0h-1.0zM229.0 48.3h1.0v1.0h-1.0zM225.5 44.6h1.0v1.0h-1.0zM229.2 50.8h1.0v1.0h-1.0zM226.6 48.6h1.0v1.0h-1.0zM229.5 47.7h1.0v1.0h-1.0zM226.9 55.1h1.0v1.0h-1.0zM223.6 44.7h1.0v1.0h-1.0zM227.6 53.7h1.0v1.0h-1.0zM226.9 47.4h1.0v1.0h-1.0zM229.6 53.6h1.0v1.0h-1.0zM226.5 51.4h1.0v1.0h-1.0zM226.7 52.5h1.0v1.0h-1.0zM230.2 45.1h1.0v1.0h-1.0zM231.1 46.4h1.0v1.0h-1.0zM229.9 45.9h1.0v1.0h-1.0zM230.7 52.0h1.0v1.0h-1.0zM229.1 55.5h1.0v1.0h-1.0zM230.0 57.4h1.0v1.0h-1.0zM230.3 48.0h1.0v1.0h-1.0zM228.9 51.5h1.0v1.0h-1.0zM228.0 41.3h1.0v1.0h-1.0zM228.2 37.7h1.0v1.0h-1.0zM234.5 45.8h1.0v1.0h-1.0zM227.8 47.0h1.0v1.0h-1.0zM227.1 41.7h1.0v1.0h-1.0zM226.8 40.3h1.0v1.0h-1.0zM227.7 54.1h1.0v1.0h-1.0zM228.5 46.1h1.0v1.0h-1.0zM224.6 40.9h1.0v1.0h-1.0zM228.6 52.0h1.0v1.0h-1.0zM223.3 49.0h1.0v1.0h-1.0zM228.5 55.0h1.0v1.0h-1.0zM228.2 46.4h1.0v1.0h-1.0zM231.0 60.4h1.0v1.0h-1.0zM232.5 41.7h1.0v1.0h-1.0zM228.8 43.1h1.0v1.0h-1.0zM226.2 50.1h1.0v1.0h-1.0zM224.5 46.3h1.0v1.0h-1.0zM225.6 59.3h1.0v1.0h-1.0zM227.9 41.3h1.0v1.0h-1.0zM222.0 46.5h1.0v1.0h-1.0zM228.0 52.3h1.0v1.0h-1.0zM227.8 54.2h1.0v1.0h-1.0zM229.6 56.8h1.0v1.0h-1.0zM226.9 52.9h1.0v1.0h-1.0zM225.7 48.0h1.0v1.0h-1.0zM226.5 51.9h1.0v1.0h-1.0zM222.8 55.9h1.0v1.0h-1.0zM228.1 48.9h1.0v1.0h-1.0zM232.1 49.1h1.0v1.0h-1.0zM228.3 48.0h1.0v1.0h-1.0zM228.8 46.9h1.0v1.0h-1.0zM225.1 44.0h1.0v1.0h-1.0zM231.8 47.5h1.0v1.0h-1.0zM225.7 41.5h1.0v1.0h-1.0zM230.0 53.1h1.0v1.0h-1.0zM228.1 41.3h1.0v1.0h-1.0zM230.7 60.9h1.0v1.0h-1.0zM227.8 57.4h1.0v1.0h-1.0zM228.3 49.5h1.0v1.0h-1.0zM229.1 47.2h1.0v1.0h-1.0zM227.7 58.1h1.0v1.0h-1.0zM226.7 51.8h1.0v1.0h-1.0zM229.1 54.1h1.0v1.0h-1.0zM226.7 46.4h1.0v1.0h-1.0zM228.0 57.1h1.0v1.0h-1.0zM225.9 46.0h1.0v1.0h-1.0zM223.6 51.4h1.0v1.0h-1.0zM225.9 40.4h1.0v1.0h-1.0zM226.4 46.8h1.0v1.0h-1.0zM227.8 53.7h1.0v1.0h-1.0zM231.1 48.0h1.0v1.0h-1.0zM223.1 48.0h1.0v1.0h-1.0zM228.2 55.4h1.0v1.0h-1.0zM221.6 50.3h1.0v1.0h-1.0zM224.9 58.1h1.0v1.0h-1.0zM226.4 36.3h1.0v1.0h-1.0zM221.5 54.1h1.0v1.0h-1.0zM222.6 53.7h1.0v1.0h-1.0zM228.2 41.5h1.0v1.0h-1.0zM228.0 42.9h1.0v1.0h-1.0zM227.5 55.9h1.0v1.0h-1.0zM225.5 44.3h1.0v1.0h-1.0zM233.8 46.9h1.0v1.0h-1.0zM227.3 54.3h1.0v1.0h-1.0zM225.4 48.7h1.0v1.0h-1.0zM232.5 53.5h1.0v1.0h-1.0zM229.5 45.5h1.0v1.0h-1.0zM226.8 52.5h1.0v1.0h-1.0zM231.1 57.2h1.0v1.0h-1.0zM228.2 52.6h1.0v1.0h-1.0zM229.6 37.6h1.0v1.0h-1.0zM228.5 54.6h1.0v1.0h-1.0zM224.9 51.0h1.0v1.0h-1.0zM230.5 45.3h1.0v1.0h-1.0zM228.2 59.0h1.0v1.0h-1.0zM225.0 40.3h1.0v1.0h-1.0zM225.7 61.9h1.0v1.0h-1.0zM230.5 46.9h1.0v1.0h-1.0zM226.8 60.1h1.0v1.0h-1.0zM227.9 50.4h1.0v1.0h-1.0zM229.6 42.7h1.0v1.0h-1.0zM228.2 51.2h1.0v1.0h-1.0zM223.5 52.7h1.0v1.0h-1.0zM229.6 53.9h1.0v1.0h-1.0zM230.4 57.0h1.0v1.0h-1.0zM230.2 45.3h1.0v1.0h-1.0zM232.3 53.6h1.0v1.0h-1.0zM228.8 55.1h1.0v1.0h-1.0zM230.0 49.1h1.0v1.0h-1.0zM232.3 45.1h1.0v1.0h-1.0zM227.0 45.0h1.0v1.0h-1.0zM232.7 55.2h1.0v1.0h-1.0zM232.7 55.4h1.0v1.0h-1.0zM230.0 45.7h1.0v1.0h-1.0zM233.0 42.7h1.0v1.0h-1.0zM230.2 58.1h1.0v1.0h-1.0zM225.3 41.4h1.0v1.0h-1.0zM231.0 51.6h1.0v1.0h-1.0zM228.7 45.9h1.0v1.0h-1.0zM229.0 40.2h1.0v1.0h-1.0zM228.2 51.4h1.0v1.0h-1.0zM231.6 49.5h1.0v1.0h-1.0zM229.3 59.3h1.0v1.0h-1.0zM229.2 49.5h1.0v1.0h-1.0zM229.8 56.8h1.0v1.0h-1.0zM225.8 56.9h1.0v1.0h-1.0zM226.6 47.5h1.0v1.0h-1.0zM226.7 45.5h1.0v1.0h-1.0zM226.1 60.3h1.0v1.0h-1.0zM228.8 48.5h1.0v1.0h-1.0zM230.6 50.5h1.0v1.0h-1.0zM233.1 48.9h1.0v1.0h-1.0zM231.1 49.9h1.0v1.0h-1.0zM230.7 47.1h1.0v1.0h-1.0zM231.0 55.1h1.0v1.0h-1.0zM231.5 58.2h1.0v1.0h-1.0zM226.7 48.4h1.0v1.0h-1.0zM229.7 42.4h1.0v1.0h-1.0zM228.7 51.0h1.0v1.0h-1.0zM227.4 41.8h1.0v1.0h-1.0zM226.5 46.8h1.0v1.0h-1.0zM226.4 58.0h1.0v1.0h-1.0zM224.3 52.9h1.0v1.0h-1.0zM229.3 44.3h1.0v1.0h-1.0zM227.7 55.3h1.0v1.0h-1.0zM228.1 37.3h1.0v1.0h-1.0zM228.7 46.5h1.0v1.0h-1.0zM229.8 59.8h1.0v1.0h-1.0zM226.1 55.1h1.0v1.0h-1.0zM227.5 42.4h1.0v1.0h-1.0zM223.3 40.7h1.0v1.0h-1.0zM221.6 55.8h1.0v1.0h-1.0zM222.4 50.4h1.0v1.0h-1.0zM232.1 47.1h1.0v1.0h-1.0zM222.7 53.1h1.0v1.0h-1.0zM229.1 47.2h1.0v1.0h-1.0zM231.9 39.2h1.0v1.0h-1.0zM226.5 55.5h1.0v1.0h-1.0zM232.4 46.8h1.0v1.0h-1.0zM233.0 44.7h1.0v1.0h-1.0zM230.4 42.7h1.0v1.0h-1.0zM234.4 52.2h1.0v1.0h-1.0zM229.5 45.9h1.0v1.0h-1.0zM225.8 54.4h1.0v1.0h-1.0zM229.3 49.1h1.0v1.0h-1.0zM226.6 57.1h1.0v1.0h-1.0zM224.2 48.4h1.0v1.0h-1.0zM224.2 46.8h1.0v1.0h-1.0zM234.3 38.9h1.0v1.0h-1.0zM226.3 44.1h1.0v1.0h-1.0zM227.7 55.0h1.0v1.0h-1.0zM228.2 43.2h1.0v1.0h-1.0zM227.2 44.5h1.0v1.0h-1.0zM226.7 52.7h1.0v1.0h-1.0zM224.4 53.5h1.0v1.0h-1.0zM223.9 46.6h1.0v1.0h-1.0zM225.7 51.1h1.0v1.0h-1.0zM228.7 41.1h1.0v1.0h-1.0zM233.6 48.9h1.0v1.0h-1.0zM230.8 56.0h1.0v1.0h-1.0zM232.9 60.4h1.0v1.0h-1.0zM229.2 49.7h1.0v1.0h-1.0zM227.6 49.1h1.0v1.0h-1.0zM224.1 53.4h1.0v1.0h-1.0zM227.9 57.3h1.0v1.0h-1.0zM221.8 53.6h1.0v1.0h-1.0zM227.0 46.2h1.0v1.0h-1.0zM232.4 52.8h1.0v1.0h-1.0zM228.8 56.4h1.0v1.0h-1.0zM231.0 46.4h1.0v1.0h-1.0zM226.8 42.7h1.0v1.0h-1.0zM224.0 53.7h1.0v1.0h-1.0zM226.5 52.9h1.0v1.0h-1.0zM226.7 56.4h1.0v1.0h-1.0zM231.2 51.2h1.0v1.0h-1.0zM233.4 46.8h1.0v1.0h-1.0zM225.8 48.1h1.0v1.0h-1.0zM226.9 44.5h1.0v1.0h-1.0zM227.5 45.0h1.0v1.0h-1.0zM226.9 47.3h1.0v1.0h-1.0zM224.4 47.8h1.0v1.0h-1.0zM228.1 57.3h1.0v1.0h-1.0zM228.9 43.4h1.0v1.0h-1.0zM228.9 50.4h1.0v1.0h-1.0zM224.5 47.2h1.0v1.0h-1.0zM227.6 59.6h1.0v1.0h-1.0zM223.0 52.3h1.0v1.0h-1.0zM230.4 48.5h1.0v1.0h-1.0zM225.0 55.6h1.0v1.0h-1.0zM227.1 51.1h1.0v1.0h-1.0zM226.6 47.9h1.0v1.0h-1.0zM226.2 59.9h1.0v1.0h-1.0zM224.9 54.9h1.0v1.0h-1.0zM222.9 61.0h1.0v1.0h-1.0zM232.7 57.6h1.0v1.0h-1.0zM228.6 55.3h1.0v1.0h-1.0zM228.6 51.5h1.0v1.0h-1.0zM233.8 44.2h1.0v1.0h-1.0zM227.6 54.9h1.0v1.0h-1.0zM229.4 51.2h1.0v1.0h-1.0zM227.9 54.8h1.0v1.0h-1.0zM231.2 50.7h1.0v1.0h-1.0zM229.3 46.6h1.0v1.0h-1.0zM228.8 44.7h1.0v1.0h-1.0zM227.2 54.9h1.0v1.0h-1.0zM228.7 58.4h1.0v1.0h-1.0zM231.1 49.0h1.0v1.0h-1.0zM222.1 53.4h1.0v1.0h-1.0zM227.5 59.0h1.0v1.0h-1.0zM226.7 45.8h1.0v1.0h-1.0zM227.0 48.7h1.0v1.0h-1.0zM222.4 44.1h1.0v1.0h-1.0zM229.9 57.8h1.0v1.0h-1.0zM225.5 52.3h1.0v1.0h-1.0zM227.3 48.0h1.0v1.0h-1.0zM226.5 40.9h1.0v1.0h-1.0zM223.2 49.7h1.0v1.0h-1.0zM226.6 56.7h1.0v1.0h-1.0zM222.7 49.0h1.0v1.0h-1.0zM225.3 48.2h1.0v1.0h-1.0zM227.0 54.6h1.0v1.0h-1.0zM227.9 43.4h1.0v1.0h-1.0zM228.0 51.1h1.0v1.0h-1.0zM227.5 54.3h1.0v1.0h-1.0zM233.9 46.1h1.0v1.0h-1.0zM229.1 45.8h1.0v1.0h-1.0zM224.5 52.2h1.0v1.0h-1.0zM230.1 50.4h1.0v1.0h-1.0zM233.0 57.2h1.0v1.0h-1.0zM229.4 57.8h1.0v1.0h-1.0zM228.0 61.5h1.0v1.0h-1.0zM225.9 53.7h1.0v1.0h-1.0zM226.8 44.2h1.0v1.0h-1.0zM225.1 42.7h1.0v1.0h-1.0zM229.3 54.8h1.0v1.0h-1.0zM232.3 52.5h1.0v1.0h-1.0zM228.9 46.4h1.0v1.0h-1.0zM224.0 44.5h1.0v1.0h-1.0zM222.0 48.5h1.0v1.0h-1.0zM232.5 47.2h1.0v1.0h-1.0zM225.2 48.6h1.0v1.0h-1.0zM230.1 48.6h1.0v1.0h-1.0zM233.3 57.2h1.0v1.0h-1.0zM233.2 50.9h1.0v1.0h-1.0zM228.4 59.2h1.0v1.0h-1.0zM232.9 51.8h1.0v1.0h-1.0zM226.5 47.2h1.0v1.0h-1.0zM233.3 60.9h1.0v1.0h-1.0zM230.0 55.0h1.0v1.0h-1.0zM222.5 59.1h1.0v1.0h-1.0zM231.7 46.0h1.0v1.0h-1.0zM223.5 61.9h1.0v1.0h-1.0zM234.0 54.7h1.0v1.0h-1.0zM222.1 49.1h1.0v1.0h-1.0zM231.0 46.4h1.0v1.0h-1.0zM223.4 43.1h1.0v1.0h-1.0zM228.3 41.7h1.0v1.0h-1.0zM226.2 45.2h1.0v1.0h-1.0zM232.4 47.7h1.0v1.0h-1.0zM224.9 52.4h1.0v1.0h-1.0zM230.5 49.6h1.0v1.0h-1.0zM233.3 42.0h1.0v1.0h-1.0zM222.3 44.1h1.0v1.0h-1.0zM230.4 41.4h1.0v1.0h-1.0zM222.5 41.9h1.0v1.0h-1.0zM231.2 47.4h1.0v1.0h-1.0zM232.2 54.7h1.0v1.0h-1.0zM223.2 44.3h1.0v1.0h-1.0zM232.6 60.0h1.0v1.0h-1.0zM225.4 54.2h1.0v1.0h-1.0zM233.6 42.0h1.0v1.0h-1.0zM226.3 44.9h1.0v1.0h-1.0zM224.1 52.0h1.0v1.0h-1.0zM225.6 61.1h1.0v1.0h-1.0zM233.8 56.8h1.0v1.0h-1.0zM227.2 60.1h1.0v1.0h-1.0zM227.7 43.1h1.0v1.0h-1.0zM229.0 51.9h1.0v1.0h-1.0zM232.0 51.3h1.0v1.0h-1.0zM221.6 45.7h1.0v1.0h-1.0zM231.4 53.1h1.0v1.0h-1.0zM233.7 53.1h1.0v1.0h-1.0zM226.6 61.9h1.0v1.0h-1.0zM227.0 42.4h1.0v1.0h-1.0zM233.5 47.4h1.0v1.0h-1.0zM226.6 44.7h1.0v1.0h-1.0zM226.2 45.8h1.0v1.0h-1.0zM232.2 47.8h1.0v1.0h-1.0zM227.4 48.9h1.0v1.0h-1.0zM229.6 61.6h1.0v1.0h-1.0zM225.1 48.1h1.0v1.0h-1.0zM230.0 51.4h1.0v1.0h-1.0zM226.1 44.6h1.0v1.0h-1.0zM231.3 45.7h1.0v1.0h-1.0zM227.7 45.7h1.0v1.0h-1.0zM233.0 53.2h1.0v1.0h-1.0zM228.3 47.5h1.0v1.0h-1.0zM232.2 47.0h1.0v1.0h-1.0zM227.0 52.3h1.0v1.0h-1.0zM229.9 41.4h1.0v1.0h-1.0zM224.8 59.6h1.0v1.0h-1.0zM228.8 42.1h1.0v1.0h-1.0zM229.8 49.8h1.0v1.0h-1.0zM228.3 44.6h1.0v1.0h-1.0zM233.0 42.0h1.0v1.0h-1.0zM224.0 51.4h1.0v1.0h-1.0zM227.6 54.6h1.0v1.0h-1.0zM232.0 49.2h1.0v1.0h-1.0zM226.8 45.7h1.0v1.0h-1.0zM221.9 55.9h1.0v1.0h-1.0zM228.1 53.7h1.0v1.0h-1.0zM227.3 48.5h1.0v1.0h-1.0zM233.1 54.2h1.0v1.0h-1.0zM229.8 59.1h1.0v1.0h-1.0zM231.2 52.1h1.0v1.0h-1.0zM226.1 49.3h1.0v1.0h-1.0zM232.7 54.2h1.0v1.0h-1.0zM231.9 51.9h1.0v1.0h-1.0zM222.6 43.1h1.0v1.0h-1.0zM229.8 60.4h1.0v1.0h-1.0zM232.8 43.7h1.0v1.0h-1.0zM229.6 57.0h1.0v1.0h-1.0zM233.6 50.3h1.0v1.0h-1.0zM224.8 57.8h1.0v1.0h-1.0zM228.8 52.2h1.0v1.0h-1.0zM228.2 58.6h1.0v1.0h-1.0zM225.2 51.1h1.0v1.0h-1.0zM231.3 46.3h1.0v1.0h-1.0zM226.9 57.6h1.0v1.0h-1.0zM229.6 58.8h1.0v1.0h-1.0zM231.3 51.8h1.0v1.0h-1.0zM230.6 61.0h1.0v1.0h-1.0zM222.8 56.2h1.0v1.0h-1.0zM222.2 61.1h1.0v1.0h-1.0zM231.8 45.2h1.0v1.0h-1.0zM229.6 61.3h1.0v1.0h-1.0zM223.4 57.5h1.0v1.0h-1.0zM223.1 61.3h1.0v1.0h-1.0zM227.7 48.5h1.0v1.0h-1.0zM223.7 53.0h1.0v1.0h-1.0zM233.1 60.2h1.0v1.0h-1.0zM224.3 55.5h1.0v1.0h-1.0zM233.3 47.2h1.0v1.0h-1.0zM230.4 47.2h1.0v1.0h-1.0zM228.4 61.3h1.0v1.0h-1.0zM229.9 55.4h1.0v1.0h-1.0zM230.2 42.1h1.0v1.0h-1.0zM225.1 46.6h1.0v1.0h-1.0zM227.6 53.0h1.0v1.0h-1.0zM222.3 45.1h1.0v1.0h-1.0zM222.1 51.0h1.0v1.0h-1.0zM233.3 55.4h1.0v1.0h-1.0zM232.1 42.8h1.0v1.0h-1.0zM230.9 46.5h1.0v1.0h-1.0zM222.8 59.9h1.0v1.0h-1.0zM229.3 41.9h1.0v1.0h-1.0zM230.4 43.4h1.0v1.0h-1.0zM226.9 58.6h1.0v1.0h-1.0zM226.2 55.5h1.0v1.0h-1.0zM230.6 51.1h1.0v1.0h-1.0zM221.6 59.5h1.0v1.0h-1.0zM227.4 45.5h1.0v1.0h-1.0zM224.7 41.1h1.0v1.0h-1.0zM227.0 58.5h1.0v1.0h-1.0zM228.4 54.7h1.0v1.0h-1.0zM226.8 48.2h1.0v1.0h-1.0zM232.5 53.5h1.0v1.0h-1.0zM232.5 42.8h1.0v1.0h-1.0zM231.0 47.7h1.0v1.0h-1.0zM231.4 53.2h1.0v1.0h-1.0zM227.8 59.2h1.0v1.0h-1.0zM224.9 47.8h1.0v1.0h-1.0zM231.7 42.3h1.0v1.0h-1.0zM223.0 42.9h1.0v1.0h-1.0zM228.9 47.6h1.0v1.0h-1.0zM229.4 54.5h1.0v1.0h-1.0zM222.9 56.2h1.0v1.0h-1.0zM224.1 55.9h1.0v1.0h-1.0zM229.9 59.8h1.0v1.0h-1.0zM232.2 55.7h1.0v1.0h-1.0zM226.4 55.4h1.0v1.0h-1.0zM228.1 53.8h1.0v1.0h-1.0zM230.4 55.3h1.0v1.0h-1.0zM228.8 56.7h1.0v1.0h-1.0zM227.3 62.0h1.0v1.0h-1.0zM229.5 44.9h1.0v1.0h-1.0zM230.4 54.8h1.0v1.0h-1.0zM231.5 43.7h1.0v1.0h-1.0zM228.5 45.4h1.0v1.0h-1.0zM229.8 60.9h1.0v1.0h-1.0zM223.9 49.7h1.0v1.0h-1.0zM223.5 53.2h1.0v1.0h-1.0zM231.6 45.6h1.0v1.0h-1.0zM224.3 52.0h1.0v1.0h-1.0zM227.0 41.5h1.0v1.0h-1.0zM232.6 53.5h1.0v1.0h-1.0zM223.3 61.5h1.0v1.0h-1.0zM230.0 55.8h1.0v1.0h-1.0zM224.6 55.3h1.0v1.0h-1.0zM229.3 52.9h1.0v1.0h-1.0zM231.7 47.9h1.0v1.0h-1.0zM231.8 57.6h1.0v1.0h-1.0zM231.2 49.4h1.0v1.0h-1.0zM228.0 48.2h1.0v1.0h-1.0zM228.3 52.8h1.0v1.0h-1.0zM223.6 62.0h1.0v1.0h-1.0zM223.0 56.8h1.0v1.0h-1.0zM230.8 55.5h1.0v1.0h-1.0zM222.2 43.8h1.0v1.0h-1.0zM233.2 58.4h1.0v1.0h-1.0zM223.8 50.1h1.0v1.0h-1.0zM230.5 54.5h1.0v1.0h-1.0zM227.1 53.1h1.0v1.0h-1.0zM229.2 57.9h1.0v1.0h-1.0zM231.0 41.7h1.0v1.0h-1.0zM225.2 43.1h1.0v1.0h-1.0zM231.8 47.0h1.0v1.0h-1.0zM230.9 45.4h1.0v1.0h-1.0zM228.8 55.7h1.0v1.0h-1.0zM228.7 43.5h1.0v1.0h-1.0zM226.3 43.0h1.0v1.0h-1.0zM233.6 52.4h1.0v1.0h-1.0zM226.3 42.4h1.0v1.0h-1.0zM224.5 58.1h1.0v1.0h-1.0zM228.5 48.1h1.0v1.0h-1.0zM233.0 47.5h1.0v1.0h-1.0zM233.1 53.8h1.0v1.0h-1.0zM228.7 62.0h1.0v1.0h-1.0zM226.4 47.1h1.0v1.0h-1.0zM230.8 45.9h1.0v1.0h-1.0zM228.5 48.9h1.0v1.0h-1.0zM231.8 57.8h1.0v1.0h-1.0zM231.9 61.1h1.0v1.0h-1.0zM230.3 44.3h1.0v1.0h-1.0zM233.7 41.6h1.0v1.0h-1.0zM229.6 47.6h1.0v1.0h-1.0zM233.7 47.9h1.0v1.0h-1.0zM229.6 57.1h1.0v1.0h-1.0zM224.2 55.6h1.0v1.0h-1.0zM229.3 57.1h1.0v1.0h-1.0zM231.1 49.4h1.0v1.0h-1.0zM226.8 50.2h1.0v1.0h-1.0zM223.6 61.3h1.0v1.0h-1.0zM225.9 42.0h1.0v1.0h-1.0zM231.3 41.5h1.0v1.0h-1.0zM224.1 41.4h1.0v1.0h-1.0zM221.6 58.6h1.0v1.0h-1.0zM232.5 52.1h1.0v1.0h-1.0zM233.6 55.9h1.0v1.0h-1.0zM232.4 55.1h1.0v1.0h-1.0zM231.5 58.5h1.0v1.0h-1.0zM230.6 52.4h1.0v1.0h-1.0zM228.4 48.1h1.0v1.0h-1.0zM229.6 43.4h1.0v1.0h-1.0zM230.8 49.8h1.0v1.0h-1.0zM225.6 45.2h1.0v1.0h-1.0zM224.1 60.9h1.0v1.0h-1.0zM230.2 57.4h1.0v1.0h-1.0zM229.0 47.1h1.0v1.0h-1.0zM233.9 52.0h1.0v1.0h-1.0zM226.7 51.1h1.0v1.0h-1.0zM226.7 54.0h1.0v1.0h-1.0zM223.0 61.4h1.0v1.0h-1.0zM221.7 46.9h1.0v1.0h-1.0zM223.2 54.2h1.0v1.0h-1.0zM228.9 51.8h1.0v1.0h-1.0zM233.5 61.5h1.0v1.0h-1.0zM222.9 45.7h1.0v1.0h-1.0zM223.5 54.9h1.0v1.0h-1.0zM230.0 43.0h1.0v1.0h-1.0zM225.3 52.7h1.0v1.0h-1.0zM222.1 61.6h1.0v1.0h-1.0zM232.6 56.5h1.0v1.0h-1.0zM223.4 41.7h1.0v1.0h-1.0zM249.2 24.1h1.0v1.0h-1.0zM227.9 16.7h1.0v1.0h-1.0zM229.8 16.6h1.0v1.0h-1.0zM247.4 17.2h1.0v1.0h-1.0zM230.1 27.2h1.0v1.0h-1.0zM212.6 22.4h1.0v1.0h-1.0zM222.6 18.7h1.0v1.0h-1.0zM238.0 33.2h1.0v1.0h-1.0zM221.0 29.9h1.0v1.0h-1.0zM210.1 35.3h1.0v1.0h-1.0z" fill="#26267e"/>
<rect x="200.4" y="10.8" width="52.4" height="52.7" fill="none" stroke="#333" stroke-width="1" />
<rect x="220.3" y="39.6" width="14.3" height="23.9" fill="none" stroke="#000" stroke-width="1" />
<text x="237.3" y="62.2" font-size="6.0" textLength="9.8" lengthAdjust="spacingAndGlyphs">97.1</text>
<text x="227.2" y="71" font-size="6.3" text-anchor="middle" textLength="10.2" lengthAdjust="spacingAndGlyphs">CD3</text>
<text x="196.2" y="37.3" font-size="6.3" text-anchor="middle" textLength="13.3" lengthAdjust="spacingAndGlyphs" transform="rotate(-90 196.2 37.3)">CD14</text>
<text x="287.4" y="7.6" font-size="7" textLength="66.5" lengthAdjust="spacingAndGlyphs">CD4 vs CD8 T Cells</text>
<ellipse cx="321.5" cy="56.5" rx="5" ry="6" fill="#26267e"/>
<path d="M304.7 33.7h1.0v1.0h-1.0zM310.7 34.8h1.0v1.0h-1.0zM300.8 30.9h1.0v1.0h-1.0zM307.0 32.0h1.0v1.0h-1.0zM297.2 33.3h1.0v1.0h-1.0zM299.5 34.2h1.0v1.0h-1.0zM299.1 33.8h1.0v1.0h-1.0zM299.8 34.6h1.0v1.0h-1.0zM298.4 32.8h1.0v1.0h-1.0zM299.5 33.4h1.0v1.0h-1.0zM301.2 33.4h1.0v1.0h-1.0zM299.9 32.3h1.0v1.0h-1.0zM303.7 34.5h1.0v1.0h-1.0zM301.1 33.7h1.0v1.0h-1.0zM301.4 34.2h1.0v1.0h-1.0zM306.5 32.3h1.0v1.0h-1.0zM302.5 34.3h1.0v1.0h-1.0zM301.9 31.4h1.0v1.0h-1.0zM301.3 33.4h1.0v1.0h-1.0zM301.6 29.3h1.0v1.0h-1.0zM303.4 31.5h1.0v1.0h-1.0zM298.6 33.9h1.0v1.0h-1.0zM305.3 32.2h1.0v1.0h-1.0zM306.8 33.1h1.0v1.0h-1.0zM305.4 30.6h1.0v1.0h-1.0zM299.7 35.0h1.0v1.0h-1.0zM295.9 33.7h1.0v1.0h-1.0zM299.9 32.8h1.0v1.0h-1.0zM301.9 33.4h1.0v1.0h-1.0zM304.2 33.3h1.0v1.0h-1.0zM300.8 34.8h1.0v1.0h-1.0zM300.4 33.2h1.0v1.0h-1.0zM306.6 30.8h1.0v1.0h-1.0zM299.1 32.5h1.0v1.0h-1.0zM305.1 34.6h1.0v1.0h-1.0zM304.5 33.6h1.0v1.0h-1.0zM296.8 32.3h1.0v1.0h-1.0zM302.4 33.7h1.0v1.0h-1.0zM299.5 33.0h1.0v1.0h-1.0zM298.1 33.7h1.0v1.0h-1.0zM295.1 30.7h1.0v1.0h-1.0zM296.0 31.6h1.0v1.0h-1.0zM302.8 33.8h1.0v1.0h-1.0zM300.1 32.6h1.0v1.0h-1.0zM302.3 33.3h1.0v1.0h-1.0zM297.8 35.5h1.0v1.0h-1.0zM300.3 32.4h1.0v1.0h-1.0zM300.5 33.2h1.0v1.0h-1.0zM296.1 32.1h1.0v1.0h-1.0zM295.7 32.0h1.0v1.0h-1.0zM302.9 32.8h1.0v1.0h-1.0zM301.9 30.9h1.0v1.0h-1.0zM298.2 30.0h1.0v1.0h-1.0zM301.1 34.7h1.0v1.0h-1.0zM303.7 32.7h1.0v1.0h-1.0zM307.7 34.4h1.0v1.0h-1.0zM298.4 33.0h1.0v1.0h-1.0zM303.5 33.1h1.0v1.0h-1.0zM308.7 33.8h1.0v1.0h-1.0zM301.6 33.8h1.0v1.0h-1.0zM306.4 31.2h1.0v1.0h-1.0zM306.4 31.5h1.0v1.0h-1.0zM301.4 33.1h1.0v1.0h-1.0zM295.0 36.4h1.0v1.0h-1.0zM304.1 33.0h1.0v1.0h-1.0zM305.0 35.1h1.0v1.0h-1.0zM305.5 32.4h1.0v1.0h-1.0zM305.5 33.7h1.0v1.0h-1.0zM301.3 32.9h1.0v1.0h-1.0zM298.8 33.4h1.0v1.0h-1.0zM299.8 31.7h1.0v1.0h-1.0zM301.3 31.6h1.0v1.0h-1.0zM302.8 33.3h1.0v1.0h-1.0zM299.7 30.7h1.0v1.0h-1.0zM301.6 31.7h1.0v1.0h-1.0zM304.4 33.7h1.0v1.0h-1.0zM302.5 32.0h1.0v1.0h-1.0zM309.3 31.6h1.0v1.0h-1.0zM308.8 31.3h1.0v1.0h-1.0zM297.5 33.1h1.0v1.0h-1.0zM299.4 32.4h1.0v1.0h-1.0zM296.9 33.1h1.0v1.0h-1.0zM297.4 32.6h1.0v1.0h-1.0zM303.3 35.4h1.0v1.0h-1.0zM298.0 32.3h1.0v1.0h-1.0zM297.8 30.2h1.0v1.0h-1.0zM300.5 33.0h1.0v1.0h-1.0zM304.1 32.9h1.0v1.0h-1.0zM300.2 33.1h1.0v1.0h-1.0zM300.2 30.7h1.0v1.0h-1.0zM304.6 34.4h1.0v1.0h-1.0zM303.0 32.8h1.0v1.0h-1.0zM303.0 32.8h1.0v1.0h-1.0zM304.7 30.7h1.0v1.0h-1.0zM297.9 33.5h1.0v1.0h-1.0zM302.1 32.8h1.0v1.0h-1.0zM299.2 34.7h1.0v1.0h-1.0zM304.9 32.3h1.0v1.0h-1.0zM304.2 31.2h1.0v1.0h-1.0zM297.8 33.0h1.0v1.0h-1.0zM306.0 31.6h1.0v1.0h-1.0zM297.4 33.4h1.0v1.0h-1.0zM305.4 31.4h1.0v1.0h-1.0zM302.1 32.7h1.0v1.0h-1.0zM298.4 32.6h1.0v1.0h-1.0zM297.6 32.8h1.0v1.0h-1.0zM300.4 32.2h1.0v1.0h-1.0zM301.3 31.8h1.0v1.0h-1.0zM299.0 32.8h1.0v1.0h-1.0zM303.3 32.1h1.0v1.0h-1.0zM296.6 33.1h1.0v1.0h-1.0zM301.4 32.5h1.0v1.0h-1.0zM301.4 29.8h1.0v1.0h-1.0zM295.0 32.8h1.0v1.0h-1.0zM302.5 34.8h1.0v1.0h-1.0zM297.0 33.3h1.0v1.0h-1.0zM299.3 33.5h1.0v1.0h-1.0zM300.6 32.2h1.0v1.0h-1.0zM304.5 31.1h1.0v1.0h-1.0zM299.7 34.0h1.0v1.0h-1.0zM306.5 34.3h1.0v1.0h-1.0zM306.4 33.6h1.0v1.0h-1.0zM305.2 33.4h1.0v1.0h-1.0zM306.0 33.4h1.0v1.0h-1.0zM302.6 32.8h1.0v1.0h-1.0zM299.5 33.2h1.0v1.0h-1.0zM303.6 32.9h1.0v1.0h-1.0zM304.7 33.3h1.0v1.0h-1.0zM302.2 31.6h1.0v1.0h-1.0zM300.6 32.0h1.0v1.0h-1.0zM296.0 33.6h1.0v1.0h-1.0zM303.7 32.4h1.0v1.0h-1.0zM302.6 29.6h1.0v1.0h-1.0zM296.9 33.0h1.0v1.0h-1.0zM301.7 29.8h1.0v1.0h-1.0zM303.9 35.4h1.0v1.0h-1.0zM301.0 33.8h1.0v1.0h-1.0zM304.1 33.8h1.0v1.0h-1.0zM304.0 32.0h1.0v1.0h-1.0zM296.3 31.3h1.0v1.0h-1.0zM300.4 32.6h1.0v1.0h-1.0zM303.1 32.9h1.0v1.0h-1.0zM304.6 31.8h1.0v1.0h-1.0zM306.3 33.1h1.0v1.0h-1.0zM294.8 33.8h1.0v1.0h-1.0zM301.2 33.7h1.0v1.0h-1.0zM303.9 31.5h1.0v1.0h-1.0zM305.6 30.0h1.0v1.0h-1.0zM307.2 32.9h1.0v1.0h-1.0zM298.2 32.0h1.0v1.0h-1.0zM300.1 33.5h1.0v1.0h-1.0zM297.8 35.1h1.0v1.0h-1.0zM304.2 35.1h1.0v1.0h-1.0zM296.8 33.3h1.0v1.0h-1.0zM305.5 34.4h1.0v1.0h-1.0zM304.6 35.1h1.0v1.0h-1.0zM303.1 32.9h1.0v1.0h-1.0zM299.1 34.0h1.0v1.0h-1.0zM304.0 32.8h1.0v1.0h-1.0zM296.5 32.2h1.0v1.0h-1.0zM300.6 31.9h1.0v1.0h-1.0zM301.0 32.9h1.0v1.0h-1.0zM304.5 32.0h1.0v1.0h-1.0zM302.4 33.9h1.0v1.0h-1.0zM302.3 32.4h1.0v1.0h-1.0zM299.9 34.8h1.0v1.0h-1.0zM301.4 34.5h1.0v1.0h-1.0zM300.9 31.2h1.0v1.0h-1.0zM303.9 34.3h1.0v1.0h-1.0zM300.8 32.3h1.0v1.0h-1.0zM305.0 34.7h1.0v1.0h-1.0zM295.5 33.6h1.0v1.0h-1.0zM305.5 32.8h1.0v1.0h-1.0zM300.8 33.8h1.0v1.0h-1.0zM305.3 32.1h1.0v1.0h-1.0zM301.7 33.3h1.0v1.0h-1.0zM304.3 33.4h1.0v1.0h-1.0zM306.6 32.7h1.0v1.0h-1.0zM299.5 33.4h1.0v1.0h-1.0zM301.7 31.6h1.0v1.0h-1.0zM300.8 33.6h1.0v1.0h-1.0zM302.1 31.3h1.0v1.0h-1.0zM295.8 33.7h1.0v1.0h-1.0zM300.8 33.5h1.0v1.0h-1.0zM300.5 33.8h1.0v1.0h-1.0zM298.7 32.2h1.0v1.0h-1.0zM300.7 37.0h1.0v1.0h-1.0zM296.1 32.6h1.0v1.0h-1.0zM306.2 33.1h1.0v1.0h-1.0zM302.9 31.9h1.0v1.0h-1.0zM307.9 34.8h1.0v1.0h-1.0zM298.4 32.3h1.0v1.0h-1.0zM297.4 34.2h1.0v1.0h-1.0zM302.4 31.7h1.0v1.0h-1.0zM295.6 33.3h1.0v1.0h-1.0zM302.2 32.4h1.0v1.0h-1.0zM299.0 34.2h1.0v1.0h-1.0zM300.2 32.5h1.0v1.0h-1.0zM302.3 31.8h1.0v1.0h-1.0zM301.5 33.5h1.0v1.0h-1.0zM307.8 31.3h1.0v1.0h-1.0zM303.6 31.6h1.0v1.0h-1.0zM296.9 33.9h1.0v1.0h-1.0zM304.8 30.4h1.0v1.0h-1.0zM296.7 33.9h1.0v1.0h-1.0zM301.7 32.4h1.0v1.0h-1.0zM297.1 31.7h1.0v1.0h-1.0zM298.5 33.3h1.0v1.0h-1.0zM305.9 33.8h1.0v1.0h-1.0zM299.5 32.2h1.0v1.0h-1.0zM299.1 32.7h1.0v1.0h-1.0zM299.4 34.0h1.0v1.0h-1.0zM300.3 33.9h1.0v1.0h-1.0zM306.4 32.9h1.0v1.0h-1.0zM297.3 31.9h1.0v1.0h-1.0zM297.1 31.7h1.0v1.0h-1.0zM303.4 32.1h1.0v1.0h-1.0zM295.9 33.8h1.0v1.0h-1.0zM300.1 33.7h1.0v1.0h-1.0zM305.3 33.3h1.0v1.0h-1.0zM301.4 34.8h1.0v1.0h-1.0zM299.7 32.5h1.0v1.0h-1.0zM298.9 32.4h1.0v1.0h-1.0zM298.2 32.4h1.0v1.0h-1.0zM299.3 35.5h1.0v1.0h-1.0zM301.8 30.2h1.0v1.0h-1.0zM305.7 33.3h1.0v1.0h-1.0zM304.7 33.5h1.0v1.0h-1.0zM299.4 33.0h1.0v1.0h-1.0zM298.8 36.0h1.0v1.0h-1.0zM303.8 34.5h1.0v1.0h-1.0zM295.1 34.0h1.0v1.0h-1.0zM299.8 31.8h1.0v1.0h-1.0zM300.2 33.6h1.0v1.0h-1.0zM297.5 32.5h1.0v1.0h-1.0zM297.9 33.0h1.0v1.0h-1.0zM302.5 33.2h1.0v1.0h-1.0zM295.6 32.3h1.0v1.0h-1.0zM298.2 33.8h1.0v1.0h-1.0zM299.1 35.1h1.0v1.0h-1.0zM301.6 34.3h1.0v1.0h-1.0zM296.6 33.3h1.0v1.0h-1.0zM305.1 30.4h1.0v1.0h-1.0zM300.2 34.4h1.0v1.0h-1.0zM300.4 34.4h1.0v1.0h-1.0zM300.1 32.7h1.0v1.0h-1.0zM299.0 32.3h1.0v1.0h-1.0zM297.9 33.8h1.0v1.0h-1.0zM305.3 31.9h1.0v1.0h-1.0zM302.0 34.0h1.0v1.0h-1.0zM300.9 31.6h1.0v1.0h-1.0zM304.7 31.8h1.0v1.0h-1.0zM298.8 33.0h1.0v1.0h-1.0zM303.5 31.1h1.0v1.0h-1.0zM301.4 33.0h1.0v1.0h-1.0zM298.2 33.7h1.0v1.0h-1.0zM303.9 31.2h1.0v1.0h-1.0zM296.1 34.2h1.0v1.0h-1.0zM303.5 32.2h1.0v1.0h-1.0zM298.2 33.7h1.0v1.0h-1.0zM302.7 33.3h1.0v1.0h-1.0zM306.0 32.4h1.0v1.0h-1.0zM303.2 32.3h1.0v1.0h-1.0zM299.2 30.7h1.0v1.0h-1.0zM301.2 32.1h1.0v1.0h-1.0zM300.0 32.0h1.0v1.0h-1.0zM297.2 35.1h1.0v1.0h-1.0zM297.4 34.3h1.0v1.0h-1.0zM301.4 31.2h1.0v1.0h-1.0zM303.1 34.0h1.0v1.0h-1.0zM295.2 33.3h1.0v1.0h-1.0zM301.0 32.5h1.0v1.0h-1.0zM303.0 33.6h1.0v1.0h-1.0zM301.6 34.0h1.0v1.0h-1.0zM297.8 32.2h1.0v1.0h-1.0zM304.8 32.6h1.0v1.0h-1.0zM297.0 33.2h1.0v1.0h-1.0zM303.4 31.7h1.0v1.0h-1.0zM306.7 33.2h1.0v1.0h-1.0zM302.1 32.1h1.0v1.0h-1.0zM302.3 31.9h1.0v1.0h-1.0zM302.0 33.4h1.0v1.0h-1.0zM298.6 34.1h1.0v1.0h-1.0zM300.1 33.4h1.0v1.0h-1.0zM296.4 31.9h1.0v1.0h-1.0zM301.6 34.0h1.0v1.0h-1.0zM303.0 33.2h1.0v1.0h-1.0zM298.9 33.8h1.0v1.0h-1.0zM298.0 34.5h1.0v1.0h-1.0zM299.6 31.8h1.0v1.0h-1.0zM301.2 32.8h1.0v1.0h-1.0zM301.4 32.2h1.0v1.0h-1.0zM300.8 31.8h1.0v1.0h-1.0zM301.4 35.6h1.0v1.0h-1.0zM296.7 34.2h1.0v1.0h-1.0zM309.0 31.3h1.0v1.0h-1.0zM295.8 34.1h1.0v1.0h-1.0zM303.0 31.0h1.0v1.0h-1.0zM299.7 36.6h1.0v1.0h-1.0zM301.9 30.3h1.0v1.0h-1.0zM301.9 36.8h1.0v1.0h-1.0zM302.1 31.5h1.0v1.0h-1.0zM295.2 31.4h1.0v1.0h-1.0zM299.9 33.0h1.0v1.0h-1.0zM300.2 34.5h1.0v1.0h-1.0zM306.7 36.9h1.0v1.0h-1.0zM307.5 33.3h1.0v1.0h-1.0zM308.5 36.3h1.0v1.0h-1.0zM306.5 36.2h1.0v1.0h-1.0zM311.1 36.9h1.0v1.0h-1.0zM305.0 32.5h1.0v1.0h-1.0zM300.6 33.3h1.0v1.0h-1.0zM295.7 30.2h1.0v1.0h-1.0zM308.1 32.7h1.0v1.0h-1.0zM305.1 32.5h1.0v1.0h-1.0zM297.9 30.9h1.0v1.0h-1.0zM304.2 35.8h1.0v1.0h-1.0zM312.0 32.0h1.0v1.0h-1.0zM305.9 30.9h1.0v1.0h-1.0zM300.6 30.8h1.0v1.0h-1.0zM309.5 30.2h1.0v1.0h-1.0zM302.1 35.3h1.0v1.0h-1.0zM295.3 33.7h1.0v1.0h-1.0zM296.4 33.7h1.0v1.0h-1.0zM312.3 32.9h1.0v1.0h-1.0zM296.7 36.7h1.0v1.0h-1.0zM309.1 32.6h1.0v1.0h-1.0zM295.6 33.3h1.0v1.0h-1.0zM302.6 34.8h1.0v1.0h-1.0zM300.1 36.5h1.0v1.0h-1.0zM301.2 36.0h1.0v1.0h-1.0zM296.6 36.2h1.0v1.0h-1.0zM302.2 31.3h1.0v1.0h-1.0zM308.7 36.6h1.0v1.0h-1.0zM304.4 35.8h1.0v1.0h-1.0zM297.4 32.3h1.0v1.0h-1.0zM309.5 35.6h1.0v1.0h-1.0zM310.7 36.7h1.0v1.0h-1.0zM303.2 35.2h1.0v1.0h-1.0zM301.5 35.2h1.0v1.0h-1.0zM295.3 35.9h1.0v1.0h-1.0zM296.3 36.2h1.0v1.0h-1.0zM301.8 35.5h1.0v1.0h-1.0zM297.0 30.5h1.0v1.0h-1.0zM312.5 31.5h1.0v1.0h-1.0zM306.6 30.8h1.0v1.0h-1.0zM300.6 33.3h1.0v1.0h-1.0zM305.5 30.5h1.0v1.0h-1.0zM298.0 33.9h1.0v1.0h-1.0zM311.5 36.5h1.0v1.0h-1.0zM304.0 36.9h1.0v1.0h-1.0zM307.6 30.3h1.0v1.0h-1.0zM298.3 34.8h1.0v1.0h-1.0zM303.5 31.0h1.0v1.0h-1.0zM307.8 36.0h1.0v1.0h-1.0zM302.0 30.2h1.0v1.0h-1.0zM296.2 30.7h1.0v1.0h-1.0zM303.4 32.3h1.0v1.0h-1.0zM309.8 30.0h1.0v1.0h-1.0zM303.3 34.6h1.0v1.0h-1.0zM312.6 31.4h1.0v1.0h-1.0zM305.1 35.0h1.0v1.0h-1.0zM310.9 36.6h1.0v1.0h-1.0zM295.6 33.3h1.0v1.0h-1.0zM306.4 33.3h1.0v1.0h-1.0zM304.2 37.0h1.0v1.0h-1.0zM301.4 32.2h1.0v1.0h-1.0zM311.2 36.2h1.0v1.0h-1.0zM296.7 35.0h1.0v1.0h-1.0zM303.7 30.1h1.0v1.0h-1.0zM300.5 32.1h1.0v1.0h-1.0zM312.3 35.0h1.0v1.0h-1.0zM309.1 30.3h1.0v1.0h-1.0zM298.6 36.0h1.0v1.0h-1.0zM297.3 36.4h1.0v1.0h-1.0zM295.4 35.3h1.0v1.0h-1.0zM298.2 35.7h1.0v1.0h-1.0zM311.7 34.2h1.0v1.0h-1.0zM310.7 35.7h1.0v1.0h-1.0zM309.4 33.3h1.0v1.0h-1.0zM302.2 32.9h1.0v1.0h-1.0zM303.7 34.9h1.0v1.0h-1.0zM305.4 33.3h1.0v1.0h-1.0zM309.6 32.2h1.0v1.0h-1.0zM295.1 31.9h1.0v1.0h-1.0zM302.4 56.2h1.0v1.0h-1.0zM301.5 57.5h1.0v1.0h-1.0zM307.8 57.7h1.0v1.0h-1.0zM308.3 62.4h1.0v1.0h-1.0zM308.6 59.8h1.0v1.0h-1.0zM309.4 53.4h1.0v1.0h-1.0zM301.2 59.5h1.0v1.0h-1.0zM301.3 55.3h1.0v1.0h-1.0zM298.1 55.7h1.0v1.0h-1.0zM306.9 49.2h1.0v1.0h-1.0zM303.9 61.8h1.0v1.0h-1.0zM306.3 52.9h1.0v1.0h-1.0zM306.8 60.5h1.0v1.0h-1.0zM306.4 57.6h1.0v1.0h-1.0zM299.0 59.4h1.0v1.0h-1.0zM295.4 59.3h1.0v1.0h-1.0zM311.2 61.7h1.0v1.0h-1.0zM310.3 60.7h1.0v1.0h-1.0zM303.6 58.0h1.0v1.0h-1.0zM306.2 53.6h1.0v1.0h-1.0zM296.5 55.9h1.0v1.0h-1.0zM302.8 52.9h1.0v1.0h-1.0zM305.0 53.7h1.0v1.0h-1.0zM306.9 55.4h1.0v1.0h-1.0zM298.7 54.9h1.0v1.0h-1.0zM296.6 53.1h1.0v1.0h-1.0zM311.3 53.3h1.0v1.0h-1.0zM309.4 53.4h1.0v1.0h-1.0zM298.0 51.7h1.0v1.0h-1.0zM309.0 57.2h1.0v1.0h-1.0zM308.8 50.3h1.0v1.0h-1.0zM298.1 52.5h1.0v1.0h-1.0zM308.7 51.4h1.0v1.0h-1.0zM301.5 58.9h1.0v1.0h-1.0zM300.7 52.9h1.0v1.0h-1.0zM297.7 50.4h1.0v1.0h-1.0zM305.1 60.5h1.0v1.0h-1.0zM305.4 55.1h1.0v1.0h-1.0zM303.7 60.3h1.0v1.0h-1.0zM296.7 53.5h1.0v1.0h-1.0zM308.5 53.9h1.0v1.0h-1.0zM300.4 56.8h1.0v1.0h-1.0zM299.5 50.0h1.0v1.0h-1.0zM298.1 50.9h1.0v1.0h-1.0zM310.5 61.8h1.0v1.0h-1.0zM306.0 58.2h1.0v1.0h-1.0zM308.4 59.7h1.0v1.0h-1.0zM300.8 51.9h1.0v1.0h-1.0zM302.3 61.5h1.0v1.0h-1.0zM299.3 56.5h1.0v1.0h-1.0zM299.3 54.8h1.0v1.0h-1.0zM302.1 51.7h1.0v1.0h-1.0zM308.4 51.4h1.0v1.0h-1.0zM303.6 61.1h1.0v1.0h-1.0zM296.9 54.9h1.0v1.0h-1.0zM299.9 59.1h1.0v1.0h-1.0zM295.6 58.8h1.0v1.0h-1.0zM310.5 55.9h1.0v1.0h-1.0zM296.1 55.7h1.0v1.0h-1.0zM304.2 56.7h1.0v1.0h-1.0zM306.4 53.9h1.0v1.0h-1.0zM298.5 59.4h1.0v1.0h-1.0zM311.7 54.9h1.0v1.0h-1.0zM311.7 56.1h1.0v1.0h-1.0zM299.1 51.5h1.0v1.0h-1.0zM306.0 50.1h1.0v1.0h-1.0zM307.2 60.4h1.0v1.0h-1.0zM306.2 60.0h1.0v1.0h-1.0zM300.9 56.2h1.0v1.0h-1.0zM295.6 61.1h1.0v1.0h-1.0zM299.6 59.9h1.0v1.0h-1.0zM305.9 59.7h1.0v1.0h-1.0zM305.0 57.2h1.0v1.0h-1.0zM307.1 61.5h1.0v1.0h-1.0zM295.3 56.4h1.0v1.0h-1.0zM304.5 59.5h1.0v1.0h-1.0zM301.8 57.6h1.0v1.0h-1.0zM306.7 62.3h1.0v1.0h-1.0zM304.0 56.7h1.0v1.0h-1.0zM300.9 61.6h1.0v1.0h-1.0zM295.1 57.4h1.0v1.0h-1.0zM300.3 60.5h1.0v1.0h-1.0zM302.6 60.8h1.0v1.0h-1.0zM300.7 61.3h1.0v1.0h-1.0zM301.4 56.4h1.0v1.0h-1.0zM306.1 59.4h1.0v1.0h-1.0zM300.7 56.9h1.0v1.0h-1.0zM309.5 56.9h1.0v1.0h-1.0zM301.1 57.1h1.0v1.0h-1.0zM302.4 57.0h1.0v1.0h-1.0zM310.4 59.9h1.0v1.0h-1.0zM305.3 57.8h1.0v1.0h-1.0zM311.4 59.4h1.0v1.0h-1.0zM295.1 56.4h1.0v1.0h-1.0zM311.2 57.5h1.0v1.0h-1.0zM298.3 60.4h1.0v1.0h-1.0zM310.3 60.9h1.0v1.0h-1.0zM295.7 60.3h1.0v1.0h-1.0zM306.7 61.8h1.0v1.0h-1.0zM301.7 59.3h1.0v1.0h-1.0zM301.6 61.3h1.0v1.0h-1.0zM297.7 57.7h1.0v1.0h-1.0zM297.4 62.1h1.0v1.0h-1.0zM305.6 57.7h1.0v1.0h-1.0zM295.5 56.1h1.0v1.0h-1.0zM297.9 61.6h1.0v1.0h-1.0zM297.9 59.5h1.0v1.0h-1.0zM298.3 61.7h1.0v1.0h-1.0zM302.7 59.6h1.0v1.0h-1.0zM310.5 61.8h1.0v1.0h-1.0zM304.9 61.0h1.0v1.0h-1.0zM307.6 60.5h1.0v1.0h-1.0zM306.8 56.8h1.0v1.0h-1.0zM309.7 62.5h1.0v1.0h-1.0zM311.9 59.7h1.0v1.0h-1.0zM307.1 61.0h1.0v1.0h-1.0zM305.3 60.7h1.0v1.0h-1.0zM311.4 58.7h1.0v1.0h-1.0zM297.2 59.7h1.0v1.0h-1.0zM307.2 59.4h1.0v1.0h-1.0zM307.3 62.4h1.0v1.0h-1.0zM301.0 56.1h1.0v1.0h-1.0zM296.4 60.0h1.0v1.0h-1.0zM297.4 60.8h1.0v1.0h-1.0zM306.5 58.8h1.0v1.0h-1.0zM300.3 56.6h1.0v1.0h-1.0zM311.1 61.5h1.0v1.0h-1.0zM297.1 61.3h1.0v1.0h-1.0zM308.8 58.7h1.0v1.0h-1.0zM303.1 56.7h1.0v1.0h-1.0zM300.0 61.9h1.0v1.0h-1.0zM299.3 61.4h1.0v1.0h-1.0zM301.0 61.8h1.0v1.0h-1.0zM301.3 61.7h1.0v1.0h-1.0zM298.8 57.8h1.0v1.0h-1.0zM298.7 60.4h1.0v1.0h-1.0zM311.5 59.3h1.0v1.0h-1.0zM302.2 58.7h1.0v1.0h-1.0zM305.6 58.9h1.0v1.0h-1.0zM306.9 60.7h1.0v1.0h-1.0zM310.9 59.3h1.0v1.0h-1.0zM300.0 58.6h1.0v1.0h-1.0zM298.3 60.4h1.0v1.0h-1.0zM295.8 60.4h1.0v1.0h-1.0zM299.5 58.9h1.0v1.0h-1.0zM296.0 60.5h1.0v1.0h-1.0zM300.5 59.1h1.0v1.0h-1.0zM304.7 59.2h1.0v1.0h-1.0zM302.5 58.0h1.0v1.0h-1.0zM297.5 60.7h1.0v1.0h-1.0zM301.9 58.7h1.0v1.0h-1.0zM313.4 57.3h1.0v1.0h-1.0zM304.0 58.2h1.0v1.0h-1.0zM300.3 58.7h1.0v1.0h-1.0zM310.5 57.6h1.0v1.0h-1.0zM298.3 61.8h1.0v1.0h-1.0zM301.4 61.0h1.0v1.0h-1.0zM299.5 59.5h1.0v1.0h-1.0zM301.0 55.6h1.0v1.0h-1.0zM305.7 60.6h1.0v1.0h-1.0zM305.0 55.4h1.0v1.0h-1.0zM298.6 59.6h1.0v1.0h-1.0zM301.5 59.2h1.0v1.0h-1.0zM302.6 57.4h1.0v1.0h-1.0zM300.2 56.7h1.0v1.0h-1.0zM302.0 57.1h1.0v1.0h-1.0zM298.6 58.3h1.0v1.0h-1.0zM302.4 58.5h1.0v1.0h-1.0zM297.1 61.9h1.0v1.0h-1.0zM304.2 60.3h1.0v1.0h-1.0zM301.2 62.1h1.0v1.0h-1.0zM297.7 55.5h1.0v1.0h-1.0zM299.2 55.9h1.0v1.0h-1.0zM301.4 59.0h1.0v1.0h-1.0zM302.7 58.2h1.0v1.0h-1.0zM301.1 59.5h1.0v1.0h-1.0zM297.9 62.0h1.0v1.0h-1.0zM309.1 55.6h1.0v1.0h-1.0zM306.6 59.9h1.0v1.0h-1.0zM302.7 59.0h1.0v1.0h-1.0zM306.8 61.0h1.0v1.0h-1.0zM303.7 59.6h1.0v1.0h-1.0zM300.9 57.5h1.0v1.0h-1.0zM302.6 56.6h1.0v1.0h-1.0zM315.1 52.0h1.0v1.0h-1.0zM307.0 61.9h1.0v1.0h-1.0zM307.2 54.8h1.0v1.0h-1.0zM300.2 57.9h1.0v1.0h-1.0zM313.1 57.9h1.0v1.0h-1.0zM304.2 60.8h1.0v1.0h-1.0zM307.4 58.5h1.0v1.0h-1.0zM308.3 61.1h1.0v1.0h-1.0zM305.3 59.2h1.0v1.0h-1.0zM309.8 57.6h1.0v1.0h-1.0zM304.6 58.3h1.0v1.0h-1.0zM299.1 55.2h1.0v1.0h-1.0zM315.0 58.1h1.0v1.0h-1.0zM303.6 60.6h1.0v1.0h-1.0zM302.7 55.9h1.0v1.0h-1.0zM308.9 61.3h1.0v1.0h-1.0zM299.8 61.3h1.0v1.0h-1.0zM328.5 58.4h1.0v1.0h-1.0zM319.5 56.1h1.0v1.0h-1.0zM323.8 60.6h1.0v1.0h-1.0zM320.2 61.3h1.0v1.0h-1.0zM321.9 50.4h1.0v1.0h-1.0zM322.9 56.0h1.0v1.0h-1.0zM321.4 54.7h1.0v1.0h-1.0zM321.3 54.9h1.0v1.0h-1.0zM319.6 51.2h1.0v1.0h-1.0zM320.1 54.7h1.0v1.0h-1.0zM322.6 51.8h1.0v1.0h-1.0zM323.4 57.8h1.0v1.0h-1.0zM323.7 56.5h1.0v1.0h-1.0zM324.8 50.4h1.0v1.0h-1.0zM325.5 49.2h1.0v1.0h-1.0zM315.7 54.3h1.0v1.0h-1.0zM319.9 59.1h1.0v1.0h-1.0zM321.1 58.4h1.0v1.0h-1.0zM319.5 56.1h1.0v1.0h-1.0zM325.0 42.4h1.0v1.0h-1.0zM324.0 54.3h1.0v1.0h-1.0zM321.2 53.2h1.0v1.0h-1.0zM322.0 54.9h1.0v1.0h-1.0zM325.7 51.2h1.0v1.0h-1.0zM320.5 54.5h1.0v1.0h-1.0zM320.6 53.5h1.0v1.0h-1.0zM323.1 59.3h1.0v1.0h-1.0zM326.2 55.5h1.0v1.0h-1.0zM322.8 56.1h1.0v1.0h-1.0zM324.0 55.8h1.0v1.0h-1.0zM319.8 57.1h1.0v1.0h-1.0zM318.5 54.6h1.0v1.0h-1.0zM321.6 56.3h1.0v1.0h-1.0zM312.9 60.7h1.0v1.0h-1.0zM322.9 59.8h1.0v1.0h-1.0zM324.8 57.6h1.0v1.0h-1.0zM321.8 61.9h1.0v1.0h-1.0zM320.9 57.3h1.0v1.0h-1.0zM325.1 52.2h1.0v1.0h-1.0zM321.4 49.0h1.0v1.0h-1.0zM324.8 53.4h1.0v1.0h-1.0zM328.7 56.1h1.0v1.0h-1.0zM323.9 58.0h1.0v1.0h-1.0zM324.6 60.9h1.0v1.0h-1.0zM323.2 53.9h1.0v1.0h-1.0zM322.4 52.9h1.0v1.0h-1.0zM322.5 59.6h1.0v1.0h-1.0zM321.8 61.3h1.0v1.0h-1.0zM325.1 54.3h1.0v1.0h-1.0zM316.3 57.8h1.0v1.0h-1.0zM320.7 62.1h1.0v1.0h-1.0zM323.7 57.7h1.0v1.0h-1.0zM318.8 56.1h1.0v1.0h-1.0zM321.2 47.6h1.0v1.0h-1.0zM319.3 61.9h1.0v1.0h-1.0zM323.0 59.0h1.0v1.0h-1.0zM324.4 56.9h1.0v1.0h-1.0zM326.3 54.4h1.0v1.0h-1.0zM323.2 51.1h1.0v1.0h-1.0zM319.3 55.9h1.0v1.0h-1.0zM322.4 55.9h1.0v1.0h-1.0zM323.4 61.0h1.0v1.0h-1.0zM326.2 51.2h1.0v1.0h-1.0zM314.6 62.4h1.0v1.0h-1.0zM322.8 56.5h1.0v1.0h-1.0zM315.7 61.3h1.0v1.0h-1.0zM323.9 52.2h1.0v1.0h-1.0zM323.0 57.8h1.0v1.0h-1.0zM323.2 61.5h1.0v1.0h-1.0zM324.5 56.8h1.0v1.0h-1.0zM322.8 50.1h1.0v1.0h-1.0zM319.5 54.9h1.0v1.0h-1.0zM322.7 58.6h1.0v1.0h-1.0zM325.5 50.4h1.0v1.0h-1.0zM321.2 50.2h1.0v1.0h-1.0zM321.7 57.3h1.0v1.0h-1.0zM317.7 52.3h1.0v1.0h-1.0zM325.4 59.2h1.0v1.0h-1.0zM320.0 51.4h1.0v1.0h-1.0zM319.2 48.6h1.0v1.0h-1.0zM320.1 53.1h1.0v1.0h-1.0zM320.8 52.7h1.0v1.0h-1.0zM325.7 56.3h1.0v1.0h-1.0zM324.2 57.4h1.0v1.0h-1.0zM326.2 52.3h1.0v1.0h-1.0zM326.4 60.9h1.0v1.0h-1.0zM318.7 57.1h1.0v1.0h-1.0zM323.2 58.2h1.0v1.0h-1.0zM326.5 49.3h1.0v1.0h-1.0zM329.0 49.0h1.0v1.0h-1.0zM317.0 44.7h1.0v1.0h-1.0zM317.0 55.5h1.0v1.0h-1.0zM323.1 55.4h1.0v1.0h-1.0zM320.5 59.4h1.0v1.0h-1.0zM322.8 55.3h1.0v1.0h-1.0zM319.0 55.2h1.0v1.0h-1.0zM314.2 58.2h1.0v1.0h-1.0zM322.0 52.9h1.0v1.0h-1.0zM323.7 59.0h1.0v1.0h-1.0zM324.6 55.3h1.0v1.0h-1.0zM322.2 54.9h1.0v1.0h-1.0zM320.8 59.8h1.0v1.0h-1.0zM319.4 53.0h1.0v1.0h-1.0zM316.2 51.8h1.0v1.0h-1.0zM320.2 59.1h1.0v1.0h-1.0zM324.8 56.2h1.0v1.0h-1.0zM323.7 55.2h1.0v1.0h-1.0zM328.2 55.8h1.0v1.0h-1.0zM321.1 58.4h1.0v1.0h-1.0zM315.8 54.8h1.0v1.0h-1.0zM324.3 59.6h1.0v1.0h-1.0zM324.9 58.1h1.0v1.0h-1.0zM316.3 61.7h1.0v1.0h-1.0zM322.1 60.0h1.0v1.0h-1.0zM323.9 55.5h1.0v1.0h-1.0zM317.9 56.8h1.0v1.0h-1.0zM320.5 53.9h1.0v1.0h-1.0zM317.7 55.4h1.0v1.0h-1.0zM317.3 58.7h1.0v1.0h-1.0zM322.0 62.1h1.0v1.0h-1.0zM320.4 50.6h1.0v1.0h-1.0zM319.4 52.9h1.0v1.0h-1.0zM313.1 54.7h1.0v1.0h-1.0zM327.2 52.2h1.0v1.0h-1.0zM318.5 51.0h1.0v1.0h-1.0zM321.1 54.2h1.0v1.0h-1.0zM317.9 61.8h1.0v1.0h-1.0zM322.8 59.4h1.0v1.0h-1.0zM316.7 56.5h1.0v1.0h-1.0zM321.9 56.5h1.0v1.0h-1.0zM320.9 49.4h1.0v1.0h-1.0zM324.5 59.3h1.0v1.0h-1.0zM318.0 58.2h1.0v1.0h-1.0zM319.4 51.8h1.0v1.0h-1.0zM320.8 57.2h1.0v1.0h-1.0zM328.3 55.6h1.0v1.0h-1.0zM316.8 54.2h1.0v1.0h-1.0zM322.5 52.2h1.0v1.0h-1.0zM319.4 53.5h1.0v1.0h-1.0zM322.6 52.4h1.0v1.0h-1.0zM323.7 58.3h1.0v1.0h-1.0zM322.0 57.9h1.0v1.0h-1.0zM322.4 57.7h1.0v1.0h-1.0zM322.4 55.6h1.0v1.0h-1.0zM319.6 54.7h1.0v1.0h-1.0zM316.2 48.5h1.0v1.0h-1.0zM320.4 61.4h1.0v1.0h-1.0zM319.0 57.9h1.0v1.0h-1.0zM320.7 56.7h1.0v1.0h-1.0zM323.9 54.2h1.0v1.0h-1.0zM322.8 55.5h1.0v1.0h-1.0zM323.1 51.4h1.0v1.0h-1.0zM325.1 50.5h1.0v1.0h-1.0zM313.8 55.9h1.0v1.0h-1.0zM322.9 49.4h1.0v1.0h-1.0zM321.5 59.9h1.0v1.0h-1.0zM321.2 61.1h1.0v1.0h-1.0zM317.3 41.9h1.0v1.0h-1.0zM323.3 49.9h1.0v1.0h-1.0zM325.3 57.5h1.0v1.0h-1.0zM324.9 57.3h1.0v1.0h-1.0zM321.2 56.8h1.0v1.0h-1.0zM323.6 58.2h1.0v1.0h-1.0zM324.5 59.5h1.0v1.0h-1.0zM327.4 60.0h1.0v1.0h-1.0zM322.0 56.5h1.0v1.0h-1.0zM321.8 60.0h1.0v1.0h-1.0zM322.1 49.6h1.0v1.0h-1.0zM322.3 55.8h1.0v1.0h-1.0zM319.9 51.3h1.0v1.0h-1.0zM324.0 62.2h1.0v1.0h-1.0zM318.9 58.7h1.0v1.0h-1.0zM322.7 50.9h1.0v1.0h-1.0zM319.7 55.9h1.0v1.0h-1.0zM320.7 56.5h1.0v1.0h-1.0zM314.8 57.2h1.0v1.0h-1.0zM324.1 61.0h1.0v1.0h-1.0zM321.5 60.4h1.0v1.0h-1.0zM321.1 45.3h1.0v1.0h-1.0zM323.0 62.1h1.0v1.0h-1.0zM322.2 54.3h1.0v1.0h-1.0zM319.2 54.0h1.0v1.0h-1.0zM328.0 62.3h1.0v1.0h-1.0zM320.0 55.3h1.0v1.0h-1.0zM324.7 50.6h1.0v1.0h-1.0zM327.4 50.8h1.0v1.0h-1.0zM319.5 56.6h1.0v1.0h-1.0zM321.8 60.2h1.0v1.0h-1.0zM324.9 55.7h1.0v1.0h-1.0zM320.4 54.4h1.0v1.0h-1.0zM325.8 54.5h1.0v1.0h-1.0zM318.6 57.4h1.0v1.0h-1.0zM325.3 57.4h1.0v1.0h-1.0zM322.1 55.4h1.0v1.0h-1.0zM330.3 57.6h1.0v1.0h-1.0zM327.1 54.5h1.0v1.0h-1.0zM319.7 53.6h1.0v1.0h-1.0zM320.6 55.8h1.0v1.0h-1.0zM318.7 53.7h1.0v1.0h-1.0zM321.9 57.7h1.0v1.0h-1.0zM321.7 56.8h1.0v1.0h-1.0zM323.9 55.3h1.0v1.0h-1.0zM321.8 55.6h1.0v1.0h-1.0zM316.7 55.4h1.0v1.0h-1.0zM326.1 56.4h1.0v1.0h-1.0zM325.3 53.9h1.0v1.0h-1.0zM321.0 55.2h1.0v1.0h-1.0zM321.1 59.2h1.0v1.0h-1.0zM321.0 55.6h1.0v1.0h-1.0zM321.6 55.8h1.0v1.0h-1.0zM316.1 55.3h1.0v1.0h-1.0zM324.4 57.1h1.0v1.0h-1.0zM319.4 58.0h1.0v1.0h-1.0zM322.0 58.3h1.0v1.0h-1.0zM313.3 49.5h1.0v1.0h-1.0zM322.3 51.9h1.0v1.0h-1.0zM325.8 45.4h1.0v1.0h-1.0zM314.2 59.8h1.0v1.0h-1.0zM326.4 61.1h1.0v1.0h-1.0zM323.0 61.9h1.0v1.0h-1.0zM319.1 57.0h1.0v1.0h-1.0zM316.4 61.2h1.0v1.0h-1.0zM325.3 56.2h1.0v1.0h-1.0zM322.3 55.9h1.0v1.0h-1.0zM323.4 49.9h1.0v1.0h-1.0zM320.6 53.1h1.0v1.0h-1.0zM318.9 53.9h1.0v1.0h-1.0zM324.3 60.3h1.0v1.0h-1.0zM324.4 54.4h1.0v1.0h-1.0zM316.1 58.0h1.0v1.0h-1.0zM318.5 57.6h1.0v1.0h-1.0zM316.8 53.2h1.0v1.0h-1.0zM325.8 49.2h1.0v1.0h-1.0zM315.8 53.2h1.0v1.0h-1.0zM317.8 50.4h1.0v1.0h-1.0zM323.6 55.1h1.0v1.0h-1.0zM322.2 55.8h1.0v1.0h-1.0zM328.6 55.6h1.0v1.0h-1.0zM327.5 55.7h1.0v1.0h-1.0zM323.5 58.4h1.0v1.0h-1.0zM323.7 52.5h1.0v1.0h-1.0zM315.6 60.1h1.0v1.0h-1.0zM318.6 49.4h1.0v1.0h-1.0zM320.4 56.7h1.0v1.0h-1.0zM320.9 58.0h1.0v1.0h-1.0zM317.0 53.1h1.0v1.0h-1.0zM318.5 49.7h1.0v1.0h-1.0zM318.7 59.1h1.0v1.0h-1.0zM325.0 53.6h1.0v1.0h-1.0zM322.9 59.7h1.0v1.0h-1.0zM320.4 59.6h1.0v1.0h-1.0zM320.6 56.4h1.0v1.0h-1.0zM322.4 56.4h1.0v1.0h-1.0zM319.2 60.5h1.0v1.0h-1.0zM320.6 58.0h1.0v1.0h-1.0zM315.9 52.5h1.0v1.0h-1.0zM323.7 57.1h1.0v1.0h-1.0zM324.6 58.7h1.0v1.0h-1.0zM322.7 57.2h1.0v1.0h-1.0zM323.1 57.2h1.0v1.0h-1.0zM322.7 55.8h1.0v1.0h-1.0zM328.1 55.9h1.0v1.0h-1.0zM322.2 52.5h1.0v1.0h-1.0zM317.2 50.4h1.0v1.0h-1.0zM318.1 61.1h1.0v1.0h-1.0zM323.8 53.7h1.0v1.0h-1.0zM325.0 57.3h1.0v1.0h-1.0zM324.0 50.1h1.0v1.0h-1.0zM324.2 57.0h1.0v1.0h-1.0zM322.1 52.9h1.0v1.0h-1.0zM319.2 52.1h1.0v1.0h-1.0zM315.6 52.3h1.0v1.0h-1.0zM320.2 60.3h1.0v1.0h-1.0zM317.1 61.1h1.0v1.0h-1.0zM321.8 47.6h1.0v1.0h-1.0zM320.9 57.4h1.0v1.0h-1.0zM315.1 60.1h1.0v1.0h-1.0zM323.9 51.3h1.0v1.0h-1.0zM324.0 59.2h1.0v1.0h-1.0zM317.0 54.2h1.0v1.0h-1.0zM322.0 52.2h1.0v1.0h-1.0zM323.8 54.9h1.0v1.0h-1.0zM320.5 54.5h1.0v1.0h-1.0zM324.3 50.6h1.0v1.0h-1.0zM325.0 54.5h1.0v1.0h-1.0zM322.1 53.3h1.0v1.0h-1.0zM320.9 59.9h1.0v1.0h-1.0zM323.1 56.1h1.0v1.0h-1.0zM324.0 61.9h1.0v1.0h-1.0zM322.3 55.3h1.0v1.0h-1.0zM320.0 57.8h1.0v1.0h-1.0zM318.9 56.8h1.0v1.0h-1.0zM320.3 57.1h1.0v1.0h-1.0zM319.6 55.5h1.0v1.0h-1.0zM322.1 55.9h1.0v1.0h-1.0zM321.2 53.5h1.0v1.0h-1.0zM321.5 54.1h1.0v1.0h-1.0zM322.0 54.9h1.0v1.0h-1.0zM326.6 58.8h1.0v1.0h-1.0zM325.4 58.1h1.0v1.0h-1.0zM319.6 60.3h1.0v1.0h-1.0zM322.8 50.8h1.0v1.0h-1.0zM320.4 57.5h1.0v1.0h-1.0zM321.1 55.6h1.0v1.0h-1.0zM320.7 55.2h1.0v1.0h-1.0zM319.4 57.1h1.0v1.0h-1.0zM317.0 48.2h1.0v1.0h-1.0zM313.4 57.5h1.0v1.0h-1.0zM322.1 57.0h1.0v1.0h-1.0zM325.3 50.4h1.0v1.0h-1.0zM318.5 56.0h1.0v1.0h-1.0zM320.2 54.8h1.0v1.0h-1.0zM322.4 58.8h1.0v1.0h-1.0zM318.8 55.4h1.0v1.0h-1.0zM320.7 53.0h1.0v1.0h-1.0zM321.1 52.5h1.0v1.0h-1.0zM313.6 54.7h1.0v1.0h-1.0zM322.1 61.8h1.0v1.0h-1.0zM321.0 59.8h1.0v1.0h-1.0zM313.3 53.4h1.0v1.0h-1.0zM323.6 60.5h1.0v1.0h-1.0zM321.3 55.8h1.0v1.0h-1.0zM322.1 53.5h1.0v1.0h-1.0zM322.6 58.2h1.0v1.0h-1.0zM320.1 52.6h1.0v1.0h-1.0zM317.9 49.8h1.0v1.0h-1.0zM320.0 61.8h1.0v1.0h-1.0zM320.0 48.8h1.0v1.0h-1.0zM328.7 58.6h1.0v1.0h-1.0zM327.5 50.0h1.0v1.0h-1.0zM319.8 56.3h1.0v1.0h-1.0zM320.1 55.6h1.0v1.0h-1.0zM322.5 54.6h1.0v1.0h-1.0zM323.3 47.3h1.0v1.0h-1.0zM319.1 55.9h1.0v1.0h-1.0zM318.1 56.2h1.0v1.0h-1.0zM327.8 52.7h1.0v1.0h-1.0zM324.9 56.1h1.0v1.0h-1.0zM316.3 60.5h1.0v1.0h-1.0zM315.6 53.4h1.0v1.0h-1.0zM318.7 57.5h1.0v1.0h-1.0zM322.1 51.6h1.0v1.0h-1.0zM323.2 58.0h1.0v1.0h-1.0zM320.3 59.0h1.0v1.0h-1.0zM322.1 60.1h1.0v1.0h-1.0zM323.4 58.2h1.0v1.0h-1.0zM321.4 62.2h1.0v1.0h-1.0zM319.8 52.3h1.0v1.0h-1.0zM323.3 60.8h1.0v1.0h-1.0zM321.2 54.1h1.0v1.0h-1.0zM317.7 53.8h1.0v1.0h-1.0zM321.7 60.9h1.0v1.0h-1.0zM317.1 57.4h1.0v1.0h-1.0zM324.6 61.9h1.0v1.0h-1.0zM322.9 50.4h1.0v1.0h-1.0zM318.1 57.5h1.0v1.0h-1.0zM322.1 54.2h1.0v1.0h-1.0zM325.5 55.3h1.0v1.0h-1.0zM314.3 48.5h1.0v1.0h-1.0zM320.9 60.3h1.0v1.0h-1.0zM326.8 57.3h1.0v1.0h-1.0zM316.3 52.3h1.0v1.0h-1.0zM320.8 50.8h1.0v1.0h-1.0zM316.7 52.8h1.0v1.0h-1.0zM321.2 62.2h1.0v1.0h-1.0zM313.4 56.0h1.0v1.0h-1.0zM316.0 55.0h1.0v1.0h-1.0zM319.6 58.5h1.0v1.0h-1.0zM321.9 56.5h1.0v1.0h-1.0zM322.7 57.4h1.0v1.0h-1.0zM322.8 59.5h1.0v1.0h-1.0zM325.2 57.8h1.0v1.0h-1.0zM323.7 60.1h1.0v1.0h-1.0zM323.8 51.5h1.0v1.0h-1.0zM318.1 56.7h1.0v1.0h-1.0zM320.9 55.0h1.0v1.0h-1.0zM332.0 56.9h1.0v1.0h-1.0zM328.9 56.3h1.0v1.0h-1.0zM324.2 53.8h1.0v1.0h-1.0zM323.9 55.0h1.0v1.0h-1.0zM324.7 60.4h1.0v1.0h-1.0zM320.1 54.2h1.0v1.0h-1.0zM327.9 51.3h1.0v1.0h-1.0zM320.1 58.9h1.0v1.0h-1.0zM321.1 60.5h1.0v1.0h-1.0zM328.6 55.3h1.0v1.0h-1.0zM314.5 57.0h1.0v1.0h-1.0zM322.6 53.0h1.0v1.0h-1.0zM315.7 55.6h1.0v1.0h-1.0zM319.2 61.0h1.0v1.0h-1.0zM321.1 59.8h1.0v1.0h-1.0zM320.2 57.1h1.0v1.0h-1.0zM322.0 55.3h1.0v1.0h-1.0zM318.8 49.8h1.0v1.0h-1.0zM321.1 57.8h1.0v1.0h-1.0zM317.4 58.4h1.0v1.0h-1.0zM320.1 60.8h1.0v1.0h-1.0zM323.6 58.0h1.0v1.0h-1.0zM317.1 60.4h1.0v1.0h-1.0zM323.7 51.9h1.0v1.0h-1.0zM320.0 61.4h1.0v1.0h-1.0zM320.4 60.1h1.0v1.0h-1.0zM325.3 62.1h1.0v1.0h-1.0zM321.8 59.3h1.0v1.0h-1.0zM315.1 58.4h1.0v1.0h-1.0zM311.7 53.8h1.0v1.0h-1.0zM322.3 59.2h1.0v1.0h-1.0zM320.1 61.0h1.0v1.0h-1.0zM316.7 53.3h1.0v1.0h-1.0zM321.7 51.8h1.0v1.0h-1.0zM320.4 58.3h1.0v1.0h-1.0zM328.1 57.0h1.0v1.0h-1.0zM319.9 59.0h1.0v1.0h-1.0zM327.9 59.2h1.0v1.0h-1.0zM326.0 53.4h1.0v1.0h-1.0zM319.3 57.9h1.0v1.0h-1.0zM318.7 61.2h1.0v1.0h-1.0zM325.8 55.1h1.0v1.0h-1.0zM320.9 55.4h1.0v1.0h-1.0zM321.9 51.9h1.0v1.0h-1.0zM320.5 59.9h1.0v1.0h-1.0zM320.1 50.9h1.0v1.0h-1.0zM318.2 59.7h1.0v1.0h-1.0zM316.2 60.2h1.0v1.0h-1.0zM320.4 54.3h1.0v1.0h-1.0zM327.4 55.0h1.0v1.0h-1.0zM326.8 52.3h1.0v1.0h-1.0zM321.2 53.3h1.0v1.0h-1.0zM321.9 57.2h1.0v1.0h-1.0zM323.1 59.2h1.0v1.0h-1.0zM326.0 57.0h1.0v1.0h-1.0zM322.5 60.1h1.0v1.0h-1.0zM319.8 57.4h1.0v1.0h-1.0zM320.1 51.8h1.0v1.0h-1.0zM330.2 61.4h1.0v1.0h-1.0zM319.3 53.7h1.0v1.0h-1.0zM324.1 58.5h1.0v1.0h-1.0zM321.1 57.1h1.0v1.0h-1.0zM325.6 46.4h1.0v1.0h-1.0zM321.6 50.0h1.0v1.0h-1.0zM316.9 59.5h1.0v1.0h-1.0zM314.8 55.6h1.0v1.0h-1.0zM321.2 52.7h1.0v1.0h-1.0zM322.4 58.6h1.0v1.0h-1.0zM317.1 51.4h1.0v1.0h-1.0zM320.2 53.9h1.0v1.0h-1.0zM316.4 60.1h1.0v1.0h-1.0zM319.9 48.4h1.0v1.0h-1.0zM323.4 57.6h1.0v1.0h-1.0zM326.0 55.0h1.0v1.0h-1.0zM320.8 49.5h1.0v1.0h-1.0zM318.5 55.9h1.0v1.0h-1.0zM328.0 50.0h1.0v1.0h-1.0zM322.6 54.4h1.0v1.0h-1.0zM323.5 58.7h1.0v1.0h-1.0zM326.3 59.8h1.0v1.0h-1.0zM324.8 59.1h1.0v1.0h-1.0zM323.7 58.1h1.0v1.0h-1.0zM324.0 60.6h1.0v1.0h-1.0zM318.5 51.9h1.0v1.0h-1.0zM319.3 55.2h1.0v1.0h-1.0zM321.0 60.1h1.0v1.0h-1.0zM321.7 53.6h1.0v1.0h-1.0zM321.5 54.8h1.0v1.0h-1.0zM322.5 61.6h1.0v1.0h-1.0zM320.0 54.2h1.0v1.0h-1.0zM315.9 53.3h1.0v1.0h-1.0zM324.2 59.0h1.0v1.0h-1.0zM323.4 57.8h1.0v1.0h-1.0zM318.4 53.9h1.0v1.0h-1.0zM323.1 59.1h1.0v1.0h-1.0zM322.8 58.9h1.0v1.0h-1.0zM321.7 57.0h1.0v1.0h-1.0zM317.3 62.2h1.0v1.0h-1.0zM319.4 60.0h1.0v1.0h-1.0zM326.9 60.9h1.0v1.0h-1.0zM320.2 61.2h1.0v1.0h-1.0zM317.6 53.7h1.0v1.0h-1.0zM319.7 58.0h1.0v1.0h-1.0zM322.6 57.0h1.0v1.0h-1.0zM314.4 54.3h1.0v1.0h-1.0zM311.8 57.7h1.0v1.0h-1.0zM323.7 57.7h1.0v1.0h-1.0zM321.5 56.4h1.0v1.0h-1.0zM319.4 54.7h1.0v1.0h-1.0zM324.7 60.1h1.0v1.0h-1.0zM324.7 50.1h1.0v1.0h-1.0zM314.3 60.1h1.0v1.0h-1.0zM320.8 56.7h1.0v1.0h-1.0zM325.2 57.8h1.0v1.0h-1.0zM319.1 46.9h1.0v1.0h-1.0zM324.6 49.6h1.0v1.0h-1.0zM320.5 53.1h1.0v1.0h-1.0zM317.3 59.3h1.0v1.0h-1.0zM319.1 54.2h1.0v1.0h-1.0zM316.9 55.0h1.0v1.0h-1.0zM323.3 47.5h1.0v1.0h-1.0zM315.6 54.9h1.0v1.0h-1.0zM324.8 57.6h1.0v1.0h-1.0zM315.8 59.5h1.0v1.0h-1.0zM321.6 55.5h1.0v1.0h-1.0zM316.4 57.6h1.0v1.0h-1.0zM320.3 58.5h1.0v1.0h-1.0zM324.9 53.9h1.0v1.0h-1.0zM325.2 53.6h1.0v1.0h-1.0zM321.1 53.2h1.0v1.0h-1.0zM321.8 61.8h1.0v1.0h-1.0zM322.2 57.0h1.0v1.0h-1.0zM320.1 54.1h1.0v1.0h-1.0zM325.1 58.8h1.0v1.0h-1.0zM322.5 58.0h1.0v1.0h-1.0zM325.3 55.8h1.0v1.0h-1.0zM323.0 58.0h1.0v1.0h-1.0zM323.7 53.5h1.0v1.0h-1.0zM318.9 56.4h1.0v1.0h-1.0zM320.0 55.0h1.0v1.0h-1.0zM317.0 59.8h1.0v1.0h-1.0zM320.4 56.3h1.0v1.0h-1.0zM320.8 51.0h1.0v1.0h-1.0zM324.3 55.2h1.0v1.0h-1.0zM317.1 56.3h1.0v1.0h-1.0zM332.4 53.0h1.0v1.0h-1.0zM321.0 62.2h1.0v1.0h-1.0zM325.7 58.4h1.0v1.0h-1.0zM324.9 60.2h1.0v1.0h-1.0zM312.8 53.5h1.0v1.0h-1.0zM320.5 55.0h1.0v1.0h-1.0zM326.4 60.8h1.0v1.0h-1.0zM313.2 50.8h1.0v1.0h-1.0zM324.0 58.2h1.0v1.0h-1.0zM318.3 57.1h1.0v1.0h-1.0zM319.8 54.6h1.0v1.0h-1.0zM322.2 57.1h1.0v1.0h-1.0zM315.1 52.3h1.0v1.0h-1.0zM322.1 57.6h1.0v1.0h-1.0zM319.2 51.7h1.0v1.0h-1.0zM318.9 51.4h1.0v1.0h-1.0zM323.8 62.5h1.0v1.0h-1.0zM333.3 53.8h1.0v1.0h-1.0zM322.6 48.0h1.0v1.0h-1.0zM323.3 60.7h1.0v1.0h-1.0zM321.2 53.5h1.0v1.0h-1.0zM318.9 42.2h1.0v1.0h-1.0zM322.3 56.5h1.0v1.0h-1.0zM326.6 60.5h1.0v1.0h-1.0zM322.0 58.1h1.0v1.0h-1.0zM320.6 56.2h1.0v1.0h-1.0zM330.0 59.2h1.0v1.0h-1.0zM315.8 52.5h1.0v1.0h-1.0zM323.4 57.4h1.0v1.0h-1.0zM322.3 58.8h1.0v1.0h-1.0zM317.6 57.4h1.0v1.0h-1.0zM317.5 48.5h1.0v1.0h-1.0zM320.6 55.1h1.0v1.0h-1.0zM321.7 51.4h1.0v1.0h-1.0zM317.3 59.9h1.0v1.0h-1.0zM317.8 53.6h1.0v1.0h-1.0zM323.3 58.2h1.0v1.0h-1.0zM324.9 52.6h1.0v1.0h-1.0zM319.0 51.9h1.0v1.0h-1.0zM318.9 57.3h1.0v1.0h-1.0zM313.7 59.5h1.0v1.0h-1.0zM320.4 61.3h1.0v1.0h-1.0zM316.3 53.3h1.0v1.0h-1.0zM321.9 61.1h1.0v1.0h-1.0zM315.7 50.7h1.0v1.0h-1.0zM322.1 56.7h1.0v1.0h-1.0zM324.5 53.2h1.0v1.0h-1.0zM321.9 56.0h1.0v1.0h-1.0zM325.6 51.0h1.0v1.0h-1.0zM318.7 53.7h1.0v1.0h-1.0zM323.0 54.9h1.0v1.0h-1.0zM319.7 56.7h1.0v1.0h-1.0zM326.7 51.1h1.0v1.0h-1.0zM314.4 57.1h1.0v1.0h-1.0zM326.0 51.2h1.0v1.0h-1.0zM325.8 51.6h1.0v1.0h-1.0zM314.3 49.6h1.0v1.0h-1.0zM323.5 52.1h1.0v1.0h-1.0zM314.5 56.5h1.0v1.0h-1.0zM324.7 54.7h1.0v1.0h-1.0zM316.3 57.9h1.0v1.0h-1.0zM314.1 49.6h1.0v1.0h-1.0zM326.1 54.2h1.0v1.0h-1.0zM321.6 56.3h1.0v1.0h-1.0zM324.9 61.3h1.0v1.0h-1.0zM314.4 56.6h1.0v1.0h-1.0zM314.4 52.5h1.0v1.0h-1.0zM323.7 49.7h1.0v1.0h-1.0zM325.7 57.5h1.0v1.0h-1.0zM315.7 56.4h1.0v1.0h-1.0zM326.3 55.1h1.0v1.0h-1.0zM313.4 58.8h1.0v1.0h-1.0zM324.5 55.0h1.0v1.0h-1.0zM322.4 59.7h1.0v1.0h-1.0zM318.8 52.3h1.0v1.0h-1.0zM318.7 52.9h1.0v1.0h-1.0zM317.6 61.7h1.0v1.0h-1.0zM320.1 56.7h1.0v1.0h-1.0zM320.5 62.3h1.0v1.0h-1.0zM315.5 48.9h1.0v1.0h-1.0zM313.2 61.9h1.0v1.0h-1.0zM320.9 48.9h1.0v1.0h-1.0zM315.9 59.2h1.0v1.0h-1.0zM314.5 56.7h1.0v1.0h-1.0zM316.8 49.8h1.0v1.0h-1.0zM315.2 52.5h1.0v1.0h-1.0zM326.0 55.2h1.0v1.0h-1.0zM317.4 56.4h1.0v1.0h-1.0zM322.7 55.3h1.0v1.0h-1.0zM313.1 48.4h1.0v1.0h-1.0zM327.3 53.3h1.0v1.0h-1.0zM324.3 58.8h1.0v1.0h-1.0zM324.5 61.9h1.0v1.0h-1.0zM320.2 50.8h1.0v1.0h-1.0zM326.5 61.4h1.0v1.0h-1.0zM316.6 55.7h1.0v1.0h-1.0zM320.6 57.8h1.0v1.0h-1.0zM323.9 51.7h1.0v1.0h-1.0zM318.1 50.2h1.0v1.0h-1.0zM320.1 56.7h1.0v1.0h-1.0zM313.5 61.5h1.0v1.0h-1.0zM323.2 54.3h1.0v1.0h-1.0zM315.5 62.3h1.0v1.0h-1.0zM316.9 58.6h1.0v1.0h-1.0zM316.4 48.3h1.0v1.0h-1.0zM323.8 62.0h1.0v1.0h-1.0zM319.0 49.7h1.0v1.0h-1.0zM327.9 51.3h1.0v1.0h-1.0zM325.0 56.4h1.0v1.0h-1.0zM326.9 62.1h1.0v1.0h-1.0zM323.3 50.0h1.0v1.0h-1.0zM316.4 52.5h1.0v1.0h-1.0zM317.9 48.7h1.0v1.0h-1.0zM318.5 49.3h1.0v1.0h-1.0zM316.0 54.5h1.0v1.0h-1.0zM320.0 56.6h1.0v1.0h-1.0zM324.9 55.7h1.0v1.0h-1.0zM320.8 48.7h1.0v1.0h-1.0zM315.5 54.4h1.0v1.0h-1.0zM324.0 54.7h1.0v1.0h-1.0zM327.5 62.0h1.0v1.0h-1.0zM320.1 52.9h1.0v1.0h-1.0zM315.1 57.5h1.0v1.0h-1.0zM324.0 55.3h1.0v1.0h-1.0zM321.1 59.7h1.0v1.0h-1.0zM325.1 57.1h1.0v1.0h-1.0zM326.1 57.6h1.0v1.0h-1.0zM313.2 53.1h1.0v1.0h-1.0zM322.8 54.3h1.0v1.0h-1.0zM322.0 60.8h1.0v1.0h-1.0zM324.7 53.5h1.0v1.0h-1.0zM316.3 61.9h1.0v1.0h-1.0zM321.8 54.6h1.0v1.0h-1.0zM317.0 62.1h1.0v1.0h-1.0zM324.3 50.3h1.0v1.0h-1.0zM314.2 59.8h1.0v1.0h-1.0zM315.4 54.7h1.0v1.0h-1.0zM327.2 51.4h1.0v1.0h-1.0zM324.1 56.9h1.0v1.0h-1.0zM316.8 48.9h1.0v1.0h-1.0zM317.7 51.0h1.0v1.0h-1.0zM319.5 60.7h1.0v1.0h-1.0zM316.5 55.9h1.0v1.0h-1.0zM315.1 53.1h1.0v1.0h-1.0zM327.5 50.2h1.0v1.0h-1.0zM316.2 50.4h1.0v1.0h-1.0zM324.2 51.4h1.0v1.0h-1.0zM323.8 54.9h1.0v1.0h-1.0zM324.0 48.3h1.0v1.0h-1.0zM317.5 51.1h1.0v1.0h-1.0zM316.3 54.4h1.0v1.0h-1.0zM322.2 61.2h1.0v1.0h-1.0zM327.9 61.0h1.0v1.0h-1.0zM318.8 62.0h1.0v1.0h-1.0zM316.3 51.4h1.0v1.0h-1.0zM320.6 49.9h1.0v1.0h-1.0zM315.8 60.7h1.0v1.0h-1.0zM318.2 58.5h1.0v1.0h-1.0zM324.0 51.7h1.0v1.0h-1.0zM316.6 54.5h1.0v1.0h-1.0zM319.7 61.9h1.0v1.0h-1.0zM322.7 60.3h1.0v1.0h-1.0zM315.4 62.0h1.0v1.0h-1.0zM315.2 55.4h1.0v1.0h-1.0zM327.5 50.9h1.0v1.0h-1.0zM326.0 56.1h1.0v1.0h-1.0zM326.3 49.7h1.0v1.0h-1.0zM321.6 49.8h1.0v1.0h-1.0zM320.6 49.4h1.0v1.0h-1.0zM314.6 51.8h1.0v1.0h-1.0zM316.6 50.5h1.0v1.0h-1.0zM314.7 51.9h1.0v1.0h-1.0zM321.0 58.4h1.0v1.0h-1.0zM319.5 58.1h1.0v1.0h-1.0zM315.6 48.4h1.0v1.0h-1.0zM314.5 60.9h1.0v1.0h-1.0zM321.6 60.3h1.0v1.0h-1.0zM315.1 62.2h1.0v1.0h-1.0zM313.2 51.3h1.0v1.0h-1.0zM316.4 59.0h1.0v1.0h-1.0zM325.0 56.4h1.0v1.0h-1.0zM322.9 58.6h1.0v1.0h-1.0zM320.8 61.6h1.0v1.0h-1.0zM316.4 49.2h1.0v1.0h-1.0zM320.0 60.6h1.0v1.0h-1.0zM313.1 60.9h1.0v1.0h-1.0zM317.9 57.7h1.0v1.0h-1.0zM320.2 54.0h1.0v1.0h-1.0zM314.4 56.1h1.0v1.0h-1.0zM321.7 50.1h1.0v1.0h-1.0zM319.6 59.2h1.0v1.0h-1.0zM313.8 56.3h1.0v1.0h-1.0zM315.2 56.6h1.0v1.0h-1.0zM320.3 58.6h1.0v1.0h-1.0zM326.5 49.5h1.0v1.0h-1.0zM313.9 48.7h1.0v1.0h-1.0zM321.4 49.8h1.0v1.0h-1.0zM317.3 49.2h1.0v1.0h-1.0zM318.8 60.0h1.0v1.0h-1.0zM326.8 50.0h1.0v1.0h-1.0zM322.4 53.7h1.0v1.0h-1.0zM317.3 57.9h1.0v1.0h-1.0zM319.8 51.9h1.0v1.0h-1.0zM327.7 61.7h1.0v1.0h-1.0zM326.0 61.7h1.0v1.0h-1.0zM319.4 53.9h1.0v1.0h-1.0zM320.9 56.8h1.0v1.0h-1.0zM319.9 59.8h1.0v1.0h-1.0zM327.5 58.4h1.0v1.0h-1.0zM316.4 54.7h1.0v1.0h-1.0zM316.3 48.7h1.0v1.0h-1.0zM314.7 57.6h1.0v1.0h-1.0zM327.1 57.9h1.0v1.0h-1.0zM326.7 58.4h1.0v1.0h-1.0zM322.6 53.2h1.0v1.0h-1.0zM320.9 60.9h1.0v1.0h-1.0zM321.7 56.9h1.0v1.0h-1.0zM318.6 53.7h1.0v1.0h-1.0zM326.3 51.6h1.0v1.0h-1.0zM321.4 48.5h1.0v1.0h-1.0zM325.8 58.7h1.0v1.0h-1.0zM323.4 52.7h1.0v1.0h-1.0zM323.2 60.8h1.0v1.0h-1.0zM323.1 52.8h1.0v1.0h-1.0zM324.6 52.6h1.0v1.0h-1.0zM325.2 59.8h1.0v1.0h-1.0zM323.2 53.7h1.0v1.0h-1.0zM316.9 56.5h1.0v1.0h-1.0zM315.9 62.1h1.0v1.0h-1.0zM325.8 49.8h1.0v1.0h-1.0zM320.3 48.7h1.0v1.0h-1.0zM313.0 48.2h1.0v1.0h-1.0zM322.0 61.1h1.0v1.0h-1.0zM326.0 55.2h1.0v1.0h-1.0zM326.8 59.0h1.0v1.0h-1.0zM327.1 55.9h1.0v1.0h-1.0zM315.7 60.1h1.0v1.0h-1.0zM320.7 55.2h1.0v1.0h-1.0zM323.6 50.7h1.0v1.0h-1.0zM322.6 53.8h1.0v1.0h-1.0zM318.4 53.9h1.0v1.0h-1.0zM313.6 53.4h1.0v1.0h-1.0zM326.4 58.7h1.0v1.0h-1.0zM324.7 60.6h1.0v1.0h-1.0zM326.0 60.4h1.0v1.0h-1.0zM318.8 51.0h1.0v1.0h-1.0zM316.7 50.5h1.0v1.0h-1.0zM325.7 58.1h1.0v1.0h-1.0zM322.8 59.0h1.0v1.0h-1.0zM323.0 59.8h1.0v1.0h-1.0zM313.5 61.6h1.0v1.0h-1.0zM314.6 53.0h1.0v1.0h-1.0zM299.3 35.2h1.0v1.0h-1.0zM314.1 43.6h1.0v1.0h-1.0zM311.9 33.6h1.0v1.0h-1.0zM301.4 44.2h1.0v1.0h-1.0zM329.3 41.7h1.0v1.0h-1.0zM321.1 31.9h1.0v1.0h-1.0z" fill="#26267e"/>
<rect x="293.8" y="10.8" width="52.9" height="53.2" fill="none" stroke="#333" stroke-width="1" />
<rect x="294.6" y="27.2" width="19.6" height="11.5" fill="none" stroke="#000" stroke-width="1" />
<rect x="311.5" y="45.7" width="17.3" height="18" fill="none" stroke="#000" stroke-width="1" />
<text x="295.6" y="24.2" font-size="6.0" textLength="10" lengthAdjust="spacingAndGlyphs">6.75</text>
<text x="333.2" y="62.7" font-size="6.0" textLength="10.8" lengthAdjust="spacingAndGlyphs">97.9</text>
<text x="320.3" y="71.2" font-size="6.3" text-anchor="middle" textLength="11" lengthAdjust="spacingAndGlyphs">CD8</text>
<text x="290.6" y="37.3" font-size="6.3" text-anchor="middle" textLength="11" lengthAdjust="spacingAndGlyphs" transform="rotate(-90 290.6 37.3)">CD4</text>
<line x1="318.2" y1="73.4" x2="272" y2="100.2" stroke="#000" stroke-width="2.6" stroke-linecap="round"/>
<path d="M275.6 92.6L270.3 101.2L280.4 101.4" fill="none" stroke="#000" stroke-width="2.6" stroke-linecap="round"/>
<line x1="318.2" y1="73.4" x2="318.2" y2="93" stroke="#000" stroke-width="2.6" stroke-linecap="round"/>
<path d="M313.8 86.2L318.2 94.4L322.6 86.2" fill="none" stroke="#000" stroke-width="2.6" stroke-linecap="round"/>
<text x="232.5" y="102" font-size="7" text-anchor="middle" textLength="17" lengthAdjust="spacingAndGlyphs">-CMV</text>
<text x="236.8" y="109.6" font-size="7" text-anchor="middle" textLength="52.3" lengthAdjust="spacingAndGlyphs">Memory subsets</text>
<line x1="207.8" y1="149.4" x2="257.4" y2="149.4" stroke="#555" stroke-width="0.9" />
<clipPath id="cm"><rect x="208" y="113" width="61.5" height="61"/></clipPath><g clip-path="url(#cm)"><ellipse cx="256" cy="146.5" rx="13" ry="6.5" fill="#12129c" filter="url(#bl0)"/><ellipse cx="265" cy="145" rx="5" ry="9" fill="#12129c" filter="url(#bl0)"/></g>
<path d="M259.9 145.2h0.9v0.9h-0.9zM250.6 147.1h0.9v0.9h-0.9zM257.7 149.9h0.9v0.9h-0.9zM246.6 143.9h0.9v0.9h-0.9zM268.4 157.3h0.9v0.9h-0.9zM249.8 142.8h0.9v0.9h-0.9zM264.9 143.7h0.9v0.9h-0.9zM233.5 158.9h0.9v0.9h-0.9zM246.6 146.7h0.9v0.9h-0.9zM253.8 145.5h0.9v0.9h-0.9zM266.4 140.9h0.9v0.9h-0.9zM251.3 152.4h0.9v0.9h-0.9zM259.1 147.4h0.9v0.9h-0.9zM249.0 142.1h0.9v0.9h-0.9zM260.8 148.6h0.9v0.9h-0.9zM244.6 153.6h0.9v0.9h-0.9zM263.3 150.1h0.9v0.9h-0.9zM228.3 158.0h0.9v0.9h-0.9zM238.4 152.5h0.9v0.9h-0.9zM257.2 146.3h0.9v0.9h-0.9zM247.5 149.4h0.9v0.9h-0.9zM265.3 151.0h0.9v0.9h-0.9zM266.0 152.0h0.9v0.9h-0.9zM251.8 147.7h0.9v0.9h-0.9zM261.3 150.5h0.9v0.9h-0.9zM260.3 152.8h0.9v0.9h-0.9zM240.5 145.6h0.9v0.9h-0.9zM261.1 139.8h0.9v0.9h-0.9zM254.0 155.5h0.9v0.9h-0.9zM267.4 149.5h0.9v0.9h-0.9zM267.6 144.2h0.9v0.9h-0.9zM249.8 147.7h0.9v0.9h-0.9zM250.1 145.2h0.9v0.9h-0.9zM257.4 137.6h0.9v0.9h-0.9zM261.6 145.5h0.9v0.9h-0.9zM251.9 139.1h0.9v0.9h-0.9zM254.6 147.6h0.9v0.9h-0.9zM261.2 145.9h0.9v0.9h-0.9zM259.5 152.4h0.9v0.9h-0.9zM266.3 145.9h0.9v0.9h-0.9zM257.8 148.4h0.9v0.9h-0.9zM247.5 144.9h0.9v0.9h-0.9zM239.4 144.5h0.9v0.9h-0.9zM263.1 139.2h0.9v0.9h-0.9zM252.6 151.7h0.9v0.9h-0.9zM252.4 147.4h0.9v0.9h-0.9zM253.0 143.5h0.9v0.9h-0.9zM241.2 147.6h0.9v0.9h-0.9zM252.0 144.3h0.9v0.9h-0.9zM231.7 142.7h0.9v0.9h-0.9zM251.9 147.8h0.9v0.9h-0.9zM247.4 152.8h0.9v0.9h-0.9zM259.7 139.1h0.9v0.9h-0.9zM253.6 143.3h0.9v0.9h-0.9zM257.1 155.8h0.9v0.9h-0.9zM262.3 142.3h0.9v0.9h-0.9zM248.6 152.7h0.9v0.9h-0.9zM253.5 145.3h0.9v0.9h-0.9zM252.3 150.3h0.9v0.9h-0.9zM256.3 138.3h0.9v0.9h-0.9zM237.5 144.4h0.9v0.9h-0.9zM262.9 157.5h0.9v0.9h-0.9zM246.8 149.4h0.9v0.9h-0.9zM255.0 145.8h0.9v0.9h-0.9zM264.8 148.2h0.9v0.9h-0.9zM250.4 149.0h0.9v0.9h-0.9zM253.1 158.0h0.9v0.9h-0.9zM244.2 146.4h0.9v0.9h-0.9zM245.8 145.6h0.9v0.9h-0.9zM235.8 143.1h0.9v0.9h-0.9zM266.2 139.7h0.9v0.9h-0.9zM245.0 138.1h0.9v0.9h-0.9zM259.0 150.0h0.9v0.9h-0.9zM258.6 136.8h0.9v0.9h-0.9zM249.6 153.8h0.9v0.9h-0.9zM256.0 151.0h0.9v0.9h-0.9zM254.7 145.0h0.9v0.9h-0.9zM251.0 140.5h0.9v0.9h-0.9zM256.0 146.7h0.9v0.9h-0.9zM256.0 146.6h0.9v0.9h-0.9zM246.1 152.4h0.9v0.9h-0.9zM243.6 142.7h0.9v0.9h-0.9zM247.7 144.5h0.9v0.9h-0.9zM256.7 146.2h0.9v0.9h-0.9zM268.4 145.1h0.9v0.9h-0.9zM258.5 137.6h0.9v0.9h-0.9zM264.3 138.0h0.9v0.9h-0.9zM256.7 143.0h0.9v0.9h-0.9zM265.8 145.3h0.9v0.9h-0.9zM256.7 151.7h0.9v0.9h-0.9zM259.2 158.5h0.9v0.9h-0.9zM252.9 155.4h0.9v0.9h-0.9zM255.5 148.6h0.9v0.9h-0.9zM244.4 145.9h0.9v0.9h-0.9zM255.6 143.8h0.9v0.9h-0.9zM250.0 158.5h0.9v0.9h-0.9zM264.4 141.0h0.9v0.9h-0.9zM252.6 145.2h0.9v0.9h-0.9zM229.8 154.1h0.9v0.9h-0.9zM261.2 143.4h0.9v0.9h-0.9zM261.2 150.6h0.9v0.9h-0.9zM239.9 144.4h0.9v0.9h-0.9zM253.3 140.2h0.9v0.9h-0.9zM254.9 147.7h0.9v0.9h-0.9zM234.0 147.4h0.9v0.9h-0.9zM261.8 140.5h0.9v0.9h-0.9zM259.6 142.0h0.9v0.9h-0.9zM257.7 142.4h0.9v0.9h-0.9zM245.6 151.5h0.9v0.9h-0.9zM248.9 148.9h0.9v0.9h-0.9zM249.6 147.8h0.9v0.9h-0.9zM260.0 149.1h0.9v0.9h-0.9zM246.3 144.0h0.9v0.9h-0.9zM259.0 143.4h0.9v0.9h-0.9zM235.2 139.6h0.9v0.9h-0.9zM257.0 147.6h0.9v0.9h-0.9zM250.3 147.0h0.9v0.9h-0.9zM256.4 152.0h0.9v0.9h-0.9zM238.4 137.8h0.9v0.9h-0.9zM257.2 145.4h0.9v0.9h-0.9zM232.5 148.6h0.9v0.9h-0.9zM245.9 141.5h0.9v0.9h-0.9zM268.1 147.8h0.9v0.9h-0.9zM267.2 144.4h0.9v0.9h-0.9zM252.3 140.7h0.9v0.9h-0.9zM246.4 152.4h0.9v0.9h-0.9zM264.2 139.3h0.9v0.9h-0.9zM255.0 151.7h0.9v0.9h-0.9zM257.4 144.4h0.9v0.9h-0.9zM261.3 141.6h0.9v0.9h-0.9zM245.4 141.9h0.9v0.9h-0.9zM262.9 142.7h0.9v0.9h-0.9zM235.6 142.1h0.9v0.9h-0.9zM240.7 136.8h0.9v0.9h-0.9zM249.5 153.0h0.9v0.9h-0.9zM249.2 150.9h0.9v0.9h-0.9zM262.2 153.8h0.9v0.9h-0.9zM262.4 141.4h0.9v0.9h-0.9zM258.8 134.5h0.9v0.9h-0.9zM260.5 143.3h0.9v0.9h-0.9zM259.8 145.7h0.9v0.9h-0.9zM254.7 148.1h0.9v0.9h-0.9zM237.5 143.8h0.9v0.9h-0.9zM233.8 146.1h0.9v0.9h-0.9zM233.8 147.3h0.9v0.9h-0.9zM254.9 138.5h0.9v0.9h-0.9zM253.2 155.9h0.9v0.9h-0.9zM254.1 140.7h0.9v0.9h-0.9zM257.5 147.9h0.9v0.9h-0.9zM253.2 152.2h0.9v0.9h-0.9zM246.0 142.5h0.9v0.9h-0.9zM241.3 146.6h0.9v0.9h-0.9zM237.6 155.0h0.9v0.9h-0.9zM266.8 145.1h0.9v0.9h-0.9zM263.9 152.0h0.9v0.9h-0.9zM242.6 148.1h0.9v0.9h-0.9zM252.8 147.7h0.9v0.9h-0.9zM259.5 150.3h0.9v0.9h-0.9zM249.7 145.5h0.9v0.9h-0.9zM257.0 151.6h0.9v0.9h-0.9zM266.2 147.9h0.9v0.9h-0.9zM239.0 149.1h0.9v0.9h-0.9zM248.4 140.3h0.9v0.9h-0.9zM254.9 146.7h0.9v0.9h-0.9zM248.5 152.9h0.9v0.9h-0.9zM263.5 148.4h0.9v0.9h-0.9zM257.2 143.9h0.9v0.9h-0.9zM246.3 143.4h0.9v0.9h-0.9zM263.4 148.9h0.9v0.9h-0.9zM261.2 153.9h0.9v0.9h-0.9zM250.5 146.8h0.9v0.9h-0.9zM251.2 153.4h0.9v0.9h-0.9zM241.5 145.0h0.9v0.9h-0.9zM254.6 152.8h0.9v0.9h-0.9zM263.4 141.4h0.9v0.9h-0.9zM264.7 147.5h0.9v0.9h-0.9zM260.7 141.0h0.9v0.9h-0.9zM263.0 150.0h0.9v0.9h-0.9zM249.7 149.6h0.9v0.9h-0.9zM250.9 141.6h0.9v0.9h-0.9zM266.6 142.7h0.9v0.9h-0.9zM259.5 144.3h0.9v0.9h-0.9zM247.8 138.8h0.9v0.9h-0.9zM260.0 141.8h0.9v0.9h-0.9zM263.1 142.1h0.9v0.9h-0.9zM261.9 150.6h0.9v0.9h-0.9zM256.3 153.8h0.9v0.9h-0.9zM250.4 144.3h0.9v0.9h-0.9zM259.0 145.1h0.9v0.9h-0.9zM256.6 143.9h0.9v0.9h-0.9zM249.0 145.1h0.9v0.9h-0.9zM258.4 150.9h0.9v0.9h-0.9zM243.7 147.8h0.9v0.9h-0.9zM257.4 146.1h0.9v0.9h-0.9zM252.4 143.6h0.9v0.9h-0.9zM264.2 154.2h0.9v0.9h-0.9zM256.2 143.4h0.9v0.9h-0.9zM265.1 147.2h0.9v0.9h-0.9zM253.2 143.5h0.9v0.9h-0.9zM247.4 147.1h0.9v0.9h-0.9zM259.5 144.5h0.9v0.9h-0.9zM254.4 149.3h0.9v0.9h-0.9zM256.6 146.9h0.9v0.9h-0.9zM249.6 139.4h0.9v0.9h-0.9zM260.4 134.6h0.9v0.9h-0.9zM255.9 151.7h0.9v0.9h-0.9zM235.0 143.5h0.9v0.9h-0.9zM253.0 154.3h0.9v0.9h-0.9zM258.3 146.7h0.9v0.9h-0.9zM266.3 142.6h0.9v0.9h-0.9zM249.8 149.5h0.9v0.9h-0.9zM247.7 145.2h0.9v0.9h-0.9zM266.0 146.6h0.9v0.9h-0.9zM249.5 141.7h0.9v0.9h-0.9zM256.2 149.9h0.9v0.9h-0.9zM259.6 152.3h0.9v0.9h-0.9zM262.1 143.8h0.9v0.9h-0.9zM255.3 155.8h0.9v0.9h-0.9zM244.8 143.6h0.9v0.9h-0.9zM264.7 147.9h0.9v0.9h-0.9zM251.1 138.1h0.9v0.9h-0.9zM250.3 136.6h0.9v0.9h-0.9zM263.4 154.0h0.9v0.9h-0.9zM245.3 152.5h0.9v0.9h-0.9zM250.7 137.8h0.9v0.9h-0.9zM252.9 147.7h0.9v0.9h-0.9zM248.2 148.8h0.9v0.9h-0.9zM237.3 147.0h0.9v0.9h-0.9zM262.7 148.1h0.9v0.9h-0.9zM262.4 141.8h0.9v0.9h-0.9zM257.5 145.7h0.9v0.9h-0.9zM251.4 140.6h0.9v0.9h-0.9zM257.2 144.8h0.9v0.9h-0.9zM261.2 148.5h0.9v0.9h-0.9zM245.4 142.5h0.9v0.9h-0.9zM252.1 145.1h0.9v0.9h-0.9zM250.0 144.3h0.9v0.9h-0.9zM261.7 146.6h0.9v0.9h-0.9zM257.6 151.3h0.9v0.9h-0.9zM243.0 147.8h0.9v0.9h-0.9zM249.4 148.6h0.9v0.9h-0.9zM246.1 144.7h0.9v0.9h-0.9zM256.6 150.8h0.9v0.9h-0.9zM249.3 142.1h0.9v0.9h-0.9zM266.8 144.3h0.9v0.9h-0.9zM254.6 141.5h0.9v0.9h-0.9zM251.1 153.5h0.9v0.9h-0.9zM244.2 144.2h0.9v0.9h-0.9zM252.9 142.8h0.9v0.9h-0.9zM262.9 149.8h0.9v0.9h-0.9zM261.4 152.3h0.9v0.9h-0.9zM242.8 149.1h0.9v0.9h-0.9zM252.8 147.6h0.9v0.9h-0.9zM245.3 145.9h0.9v0.9h-0.9zM256.3 144.3h0.9v0.9h-0.9zM249.3 143.9h0.9v0.9h-0.9zM249.7 143.4h0.9v0.9h-0.9zM249.2 148.5h0.9v0.9h-0.9zM254.3 146.0h0.9v0.9h-0.9zM250.5 147.0h0.9v0.9h-0.9zM239.2 149.7h0.9v0.9h-0.9zM260.0 146.3h0.9v0.9h-0.9zM250.3 139.4h0.9v0.9h-0.9zM266.3 142.4h0.9v0.9h-0.9zM260.1 140.7h0.9v0.9h-0.9zM260.9 136.6h0.9v0.9h-0.9zM256.8 147.1h0.9v0.9h-0.9zM267.2 140.3h0.9v0.9h-0.9zM252.1 139.9h0.9v0.9h-0.9zM245.9 140.9h0.9v0.9h-0.9zM258.3 151.1h0.9v0.9h-0.9zM229.8 144.9h0.9v0.9h-0.9zM251.7 151.7h0.9v0.9h-0.9zM257.1 146.1h0.9v0.9h-0.9zM251.2 144.3h0.9v0.9h-0.9zM266.8 149.5h0.9v0.9h-0.9zM261.6 149.6h0.9v0.9h-0.9zM256.1 147.1h0.9v0.9h-0.9zM251.4 141.1h0.9v0.9h-0.9zM265.3 144.2h0.9v0.9h-0.9zM248.8 140.4h0.9v0.9h-0.9zM251.2 145.2h0.9v0.9h-0.9zM262.0 147.0h0.9v0.9h-0.9zM260.6 154.2h0.9v0.9h-0.9zM253.1 150.0h0.9v0.9h-0.9zM237.6 151.5h0.9v0.9h-0.9zM261.2 147.7h0.9v0.9h-0.9zM266.8 160.9h0.9v0.9h-0.9zM253.5 154.5h0.9v0.9h-0.9zM248.9 148.7h0.9v0.9h-0.9zM250.6 152.0h0.9v0.9h-0.9zM243.4 147.5h0.9v0.9h-0.9zM260.1 148.1h0.9v0.9h-0.9zM261.7 141.4h0.9v0.9h-0.9zM260.7 151.4h0.9v0.9h-0.9zM243.6 147.2h0.9v0.9h-0.9zM248.0 150.7h0.9v0.9h-0.9zM241.8 145.4h0.9v0.9h-0.9zM240.1 137.3h0.9v0.9h-0.9zM242.5 149.1h0.9v0.9h-0.9zM240.4 152.6h0.9v0.9h-0.9zM253.4 139.9h0.9v0.9h-0.9zM259.0 141.5h0.9v0.9h-0.9zM260.8 144.9h0.9v0.9h-0.9zM254.8 145.2h0.9v0.9h-0.9zM248.8 137.7h0.9v0.9h-0.9zM254.9 155.6h0.9v0.9h-0.9zM260.3 151.8h0.9v0.9h-0.9zM252.3 143.3h0.9v0.9h-0.9zM255.5 137.1h0.9v0.9h-0.9zM252.2 148.4h0.9v0.9h-0.9zM250.2 156.8h0.9v0.9h-0.9zM255.3 150.8h0.9v0.9h-0.9zM244.7 152.5h0.9v0.9h-0.9zM264.8 141.6h0.9v0.9h-0.9zM240.5 147.7h0.9v0.9h-0.9zM259.3 138.7h0.9v0.9h-0.9zM242.4 156.8h0.9v0.9h-0.9zM263.1 135.6h0.9v0.9h-0.9zM247.5 136.9h0.9v0.9h-0.9zM250.8 149.0h0.9v0.9h-0.9zM244.5 147.2h0.9v0.9h-0.9zM254.5 144.9h0.9v0.9h-0.9zM258.8 149.7h0.9v0.9h-0.9zM242.3 148.4h0.9v0.9h-0.9zM266.5 137.1h0.9v0.9h-0.9zM249.6 145.7h0.9v0.9h-0.9zM257.6 139.7h0.9v0.9h-0.9zM263.1 142.3h0.9v0.9h-0.9zM260.0 148.2h0.9v0.9h-0.9zM258.9 145.6h0.9v0.9h-0.9zM253.2 141.0h0.9v0.9h-0.9zM254.9 146.3h0.9v0.9h-0.9zM256.4 142.2h0.9v0.9h-0.9zM266.1 149.2h0.9v0.9h-0.9zM241.4 145.2h0.9v0.9h-0.9zM250.4 148.5h0.9v0.9h-0.9zM243.5 145.1h0.9v0.9h-0.9zM246.1 150.4h0.9v0.9h-0.9zM247.6 145.8h0.9v0.9h-0.9zM265.2 146.4h0.9v0.9h-0.9zM267.5 147.2h0.9v0.9h-0.9zM244.0 137.2h0.9v0.9h-0.9zM255.7 160.3h0.9v0.9h-0.9zM244.5 142.9h0.9v0.9h-0.9zM259.1 147.0h0.9v0.9h-0.9zM266.8 144.0h0.9v0.9h-0.9zM260.4 143.9h0.9v0.9h-0.9zM263.1 148.5h0.9v0.9h-0.9zM253.6 143.8h0.9v0.9h-0.9zM236.8 144.2h0.9v0.9h-0.9zM236.7 139.3h0.9v0.9h-0.9zM254.1 141.6h0.9v0.9h-0.9zM260.3 140.4h0.9v0.9h-0.9zM266.8 155.8h0.9v0.9h-0.9zM251.8 139.5h0.9v0.9h-0.9zM255.7 140.9h0.9v0.9h-0.9zM257.4 147.4h0.9v0.9h-0.9zM264.8 153.9h0.9v0.9h-0.9zM254.4 137.6h0.9v0.9h-0.9zM244.9 138.4h0.9v0.9h-0.9zM265.0 147.1h0.9v0.9h-0.9zM258.8 148.2h0.9v0.9h-0.9zM258.5 139.1h0.9v0.9h-0.9zM243.2 137.1h0.9v0.9h-0.9zM254.9 141.4h0.9v0.9h-0.9zM239.1 150.3h0.9v0.9h-0.9zM236.4 146.2h0.9v0.9h-0.9zM252.8 150.3h0.9v0.9h-0.9zM251.0 145.9h0.9v0.9h-0.9zM260.2 146.2h0.9v0.9h-0.9zM268.3 149.6h0.9v0.9h-0.9zM254.7 145.8h0.9v0.9h-0.9zM249.6 141.7h0.9v0.9h-0.9zM262.0 143.3h0.9v0.9h-0.9zM243.3 148.8h0.9v0.9h-0.9zM256.2 145.2h0.9v0.9h-0.9zM252.1 142.5h0.9v0.9h-0.9zM253.1 149.8h0.9v0.9h-0.9zM260.4 149.2h0.9v0.9h-0.9zM237.6 146.4h0.9v0.9h-0.9zM256.1 142.5h0.9v0.9h-0.9zM247.5 151.1h0.9v0.9h-0.9zM256.1 159.4h0.9v0.9h-0.9zM258.6 142.1h0.9v0.9h-0.9zM251.6 138.4h0.9v0.9h-0.9zM251.6 142.3h0.9v0.9h-0.9zM244.3 141.5h0.9v0.9h-0.9zM260.1 139.8h0.9v0.9h-0.9zM248.8 140.2h0.9v0.9h-0.9zM259.1 150.8h0.9v0.9h-0.9zM241.8 150.9h0.9v0.9h-0.9zM267.6 154.1h0.9v0.9h-0.9zM245.6 150.3h0.9v0.9h-0.9zM265.7 143.9h0.9v0.9h-0.9zM250.9 152.0h0.9v0.9h-0.9zM260.0 143.2h0.9v0.9h-0.9zM253.7 144.6h0.9v0.9h-0.9zM261.3 140.3h0.9v0.9h-0.9zM255.0 152.8h0.9v0.9h-0.9zM266.7 151.6h0.9v0.9h-0.9zM261.2 144.0h0.9v0.9h-0.9zM261.3 144.8h0.9v0.9h-0.9zM248.6 147.4h0.9v0.9h-0.9zM267.0 150.8h0.9v0.9h-0.9zM255.7 146.7h0.9v0.9h-0.9zM241.3 148.4h0.9v0.9h-0.9zM259.4 138.6h0.9v0.9h-0.9zM253.1 144.8h0.9v0.9h-0.9zM250.5 155.6h0.9v0.9h-0.9zM255.5 153.6h0.9v0.9h-0.9zM257.2 150.1h0.9v0.9h-0.9zM237.4 152.1h0.9v0.9h-0.9zM259.7 156.8h0.9v0.9h-0.9zM245.8 151.2h0.9v0.9h-0.9zM268.0 138.1h0.9v0.9h-0.9zM254.9 134.1h0.9v0.9h-0.9zM240.4 142.1h0.9v0.9h-0.9zM256.7 139.9h0.9v0.9h-0.9zM256.6 146.3h0.9v0.9h-0.9zM261.6 148.4h0.9v0.9h-0.9zM252.3 141.5h0.9v0.9h-0.9zM244.0 144.9h0.9v0.9h-0.9zM253.7 147.8h0.9v0.9h-0.9zM246.5 145.5h0.9v0.9h-0.9zM248.5 133.8h0.9v0.9h-0.9zM249.0 144.0h0.9v0.9h-0.9zM254.6 150.4h0.9v0.9h-0.9zM243.6 147.7h0.9v0.9h-0.9zM250.9 138.6h0.9v0.9h-0.9zM253.8 144.9h0.9v0.9h-0.9zM250.5 147.7h0.9v0.9h-0.9zM252.7 141.3h0.9v0.9h-0.9zM266.5 149.8h0.9v0.9h-0.9zM259.0 142.2h0.9v0.9h-0.9zM242.7 144.6h0.9v0.9h-0.9zM251.0 145.7h0.9v0.9h-0.9zM261.9 157.9h0.9v0.9h-0.9zM249.0 144.6h0.9v0.9h-0.9zM255.8 143.3h0.9v0.9h-0.9zM254.7 150.0h0.9v0.9h-0.9zM259.9 143.9h0.9v0.9h-0.9zM253.3 147.3h0.9v0.9h-0.9zM253.7 134.6h0.9v0.9h-0.9zM247.1 147.9h0.9v0.9h-0.9zM258.3 146.2h0.9v0.9h-0.9zM246.4 139.6h0.9v0.9h-0.9zM254.8 145.1h0.9v0.9h-0.9zM252.9 145.3h0.9v0.9h-0.9zM262.3 139.5h0.9v0.9h-0.9zM254.2 137.9h0.9v0.9h-0.9zM255.8 143.4h0.9v0.9h-0.9zM254.5 138.4h0.9v0.9h-0.9zM248.3 148.9h0.9v0.9h-0.9zM246.5 150.8h0.9v0.9h-0.9zM248.5 143.0h0.9v0.9h-0.9zM265.4 137.9h0.9v0.9h-0.9zM249.2 144.3h0.9v0.9h-0.9zM251.3 140.8h0.9v0.9h-0.9zM250.9 147.2h0.9v0.9h-0.9zM261.4 147.2h0.9v0.9h-0.9zM246.5 146.7h0.9v0.9h-0.9zM260.1 151.7h0.9v0.9h-0.9zM256.1 155.2h0.9v0.9h-0.9zM252.2 143.6h0.9v0.9h-0.9zM259.7 150.1h0.9v0.9h-0.9zM243.3 145.1h0.9v0.9h-0.9zM262.7 140.8h0.9v0.9h-0.9zM257.0 153.0h0.9v0.9h-0.9zM245.8 148.3h0.9v0.9h-0.9zM262.8 148.1h0.9v0.9h-0.9zM265.7 145.4h0.9v0.9h-0.9zM241.6 140.8h0.9v0.9h-0.9zM252.5 155.5h0.9v0.9h-0.9zM250.2 151.0h0.9v0.9h-0.9zM260.8 147.7h0.9v0.9h-0.9zM267.5 151.3h0.9v0.9h-0.9zM237.4 153.0h0.9v0.9h-0.9zM255.2 145.2h0.9v0.9h-0.9zM253.8 149.3h0.9v0.9h-0.9zM264.2 144.6h0.9v0.9h-0.9zM254.6 149.6h0.9v0.9h-0.9zM243.3 145.0h0.9v0.9h-0.9zM253.2 158.9h0.9v0.9h-0.9zM245.5 144.4h0.9v0.9h-0.9zM247.8 149.0h0.9v0.9h-0.9zM255.4 148.7h0.9v0.9h-0.9zM250.6 144.5h0.9v0.9h-0.9zM257.6 151.2h0.9v0.9h-0.9zM241.0 145.8h0.9v0.9h-0.9zM266.6 146.3h0.9v0.9h-0.9zM261.6 142.4h0.9v0.9h-0.9zM243.1 152.5h0.9v0.9h-0.9zM235.1 149.5h0.9v0.9h-0.9zM247.1 151.4h0.9v0.9h-0.9zM252.9 139.3h0.9v0.9h-0.9zM267.0 142.3h0.9v0.9h-0.9zM250.2 146.7h0.9v0.9h-0.9zM266.1 152.9h0.9v0.9h-0.9zM266.3 147.6h0.9v0.9h-0.9zM255.1 145.4h0.9v0.9h-0.9zM266.2 152.1h0.9v0.9h-0.9zM258.0 151.5h0.9v0.9h-0.9zM249.0 155.9h0.9v0.9h-0.9zM244.2 136.6h0.9v0.9h-0.9zM253.9 148.0h0.9v0.9h-0.9zM264.2 144.1h0.9v0.9h-0.9zM242.5 141.7h0.9v0.9h-0.9zM240.2 146.9h0.9v0.9h-0.9zM260.1 140.2h0.9v0.9h-0.9zM230.0 134.7h0.9v0.9h-0.9zM251.0 144.9h0.9v0.9h-0.9zM261.7 156.0h0.9v0.9h-0.9zM241.6 140.2h0.9v0.9h-0.9zM245.3 136.0h0.9v0.9h-0.9zM252.4 145.0h0.9v0.9h-0.9zM253.8 147.1h0.9v0.9h-0.9zM257.1 138.8h0.9v0.9h-0.9zM264.7 142.3h0.9v0.9h-0.9zM267.2 134.5h0.9v0.9h-0.9zM256.0 147.2h0.9v0.9h-0.9zM251.9 138.1h0.9v0.9h-0.9zM254.7 132.0h0.9v0.9h-0.9zM257.8 152.3h0.9v0.9h-0.9zM267.1 148.9h0.9v0.9h-0.9zM256.2 148.1h0.9v0.9h-0.9zM247.1 140.9h0.9v0.9h-0.9zM259.9 151.9h0.9v0.9h-0.9zM266.9 156.2h0.9v0.9h-0.9zM258.1 147.5h0.9v0.9h-0.9zM246.9 136.7h0.9v0.9h-0.9zM248.4 150.8h0.9v0.9h-0.9zM253.6 156.5h0.9v0.9h-0.9zM257.9 145.0h0.9v0.9h-0.9zM252.7 151.8h0.9v0.9h-0.9zM241.6 145.2h0.9v0.9h-0.9zM248.2 143.0h0.9v0.9h-0.9zM259.8 132.9h0.9v0.9h-0.9zM262.7 152.7h0.9v0.9h-0.9zM242.1 144.0h0.9v0.9h-0.9zM251.6 148.3h0.9v0.9h-0.9zM239.6 140.4h0.9v0.9h-0.9zM249.8 141.6h0.9v0.9h-0.9zM255.6 144.3h0.9v0.9h-0.9zM251.8 144.2h0.9v0.9h-0.9zM249.6 139.7h0.9v0.9h-0.9zM243.9 147.4h0.9v0.9h-0.9zM237.9 150.3h0.9v0.9h-0.9zM254.6 143.9h0.9v0.9h-0.9zM252.5 145.3h0.9v0.9h-0.9zM239.9 153.6h0.9v0.9h-0.9zM259.0 143.1h0.9v0.9h-0.9zM267.3 145.5h0.9v0.9h-0.9zM237.0 155.1h0.9v0.9h-0.9zM261.1 145.1h0.9v0.9h-0.9zM240.2 138.2h0.9v0.9h-0.9zM259.8 141.5h0.9v0.9h-0.9zM255.0 155.6h0.9v0.9h-0.9zM257.6 147.5h0.9v0.9h-0.9zM248.6 145.1h0.9v0.9h-0.9zM257.7 150.6h0.9v0.9h-0.9zM265.4 153.1h0.9v0.9h-0.9zM253.3 142.4h0.9v0.9h-0.9zM253.7 153.8h0.9v0.9h-0.9zM258.6 150.8h0.9v0.9h-0.9zM262.6 148.7h0.9v0.9h-0.9zM239.9 134.0h0.9v0.9h-0.9zM255.6 147.4h0.9v0.9h-0.9zM248.7 153.6h0.9v0.9h-0.9zM259.6 144.9h0.9v0.9h-0.9zM264.5 158.4h0.9v0.9h-0.9zM257.9 146.7h0.9v0.9h-0.9zM266.9 141.0h0.9v0.9h-0.9zM245.9 149.4h0.9v0.9h-0.9zM251.2 147.9h0.9v0.9h-0.9zM245.9 150.7h0.9v0.9h-0.9zM255.5 145.2h0.9v0.9h-0.9zM255.9 153.2h0.9v0.9h-0.9zM253.2 143.4h0.9v0.9h-0.9zM243.8 147.0h0.9v0.9h-0.9zM254.3 139.8h0.9v0.9h-0.9zM251.0 142.2h0.9v0.9h-0.9zM260.6 147.4h0.9v0.9h-0.9zM252.5 142.9h0.9v0.9h-0.9zM265.7 144.0h0.9v0.9h-0.9zM257.1 145.3h0.9v0.9h-0.9zM237.9 147.7h0.9v0.9h-0.9zM253.4 150.4h0.9v0.9h-0.9zM241.8 150.4h0.9v0.9h-0.9zM263.9 151.7h0.9v0.9h-0.9zM268.2 147.4h0.9v0.9h-0.9zM254.8 143.5h0.9v0.9h-0.9zM259.1 138.1h0.9v0.9h-0.9zM241.7 144.6h0.9v0.9h-0.9zM234.3 142.2h0.9v0.9h-0.9zM249.9 136.8h0.9v0.9h-0.9zM252.7 155.0h0.9v0.9h-0.9zM241.1 136.7h0.9v0.9h-0.9zM255.8 148.2h0.9v0.9h-0.9zM257.9 149.3h0.9v0.9h-0.9zM260.9 145.1h0.9v0.9h-0.9zM262.5 146.5h0.9v0.9h-0.9zM251.6 142.4h0.9v0.9h-0.9zM256.0 155.6h0.9v0.9h-0.9zM260.5 142.2h0.9v0.9h-0.9zM245.4 138.8h0.9v0.9h-0.9zM267.2 141.1h0.9v0.9h-0.9zM263.3 143.0h0.9v0.9h-0.9zM252.9 146.6h0.9v0.9h-0.9zM249.1 148.2h0.9v0.9h-0.9zM262.8 148.2h0.9v0.9h-0.9zM263.7 158.1h0.9v0.9h-0.9zM264.1 145.7h0.9v0.9h-0.9zM257.0 150.0h0.9v0.9h-0.9zM261.5 152.7h0.9v0.9h-0.9zM246.6 142.9h0.9v0.9h-0.9zM261.6 141.3h0.9v0.9h-0.9zM240.9 141.1h0.9v0.9h-0.9zM258.9 152.2h0.9v0.9h-0.9zM260.2 151.1h0.9v0.9h-0.9zM240.7 135.0h0.9v0.9h-0.9zM244.5 139.9h0.9v0.9h-0.9zM264.7 138.5h0.9v0.9h-0.9zM250.2 148.5h0.9v0.9h-0.9zM257.9 147.5h0.9v0.9h-0.9zM249.0 156.7h0.9v0.9h-0.9zM264.6 147.0h0.9v0.9h-0.9zM262.3 141.7h0.9v0.9h-0.9zM261.5 139.0h0.9v0.9h-0.9zM256.5 146.6h0.9v0.9h-0.9zM252.9 151.3h0.9v0.9h-0.9zM260.7 137.8h0.9v0.9h-0.9zM256.6 151.1h0.9v0.9h-0.9zM253.8 150.9h0.9v0.9h-0.9zM242.5 143.7h0.9v0.9h-0.9zM252.3 147.3h0.9v0.9h-0.9zM260.7 144.9h0.9v0.9h-0.9zM250.8 146.8h0.9v0.9h-0.9zM258.4 150.6h0.9v0.9h-0.9zM253.9 142.1h0.9v0.9h-0.9zM245.7 151.9h0.9v0.9h-0.9zM246.9 151.0h0.9v0.9h-0.9zM248.4 151.2h0.9v0.9h-0.9zM252.5 136.0h0.9v0.9h-0.9zM252.8 136.6h0.9v0.9h-0.9zM265.5 150.0h0.9v0.9h-0.9zM245.2 143.3h0.9v0.9h-0.9zM236.3 142.7h0.9v0.9h-0.9zM261.5 142.3h0.9v0.9h-0.9zM251.0 139.3h0.9v0.9h-0.9zM254.1 144.9h0.9v0.9h-0.9zM260.7 148.9h0.9v0.9h-0.9zM264.0 140.1h0.9v0.9h-0.9zM256.3 152.3h0.9v0.9h-0.9zM264.1 134.6h0.9v0.9h-0.9zM249.6 159.6h0.9v0.9h-0.9zM248.7 139.2h0.9v0.9h-0.9zM250.9 149.5h0.9v0.9h-0.9zM249.7 150.3h0.9v0.9h-0.9zM266.0 145.8h0.9v0.9h-0.9zM253.8 137.1h0.9v0.9h-0.9zM265.2 148.2h0.9v0.9h-0.9zM252.3 152.4h0.9v0.9h-0.9zM264.1 143.5h0.9v0.9h-0.9zM254.2 137.4h0.9v0.9h-0.9zM252.6 143.2h0.9v0.9h-0.9zM255.1 148.1h0.9v0.9h-0.9zM256.7 148.0h0.9v0.9h-0.9zM249.9 152.2h0.9v0.9h-0.9zM242.7 149.3h0.9v0.9h-0.9zM251.7 135.8h0.9v0.9h-0.9zM238.5 158.2h0.9v0.9h-0.9zM234.3 146.6h0.9v0.9h-0.9zM229.4 150.9h0.9v0.9h-0.9zM249.6 144.5h0.9v0.9h-0.9zM267.9 145.6h0.9v0.9h-0.9zM240.2 146.7h0.9v0.9h-0.9zM252.3 154.7h0.9v0.9h-0.9zM238.3 154.4h0.9v0.9h-0.9zM265.5 149.7h0.9v0.9h-0.9zM258.7 156.9h0.9v0.9h-0.9zM258.3 144.3h0.9v0.9h-0.9zM267.8 149.1h0.9v0.9h-0.9zM264.9 153.3h0.9v0.9h-0.9zM250.0 146.6h0.9v0.9h-0.9zM243.1 151.6h0.9v0.9h-0.9zM245.7 155.5h0.9v0.9h-0.9zM239.1 135.4h0.9v0.9h-0.9zM253.6 148.1h0.9v0.9h-0.9zM256.5 144.7h0.9v0.9h-0.9zM257.2 136.2h0.9v0.9h-0.9zM250.1 134.2h0.9v0.9h-0.9zM266.3 146.9h0.9v0.9h-0.9zM258.2 145.5h0.9v0.9h-0.9zM254.0 156.1h0.9v0.9h-0.9zM237.6 144.7h0.9v0.9h-0.9zM263.9 152.1h0.9v0.9h-0.9zM248.5 152.6h0.9v0.9h-0.9zM251.1 157.4h0.9v0.9h-0.9zM257.5 145.1h0.9v0.9h-0.9zM256.3 150.5h0.9v0.9h-0.9zM265.8 138.4h0.9v0.9h-0.9zM249.2 140.5h0.9v0.9h-0.9zM256.9 145.0h0.9v0.9h-0.9zM258.0 146.3h0.9v0.9h-0.9zM255.6 140.0h0.9v0.9h-0.9zM261.7 144.2h0.9v0.9h-0.9zM253.0 150.2h0.9v0.9h-0.9zM266.5 144.0h0.9v0.9h-0.9zM248.8 145.6h0.9v0.9h-0.9zM242.1 141.7h0.9v0.9h-0.9zM255.0 153.8h0.9v0.9h-0.9zM266.3 155.9h0.9v0.9h-0.9zM250.6 147.5h0.9v0.9h-0.9zM249.6 145.8h0.9v0.9h-0.9zM252.2 155.3h0.9v0.9h-0.9zM256.9 149.0h0.9v0.9h-0.9zM253.8 142.9h0.9v0.9h-0.9zM258.3 139.3h0.9v0.9h-0.9zM239.5 143.3h0.9v0.9h-0.9zM260.8 143.3h0.9v0.9h-0.9zM247.4 161.9h0.9v0.9h-0.9zM268.1 146.5h0.9v0.9h-0.9zM259.6 145.3h0.9v0.9h-0.9zM244.5 145.2h0.9v0.9h-0.9zM255.8 140.9h0.9v0.9h-0.9zM236.3 139.8h0.9v0.9h-0.9zM262.4 142.5h0.9v0.9h-0.9zM252.6 147.7h0.9v0.9h-0.9zM246.0 142.9h0.9v0.9h-0.9zM253.4 136.0h0.9v0.9h-0.9zM237.4 149.0h0.9v0.9h-0.9zM260.8 145.6h0.9v0.9h-0.9zM253.4 145.0h0.9v0.9h-0.9zM252.9 143.2h0.9v0.9h-0.9zM268.5 134.5h0.9v0.9h-0.9zM255.7 155.0h0.9v0.9h-0.9zM249.3 143.9h0.9v0.9h-0.9zM246.6 149.3h0.9v0.9h-0.9zM254.8 153.9h0.9v0.9h-0.9zM265.3 152.5h0.9v0.9h-0.9zM250.0 147.6h0.9v0.9h-0.9zM245.8 146.5h0.9v0.9h-0.9zM263.9 148.1h0.9v0.9h-0.9zM255.9 151.3h0.9v0.9h-0.9zM255.1 149.6h0.9v0.9h-0.9zM244.1 148.9h0.9v0.9h-0.9zM257.2 148.5h0.9v0.9h-0.9zM238.9 150.2h0.9v0.9h-0.9zM252.6 147.6h0.9v0.9h-0.9zM260.8 153.8h0.9v0.9h-0.9zM265.8 147.6h0.9v0.9h-0.9zM243.6 151.2h0.9v0.9h-0.9zM263.1 146.7h0.9v0.9h-0.9zM262.6 143.4h0.9v0.9h-0.9zM254.2 141.4h0.9v0.9h-0.9zM255.4 149.4h0.9v0.9h-0.9zM247.2 153.3h0.9v0.9h-0.9zM259.3 146.0h0.9v0.9h-0.9zM238.1 143.7h0.9v0.9h-0.9zM264.5 153.4h0.9v0.9h-0.9zM251.7 147.1h0.9v0.9h-0.9zM261.1 143.8h0.9v0.9h-0.9zM260.3 150.4h0.9v0.9h-0.9zM249.7 147.1h0.9v0.9h-0.9zM243.4 146.3h0.9v0.9h-0.9zM236.5 145.8h0.9v0.9h-0.9zM252.6 140.3h0.9v0.9h-0.9zM240.8 151.7h0.9v0.9h-0.9zM253.8 155.5h0.9v0.9h-0.9zM259.2 139.4h0.9v0.9h-0.9zM251.3 147.1h0.9v0.9h-0.9zM246.6 149.9h0.9v0.9h-0.9zM266.4 158.5h0.9v0.9h-0.9zM253.5 144.3h0.9v0.9h-0.9zM257.5 141.4h0.9v0.9h-0.9zM264.2 146.5h0.9v0.9h-0.9zM243.3 157.2h0.9v0.9h-0.9zM246.8 146.9h0.9v0.9h-0.9zM253.9 156.0h0.9v0.9h-0.9zM245.7 135.1h0.9v0.9h-0.9zM253.0 134.9h0.9v0.9h-0.9zM250.1 151.3h0.9v0.9h-0.9zM244.0 150.6h0.9v0.9h-0.9zM251.6 139.1h0.9v0.9h-0.9zM255.2 149.3h0.9v0.9h-0.9zM255.2 146.7h0.9v0.9h-0.9zM260.4 147.7h0.9v0.9h-0.9zM239.3 142.2h0.9v0.9h-0.9zM241.5 144.1h0.9v0.9h-0.9zM262.7 141.8h0.9v0.9h-0.9zM251.3 146.8h0.9v0.9h-0.9zM266.6 145.3h0.9v0.9h-0.9zM258.2 155.5h0.9v0.9h-0.9zM242.3 149.8h0.9v0.9h-0.9zM260.3 138.1h0.9v0.9h-0.9zM246.0 148.7h0.9v0.9h-0.9zM257.8 154.1h0.9v0.9h-0.9zM266.8 148.0h0.9v0.9h-0.9zM254.7 146.3h0.9v0.9h-0.9zM261.8 150.3h0.9v0.9h-0.9zM258.2 141.5h0.9v0.9h-0.9zM262.7 150.7h0.9v0.9h-0.9zM231.7 139.1h0.9v0.9h-0.9zM251.8 153.4h0.9v0.9h-0.9zM258.1 138.4h0.9v0.9h-0.9zM259.7 135.2h0.9v0.9h-0.9zM248.4 149.3h0.9v0.9h-0.9zM263.0 145.6h0.9v0.9h-0.9zM265.6 147.1h0.9v0.9h-0.9zM256.0 148.8h0.9v0.9h-0.9zM253.3 146.4h0.9v0.9h-0.9zM252.1 141.8h0.9v0.9h-0.9zM256.7 147.6h0.9v0.9h-0.9zM266.3 148.4h0.9v0.9h-0.9zM251.0 157.1h0.9v0.9h-0.9zM246.8 142.6h0.9v0.9h-0.9zM248.0 146.9h0.9v0.9h-0.9zM264.5 149.5h0.9v0.9h-0.9zM257.4 144.1h0.9v0.9h-0.9zM258.1 140.1h0.9v0.9h-0.9zM259.8 143.5h0.9v0.9h-0.9zM258.9 152.2h0.9v0.9h-0.9zM254.2 145.1h0.9v0.9h-0.9zM245.8 149.8h0.9v0.9h-0.9zM249.7 142.6h0.9v0.9h-0.9zM256.5 148.9h0.9v0.9h-0.9zM259.0 142.9h0.9v0.9h-0.9zM252.0 142.0h0.9v0.9h-0.9zM251.5 147.1h0.9v0.9h-0.9zM268.0 146.8h0.9v0.9h-0.9zM251.1 154.4h0.9v0.9h-0.9zM257.4 137.8h0.9v0.9h-0.9zM252.4 149.2h0.9v0.9h-0.9zM247.4 155.1h0.9v0.9h-0.9zM241.4 153.8h0.9v0.9h-0.9zM250.4 144.5h0.9v0.9h-0.9zM247.8 142.9h0.9v0.9h-0.9zM263.2 143.9h0.9v0.9h-0.9zM244.8 148.1h0.9v0.9h-0.9zM251.6 147.5h0.9v0.9h-0.9zM261.4 148.4h0.9v0.9h-0.9zM254.3 149.7h0.9v0.9h-0.9zM259.9 140.8h0.9v0.9h-0.9zM263.1 140.5h0.9v0.9h-0.9zM240.1 140.0h0.9v0.9h-0.9zM251.6 139.3h0.9v0.9h-0.9zM246.5 146.0h0.9v0.9h-0.9zM267.8 148.2h0.9v0.9h-0.9zM254.3 160.0h0.9v0.9h-0.9zM259.9 149.3h0.9v0.9h-0.9zM252.1 154.1h0.9v0.9h-0.9zM256.1 142.6h0.9v0.9h-0.9zM259.1 148.3h0.9v0.9h-0.9zM252.9 151.7h0.9v0.9h-0.9zM266.9 150.7h0.9v0.9h-0.9zM262.9 148.7h0.9v0.9h-0.9zM264.6 144.6h0.9v0.9h-0.9zM255.8 139.9h0.9v0.9h-0.9zM252.2 145.7h0.9v0.9h-0.9zM252.1 143.3h0.9v0.9h-0.9zM252.0 150.2h0.9v0.9h-0.9zM240.3 145.8h0.9v0.9h-0.9zM258.7 149.5h0.9v0.9h-0.9zM262.8 137.9h0.9v0.9h-0.9zM255.3 151.7h0.9v0.9h-0.9zM250.8 142.0h0.9v0.9h-0.9zM255.7 138.2h0.9v0.9h-0.9zM257.4 139.2h0.9v0.9h-0.9zM258.4 143.2h0.9v0.9h-0.9zM247.5 150.3h0.9v0.9h-0.9zM258.7 140.2h0.9v0.9h-0.9zM261.7 147.0h0.9v0.9h-0.9zM256.1 145.9h0.9v0.9h-0.9zM253.2 138.1h0.9v0.9h-0.9zM246.0 141.2h0.9v0.9h-0.9zM249.9 135.6h0.9v0.9h-0.9zM261.8 141.9h0.9v0.9h-0.9zM249.4 142.3h0.9v0.9h-0.9zM259.7 141.5h0.9v0.9h-0.9zM260.1 142.3h0.9v0.9h-0.9zM264.6 142.1h0.9v0.9h-0.9zM257.6 152.7h0.9v0.9h-0.9zM259.4 144.6h0.9v0.9h-0.9zM263.5 147.8h0.9v0.9h-0.9zM244.7 150.5h0.9v0.9h-0.9zM255.8 151.3h0.9v0.9h-0.9zM239.2 150.1h0.9v0.9h-0.9zM237.4 143.5h0.9v0.9h-0.9zM247.8 140.7h0.9v0.9h-0.9zM241.3 142.4h0.9v0.9h-0.9zM260.0 144.0h0.9v0.9h-0.9zM264.4 146.5h0.9v0.9h-0.9zM252.6 146.0h0.9v0.9h-0.9zM254.1 152.3h0.9v0.9h-0.9zM253.2 146.0h0.9v0.9h-0.9zM253.0 156.0h0.9v0.9h-0.9zM256.6 152.0h0.9v0.9h-0.9zM258.5 143.9h0.9v0.9h-0.9zM251.1 151.1h0.9v0.9h-0.9zM248.2 131.2h0.9v0.9h-0.9zM250.6 153.8h0.9v0.9h-0.9zM262.6 148.7h0.9v0.9h-0.9zM251.5 148.6h0.9v0.9h-0.9zM253.1 159.9h0.9v0.9h-0.9zM267.8 145.1h0.9v0.9h-0.9zM244.5 145.7h0.9v0.9h-0.9zM249.0 152.5h0.9v0.9h-0.9zM259.7 145.5h0.9v0.9h-0.9zM259.8 142.0h0.9v0.9h-0.9zM253.9 150.0h0.9v0.9h-0.9zM256.0 150.5h0.9v0.9h-0.9zM257.9 147.2h0.9v0.9h-0.9zM250.1 152.5h0.9v0.9h-0.9zM263.1 153.1h0.9v0.9h-0.9zM259.1 148.1h0.9v0.9h-0.9zM240.5 157.0h0.9v0.9h-0.9zM258.6 143.0h0.9v0.9h-0.9zM251.1 156.4h0.9v0.9h-0.9zM258.9 150.2h0.9v0.9h-0.9zM263.6 150.7h0.9v0.9h-0.9zM248.5 142.6h0.9v0.9h-0.9zM257.3 149.5h0.9v0.9h-0.9zM263.3 150.1h0.9v0.9h-0.9zM256.8 142.1h0.9v0.9h-0.9zM252.3 140.3h0.9v0.9h-0.9zM245.7 142.4h0.9v0.9h-0.9zM249.2 154.3h0.9v0.9h-0.9zM243.8 147.3h0.9v0.9h-0.9zM264.2 151.5h0.9v0.9h-0.9zM256.2 148.0h0.9v0.9h-0.9zM244.3 147.1h0.9v0.9h-0.9zM255.3 147.7h0.9v0.9h-0.9zM243.6 144.3h0.9v0.9h-0.9zM225.6 153.0h0.9v0.9h-0.9zM266.2 147.4h0.9v0.9h-0.9zM265.9 147.7h0.9v0.9h-0.9zM242.0 139.1h0.9v0.9h-0.9zM248.8 148.1h0.9v0.9h-0.9zM257.2 142.9h0.9v0.9h-0.9zM251.8 143.8h0.9v0.9h-0.9zM247.6 152.0h0.9v0.9h-0.9zM250.6 140.7h0.9v0.9h-0.9zM253.1 145.4h0.9v0.9h-0.9zM250.3 149.8h0.9v0.9h-0.9zM257.2 152.6h0.9v0.9h-0.9zM253.2 143.7h0.9v0.9h-0.9zM248.4 148.2h0.9v0.9h-0.9zM255.5 148.0h0.9v0.9h-0.9zM240.3 140.5h0.9v0.9h-0.9zM268.3 135.1h0.9v0.9h-0.9zM239.6 136.3h0.9v0.9h-0.9zM254.5 149.7h0.9v0.9h-0.9zM258.3 147.0h0.9v0.9h-0.9zM259.0 139.4h0.9v0.9h-0.9zM257.6 143.1h0.9v0.9h-0.9zM266.7 144.4h0.9v0.9h-0.9zM245.1 144.6h0.9v0.9h-0.9zM254.6 146.3h0.9v0.9h-0.9zM256.6 158.2h0.9v0.9h-0.9zM250.8 142.3h0.9v0.9h-0.9zM249.9 147.3h0.9v0.9h-0.9zM266.9 142.4h0.9v0.9h-0.9zM248.8 143.2h0.9v0.9h-0.9zM250.9 141.8h0.9v0.9h-0.9zM252.8 145.3h0.9v0.9h-0.9zM253.3 143.6h0.9v0.9h-0.9zM256.7 148.4h0.9v0.9h-0.9zM253.4 147.6h0.9v0.9h-0.9zM258.6 141.8h0.9v0.9h-0.9zM256.5 156.7h0.9v0.9h-0.9zM259.6 140.3h0.9v0.9h-0.9zM267.6 148.4h0.9v0.9h-0.9zM247.6 158.0h0.9v0.9h-0.9zM251.2 153.5h0.9v0.9h-0.9zM261.2 154.0h0.9v0.9h-0.9zM256.7 148.3h0.9v0.9h-0.9zM252.6 136.7h0.9v0.9h-0.9zM237.6 154.0h0.9v0.9h-0.9zM248.4 143.6h0.9v0.9h-0.9zM248.1 153.3h0.9v0.9h-0.9zM264.8 142.6h0.9v0.9h-0.9zM255.9 152.2h0.9v0.9h-0.9zM261.6 140.8h0.9v0.9h-0.9zM257.5 144.4h0.9v0.9h-0.9zM262.1 141.6h0.9v0.9h-0.9zM243.4 142.7h0.9v0.9h-0.9zM256.8 147.5h0.9v0.9h-0.9zM256.5 145.6h0.9v0.9h-0.9zM251.0 147.5h0.9v0.9h-0.9zM257.5 153.3h0.9v0.9h-0.9zM242.1 145.9h0.9v0.9h-0.9zM263.3 136.6h0.9v0.9h-0.9zM266.8 145.0h0.9v0.9h-0.9zM243.6 146.9h0.9v0.9h-0.9zM256.5 151.9h0.9v0.9h-0.9zM259.0 151.5h0.9v0.9h-0.9zM246.0 145.3h0.9v0.9h-0.9zM246.3 149.9h0.9v0.9h-0.9zM262.8 138.8h0.9v0.9h-0.9zM245.5 148.8h0.9v0.9h-0.9zM255.5 149.2h0.9v0.9h-0.9zM248.2 144.5h0.9v0.9h-0.9zM252.6 146.8h0.9v0.9h-0.9zM258.0 142.9h0.9v0.9h-0.9zM254.8 149.5h0.9v0.9h-0.9zM249.1 139.4h0.9v0.9h-0.9zM253.8 149.4h0.9v0.9h-0.9zM253.6 157.3h0.9v0.9h-0.9zM265.1 146.3h0.9v0.9h-0.9zM255.3 146.0h0.9v0.9h-0.9zM253.4 147.5h0.9v0.9h-0.9zM263.7 146.7h0.9v0.9h-0.9zM245.9 145.9h0.9v0.9h-0.9zM261.9 140.6h0.9v0.9h-0.9zM264.4 140.6h0.9v0.9h-0.9zM261.1 143.5h0.9v0.9h-0.9zM253.6 145.0h0.9v0.9h-0.9zM255.1 140.2h0.9v0.9h-0.9zM239.8 140.3h0.9v0.9h-0.9zM254.0 145.0h0.9v0.9h-0.9zM257.8 150.4h0.9v0.9h-0.9zM262.9 145.5h0.9v0.9h-0.9zM256.4 150.1h0.9v0.9h-0.9zM251.7 151.7h0.9v0.9h-0.9zM247.7 150.6h0.9v0.9h-0.9zM254.8 144.3h0.9v0.9h-0.9zM256.4 144.3h0.9v0.9h-0.9zM266.0 136.6h0.9v0.9h-0.9zM255.3 142.9h0.9v0.9h-0.9zM250.7 149.0h0.9v0.9h-0.9zM254.2 140.7h0.9v0.9h-0.9zM250.9 153.7h0.9v0.9h-0.9zM253.1 154.1h0.9v0.9h-0.9zM235.5 144.5h0.9v0.9h-0.9zM241.0 151.4h0.9v0.9h-0.9zM244.5 139.0h0.9v0.9h-0.9zM259.3 140.9h0.9v0.9h-0.9zM254.5 144.5h0.9v0.9h-0.9zM256.5 146.5h0.9v0.9h-0.9zM265.5 145.5h0.9v0.9h-0.9zM245.9 141.9h0.9v0.9h-0.9zM265.3 156.9h0.9v0.9h-0.9zM258.6 148.0h0.9v0.9h-0.9zM248.8 148.0h0.9v0.9h-0.9zM268.4 150.1h0.9v0.9h-0.9zM242.5 147.4h0.9v0.9h-0.9zM245.1 145.3h0.9v0.9h-0.9zM253.3 143.5h0.9v0.9h-0.9zM258.8 137.8h0.9v0.9h-0.9zM253.5 154.4h0.9v0.9h-0.9zM236.2 141.6h0.9v0.9h-0.9zM252.5 137.7h0.9v0.9h-0.9zM254.4 142.2h0.9v0.9h-0.9zM267.4 157.1h0.9v0.9h-0.9zM256.3 148.4h0.9v0.9h-0.9zM245.5 154.0h0.9v0.9h-0.9zM258.2 154.2h0.9v0.9h-0.9zM244.8 149.5h0.9v0.9h-0.9zM257.0 149.5h0.9v0.9h-0.9zM258.4 142.7h0.9v0.9h-0.9zM251.6 146.1h0.9v0.9h-0.9zM257.4 143.3h0.9v0.9h-0.9zM252.2 146.7h0.9v0.9h-0.9zM250.1 142.8h0.9v0.9h-0.9zM260.3 150.6h0.9v0.9h-0.9zM252.4 145.9h0.9v0.9h-0.9zM248.3 137.6h0.9v0.9h-0.9zM256.7 150.1h0.9v0.9h-0.9zM260.2 151.2h0.9v0.9h-0.9zM262.7 146.1h0.9v0.9h-0.9zM268.2 139.8h0.9v0.9h-0.9zM259.2 148.8h0.9v0.9h-0.9zM245.2 152.1h0.9v0.9h-0.9zM265.5 149.5h0.9v0.9h-0.9zM262.5 136.9h0.9v0.9h-0.9zM267.0 146.9h0.9v0.9h-0.9zM241.9 155.8h0.9v0.9h-0.9zM251.8 147.0h0.9v0.9h-0.9zM250.6 149.0h0.9v0.9h-0.9zM265.7 144.8h0.9v0.9h-0.9zM244.7 146.5h0.9v0.9h-0.9zM252.3 159.0h0.9v0.9h-0.9zM260.9 144.8h0.9v0.9h-0.9zM251.7 144.5h0.9v0.9h-0.9zM243.3 158.1h0.9v0.9h-0.9zM259.2 147.6h0.9v0.9h-0.9zM253.1 152.4h0.9v0.9h-0.9zM259.7 144.6h0.9v0.9h-0.9zM252.7 139.8h0.9v0.9h-0.9zM247.7 153.5h0.9v0.9h-0.9zM257.0 146.1h0.9v0.9h-0.9zM243.4 142.3h0.9v0.9h-0.9zM259.8 142.8h0.9v0.9h-0.9zM252.3 142.9h0.9v0.9h-0.9zM263.3 143.3h0.9v0.9h-0.9zM251.1 138.3h0.9v0.9h-0.9zM249.2 152.9h0.9v0.9h-0.9zM258.7 148.5h0.9v0.9h-0.9zM266.1 151.7h0.9v0.9h-0.9zM236.7 144.7h0.9v0.9h-0.9zM256.2 148.3h0.9v0.9h-0.9zM260.7 147.4h0.9v0.9h-0.9zM242.5 152.7h0.9v0.9h-0.9zM247.3 150.8h0.9v0.9h-0.9zM260.8 148.4h0.9v0.9h-0.9zM247.8 143.1h0.9v0.9h-0.9zM249.4 140.1h0.9v0.9h-0.9zM246.7 143.1h0.9v0.9h-0.9zM247.4 143.6h0.9v0.9h-0.9zM234.6 140.0h0.9v0.9h-0.9zM245.4 155.3h0.9v0.9h-0.9zM244.2 147.9h0.9v0.9h-0.9zM265.9 140.7h0.9v0.9h-0.9zM243.9 139.4h0.9v0.9h-0.9zM261.9 152.1h0.9v0.9h-0.9zM253.5 141.3h0.9v0.9h-0.9zM262.3 149.8h0.9v0.9h-0.9zM258.5 145.0h0.9v0.9h-0.9zM248.3 152.6h0.9v0.9h-0.9zM239.5 153.7h0.9v0.9h-0.9zM247.0 148.1h0.9v0.9h-0.9zM255.0 150.3h0.9v0.9h-0.9zM251.9 146.5h0.9v0.9h-0.9zM248.5 144.5h0.9v0.9h-0.9zM263.7 140.4h0.9v0.9h-0.9zM245.6 148.2h0.9v0.9h-0.9zM263.0 146.1h0.9v0.9h-0.9zM250.8 144.5h0.9v0.9h-0.9zM256.0 146.1h0.9v0.9h-0.9zM245.1 145.5h0.9v0.9h-0.9zM255.0 141.0h0.9v0.9h-0.9zM248.1 143.7h0.9v0.9h-0.9zM239.6 152.5h0.9v0.9h-0.9zM254.9 145.3h0.9v0.9h-0.9zM254.6 153.9h0.9v0.9h-0.9zM262.4 140.4h0.9v0.9h-0.9zM257.6 139.4h0.9v0.9h-0.9zM246.1 147.2h0.9v0.9h-0.9zM249.6 150.6h0.9v0.9h-0.9zM233.0 143.0h0.9v0.9h-0.9zM245.1 149.8h0.9v0.9h-0.9zM266.6 151.4h0.9v0.9h-0.9zM261.8 145.9h0.9v0.9h-0.9zM257.7 146.2h0.9v0.9h-0.9zM260.3 137.8h0.9v0.9h-0.9zM259.4 146.6h0.9v0.9h-0.9zM239.7 148.0h0.9v0.9h-0.9zM247.3 153.9h0.9v0.9h-0.9zM265.6 139.8h0.9v0.9h-0.9zM265.5 142.0h0.9v0.9h-0.9zM257.2 141.2h0.9v0.9h-0.9zM252.3 151.2h0.9v0.9h-0.9zM251.6 133.2h0.9v0.9h-0.9zM250.2 140.8h0.9v0.9h-0.9zM246.8 157.4h0.9v0.9h-0.9zM237.9 150.0h0.9v0.9h-0.9zM256.4 139.5h0.9v0.9h-0.9zM251.0 146.2h0.9v0.9h-0.9zM253.1 151.0h0.9v0.9h-0.9zM260.3 145.3h0.9v0.9h-0.9zM248.8 142.3h0.9v0.9h-0.9zM260.2 150.9h0.9v0.9h-0.9zM241.7 146.5h0.9v0.9h-0.9zM264.4 150.8h0.9v0.9h-0.9zM257.4 148.6h0.9v0.9h-0.9zM253.3 144.0h0.9v0.9h-0.9zM260.1 154.1h0.9v0.9h-0.9zM268.0 143.9h0.9v0.9h-0.9zM250.9 148.8h0.9v0.9h-0.9zM246.3 143.2h0.9v0.9h-0.9zM255.2 145.2h0.9v0.9h-0.9zM268.3 143.0h0.9v0.9h-0.9zM249.0 147.7h0.9v0.9h-0.9zM258.4 153.4h0.9v0.9h-0.9zM249.3 156.3h0.9v0.9h-0.9zM260.7 154.0h0.9v0.9h-0.9zM252.6 145.6h0.9v0.9h-0.9zM249.1 154.2h0.9v0.9h-0.9zM258.1 155.9h0.9v0.9h-0.9zM237.0 139.9h0.9v0.9h-0.9zM252.9 154.3h0.9v0.9h-0.9zM246.9 143.4h0.9v0.9h-0.9zM244.2 152.6h0.9v0.9h-0.9zM249.8 144.1h0.9v0.9h-0.9zM250.8 151.3h0.9v0.9h-0.9zM255.3 145.0h0.9v0.9h-0.9zM248.0 136.6h0.9v0.9h-0.9zM238.4 141.4h0.9v0.9h-0.9zM250.3 145.2h0.9v0.9h-0.9zM262.9 146.6h0.9v0.9h-0.9zM242.9 134.8h0.9v0.9h-0.9zM260.5 140.2h0.9v0.9h-0.9zM259.1 142.7h0.9v0.9h-0.9zM251.0 145.4h0.9v0.9h-0.9zM257.8 147.7h0.9v0.9h-0.9zM248.3 142.2h0.9v0.9h-0.9zM251.5 138.5h0.9v0.9h-0.9zM245.9 148.1h0.9v0.9h-0.9zM259.2 144.8h0.9v0.9h-0.9zM267.3 151.2h0.9v0.9h-0.9zM249.0 143.7h0.9v0.9h-0.9zM265.7 149.9h0.9v0.9h-0.9zM236.0 141.8h0.9v0.9h-0.9zM247.1 147.9h0.9v0.9h-0.9zM246.0 147.0h0.9v0.9h-0.9zM249.7 141.6h0.9v0.9h-0.9zM262.0 145.9h0.9v0.9h-0.9zM236.7 142.1h0.9v0.9h-0.9zM256.0 145.7h0.9v0.9h-0.9zM260.1 149.8h0.9v0.9h-0.9zM254.7 162.1h0.9v0.9h-0.9zM230.6 146.7h0.9v0.9h-0.9zM256.6 150.2h0.9v0.9h-0.9zM262.3 147.1h0.9v0.9h-0.9zM266.8 152.4h0.9v0.9h-0.9zM258.6 148.9h0.9v0.9h-0.9zM239.9 152.0h0.9v0.9h-0.9zM253.1 148.4h0.9v0.9h-0.9zM263.1 159.1h0.9v0.9h-0.9zM247.7 153.7h0.9v0.9h-0.9zM260.1 137.6h0.9v0.9h-0.9zM250.7 148.1h0.9v0.9h-0.9zM255.8 146.9h0.9v0.9h-0.9zM261.8 135.0h0.9v0.9h-0.9zM248.7 142.0h0.9v0.9h-0.9zM256.4 142.7h0.9v0.9h-0.9zM258.1 147.2h0.9v0.9h-0.9zM248.4 137.1h0.9v0.9h-0.9zM255.6 150.4h0.9v0.9h-0.9zM252.6 150.6h0.9v0.9h-0.9zM241.9 148.4h0.9v0.9h-0.9zM241.3 144.8h0.9v0.9h-0.9zM257.6 146.5h0.9v0.9h-0.9zM254.2 144.1h0.9v0.9h-0.9zM231.4 152.5h0.9v0.9h-0.9zM235.7 149.2h0.9v0.9h-0.9zM252.2 156.9h0.9v0.9h-0.9zM254.4 144.6h0.9v0.9h-0.9zM260.5 154.1h0.9v0.9h-0.9zM243.9 143.5h0.9v0.9h-0.9zM260.3 145.6h0.9v0.9h-0.9zM252.2 141.1h0.9v0.9h-0.9zM250.4 149.3h0.9v0.9h-0.9zM253.7 146.2h0.9v0.9h-0.9zM263.9 149.8h0.9v0.9h-0.9zM260.0 154.3h0.9v0.9h-0.9zM263.0 146.2h0.9v0.9h-0.9zM248.8 148.5h0.9v0.9h-0.9zM252.4 151.2h0.9v0.9h-0.9zM244.5 146.2h0.9v0.9h-0.9zM250.0 143.7h0.9v0.9h-0.9zM251.4 148.4h0.9v0.9h-0.9zM250.8 149.2h0.9v0.9h-0.9zM261.4 150.6h0.9v0.9h-0.9zM258.8 150.9h0.9v0.9h-0.9zM261.8 143.0h0.9v0.9h-0.9zM256.2 148.9h0.9v0.9h-0.9zM264.7 153.0h0.9v0.9h-0.9zM256.0 144.1h0.9v0.9h-0.9zM263.7 148.4h0.9v0.9h-0.9zM259.5 143.3h0.9v0.9h-0.9zM261.6 147.4h0.9v0.9h-0.9zM254.4 155.6h0.9v0.9h-0.9zM243.9 147.4h0.9v0.9h-0.9zM242.0 141.5h0.9v0.9h-0.9zM258.5 147.7h0.9v0.9h-0.9zM259.0 152.4h0.9v0.9h-0.9zM253.5 139.4h0.9v0.9h-0.9zM250.9 141.8h0.9v0.9h-0.9zM244.9 138.4h0.9v0.9h-0.9zM254.4 152.5h0.9v0.9h-0.9zM254.5 136.0h0.9v0.9h-0.9zM244.8 142.2h0.9v0.9h-0.9zM243.6 138.8h0.9v0.9h-0.9zM248.7 143.1h0.9v0.9h-0.9zM251.9 150.7h0.9v0.9h-0.9zM250.6 149.7h0.9v0.9h-0.9zM262.3 151.4h0.9v0.9h-0.9zM244.4 149.7h0.9v0.9h-0.9zM258.6 135.9h0.9v0.9h-0.9zM268.2 148.1h0.9v0.9h-0.9zM263.0 136.9h0.9v0.9h-0.9zM244.7 143.9h0.9v0.9h-0.9zM228.4 144.5h0.9v0.9h-0.9zM262.6 143.7h0.9v0.9h-0.9zM259.5 149.1h0.9v0.9h-0.9zM249.7 142.3h0.9v0.9h-0.9zM266.5 155.6h0.9v0.9h-0.9zM251.4 149.7h0.9v0.9h-0.9zM256.0 152.7h0.9v0.9h-0.9zM245.7 150.5h0.9v0.9h-0.9zM257.9 151.2h0.9v0.9h-0.9zM251.1 146.3h0.9v0.9h-0.9zM250.5 156.8h0.9v0.9h-0.9zM264.7 141.1h0.9v0.9h-0.9zM256.9 148.9h0.9v0.9h-0.9zM241.5 146.6h0.9v0.9h-0.9zM261.2 145.4h0.9v0.9h-0.9zM262.5 148.2h0.9v0.9h-0.9zM247.5 142.6h0.9v0.9h-0.9zM251.5 151.1h0.9v0.9h-0.9zM255.5 150.6h0.9v0.9h-0.9zM264.9 145.4h0.9v0.9h-0.9zM267.2 139.3h0.9v0.9h-0.9zM260.8 146.0h0.9v0.9h-0.9zM258.0 151.4h0.9v0.9h-0.9zM262.4 147.5h0.9v0.9h-0.9zM263.7 145.2h0.9v0.9h-0.9zM263.7 141.7h0.9v0.9h-0.9zM268.3 141.9h0.9v0.9h-0.9zM267.6 132.3h0.9v0.9h-0.9zM265.0 151.6h0.9v0.9h-0.9zM266.9 142.4h0.9v0.9h-0.9zM263.8 138.9h0.9v0.9h-0.9zM261.4 151.1h0.9v0.9h-0.9zM260.9 146.1h0.9v0.9h-0.9zM261.7 146.0h0.9v0.9h-0.9zM265.6 149.7h0.9v0.9h-0.9zM264.0 144.7h0.9v0.9h-0.9zM264.6 139.4h0.9v0.9h-0.9zM262.5 156.7h0.9v0.9h-0.9zM264.4 145.4h0.9v0.9h-0.9zM264.4 139.8h0.9v0.9h-0.9zM266.9 146.3h0.9v0.9h-0.9zM267.8 153.0h0.9v0.9h-0.9zM258.6 135.5h0.9v0.9h-0.9zM265.4 153.8h0.9v0.9h-0.9zM260.9 158.4h0.9v0.9h-0.9zM263.6 149.5h0.9v0.9h-0.9zM265.1 144.3h0.9v0.9h-0.9zM266.7 153.6h0.9v0.9h-0.9zM263.7 142.7h0.9v0.9h-0.9zM266.3 146.6h0.9v0.9h-0.9zM268.3 141.6h0.9v0.9h-0.9zM265.9 151.2h0.9v0.9h-0.9zM266.1 143.8h0.9v0.9h-0.9zM260.8 130.8h0.9v0.9h-0.9zM261.7 149.0h0.9v0.9h-0.9zM264.1 130.1h0.9v0.9h-0.9zM263.8 138.0h0.9v0.9h-0.9zM266.8 146.8h0.9v0.9h-0.9zM265.8 142.7h0.9v0.9h-0.9zM267.5 138.6h0.9v0.9h-0.9zM261.8 133.3h0.9v0.9h-0.9zM263.0 147.2h0.9v0.9h-0.9zM267.0 150.4h0.9v0.9h-0.9zM264.9 150.1h0.9v0.9h-0.9zM266.8 144.8h0.9v0.9h-0.9zM265.4 153.2h0.9v0.9h-0.9zM262.3 148.1h0.9v0.9h-0.9zM258.9 145.3h0.9v0.9h-0.9zM262.3 140.0h0.9v0.9h-0.9zM264.6 127.5h0.9v0.9h-0.9zM267.0 149.3h0.9v0.9h-0.9zM264.3 144.3h0.9v0.9h-0.9zM259.6 158.3h0.9v0.9h-0.9zM267.5 131.8h0.9v0.9h-0.9zM263.8 150.6h0.9v0.9h-0.9zM265.6 145.0h0.9v0.9h-0.9zM268.2 139.1h0.9v0.9h-0.9zM267.6 147.4h0.9v0.9h-0.9zM267.7 144.8h0.9v0.9h-0.9zM262.7 150.9h0.9v0.9h-0.9zM268.3 146.0h0.9v0.9h-0.9zM265.3 148.2h0.9v0.9h-0.9zM260.1 153.5h0.9v0.9h-0.9zM263.1 148.5h0.9v0.9h-0.9zM263.4 144.1h0.9v0.9h-0.9zM266.3 153.3h0.9v0.9h-0.9zM267.0 144.3h0.9v0.9h-0.9zM260.6 147.8h0.9v0.9h-0.9zM267.2 142.9h0.9v0.9h-0.9zM264.3 140.6h0.9v0.9h-0.9zM260.8 125.0h0.9v0.9h-0.9zM267.6 149.7h0.9v0.9h-0.9zM261.8 137.4h0.9v0.9h-0.9zM260.3 149.9h0.9v0.9h-0.9zM267.3 157.1h0.9v0.9h-0.9zM267.8 136.3h0.9v0.9h-0.9zM262.2 150.9h0.9v0.9h-0.9zM268.4 144.4h0.9v0.9h-0.9zM268.2 148.1h0.9v0.9h-0.9zM262.7 137.1h0.9v0.9h-0.9zM264.4 146.1h0.9v0.9h-0.9zM265.4 154.6h0.9v0.9h-0.9zM256.0 159.3h0.9v0.9h-0.9zM266.9 147.2h0.9v0.9h-0.9zM262.4 142.6h0.9v0.9h-0.9zM266.2 159.8h0.9v0.9h-0.9zM258.4 144.4h0.9v0.9h-0.9zM254.0 149.8h0.9v0.9h-0.9zM266.7 141.2h0.9v0.9h-0.9zM265.8 144.3h0.9v0.9h-0.9zM253.7 157.6h0.9v0.9h-0.9zM262.0 155.7h0.9v0.9h-0.9zM264.3 148.0h0.9v0.9h-0.9zM261.6 143.6h0.9v0.9h-0.9zM265.4 151.9h0.9v0.9h-0.9zM264.4 141.7h0.9v0.9h-0.9zM265.9 145.9h0.9v0.9h-0.9zM263.2 142.1h0.9v0.9h-0.9zM267.8 140.9h0.9v0.9h-0.9zM268.1 145.4h0.9v0.9h-0.9zM259.7 145.1h0.9v0.9h-0.9zM261.9 144.7h0.9v0.9h-0.9zM263.6 145.6h0.9v0.9h-0.9zM265.0 140.7h0.9v0.9h-0.9zM266.7 144.2h0.9v0.9h-0.9zM267.5 149.8h0.9v0.9h-0.9zM266.8 152.5h0.9v0.9h-0.9zM262.7 146.3h0.9v0.9h-0.9zM261.2 143.3h0.9v0.9h-0.9zM267.1 144.9h0.9v0.9h-0.9zM267.4 157.8h0.9v0.9h-0.9zM265.9 151.2h0.9v0.9h-0.9zM264.0 138.8h0.9v0.9h-0.9zM267.7 144.8h0.9v0.9h-0.9zM264.6 141.6h0.9v0.9h-0.9zM259.7 142.7h0.9v0.9h-0.9zM265.7 133.9h0.9v0.9h-0.9zM266.5 145.3h0.9v0.9h-0.9zM267.5 136.1h0.9v0.9h-0.9zM261.5 141.2h0.9v0.9h-0.9zM262.0 155.2h0.9v0.9h-0.9zM265.9 151.8h0.9v0.9h-0.9zM263.1 139.3h0.9v0.9h-0.9zM264.4 138.2h0.9v0.9h-0.9zM268.1 139.1h0.9v0.9h-0.9zM266.1 132.6h0.9v0.9h-0.9zM265.7 143.3h0.9v0.9h-0.9zM264.8 141.6h0.9v0.9h-0.9zM264.4 156.8h0.9v0.9h-0.9zM262.9 145.6h0.9v0.9h-0.9zM263.1 157.4h0.9v0.9h-0.9zM265.6 153.9h0.9v0.9h-0.9zM266.1 140.4h0.9v0.9h-0.9zM259.7 147.3h0.9v0.9h-0.9zM265.7 142.2h0.9v0.9h-0.9zM263.7 135.6h0.9v0.9h-0.9zM264.7 157.8h0.9v0.9h-0.9zM265.4 155.1h0.9v0.9h-0.9zM264.1 136.7h0.9v0.9h-0.9zM266.5 134.2h0.9v0.9h-0.9zM264.1 152.3h0.9v0.9h-0.9zM265.1 144.8h0.9v0.9h-0.9zM267.6 153.5h0.9v0.9h-0.9zM264.3 143.4h0.9v0.9h-0.9zM265.3 151.2h0.9v0.9h-0.9zM264.7 151.0h0.9v0.9h-0.9zM267.9 150.7h0.9v0.9h-0.9zM263.3 149.3h0.9v0.9h-0.9zM259.8 150.4h0.9v0.9h-0.9zM267.1 138.4h0.9v0.9h-0.9zM262.3 157.7h0.9v0.9h-0.9zM262.3 144.1h0.9v0.9h-0.9zM258.7 156.9h0.9v0.9h-0.9zM265.2 143.3h0.9v0.9h-0.9zM265.0 143.4h0.9v0.9h-0.9zM266.3 152.9h0.9v0.9h-0.9zM265.7 142.3h0.9v0.9h-0.9zM265.2 147.9h0.9v0.9h-0.9zM266.7 134.6h0.9v0.9h-0.9zM263.9 141.9h0.9v0.9h-0.9zM255.6 146.6h0.9v0.9h-0.9zM267.5 144.4h0.9v0.9h-0.9zM266.4 132.6h0.9v0.9h-0.9zM265.0 148.5h0.9v0.9h-0.9zM259.9 158.2h0.9v0.9h-0.9zM254.5 143.9h0.9v0.9h-0.9zM266.4 149.6h0.9v0.9h-0.9zM259.0 148.2h0.9v0.9h-0.9zM263.4 141.9h0.9v0.9h-0.9zM267.1 144.3h0.9v0.9h-0.9zM260.5 148.2h0.9v0.9h-0.9zM266.9 132.0h0.9v0.9h-0.9zM264.8 143.4h0.9v0.9h-0.9zM266.0 126.7h0.9v0.9h-0.9zM261.5 148.2h0.9v0.9h-0.9zM265.3 150.2h0.9v0.9h-0.9zM263.7 147.0h0.9v0.9h-0.9zM261.3 147.3h0.9v0.9h-0.9zM260.1 142.6h0.9v0.9h-0.9zM265.2 153.3h0.9v0.9h-0.9zM261.2 142.3h0.9v0.9h-0.9zM263.4 148.5h0.9v0.9h-0.9zM262.7 146.7h0.9v0.9h-0.9zM265.6 146.6h0.9v0.9h-0.9zM268.1 141.8h0.9v0.9h-0.9zM263.6 161.6h0.9v0.9h-0.9zM260.7 142.2h0.9v0.9h-0.9zM261.4 156.7h0.9v0.9h-0.9zM264.9 152.4h0.9v0.9h-0.9zM262.1 131.4h0.9v0.9h-0.9zM260.2 146.8h0.9v0.9h-0.9zM264.0 152.1h0.9v0.9h-0.9zM268.2 150.6h0.9v0.9h-0.9zM267.3 139.0h0.9v0.9h-0.9zM264.1 146.9h0.9v0.9h-0.9zM262.1 138.1h0.9v0.9h-0.9zM264.6 143.5h0.9v0.9h-0.9zM260.0 146.4h0.9v0.9h-0.9zM267.6 156.0h0.9v0.9h-0.9zM264.4 147.5h0.9v0.9h-0.9zM258.9 152.3h0.9v0.9h-0.9zM261.9 137.0h0.9v0.9h-0.9zM267.4 141.8h0.9v0.9h-0.9zM265.3 157.0h0.9v0.9h-0.9zM268.0 136.0h0.9v0.9h-0.9zM259.2 134.4h0.9v0.9h-0.9zM261.9 144.6h0.9v0.9h-0.9zM260.1 153.2h0.9v0.9h-0.9zM261.9 134.1h0.9v0.9h-0.9zM263.5 143.4h0.9v0.9h-0.9zM266.7 135.9h0.9v0.9h-0.9zM268.5 154.9h0.9v0.9h-0.9zM268.4 149.8h0.9v0.9h-0.9zM263.1 144.8h0.9v0.9h-0.9zM264.8 143.5h0.9v0.9h-0.9zM266.7 146.0h0.9v0.9h-0.9zM261.9 140.7h0.9v0.9h-0.9zM263.8 139.1h0.9v0.9h-0.9zM266.3 137.5h0.9v0.9h-0.9zM261.7 145.2h0.9v0.9h-0.9zM266.5 139.7h0.9v0.9h-0.9zM260.9 130.8h0.9v0.9h-0.9zM256.7 149.0h0.9v0.9h-0.9zM265.1 148.7h0.9v0.9h-0.9zM261.1 153.4h0.9v0.9h-0.9zM265.5 143.4h0.9v0.9h-0.9zM263.2 134.9h0.9v0.9h-0.9zM265.9 138.8h0.9v0.9h-0.9zM267.7 143.0h0.9v0.9h-0.9zM263.5 142.3h0.9v0.9h-0.9zM260.6 141.1h0.9v0.9h-0.9zM255.9 144.6h0.9v0.9h-0.9zM257.0 143.5h0.9v0.9h-0.9zM262.0 134.5h0.9v0.9h-0.9zM265.2 141.0h0.9v0.9h-0.9zM262.4 151.9h0.9v0.9h-0.9zM262.7 154.9h0.9v0.9h-0.9zM259.1 144.2h0.9v0.9h-0.9zM258.9 141.6h0.9v0.9h-0.9zM258.6 154.3h0.9v0.9h-0.9zM267.0 143.9h0.9v0.9h-0.9zM257.7 137.1h0.9v0.9h-0.9zM267.1 144.2h0.9v0.9h-0.9zM261.5 149.8h0.9v0.9h-0.9zM266.6 155.7h0.9v0.9h-0.9zM265.5 141.8h0.9v0.9h-0.9zM267.4 148.7h0.9v0.9h-0.9zM261.9 152.8h0.9v0.9h-0.9zM261.2 146.8h0.9v0.9h-0.9zM263.1 146.9h0.9v0.9h-0.9zM261.9 138.4h0.9v0.9h-0.9zM267.0 142.9h0.9v0.9h-0.9zM264.2 142.9h0.9v0.9h-0.9zM264.6 120.5h0.9v0.9h-0.9zM266.1 150.9h0.9v0.9h-0.9zM262.9 145.0h0.9v0.9h-0.9zM268.5 143.6h0.9v0.9h-0.9zM258.0 142.6h0.9v0.9h-0.9zM265.4 145.2h0.9v0.9h-0.9zM266.3 146.7h0.9v0.9h-0.9zM261.8 136.2h0.9v0.9h-0.9zM262.1 145.9h0.9v0.9h-0.9zM267.8 145.8h0.9v0.9h-0.9zM263.4 145.3h0.9v0.9h-0.9zM257.7 134.9h0.9v0.9h-0.9zM259.7 144.1h0.9v0.9h-0.9zM268.1 136.3h0.9v0.9h-0.9zM261.4 147.4h0.9v0.9h-0.9zM263.8 142.7h0.9v0.9h-0.9zM266.5 141.4h0.9v0.9h-0.9zM261.5 141.2h0.9v0.9h-0.9zM263.1 147.4h0.9v0.9h-0.9zM262.0 140.5h0.9v0.9h-0.9zM266.6 141.4h0.9v0.9h-0.9zM259.9 128.0h0.9v0.9h-0.9zM264.0 139.3h0.9v0.9h-0.9zM264.7 139.7h0.9v0.9h-0.9zM266.3 141.4h0.9v0.9h-0.9zM256.9 153.3h0.9v0.9h-0.9zM258.1 135.8h0.9v0.9h-0.9zM261.3 136.0h0.9v0.9h-0.9zM263.7 149.1h0.9v0.9h-0.9zM265.0 138.4h0.9v0.9h-0.9zM265.2 143.9h0.9v0.9h-0.9zM266.8 145.2h0.9v0.9h-0.9zM266.6 139.8h0.9v0.9h-0.9zM262.7 151.3h0.9v0.9h-0.9zM267.3 155.2h0.9v0.9h-0.9zM266.9 138.2h0.9v0.9h-0.9zM266.9 143.2h0.9v0.9h-0.9zM264.1 151.4h0.9v0.9h-0.9zM266.7 143.6h0.9v0.9h-0.9zM261.6 142.1h0.9v0.9h-0.9zM256.7 150.7h0.9v0.9h-0.9zM267.4 138.3h0.9v0.9h-0.9zM267.1 146.8h0.9v0.9h-0.9zM263.6 147.6h0.9v0.9h-0.9zM262.9 140.6h0.9v0.9h-0.9zM262.8 149.6h0.9v0.9h-0.9zM260.1 151.8h0.9v0.9h-0.9zM262.7 151.4h0.9v0.9h-0.9zM266.2 134.9h0.9v0.9h-0.9zM262.3 151.1h0.9v0.9h-0.9zM263.1 149.0h0.9v0.9h-0.9zM265.5 151.7h0.9v0.9h-0.9zM262.9 139.3h0.9v0.9h-0.9zM264.9 151.2h0.9v0.9h-0.9zM264.3 147.6h0.9v0.9h-0.9zM260.6 137.2h0.9v0.9h-0.9zM264.7 153.7h0.9v0.9h-0.9zM260.3 139.7h0.9v0.9h-0.9zM267.8 138.1h0.9v0.9h-0.9zM261.1 147.7h0.9v0.9h-0.9zM263.6 140.9h0.9v0.9h-0.9zM257.9 147.5h0.9v0.9h-0.9zM262.8 143.4h0.9v0.9h-0.9zM260.0 147.0h0.9v0.9h-0.9zM264.0 144.8h0.9v0.9h-0.9zM266.3 151.0h0.9v0.9h-0.9zM258.2 150.8h0.9v0.9h-0.9zM260.0 139.4h0.9v0.9h-0.9zM263.8 150.9h0.9v0.9h-0.9zM259.6 149.3h0.9v0.9h-0.9zM263.0 152.7h0.9v0.9h-0.9zM265.0 156.3h0.9v0.9h-0.9zM265.5 150.2h0.9v0.9h-0.9zM263.9 135.1h0.9v0.9h-0.9zM267.2 148.1h0.9v0.9h-0.9zM262.0 144.2h0.9v0.9h-0.9zM265.7 143.2h0.9v0.9h-0.9zM265.2 142.9h0.9v0.9h-0.9zM264.9 156.2h0.9v0.9h-0.9zM263.2 147.0h0.9v0.9h-0.9zM264.6 145.2h0.9v0.9h-0.9zM266.8 150.4h0.9v0.9h-0.9zM263.5 150.5h0.9v0.9h-0.9zM258.4 153.1h0.9v0.9h-0.9zM265.0 149.4h0.9v0.9h-0.9zM263.9 144.9h0.9v0.9h-0.9zM266.1 146.0h0.9v0.9h-0.9zM264.6 130.4h0.9v0.9h-0.9zM260.1 152.2h0.9v0.9h-0.9zM261.0 142.9h0.9v0.9h-0.9zM266.7 157.4h0.9v0.9h-0.9zM260.8 157.3h0.9v0.9h-0.9zM265.6 136.6h0.9v0.9h-0.9zM264.3 147.2h0.9v0.9h-0.9zM257.4 164.7h0.9v0.9h-0.9zM266.8 139.8h0.9v0.9h-0.9zM265.1 143.5h0.9v0.9h-0.9zM259.4 143.5h0.9v0.9h-0.9zM267.2 143.2h0.9v0.9h-0.9zM260.7 145.0h0.9v0.9h-0.9zM264.0 150.3h0.9v0.9h-0.9zM265.9 139.7h0.9v0.9h-0.9zM261.6 148.5h0.9v0.9h-0.9zM258.4 140.3h0.9v0.9h-0.9zM263.9 148.7h0.9v0.9h-0.9zM264.2 147.3h0.9v0.9h-0.9zM261.4 139.8h0.9v0.9h-0.9zM261.6 146.1h0.9v0.9h-0.9zM267.0 140.1h0.9v0.9h-0.9zM264.1 139.4h0.9v0.9h-0.9zM262.7 153.0h0.9v0.9h-0.9zM262.3 132.8h0.9v0.9h-0.9zM265.0 148.9h0.9v0.9h-0.9zM264.7 149.9h0.9v0.9h-0.9zM263.8 141.1h0.9v0.9h-0.9zM259.5 152.5h0.9v0.9h-0.9zM263.1 151.3h0.9v0.9h-0.9zM262.2 136.3h0.9v0.9h-0.9zM264.6 148.7h0.9v0.9h-0.9zM268.5 148.3h0.9v0.9h-0.9zM267.7 140.1h0.9v0.9h-0.9zM266.6 149.0h0.9v0.9h-0.9zM264.8 150.2h0.9v0.9h-0.9zM263.2 140.2h0.9v0.9h-0.9zM265.6 131.6h0.9v0.9h-0.9zM262.7 147.8h0.9v0.9h-0.9zM263.2 140.1h0.9v0.9h-0.9zM261.4 133.4h0.9v0.9h-0.9zM264.2 142.5h0.9v0.9h-0.9zM264.1 128.9h0.9v0.9h-0.9zM266.3 155.3h0.9v0.9h-0.9zM263.1 125.8h0.9v0.9h-0.9zM267.1 148.2h0.9v0.9h-0.9zM262.7 138.8h0.9v0.9h-0.9zM267.9 142.3h0.9v0.9h-0.9zM267.1 138.9h0.9v0.9h-0.9zM260.6 145.0h0.9v0.9h-0.9zM264.1 139.8h0.9v0.9h-0.9zM264.0 136.2h0.9v0.9h-0.9zM265.4 142.2h0.9v0.9h-0.9zM266.9 153.0h0.9v0.9h-0.9zM261.0 136.9h0.9v0.9h-0.9zM261.8 148.0h0.9v0.9h-0.9zM265.4 147.4h0.9v0.9h-0.9zM267.8 131.5h0.9v0.9h-0.9zM260.5 152.6h0.9v0.9h-0.9zM259.0 144.8h0.9v0.9h-0.9zM268.4 160.3h0.9v0.9h-0.9zM267.3 157.0h0.9v0.9h-0.9zM268.2 143.4h0.9v0.9h-0.9zM261.0 144.1h0.9v0.9h-0.9zM263.7 138.3h0.9v0.9h-0.9zM265.2 135.8h0.9v0.9h-0.9zM265.9 150.5h0.9v0.9h-0.9zM264.0 143.4h0.9v0.9h-0.9zM264.2 142.4h0.9v0.9h-0.9zM267.9 144.0h0.9v0.9h-0.9zM262.9 149.8h0.9v0.9h-0.9zM262.5 151.6h0.9v0.9h-0.9zM262.9 145.1h0.9v0.9h-0.9zM262.6 143.8h0.9v0.9h-0.9zM264.8 145.8h0.9v0.9h-0.9zM263.7 159.3h0.9v0.9h-0.9zM262.9 130.9h0.9v0.9h-0.9zM265.4 148.4h0.9v0.9h-0.9zM263.2 146.1h0.9v0.9h-0.9zM262.5 154.1h0.9v0.9h-0.9zM264.4 158.7h0.9v0.9h-0.9zM264.1 139.7h0.9v0.9h-0.9zM262.4 149.3h0.9v0.9h-0.9zM263.0 143.5h0.9v0.9h-0.9zM264.7 151.8h0.9v0.9h-0.9zM259.4 146.4h0.9v0.9h-0.9zM263.0 151.2h0.9v0.9h-0.9zM265.2 140.1h0.9v0.9h-0.9zM265.3 146.3h0.9v0.9h-0.9zM265.4 141.6h0.9v0.9h-0.9zM266.7 142.0h0.9v0.9h-0.9zM263.9 138.1h0.9v0.9h-0.9zM264.0 152.8h0.9v0.9h-0.9zM264.4 147.2h0.9v0.9h-0.9zM265.9 152.6h0.9v0.9h-0.9zM263.4 138.3h0.9v0.9h-0.9zM260.6 140.7h0.9v0.9h-0.9zM266.5 144.1h0.9v0.9h-0.9zM266.1 150.6h0.9v0.9h-0.9zM260.4 152.4h0.9v0.9h-0.9zM266.5 153.5h0.9v0.9h-0.9zM266.3 155.7h0.9v0.9h-0.9zM262.2 150.2h0.9v0.9h-0.9zM266.8 139.9h0.9v0.9h-0.9zM263.2 149.9h0.9v0.9h-0.9zM262.7 141.7h0.9v0.9h-0.9zM261.8 139.7h0.9v0.9h-0.9zM265.3 149.2h0.9v0.9h-0.9zM264.6 146.7h0.9v0.9h-0.9zM259.5 151.0h0.9v0.9h-0.9zM260.8 140.3h0.9v0.9h-0.9zM261.9 153.2h0.9v0.9h-0.9zM263.0 147.6h0.9v0.9h-0.9zM263.1 144.0h0.9v0.9h-0.9zM262.1 140.0h0.9v0.9h-0.9zM266.6 137.8h0.9v0.9h-0.9zM267.6 135.8h0.9v0.9h-0.9zM264.6 154.8h0.9v0.9h-0.9zM256.8 135.4h0.9v0.9h-0.9zM263.8 149.5h0.9v0.9h-0.9zM266.3 143.5h0.9v0.9h-0.9zM264.1 141.2h0.9v0.9h-0.9zM265.3 141.9h0.9v0.9h-0.9zM264.7 144.5h0.9v0.9h-0.9zM259.3 151.4h0.9v0.9h-0.9zM255.7 149.0h0.9v0.9h-0.9zM266.5 145.2h0.9v0.9h-0.9zM262.6 135.8h0.9v0.9h-0.9zM265.8 132.9h0.9v0.9h-0.9zM263.3 158.0h0.9v0.9h-0.9zM263.8 138.3h0.9v0.9h-0.9zM260.3 152.9h0.9v0.9h-0.9zM264.3 134.9h0.9v0.9h-0.9zM260.6 150.3h0.9v0.9h-0.9zM264.6 151.6h0.9v0.9h-0.9zM266.0 146.9h0.9v0.9h-0.9zM266.6 151.8h0.9v0.9h-0.9zM264.9 135.6h0.9v0.9h-0.9zM259.6 136.8h0.9v0.9h-0.9zM265.2 143.8h0.9v0.9h-0.9zM267.4 145.1h0.9v0.9h-0.9zM267.8 144.6h0.9v0.9h-0.9zM266.3 140.1h0.9v0.9h-0.9zM260.9 130.5h0.9v0.9h-0.9zM262.6 148.0h0.9v0.9h-0.9zM264.7 143.6h0.9v0.9h-0.9zM267.9 150.8h0.9v0.9h-0.9zM260.5 159.5h0.9v0.9h-0.9zM267.5 145.7h0.9v0.9h-0.9zM266.6 149.2h0.9v0.9h-0.9zM261.4 139.0h0.9v0.9h-0.9zM266.4 151.4h0.9v0.9h-0.9zM261.8 147.5h0.9v0.9h-0.9zM264.3 146.9h0.9v0.9h-0.9zM263.3 151.4h0.9v0.9h-0.9zM265.2 137.4h0.9v0.9h-0.9zM260.3 149.0h0.9v0.9h-0.9zM266.2 148.3h0.9v0.9h-0.9zM256.9 156.1h0.9v0.9h-0.9zM263.0 132.7h0.9v0.9h-0.9zM262.4 144.5h0.9v0.9h-0.9zM266.2 142.3h0.9v0.9h-0.9zM262.7 142.1h0.9v0.9h-0.9zM261.3 157.4h0.9v0.9h-0.9zM264.5 162.4h0.9v0.9h-0.9zM262.2 145.9h0.9v0.9h-0.9zM254.9 141.1h0.9v0.9h-0.9zM264.6 142.4h0.9v0.9h-0.9zM256.0 139.3h0.9v0.9h-0.9zM267.9 139.6h0.9v0.9h-0.9zM261.6 146.3h0.9v0.9h-0.9zM262.5 148.4h0.9v0.9h-0.9zM268.1 145.3h0.9v0.9h-0.9zM265.1 136.8h0.9v0.9h-0.9zM268.4 150.2h0.9v0.9h-0.9zM264.4 146.8h0.9v0.9h-0.9zM254.2 141.1h0.9v0.9h-0.9zM261.9 143.3h0.9v0.9h-0.9zM259.0 147.3h0.9v0.9h-0.9zM267.6 145.7h0.9v0.9h-0.9zM266.2 144.3h0.9v0.9h-0.9zM264.4 150.4h0.9v0.9h-0.9zM265.9 152.5h0.9v0.9h-0.9zM265.0 143.0h0.9v0.9h-0.9zM262.4 145.0h0.9v0.9h-0.9zM265.2 144.0h0.9v0.9h-0.9zM263.7 148.4h0.9v0.9h-0.9zM259.4 151.1h0.9v0.9h-0.9zM262.2 146.3h0.9v0.9h-0.9zM264.4 144.5h0.9v0.9h-0.9zM263.8 140.2h0.9v0.9h-0.9zM262.7 146.6h0.9v0.9h-0.9zM264.2 137.6h0.9v0.9h-0.9zM260.5 146.0h0.9v0.9h-0.9zM264.4 145.3h0.9v0.9h-0.9zM259.1 138.9h0.9v0.9h-0.9zM261.4 147.4h0.9v0.9h-0.9zM261.8 143.7h0.9v0.9h-0.9zM267.3 149.3h0.9v0.9h-0.9zM266.0 141.8h0.9v0.9h-0.9zM264.6 148.4h0.9v0.9h-0.9zM260.4 155.9h0.9v0.9h-0.9zM263.0 146.4h0.9v0.9h-0.9zM267.1 150.5h0.9v0.9h-0.9zM259.3 142.7h0.9v0.9h-0.9zM262.9 132.2h0.9v0.9h-0.9zM264.7 144.1h0.9v0.9h-0.9zM265.6 137.4h0.9v0.9h-0.9zM264.4 145.9h0.9v0.9h-0.9zM266.7 131.0h0.9v0.9h-0.9zM259.4 139.2h0.9v0.9h-0.9zM260.5 147.8h0.9v0.9h-0.9zM264.6 133.8h0.9v0.9h-0.9zM266.2 142.3h0.9v0.9h-0.9zM268.4 162.7h0.9v0.9h-0.9zM267.5 150.5h0.9v0.9h-0.9zM267.4 146.2h0.9v0.9h-0.9zM263.9 138.8h0.9v0.9h-0.9zM267.0 148.7h0.9v0.9h-0.9zM261.8 148.2h0.9v0.9h-0.9zM259.6 151.7h0.9v0.9h-0.9zM261.0 145.8h0.9v0.9h-0.9zM263.2 162.3h0.9v0.9h-0.9zM265.2 143.1h0.9v0.9h-0.9zM266.0 140.7h0.9v0.9h-0.9zM268.0 155.4h0.9v0.9h-0.9zM258.0 149.2h0.9v0.9h-0.9zM262.5 151.8h0.9v0.9h-0.9zM263.5 140.9h0.9v0.9h-0.9zM265.5 147.0h0.9v0.9h-0.9zM264.7 150.0h0.9v0.9h-0.9zM263.3 137.3h0.9v0.9h-0.9zM265.4 143.6h0.9v0.9h-0.9zM255.6 143.4h0.9v0.9h-0.9zM267.2 140.3h0.9v0.9h-0.9zM267.5 136.5h0.9v0.9h-0.9zM262.2 148.0h0.9v0.9h-0.9zM265.8 146.8h0.9v0.9h-0.9zM264.7 140.5h0.9v0.9h-0.9zM260.2 135.1h0.9v0.9h-0.9zM265.0 145.7h0.9v0.9h-0.9zM263.4 142.9h0.9v0.9h-0.9zM267.4 158.9h0.9v0.9h-0.9zM260.0 160.8h0.9v0.9h-0.9zM263.8 155.9h0.9v0.9h-0.9zM265.4 138.9h0.9v0.9h-0.9zM262.8 135.5h0.9v0.9h-0.9zM268.1 143.5h0.9v0.9h-0.9zM260.5 138.9h0.9v0.9h-0.9zM260.2 154.8h0.9v0.9h-0.9zM263.2 145.9h0.9v0.9h-0.9zM267.3 142.3h0.9v0.9h-0.9zM263.4 145.0h0.9v0.9h-0.9zM262.4 153.7h0.9v0.9h-0.9zM267.2 138.6h0.9v0.9h-0.9zM265.2 148.4h0.9v0.9h-0.9zM262.6 136.0h0.9v0.9h-0.9zM264.9 143.6h0.9v0.9h-0.9zM263.6 140.5h0.9v0.9h-0.9zM266.5 147.2h0.9v0.9h-0.9zM264.9 146.1h0.9v0.9h-0.9zM261.7 153.3h0.9v0.9h-0.9zM262.8 149.8h0.9v0.9h-0.9zM263.0 140.9h0.9v0.9h-0.9zM265.7 136.0h0.9v0.9h-0.9zM265.7 139.5h0.9v0.9h-0.9zM261.6 142.1h0.9v0.9h-0.9zM263.8 143.5h0.9v0.9h-0.9zM265.5 139.9h0.9v0.9h-0.9zM268.2 152.5h0.9v0.9h-0.9zM265.3 151.4h0.9v0.9h-0.9zM264.5 141.7h0.9v0.9h-0.9zM267.0 143.4h0.9v0.9h-0.9zM263.3 144.7h0.9v0.9h-0.9zM261.0 144.9h0.9v0.9h-0.9zM264.8 134.0h0.9v0.9h-0.9zM266.1 142.1h0.9v0.9h-0.9zM265.6 132.2h0.9v0.9h-0.9zM264.9 145.3h0.9v0.9h-0.9zM263.3 149.7h0.9v0.9h-0.9zM261.6 137.8h0.9v0.9h-0.9zM263.4 146.2h0.9v0.9h-0.9zM266.0 140.8h0.9v0.9h-0.9zM267.7 140.3h0.9v0.9h-0.9zM253.1 158.5h0.9v0.9h-0.9zM266.5 151.1h0.9v0.9h-0.9zM268.2 148.4h0.9v0.9h-0.9zM265.8 147.9h0.9v0.9h-0.9zM266.7 143.7h0.9v0.9h-0.9zM262.9 148.2h0.9v0.9h-0.9zM264.1 138.9h0.9v0.9h-0.9zM266.2 144.5h0.9v0.9h-0.9zM260.7 142.3h0.9v0.9h-0.9zM261.7 135.4h0.9v0.9h-0.9zM265.1 156.6h0.9v0.9h-0.9zM259.8 150.6h0.9v0.9h-0.9zM264.6 139.6h0.9v0.9h-0.9zM259.3 135.0h0.9v0.9h-0.9zM265.1 140.1h0.9v0.9h-0.9zM264.5 139.3h0.9v0.9h-0.9zM262.5 140.9h0.9v0.9h-0.9zM261.2 134.7h0.9v0.9h-0.9zM262.7 139.3h0.9v0.9h-0.9zM256.7 145.5h0.9v0.9h-0.9zM263.1 147.9h0.9v0.9h-0.9zM264.8 131.5h0.9v0.9h-0.9zM262.7 138.3h0.9v0.9h-0.9zM263.8 137.9h0.9v0.9h-0.9zM262.7 149.8h0.9v0.9h-0.9zM268.0 149.8h0.9v0.9h-0.9zM268.5 142.9h0.9v0.9h-0.9zM266.2 140.6h0.9v0.9h-0.9zM261.0 157.3h0.9v0.9h-0.9zM261.2 157.8h0.9v0.9h-0.9zM266.4 147.7h0.9v0.9h-0.9zM263.8 151.9h0.9v0.9h-0.9zM260.1 157.4h0.9v0.9h-0.9zM262.4 143.9h0.9v0.9h-0.9zM267.8 141.5h0.9v0.9h-0.9zM266.3 145.5h0.9v0.9h-0.9zM264.4 141.9h0.9v0.9h-0.9zM266.6 145.2h0.9v0.9h-0.9zM262.3 152.0h0.9v0.9h-0.9zM260.5 143.0h0.9v0.9h-0.9zM258.2 148.8h0.9v0.9h-0.9zM264.9 141.8h0.9v0.9h-0.9zM262.7 134.9h0.9v0.9h-0.9zM264.2 162.5h0.9v0.9h-0.9zM260.9 140.5h0.9v0.9h-0.9zM264.2 151.7h0.9v0.9h-0.9zM260.9 156.2h0.9v0.9h-0.9zM261.0 148.7h0.9v0.9h-0.9zM259.3 135.3h0.9v0.9h-0.9zM262.5 142.7h0.9v0.9h-0.9zM264.2 148.9h0.9v0.9h-0.9zM265.1 151.8h0.9v0.9h-0.9zM262.2 155.2h0.9v0.9h-0.9zM261.0 138.4h0.9v0.9h-0.9zM266.2 151.9h0.9v0.9h-0.9zM260.2 133.0h0.9v0.9h-0.9zM265.6 146.0h0.9v0.9h-0.9zM268.4 137.6h0.9v0.9h-0.9zM260.7 132.7h0.9v0.9h-0.9zM262.6 151.4h0.9v0.9h-0.9zM260.8 151.9h0.9v0.9h-0.9zM262.1 134.0h0.9v0.9h-0.9zM265.3 136.6h0.9v0.9h-0.9zM263.3 144.3h0.9v0.9h-0.9zM261.5 140.4h0.9v0.9h-0.9zM262.4 140.7h0.9v0.9h-0.9zM265.6 142.7h0.9v0.9h-0.9zM263.0 137.1h0.9v0.9h-0.9zM263.6 153.9h0.9v0.9h-0.9zM259.7 142.8h0.9v0.9h-0.9zM267.6 136.8h0.9v0.9h-0.9zM262.9 149.7h0.9v0.9h-0.9zM260.4 146.5h0.9v0.9h-0.9zM262.8 146.6h0.9v0.9h-0.9zM266.1 142.3h0.9v0.9h-0.9zM264.8 144.1h0.9v0.9h-0.9zM262.2 129.6h0.9v0.9h-0.9zM264.0 134.2h0.9v0.9h-0.9zM259.9 136.5h0.9v0.9h-0.9zM264.6 147.0h0.9v0.9h-0.9zM255.2 153.5h0.9v0.9h-0.9zM265.0 143.9h0.9v0.9h-0.9zM267.5 152.8h0.9v0.9h-0.9zM267.4 142.5h0.9v0.9h-0.9zM263.0 149.6h0.9v0.9h-0.9zM266.1 148.0h0.9v0.9h-0.9zM263.0 135.8h0.9v0.9h-0.9zM264.1 147.2h0.9v0.9h-0.9zM264.1 146.4h0.9v0.9h-0.9zM252.8 137.0h0.9v0.9h-0.9zM267.6 137.8h0.9v0.9h-0.9zM266.0 136.2h0.9v0.9h-0.9zM267.3 154.5h0.9v0.9h-0.9zM261.1 159.7h0.9v0.9h-0.9zM266.8 149.9h0.9v0.9h-0.9zM266.1 155.9h0.9v0.9h-0.9zM256.7 135.6h0.9v0.9h-0.9zM258.3 154.8h0.9v0.9h-0.9zM264.6 158.7h0.9v0.9h-0.9zM262.1 156.3h0.9v0.9h-0.9zM264.4 138.5h0.9v0.9h-0.9zM262.2 152.6h0.9v0.9h-0.9zM257.8 152.5h0.9v0.9h-0.9zM259.7 140.5h0.9v0.9h-0.9zM261.0 145.1h0.9v0.9h-0.9zM259.7 141.0h0.9v0.9h-0.9zM262.4 148.3h0.9v0.9h-0.9zM264.3 144.3h0.9v0.9h-0.9zM259.8 152.8h0.9v0.9h-0.9zM265.7 150.8h0.9v0.9h-0.9zM268.2 144.8h0.9v0.9h-0.9zM268.4 145.1h0.9v0.9h-0.9zM264.3 150.2h0.9v0.9h-0.9zM266.9 147.0h0.9v0.9h-0.9zM263.8 144.5h0.9v0.9h-0.9zM257.2 140.4h0.9v0.9h-0.9zM260.4 131.9h0.9v0.9h-0.9zM265.1 149.0h0.9v0.9h-0.9zM266.4 148.9h0.9v0.9h-0.9zM263.7 138.3h0.9v0.9h-0.9zM267.9 158.4h0.9v0.9h-0.9zM260.5 136.9h0.9v0.9h-0.9zM262.0 152.0h0.9v0.9h-0.9zM267.9 146.8h0.9v0.9h-0.9zM264.6 147.2h0.9v0.9h-0.9zM264.8 153.0h0.9v0.9h-0.9zM268.3 145.2h0.9v0.9h-0.9zM261.7 137.6h0.9v0.9h-0.9zM265.2 136.5h0.9v0.9h-0.9zM258.6 146.4h0.9v0.9h-0.9zM264.4 156.0h0.9v0.9h-0.9zM265.8 151.2h0.9v0.9h-0.9zM258.5 144.8h0.9v0.9h-0.9zM266.2 157.0h0.9v0.9h-0.9zM267.7 139.7h0.9v0.9h-0.9zM263.9 147.0h0.9v0.9h-0.9zM268.1 139.7h0.9v0.9h-0.9zM265.8 137.9h0.9v0.9h-0.9zM259.2 153.9h0.9v0.9h-0.9zM261.4 147.3h0.9v0.9h-0.9zM262.5 143.6h0.9v0.9h-0.9zM268.2 145.7h0.9v0.9h-0.9zM264.8 151.9h0.9v0.9h-0.9zM267.9 145.7h0.9v0.9h-0.9zM262.9 156.2h0.9v0.9h-0.9zM260.1 143.2h0.9v0.9h-0.9zM265.8 138.5h0.9v0.9h-0.9zM263.8 142.6h0.9v0.9h-0.9zM260.7 157.0h0.9v0.9h-0.9zM263.8 149.4h0.9v0.9h-0.9zM259.5 146.4h0.9v0.9h-0.9zM266.2 138.7h0.9v0.9h-0.9zM265.4 138.0h0.9v0.9h-0.9zM263.1 147.6h0.9v0.9h-0.9zM262.3 146.2h0.9v0.9h-0.9zM259.2 141.0h0.9v0.9h-0.9zM261.6 141.9h0.9v0.9h-0.9zM263.3 152.0h0.9v0.9h-0.9zM261.5 146.6h0.9v0.9h-0.9zM264.2 154.0h0.9v0.9h-0.9zM262.9 147.6h0.9v0.9h-0.9zM263.6 146.7h0.9v0.9h-0.9zM267.2 134.0h0.9v0.9h-0.9zM257.4 133.2h0.9v0.9h-0.9zM267.1 131.7h0.9v0.9h-0.9zM266.9 129.3h0.9v0.9h-0.9zM264.5 144.9h0.9v0.9h-0.9zM264.8 147.3h0.9v0.9h-0.9zM263.7 138.9h0.9v0.9h-0.9zM266.9 148.1h0.9v0.9h-0.9zM242.0 141.3h0.9v0.9h-0.9zM237.3 155.8h0.9v0.9h-0.9zM224.8 153.5h0.9v0.9h-0.9zM251.0 154.8h0.9v0.9h-0.9zM250.4 147.4h0.9v0.9h-0.9zM232.9 148.6h0.9v0.9h-0.9zM255.5 150.6h0.9v0.9h-0.9zM238.5 151.7h0.9v0.9h-0.9zM231.0 139.8h0.9v0.9h-0.9zM234.4 149.6h0.9v0.9h-0.9zM221.4 143.5h0.9v0.9h-0.9zM234.9 147.7h0.9v0.9h-0.9zM223.7 145.0h0.9v0.9h-0.9zM248.2 155.6h0.9v0.9h-0.9zM240.9 150.4h0.9v0.9h-0.9zM225.6 147.9h0.9v0.9h-0.9zM243.2 154.2h0.9v0.9h-0.9zM222.6 147.7h0.9v0.9h-0.9zM239.5 144.8h0.9v0.9h-0.9zM242.3 147.2h0.9v0.9h-0.9zM238.7 146.4h0.9v0.9h-0.9zM227.9 148.2h0.9v0.9h-0.9zM237.0 151.8h0.9v0.9h-0.9zM236.4 147.5h0.9v0.9h-0.9zM238.6 147.7h0.9v0.9h-0.9zM251.4 152.5h0.9v0.9h-0.9zM253.3 149.3h0.9v0.9h-0.9zM252.3 152.2h0.9v0.9h-0.9zM232.3 148.6h0.9v0.9h-0.9zM231.3 142.2h0.9v0.9h-0.9zM238.2 143.0h0.9v0.9h-0.9zM241.9 140.6h0.9v0.9h-0.9zM219.5 153.1h0.9v0.9h-0.9zM232.5 149.8h0.9v0.9h-0.9zM254.1 145.9h0.9v0.9h-0.9zM226.9 143.6h0.9v0.9h-0.9zM231.4 149.6h0.9v0.9h-0.9zM231.7 147.4h0.9v0.9h-0.9zM242.4 149.4h0.9v0.9h-0.9zM237.4 144.2h0.9v0.9h-0.9zM235.1 143.0h0.9v0.9h-0.9zM224.4 155.0h0.9v0.9h-0.9zM243.5 143.7h0.9v0.9h-0.9zM238.0 147.9h0.9v0.9h-0.9zM232.0 154.0h0.9v0.9h-0.9zM238.2 139.8h0.9v0.9h-0.9zM245.1 151.1h0.9v0.9h-0.9zM224.7 148.3h0.9v0.9h-0.9zM224.1 147.4h0.9v0.9h-0.9zM228.8 149.2h0.9v0.9h-0.9zM230.1 142.7h0.9v0.9h-0.9zM210.6 138.1h0.9v0.9h-0.9zM232.6 156.4h0.9v0.9h-0.9zM248.0 146.7h0.9v0.9h-0.9zM235.0 152.0h0.9v0.9h-0.9zM247.2 152.9h0.9v0.9h-0.9zM212.1 149.3h0.9v0.9h-0.9zM237.0 150.0h0.9v0.9h-0.9zM250.5 151.2h0.9v0.9h-0.9zM252.2 155.0h0.9v0.9h-0.9zM233.5 150.2h0.9v0.9h-0.9zM230.6 153.6h0.9v0.9h-0.9zM241.5 146.7h0.9v0.9h-0.9zM227.0 146.1h0.9v0.9h-0.9zM234.7 148.4h0.9v0.9h-0.9zM222.9 149.8h0.9v0.9h-0.9zM238.7 150.4h0.9v0.9h-0.9zM238.0 156.7h0.9v0.9h-0.9zM252.7 151.7h0.9v0.9h-0.9zM241.2 148.3h0.9v0.9h-0.9zM232.1 156.9h0.9v0.9h-0.9zM237.2 149.5h0.9v0.9h-0.9zM226.4 149.6h0.9v0.9h-0.9zM238.3 150.2h0.9v0.9h-0.9zM236.1 146.5h0.9v0.9h-0.9zM241.8 143.1h0.9v0.9h-0.9zM246.4 148.6h0.9v0.9h-0.9zM220.0 146.6h0.9v0.9h-0.9zM241.0 144.2h0.9v0.9h-0.9zM244.7 148.5h0.9v0.9h-0.9zM227.2 147.1h0.9v0.9h-0.9zM255.1 145.4h0.9v0.9h-0.9zM231.5 140.1h0.9v0.9h-0.9zM260.2 147.3h0.9v0.9h-0.9zM245.1 155.8h0.9v0.9h-0.9zM246.7 152.0h0.9v0.9h-0.9zM240.4 152.8h0.9v0.9h-0.9zM247.1 147.9h0.9v0.9h-0.9zM228.7 152.7h0.9v0.9h-0.9zM230.7 145.0h0.9v0.9h-0.9zM220.3 146.0h0.9v0.9h-0.9zM242.9 150.3h0.9v0.9h-0.9zM231.6 141.7h0.9v0.9h-0.9zM244.8 148.3h0.9v0.9h-0.9zM243.4 149.3h0.9v0.9h-0.9zM225.9 155.5h0.9v0.9h-0.9zM244.3 144.9h0.9v0.9h-0.9zM240.3 149.9h0.9v0.9h-0.9zM239.8 145.1h0.9v0.9h-0.9zM242.2 145.6h0.9v0.9h-0.9zM237.8 136.0h0.9v0.9h-0.9zM238.1 143.8h0.9v0.9h-0.9zM247.5 153.1h0.9v0.9h-0.9zM229.0 150.3h0.9v0.9h-0.9zM227.2 148.7h0.9v0.9h-0.9zM231.1 159.0h0.9v0.9h-0.9zM247.3 150.4h0.9v0.9h-0.9zM235.1 142.5h0.9v0.9h-0.9zM255.3 147.1h0.9v0.9h-0.9zM210.2 147.8h0.9v0.9h-0.9zM231.6 155.2h0.9v0.9h-0.9zM234.0 144.0h0.9v0.9h-0.9zM240.4 149.9h0.9v0.9h-0.9zM250.1 152.4h0.9v0.9h-0.9zM236.3 144.4h0.9v0.9h-0.9zM228.8 148.4h0.9v0.9h-0.9zM245.6 139.1h0.9v0.9h-0.9zM252.0 148.5h0.9v0.9h-0.9zM214.9 138.2h0.9v0.9h-0.9zM243.2 146.3h0.9v0.9h-0.9zM240.7 155.7h0.9v0.9h-0.9zM230.5 149.8h0.9v0.9h-0.9zM233.7 148.2h0.9v0.9h-0.9zM240.6 148.7h0.9v0.9h-0.9zM238.3 157.6h0.9v0.9h-0.9zM235.8 150.5h0.9v0.9h-0.9zM227.5 152.7h0.9v0.9h-0.9zM240.6 146.1h0.9v0.9h-0.9zM232.0 146.1h0.9v0.9h-0.9zM238.8 143.4h0.9v0.9h-0.9zM232.7 147.2h0.9v0.9h-0.9zM239.8 144.9h0.9v0.9h-0.9zM244.7 152.4h0.9v0.9h-0.9zM240.1 150.9h0.9v0.9h-0.9zM243.9 147.5h0.9v0.9h-0.9zM225.5 145.6h0.9v0.9h-0.9zM242.2 135.2h0.9v0.9h-0.9zM240.6 145.4h0.9v0.9h-0.9zM232.3 149.4h0.9v0.9h-0.9zM236.5 151.0h0.9v0.9h-0.9zM212.7 134.3h0.9v0.9h-0.9zM238.7 137.3h0.9v0.9h-0.9zM234.3 148.7h0.9v0.9h-0.9zM217.5 143.4h0.9v0.9h-0.9zM242.5 147.1h0.9v0.9h-0.9zM232.2 145.9h0.9v0.9h-0.9zM240.5 150.6h0.9v0.9h-0.9zM235.8 139.8h0.9v0.9h-0.9zM242.3 145.5h0.9v0.9h-0.9zM238.7 152.2h0.9v0.9h-0.9zM235.4 148.9h0.9v0.9h-0.9zM242.4 144.3h0.9v0.9h-0.9zM245.5 150.0h0.9v0.9h-0.9zM217.5 149.3h0.9v0.9h-0.9zM238.2 144.1h0.9v0.9h-0.9zM232.6 151.1h0.9v0.9h-0.9zM228.0 151.0h0.9v0.9h-0.9zM249.7 147.4h0.9v0.9h-0.9zM246.6 152.2h0.9v0.9h-0.9zM228.6 142.8h0.9v0.9h-0.9zM227.9 151.4h0.9v0.9h-0.9zM245.3 147.2h0.9v0.9h-0.9zM232.3 143.9h0.9v0.9h-0.9zM235.0 145.4h0.9v0.9h-0.9zM220.2 153.2h0.9v0.9h-0.9zM236.7 145.6h0.9v0.9h-0.9zM248.2 146.5h0.9v0.9h-0.9zM233.8 145.1h0.9v0.9h-0.9zM236.9 144.5h0.9v0.9h-0.9zM253.7 152.3h0.9v0.9h-0.9zM245.9 157.9h0.9v0.9h-0.9zM250.8 154.0h0.9v0.9h-0.9zM243.6 150.3h0.9v0.9h-0.9zM248.8 151.4h0.9v0.9h-0.9zM223.0 146.5h0.9v0.9h-0.9zM230.5 145.8h0.9v0.9h-0.9zM223.0 142.8h0.9v0.9h-0.9zM258.0 154.4h0.9v0.9h-0.9zM239.6 146.5h0.9v0.9h-0.9zM236.8 144.8h0.9v0.9h-0.9zM231.1 145.2h0.9v0.9h-0.9zM228.8 148.9h0.9v0.9h-0.9zM212.7 145.6h0.9v0.9h-0.9zM258.1 148.1h0.9v0.9h-0.9zM237.2 148.8h0.9v0.9h-0.9zM238.5 154.0h0.9v0.9h-0.9zM225.3 142.5h0.9v0.9h-0.9zM237.4 149.3h0.9v0.9h-0.9zM241.3 144.9h0.9v0.9h-0.9zM237.2 146.1h0.9v0.9h-0.9zM243.5 155.2h0.9v0.9h-0.9zM230.4 150.8h0.9v0.9h-0.9zM240.8 146.3h0.9v0.9h-0.9zM246.0 150.2h0.9v0.9h-0.9zM243.0 147.9h0.9v0.9h-0.9zM241.4 153.0h0.9v0.9h-0.9zM237.0 145.9h0.9v0.9h-0.9zM229.0 150.2h0.9v0.9h-0.9zM242.9 147.1h0.9v0.9h-0.9zM234.4 148.1h0.9v0.9h-0.9zM229.4 147.4h0.9v0.9h-0.9zM244.8 145.3h0.9v0.9h-0.9zM223.4 148.5h0.9v0.9h-0.9zM232.9 152.4h0.9v0.9h-0.9zM244.9 145.3h0.9v0.9h-0.9zM246.5 146.3h0.9v0.9h-0.9zM234.6 149.7h0.9v0.9h-0.9zM238.5 144.7h0.9v0.9h-0.9zM242.8 151.9h0.9v0.9h-0.9zM237.3 151.2h0.9v0.9h-0.9zM231.0 137.8h0.9v0.9h-0.9zM241.8 145.1h0.9v0.9h-0.9zM239.4 143.2h0.9v0.9h-0.9zM238.9 151.7h0.9v0.9h-0.9zM248.0 152.2h0.9v0.9h-0.9zM240.7 142.7h0.9v0.9h-0.9zM233.8 145.0h0.9v0.9h-0.9zM239.4 147.7h0.9v0.9h-0.9zM255.4 146.4h0.9v0.9h-0.9zM231.5 151.2h0.9v0.9h-0.9zM235.6 152.4h0.9v0.9h-0.9zM230.7 150.7h0.9v0.9h-0.9zM241.1 152.9h0.9v0.9h-0.9zM226.6 152.2h0.9v0.9h-0.9zM242.0 147.7h0.9v0.9h-0.9zM244.8 146.1h0.9v0.9h-0.9zM231.0 144.8h0.9v0.9h-0.9zM230.3 151.7h0.9v0.9h-0.9zM224.5 152.0h0.9v0.9h-0.9zM238.3 152.6h0.9v0.9h-0.9zM227.9 146.6h0.9v0.9h-0.9zM232.3 146.3h0.9v0.9h-0.9zM234.1 149.2h0.9v0.9h-0.9zM231.7 153.6h0.9v0.9h-0.9zM245.4 149.6h0.9v0.9h-0.9zM252.3 149.0h0.9v0.9h-0.9zM218.8 144.4h0.9v0.9h-0.9zM230.6 150.0h0.9v0.9h-0.9zM240.2 150.4h0.9v0.9h-0.9zM228.5 143.8h0.9v0.9h-0.9zM233.1 155.8h0.9v0.9h-0.9zM239.8 144.0h0.9v0.9h-0.9zM250.5 152.2h0.9v0.9h-0.9zM248.5 147.2h0.9v0.9h-0.9zM235.3 148.8h0.9v0.9h-0.9zM239.1 144.6h0.9v0.9h-0.9zM234.7 145.6h0.9v0.9h-0.9zM236.4 151.2h0.9v0.9h-0.9zM227.4 147.2h0.9v0.9h-0.9zM222.0 146.5h0.9v0.9h-0.9zM234.6 152.0h0.9v0.9h-0.9zM246.7 151.2h0.9v0.9h-0.9zM244.8 148.8h0.9v0.9h-0.9zM221.2 149.1h0.9v0.9h-0.9zM236.2 155.7h0.9v0.9h-0.9zM232.3 147.3h0.9v0.9h-0.9zM240.5 149.8h0.9v0.9h-0.9zM228.1 150.0h0.9v0.9h-0.9zM246.2 141.9h0.9v0.9h-0.9zM236.1 139.5h0.9v0.9h-0.9zM243.1 148.6h0.9v0.9h-0.9zM245.8 151.9h0.9v0.9h-0.9zM220.5 149.0h0.9v0.9h-0.9zM236.0 145.7h0.9v0.9h-0.9zM251.6 145.2h0.9v0.9h-0.9zM238.1 151.7h0.9v0.9h-0.9zM247.3 146.7h0.9v0.9h-0.9zM241.7 140.9h0.9v0.9h-0.9zM233.5 151.1h0.9v0.9h-0.9zM240.5 149.1h0.9v0.9h-0.9zM247.4 149.8h0.9v0.9h-0.9zM249.6 152.7h0.9v0.9h-0.9zM251.0 153.9h0.9v0.9h-0.9zM228.0 150.5h0.9v0.9h-0.9zM245.4 147.3h0.9v0.9h-0.9zM225.6 138.7h0.9v0.9h-0.9zM236.8 149.4h0.9v0.9h-0.9zM236.1 147.4h0.9v0.9h-0.9zM243.6 153.9h0.9v0.9h-0.9zM240.8 153.7h0.9v0.9h-0.9zM249.2 150.2h0.9v0.9h-0.9zM232.5 154.1h0.9v0.9h-0.9zM245.5 147.7h0.9v0.9h-0.9zM241.5 147.9h0.9v0.9h-0.9zM238.0 144.3h0.9v0.9h-0.9zM227.2 146.7h0.9v0.9h-0.9zM243.1 149.0h0.9v0.9h-0.9zM240.8 152.7h0.9v0.9h-0.9zM245.0 144.8h0.9v0.9h-0.9zM237.6 151.6h0.9v0.9h-0.9zM235.7 158.4h0.9v0.9h-0.9zM241.5 142.1h0.9v0.9h-0.9zM242.1 146.9h0.9v0.9h-0.9zM244.1 148.2h0.9v0.9h-0.9zM255.0 152.5h0.9v0.9h-0.9zM232.4 156.9h0.9v0.9h-0.9zM256.0 153.5h0.9v0.9h-0.9zM211.4 147.9h0.9v0.9h-0.9zM246.6 144.3h0.9v0.9h-0.9zM230.6 147.8h0.9v0.9h-0.9zM256.0 147.9h0.9v0.9h-0.9zM230.0 149.1h0.9v0.9h-0.9zM247.5 144.1h0.9v0.9h-0.9zM229.1 154.8h0.9v0.9h-0.9zM227.8 144.9h0.9v0.9h-0.9zM245.2 151.1h0.9v0.9h-0.9zM245.8 149.0h0.9v0.9h-0.9zM231.7 143.2h0.9v0.9h-0.9zM259.6 148.3h0.9v0.9h-0.9zM235.1 148.1h0.9v0.9h-0.9zM252.0 147.2h0.9v0.9h-0.9zM228.9 151.6h0.9v0.9h-0.9zM229.3 146.0h0.9v0.9h-0.9zM238.8 159.3h0.9v0.9h-0.9zM228.9 153.1h0.9v0.9h-0.9zM242.1 144.0h0.9v0.9h-0.9zM218.7 137.0h0.9v0.9h-0.9zM239.6 153.6h0.9v0.9h-0.9zM232.9 149.2h0.9v0.9h-0.9zM229.4 148.4h0.9v0.9h-0.9zM239.9 143.7h0.9v0.9h-0.9zM236.0 141.7h0.9v0.9h-0.9zM233.9 139.8h0.9v0.9h-0.9zM245.2 159.4h0.9v0.9h-0.9zM240.6 155.2h0.9v0.9h-0.9zM241.4 145.6h0.9v0.9h-0.9zM249.9 156.4h0.9v0.9h-0.9zM237.3 139.8h0.9v0.9h-0.9zM245.5 151.1h0.9v0.9h-0.9zM234.2 151.2h0.9v0.9h-0.9zM243.4 144.2h0.9v0.9h-0.9zM242.7 146.0h0.9v0.9h-0.9zM233.1 143.4h0.9v0.9h-0.9zM224.4 148.2h0.9v0.9h-0.9zM226.5 153.9h0.9v0.9h-0.9zM229.5 152.5h0.9v0.9h-0.9zM243.0 149.9h0.9v0.9h-0.9zM236.8 153.0h0.9v0.9h-0.9zM235.3 140.1h0.9v0.9h-0.9zM242.3 157.0h0.9v0.9h-0.9zM244.5 147.8h0.9v0.9h-0.9zM250.5 142.2h0.9v0.9h-0.9zM232.6 146.3h0.9v0.9h-0.9zM242.9 145.1h0.9v0.9h-0.9zM244.3 148.4h0.9v0.9h-0.9zM229.5 149.4h0.9v0.9h-0.9zM239.1 137.6h0.9v0.9h-0.9zM229.8 153.6h0.9v0.9h-0.9zM236.0 155.7h0.9v0.9h-0.9zM241.7 143.4h0.9v0.9h-0.9zM222.7 154.6h0.9v0.9h-0.9zM230.2 153.6h0.9v0.9h-0.9zM230.8 152.5h0.9v0.9h-0.9zM238.8 155.3h0.9v0.9h-0.9zM231.4 141.8h0.9v0.9h-0.9zM241.3 151.3h0.9v0.9h-0.9zM230.3 143.5h0.9v0.9h-0.9zM233.4 158.6h0.9v0.9h-0.9zM243.4 143.7h0.9v0.9h-0.9zM240.8 142.5h0.9v0.9h-0.9zM239.3 153.0h0.9v0.9h-0.9zM237.6 150.8h0.9v0.9h-0.9zM247.0 148.1h0.9v0.9h-0.9zM250.3 148.6h0.9v0.9h-0.9zM234.7 150.8h0.9v0.9h-0.9zM231.5 155.7h0.9v0.9h-0.9zM228.7 144.8h0.9v0.9h-0.9zM253.5 145.5h0.9v0.9h-0.9zM230.0 145.4h0.9v0.9h-0.9zM226.1 147.7h0.9v0.9h-0.9zM240.4 148.1h0.9v0.9h-0.9zM247.4 142.2h0.9v0.9h-0.9zM226.9 149.4h0.9v0.9h-0.9zM236.9 142.3h0.9v0.9h-0.9zM225.1 146.6h0.9v0.9h-0.9zM231.8 146.9h0.9v0.9h-0.9zM252.5 146.9h0.9v0.9h-0.9zM239.5 154.7h0.9v0.9h-0.9zM235.7 155.4h0.9v0.9h-0.9zM238.6 152.8h0.9v0.9h-0.9zM240.5 155.1h0.9v0.9h-0.9zM237.1 146.7h0.9v0.9h-0.9zM227.4 154.3h0.9v0.9h-0.9zM227.4 147.8h0.9v0.9h-0.9zM256.0 149.0h0.9v0.9h-0.9zM231.1 149.2h0.9v0.9h-0.9zM248.7 142.0h0.9v0.9h-0.9zM231.6 145.3h0.9v0.9h-0.9zM249.6 147.3h0.9v0.9h-0.9zM244.2 149.6h0.9v0.9h-0.9zM236.1 147.4h0.9v0.9h-0.9zM256.0 144.2h0.9v0.9h-0.9zM229.6 142.8h0.9v0.9h-0.9zM235.9 148.0h0.9v0.9h-0.9zM230.3 142.7h0.9v0.9h-0.9zM231.0 142.7h0.9v0.9h-0.9zM234.7 147.5h0.9v0.9h-0.9zM229.4 148.8h0.9v0.9h-0.9zM235.1 144.3h0.9v0.9h-0.9zM252.1 140.0h0.9v0.9h-0.9zM222.4 149.3h0.9v0.9h-0.9zM226.8 151.7h0.9v0.9h-0.9zM229.5 146.2h0.9v0.9h-0.9zM233.8 146.3h0.9v0.9h-0.9zM247.0 137.6h0.9v0.9h-0.9zM244.4 152.1h0.9v0.9h-0.9zM242.3 143.1h0.9v0.9h-0.9zM239.8 151.2h0.9v0.9h-0.9zM259.4 145.4h0.9v0.9h-0.9zM227.9 147.4h0.9v0.9h-0.9zM227.7 147.2h0.9v0.9h-0.9zM237.8 139.9h0.9v0.9h-0.9zM239.8 160.4h0.9v0.9h-0.9zM235.9 141.0h0.9v0.9h-0.9zM230.5 148.5h0.9v0.9h-0.9zM226.3 144.3h0.9v0.9h-0.9zM235.5 146.9h0.9v0.9h-0.9zM231.7 154.2h0.9v0.9h-0.9zM233.7 139.6h0.9v0.9h-0.9zM228.3 147.4h0.9v0.9h-0.9zM250.0 150.2h0.9v0.9h-0.9zM242.0 148.5h0.9v0.9h-0.9zM254.6 149.8h0.9v0.9h-0.9zM233.4 144.6h0.9v0.9h-0.9zM238.5 140.6h0.9v0.9h-0.9zM235.8 142.1h0.9v0.9h-0.9zM238.2 146.2h0.9v0.9h-0.9zM235.7 151.3h0.9v0.9h-0.9zM236.5 148.4h0.9v0.9h-0.9zM220.4 155.2h0.9v0.9h-0.9zM235.6 148.5h0.9v0.9h-0.9zM244.2 148.9h0.9v0.9h-0.9zM220.6 148.9h0.9v0.9h-0.9zM234.9 140.2h0.9v0.9h-0.9zM243.1 150.6h0.9v0.9h-0.9zM249.3 143.0h0.9v0.9h-0.9zM237.2 146.3h0.9v0.9h-0.9zM242.1 158.5h0.9v0.9h-0.9zM253.7 142.4h0.9v0.9h-0.9zM249.6 148.5h0.9v0.9h-0.9zM234.0 149.3h0.9v0.9h-0.9zM232.6 148.6h0.9v0.9h-0.9zM247.1 148.0h0.9v0.9h-0.9zM240.0 145.5h0.9v0.9h-0.9zM233.1 157.0h0.9v0.9h-0.9zM235.9 139.0h0.9v0.9h-0.9zM240.8 143.4h0.9v0.9h-0.9zM236.2 154.7h0.9v0.9h-0.9zM235.7 150.5h0.9v0.9h-0.9zM235.9 144.6h0.9v0.9h-0.9zM214.8 154.5h0.9v0.9h-0.9zM220.0 144.5h0.9v0.9h-0.9zM243.1 150.5h0.9v0.9h-0.9zM225.9 151.2h0.9v0.9h-0.9zM213.8 148.6h0.9v0.9h-0.9zM223.9 147.9h0.9v0.9h-0.9zM217.0 148.0h0.9v0.9h-0.9zM234.0 153.1h0.9v0.9h-0.9zM224.4 150.8h0.9v0.9h-0.9zM232.1 148.7h0.9v0.9h-0.9zM223.3 144.6h0.9v0.9h-0.9zM238.3 149.6h0.9v0.9h-0.9zM225.3 151.1h0.9v0.9h-0.9zM224.2 148.9h0.9v0.9h-0.9zM213.8 154.8h0.9v0.9h-0.9zM218.6 141.4h0.9v0.9h-0.9zM225.1 159.0h0.9v0.9h-0.9zM218.0 148.3h0.9v0.9h-0.9zM241.9 144.5h0.9v0.9h-0.9zM221.9 142.0h0.9v0.9h-0.9zM215.9 152.5h0.9v0.9h-0.9zM229.9 151.3h0.9v0.9h-0.9zM217.8 148.1h0.9v0.9h-0.9zM225.3 148.8h0.9v0.9h-0.9zM221.3 149.7h0.9v0.9h-0.9zM216.2 147.3h0.9v0.9h-0.9zM233.1 153.6h0.9v0.9h-0.9zM222.7 151.5h0.9v0.9h-0.9zM230.7 148.5h0.9v0.9h-0.9zM219.3 142.5h0.9v0.9h-0.9zM210.6 154.5h0.9v0.9h-0.9zM212.1 147.1h0.9v0.9h-0.9zM217.9 144.9h0.9v0.9h-0.9zM220.5 154.2h0.9v0.9h-0.9zM222.4 151.0h0.9v0.9h-0.9zM226.1 141.0h0.9v0.9h-0.9zM212.1 142.4h0.9v0.9h-0.9zM223.8 147.4h0.9v0.9h-0.9zM212.3 144.0h0.9v0.9h-0.9zM216.5 148.4h0.9v0.9h-0.9zM242.5 159.5h0.9v0.9h-0.9zM232.2 160.9h0.9v0.9h-0.9zM219.1 148.9h0.9v0.9h-0.9zM236.3 152.2h0.9v0.9h-0.9zM233.4 152.6h0.9v0.9h-0.9zM229.1 148.6h0.9v0.9h-0.9zM233.7 143.1h0.9v0.9h-0.9zM220.0 153.3h0.9v0.9h-0.9zM221.0 148.3h0.9v0.9h-0.9zM215.1 150.8h0.9v0.9h-0.9zM226.7 151.9h0.9v0.9h-0.9zM212.0 145.8h0.9v0.9h-0.9zM218.0 155.8h0.9v0.9h-0.9zM225.7 149.3h0.9v0.9h-0.9zM218.0 149.9h0.9v0.9h-0.9zM224.8 147.3h0.9v0.9h-0.9zM236.6 151.9h0.9v0.9h-0.9zM214.1 153.1h0.9v0.9h-0.9zM233.2 146.8h0.9v0.9h-0.9zM216.5 151.4h0.9v0.9h-0.9zM214.5 147.3h0.9v0.9h-0.9zM223.8 144.1h0.9v0.9h-0.9zM230.2 147.7h0.9v0.9h-0.9zM216.3 151.5h0.9v0.9h-0.9zM216.2 151.3h0.9v0.9h-0.9zM218.5 153.4h0.9v0.9h-0.9zM216.2 146.3h0.9v0.9h-0.9zM223.5 147.8h0.9v0.9h-0.9zM216.3 149.3h0.9v0.9h-0.9zM220.0 151.5h0.9v0.9h-0.9zM224.8 148.6h0.9v0.9h-0.9zM218.7 145.2h0.9v0.9h-0.9zM231.2 142.8h0.9v0.9h-0.9zM216.6 153.8h0.9v0.9h-0.9zM215.8 153.3h0.9v0.9h-0.9zM238.3 146.4h0.9v0.9h-0.9zM234.0 155.0h0.9v0.9h-0.9zM222.6 148.8h0.9v0.9h-0.9zM228.6 150.9h0.9v0.9h-0.9zM224.7 154.1h0.9v0.9h-0.9zM217.9 147.1h0.9v0.9h-0.9zM227.4 145.9h0.9v0.9h-0.9zM224.4 142.1h0.9v0.9h-0.9zM232.3 150.3h0.9v0.9h-0.9zM228.5 152.5h0.9v0.9h-0.9zM223.3 151.5h0.9v0.9h-0.9zM216.5 149.5h0.9v0.9h-0.9zM218.6 153.7h0.9v0.9h-0.9zM218.8 144.9h0.9v0.9h-0.9zM211.4 150.6h0.9v0.9h-0.9zM217.4 151.1h0.9v0.9h-0.9zM228.3 148.6h0.9v0.9h-0.9zM209.9 156.0h0.9v0.9h-0.9zM219.0 150.8h0.9v0.9h-0.9zM217.4 152.7h0.9v0.9h-0.9zM225.1 148.3h0.9v0.9h-0.9zM221.6 156.8h0.9v0.9h-0.9zM222.4 153.5h0.9v0.9h-0.9zM213.1 149.1h0.9v0.9h-0.9zM226.6 148.6h0.9v0.9h-0.9zM214.8 144.9h0.9v0.9h-0.9zM229.3 148.5h0.9v0.9h-0.9zM223.7 148.1h0.9v0.9h-0.9zM218.9 149.9h0.9v0.9h-0.9zM233.9 147.4h0.9v0.9h-0.9zM218.8 151.4h0.9v0.9h-0.9zM230.2 148.7h0.9v0.9h-0.9zM222.8 142.7h0.9v0.9h-0.9zM222.0 147.0h0.9v0.9h-0.9zM230.0 145.5h0.9v0.9h-0.9zM225.5 143.9h0.9v0.9h-0.9zM221.9 148.0h0.9v0.9h-0.9zM221.1 152.7h0.9v0.9h-0.9zM223.7 144.6h0.9v0.9h-0.9zM222.7 141.0h0.9v0.9h-0.9zM219.4 148.4h0.9v0.9h-0.9zM213.7 161.1h0.9v0.9h-0.9zM221.1 150.2h0.9v0.9h-0.9zM220.1 147.4h0.9v0.9h-0.9zM231.7 152.5h0.9v0.9h-0.9zM225.6 154.9h0.9v0.9h-0.9zM231.1 148.4h0.9v0.9h-0.9zM235.9 153.8h0.9v0.9h-0.9zM221.1 144.7h0.9v0.9h-0.9zM215.3 149.9h0.9v0.9h-0.9zM228.5 144.0h0.9v0.9h-0.9zM217.2 149.8h0.9v0.9h-0.9zM220.0 146.6h0.9v0.9h-0.9zM233.5 150.0h0.9v0.9h-0.9zM226.4 144.6h0.9v0.9h-0.9zM230.8 150.0h0.9v0.9h-0.9zM211.2 149.5h0.9v0.9h-0.9zM222.3 146.8h0.9v0.9h-0.9zM231.0 145.9h0.9v0.9h-0.9zM211.8 144.3h0.9v0.9h-0.9zM223.6 147.5h0.9v0.9h-0.9zM225.2 150.7h0.9v0.9h-0.9zM234.8 149.7h0.9v0.9h-0.9zM216.3 154.2h0.9v0.9h-0.9zM220.9 147.8h0.9v0.9h-0.9zM235.5 150.3h0.9v0.9h-0.9zM225.7 151.2h0.9v0.9h-0.9zM218.4 150.6h0.9v0.9h-0.9zM222.4 149.4h0.9v0.9h-0.9zM215.5 156.8h0.9v0.9h-0.9zM247.5 147.4h0.9v0.9h-0.9zM244.7 153.9h0.9v0.9h-0.9zM253.6 158.6h0.9v0.9h-0.9zM263.0 167.1h0.9v0.9h-0.9zM261.0 166.0h0.9v0.9h-0.9zM248.5 155.4h0.9v0.9h-0.9zM255.7 160.5h0.9v0.9h-0.9zM252.7 162.6h0.9v0.9h-0.9zM248.9 151.2h0.9v0.9h-0.9zM254.1 164.1h0.9v0.9h-0.9zM253.8 170.1h0.9v0.9h-0.9zM249.5 169.4h0.9v0.9h-0.9zM263.8 157.5h0.9v0.9h-0.9zM244.8 158.7h0.9v0.9h-0.9zM260.8 155.3h0.9v0.9h-0.9zM267.2 158.1h0.9v0.9h-0.9zM267.3 159.7h0.9v0.9h-0.9zM250.7 165.8h0.9v0.9h-0.9zM246.6 161.9h0.9v0.9h-0.9zM233.8 155.3h0.9v0.9h-0.9zM247.7 166.7h0.9v0.9h-0.9zM234.1 157.4h0.9v0.9h-0.9zM234.3 159.7h0.9v0.9h-0.9zM255.8 160.7h0.9v0.9h-0.9zM253.8 150.7h0.9v0.9h-0.9zM231.8 162.2h0.9v0.9h-0.9zM247.7 165.7h0.9v0.9h-0.9zM234.5 162.6h0.9v0.9h-0.9zM256.9 159.5h0.9v0.9h-0.9zM236.3 160.4h0.9v0.9h-0.9zM258.5 165.3h0.9v0.9h-0.9zM250.1 166.5h0.9v0.9h-0.9zM241.9 155.8h0.9v0.9h-0.9zM233.7 162.6h0.9v0.9h-0.9zM245.1 165.6h0.9v0.9h-0.9zM247.4 148.3h0.9v0.9h-0.9zM247.1 170.3h0.9v0.9h-0.9zM242.9 160.0h0.9v0.9h-0.9zM246.3 167.0h0.9v0.9h-0.9zM256.1 161.1h0.9v0.9h-0.9zM240.0 159.8h0.9v0.9h-0.9zM246.3 160.9h0.9v0.9h-0.9zM252.4 163.2h0.9v0.9h-0.9zM248.0 167.0h0.9v0.9h-0.9zM256.0 159.7h0.9v0.9h-0.9zM262.3 154.1h0.9v0.9h-0.9zM245.0 156.8h0.9v0.9h-0.9zM250.2 155.0h0.9v0.9h-0.9zM221.7 166.3h0.9v0.9h-0.9zM245.1 155.2h0.9v0.9h-0.9zM254.3 171.3h0.9v0.9h-0.9zM238.1 162.2h0.9v0.9h-0.9zM260.2 160.8h0.9v0.9h-0.9zM231.2 169.9h0.9v0.9h-0.9zM260.4 159.0h0.9v0.9h-0.9zM243.5 159.5h0.9v0.9h-0.9zM239.0 166.5h0.9v0.9h-0.9zM243.8 166.2h0.9v0.9h-0.9zM245.8 154.9h0.9v0.9h-0.9zM235.7 165.1h0.9v0.9h-0.9zM243.5 153.3h0.9v0.9h-0.9zM256.7 160.3h0.9v0.9h-0.9zM251.8 167.4h0.9v0.9h-0.9zM260.3 162.9h0.9v0.9h-0.9zM242.7 167.0h0.9v0.9h-0.9zM245.2 167.5h0.9v0.9h-0.9zM252.3 165.9h0.9v0.9h-0.9zM264.0 157.1h0.9v0.9h-0.9zM254.5 171.3h0.9v0.9h-0.9zM249.6 156.9h0.9v0.9h-0.9zM260.4 167.7h0.9v0.9h-0.9zM241.1 165.7h0.9v0.9h-0.9zM236.3 156.0h0.9v0.9h-0.9zM254.2 156.9h0.9v0.9h-0.9zM249.7 160.4h0.9v0.9h-0.9zM249.2 164.1h0.9v0.9h-0.9zM256.6 170.2h0.9v0.9h-0.9zM245.1 162.0h0.9v0.9h-0.9zM251.6 167.3h0.9v0.9h-0.9zM254.0 157.4h0.9v0.9h-0.9zM257.0 157.6h0.9v0.9h-0.9zM249.2 162.2h0.9v0.9h-0.9zM250.5 158.3h0.9v0.9h-0.9zM226.3 161.1h0.9v0.9h-0.9zM259.2 166.7h0.9v0.9h-0.9zM234.0 163.4h0.9v0.9h-0.9zM247.7 168.0h0.9v0.9h-0.9zM245.2 156.1h0.9v0.9h-0.9zM233.8 152.6h0.9v0.9h-0.9zM262.7 150.1h0.9v0.9h-0.9zM243.1 158.8h0.9v0.9h-0.9zM246.6 162.2h0.9v0.9h-0.9zM246.6 160.4h0.9v0.9h-0.9zM254.7 161.8h0.9v0.9h-0.9zM247.0 154.7h0.9v0.9h-0.9zM258.1 160.0h0.9v0.9h-0.9zM240.0 158.6h0.9v0.9h-0.9zM254.2 155.9h0.9v0.9h-0.9zM242.5 170.6h0.9v0.9h-0.9zM254.4 161.6h0.9v0.9h-0.9zM242.1 169.9h0.9v0.9h-0.9zM244.1 154.5h0.9v0.9h-0.9zM237.5 156.1h0.9v0.9h-0.9zM253.3 161.7h0.9v0.9h-0.9zM245.7 161.0h0.9v0.9h-0.9zM244.2 165.4h0.9v0.9h-0.9zM246.8 153.4h0.9v0.9h-0.9zM267.2 164.9h0.9v0.9h-0.9zM238.7 166.5h0.9v0.9h-0.9zM245.6 157.9h0.9v0.9h-0.9zM249.6 147.1h0.9v0.9h-0.9zM239.6 157.4h0.9v0.9h-0.9zM247.7 159.3h0.9v0.9h-0.9zM252.4 166.8h0.9v0.9h-0.9zM239.9 157.8h0.9v0.9h-0.9zM258.1 154.4h0.9v0.9h-0.9zM237.8 165.9h0.9v0.9h-0.9zM246.8 164.3h0.9v0.9h-0.9zM251.1 166.6h0.9v0.9h-0.9zM232.3 168.7h0.9v0.9h-0.9zM250.6 165.2h0.9v0.9h-0.9zM242.7 163.2h0.9v0.9h-0.9zM257.9 166.9h0.9v0.9h-0.9zM250.0 162.1h0.9v0.9h-0.9zM235.2 171.4h0.9v0.9h-0.9zM251.6 158.9h0.9v0.9h-0.9zM240.0 166.4h0.9v0.9h-0.9zM248.8 153.9h0.9v0.9h-0.9zM234.5 161.9h0.9v0.9h-0.9zM254.6 158.3h0.9v0.9h-0.9zM226.3 155.4h0.9v0.9h-0.9zM246.5 153.4h0.9v0.9h-0.9zM259.6 163.3h0.9v0.9h-0.9zM252.7 164.7h0.9v0.9h-0.9zM244.9 157.8h0.9v0.9h-0.9zM245.9 153.8h0.9v0.9h-0.9zM244.2 156.2h0.9v0.9h-0.9zM247.5 154.1h0.9v0.9h-0.9zM247.9 169.3h0.9v0.9h-0.9zM241.4 151.0h0.9v0.9h-0.9zM243.7 163.7h0.9v0.9h-0.9zM253.5 166.2h0.9v0.9h-0.9zM242.5 169.8h0.9v0.9h-0.9zM240.8 159.1h0.9v0.9h-0.9zM243.1 156.9h0.9v0.9h-0.9zM244.8 152.6h0.9v0.9h-0.9zM249.6 167.8h0.9v0.9h-0.9zM243.6 161.1h0.9v0.9h-0.9zM246.3 158.9h0.9v0.9h-0.9zM241.3 159.2h0.9v0.9h-0.9zM259.1 163.6h0.9v0.9h-0.9zM248.8 162.1h0.9v0.9h-0.9zM245.2 169.6h0.9v0.9h-0.9zM250.6 147.9h0.9v0.9h-0.9zM247.6 167.4h0.9v0.9h-0.9zM233.9 158.5h0.9v0.9h-0.9zM246.4 161.4h0.9v0.9h-0.9zM262.9 159.9h0.9v0.9h-0.9zM252.5 161.4h0.9v0.9h-0.9zM258.6 166.8h0.9v0.9h-0.9zM242.0 163.4h0.9v0.9h-0.9zM234.6 152.5h0.9v0.9h-0.9zM241.7 161.5h0.9v0.9h-0.9zM260.2 161.3h0.9v0.9h-0.9zM239.0 164.3h0.9v0.9h-0.9zM240.9 162.2h0.9v0.9h-0.9zM257.9 161.4h0.9v0.9h-0.9zM245.7 168.6h0.9v0.9h-0.9zM246.2 154.9h0.9v0.9h-0.9zM248.8 158.3h0.9v0.9h-0.9zM245.3 155.2h0.9v0.9h-0.9zM250.3 167.0h0.9v0.9h-0.9zM241.6 168.9h0.9v0.9h-0.9zM247.6 170.1h0.9v0.9h-0.9zM253.9 171.4h0.9v0.9h-0.9zM238.5 165.1h0.9v0.9h-0.9zM246.1 162.4h0.9v0.9h-0.9zM237.7 164.4h0.9v0.9h-0.9zM254.7 161.9h0.9v0.9h-0.9zM253.5 158.4h0.9v0.9h-0.9zM256.5 172.4h0.9v0.9h-0.9zM257.2 162.0h0.9v0.9h-0.9zM254.5 160.5h0.9v0.9h-0.9zM241.0 158.8h0.9v0.9h-0.9zM256.4 151.0h0.9v0.9h-0.9zM239.8 157.6h0.9v0.9h-0.9zM250.6 161.9h0.9v0.9h-0.9zM253.3 155.5h0.9v0.9h-0.9zM236.9 149.6h0.9v0.9h-0.9zM257.7 166.2h0.9v0.9h-0.9zM233.9 148.2h0.9v0.9h-0.9zM243.0 161.1h0.9v0.9h-0.9zM243.8 167.6h0.9v0.9h-0.9zM242.2 154.4h0.9v0.9h-0.9zM260.4 152.7h0.9v0.9h-0.9zM267.5 162.2h0.9v0.9h-0.9zM238.4 160.5h0.9v0.9h-0.9zM257.4 157.9h0.9v0.9h-0.9zM245.6 172.7h0.9v0.9h-0.9zM260.3 171.8h0.9v0.9h-0.9zM225.9 166.3h0.9v0.9h-0.9zM244.1 161.6h0.9v0.9h-0.9zM258.9 159.9h0.9v0.9h-0.9zM241.1 167.8h0.9v0.9h-0.9zM258.7 160.5h0.9v0.9h-0.9zM243.4 171.7h0.9v0.9h-0.9zM258.2 170.2h0.9v0.9h-0.9zM253.2 158.2h0.9v0.9h-0.9zM244.2 167.0h0.9v0.9h-0.9zM241.1 172.3h0.9v0.9h-0.9zM246.5 166.4h0.9v0.9h-0.9zM258.4 156.0h0.9v0.9h-0.9zM247.9 160.4h0.9v0.9h-0.9zM242.0 159.9h0.9v0.9h-0.9zM233.8 162.4h0.9v0.9h-0.9zM245.9 159.9h0.9v0.9h-0.9zM252.8 167.8h0.9v0.9h-0.9zM238.6 171.0h0.9v0.9h-0.9zM247.9 158.6h0.9v0.9h-0.9zM244.2 152.6h0.9v0.9h-0.9zM234.6 164.7h0.9v0.9h-0.9zM252.1 162.3h0.9v0.9h-0.9zM237.7 165.0h0.9v0.9h-0.9zM241.2 157.8h0.9v0.9h-0.9zM259.1 164.2h0.9v0.9h-0.9zM237.9 156.4h0.9v0.9h-0.9zM253.4 169.4h0.9v0.9h-0.9zM256.9 156.3h0.9v0.9h-0.9zM252.2 145.5h0.9v0.9h-0.9zM245.8 159.2h0.9v0.9h-0.9zM235.3 158.9h0.9v0.9h-0.9zM249.3 163.6h0.9v0.9h-0.9zM252.0 162.5h0.9v0.9h-0.9zM243.4 165.6h0.9v0.9h-0.9zM255.8 158.8h0.9v0.9h-0.9zM238.4 160.0h0.9v0.9h-0.9zM251.9 165.2h0.9v0.9h-0.9zM243.6 150.4h0.9v0.9h-0.9zM232.7 167.5h0.9v0.9h-0.9zM262.5 158.4h0.9v0.9h-0.9zM253.4 153.1h0.9v0.9h-0.9zM252.8 156.9h0.9v0.9h-0.9zM235.2 165.7h0.9v0.9h-0.9zM246.7 167.9h0.9v0.9h-0.9zM250.4 170.6h0.9v0.9h-0.9zM241.2 165.3h0.9v0.9h-0.9zM262.7 157.8h0.9v0.9h-0.9zM229.7 166.1h0.9v0.9h-0.9zM254.2 162.0h0.9v0.9h-0.9zM233.7 149.1h0.9v0.9h-0.9zM236.3 173.0h0.9v0.9h-0.9zM253.0 167.5h0.9v0.9h-0.9zM241.4 165.2h0.9v0.9h-0.9zM241.7 161.9h0.9v0.9h-0.9zM239.6 158.9h0.9v0.9h-0.9zM234.4 156.3h0.9v0.9h-0.9zM239.6 152.4h0.9v0.9h-0.9zM244.8 168.7h0.9v0.9h-0.9zM244.2 167.0h0.9v0.9h-0.9zM226.0 165.0h0.9v0.9h-0.9zM241.8 150.1h0.9v0.9h-0.9zM258.5 160.8h0.9v0.9h-0.9zM243.3 163.4h0.9v0.9h-0.9zM246.9 170.2h0.9v0.9h-0.9zM241.0 156.1h0.9v0.9h-0.9zM241.3 164.4h0.9v0.9h-0.9zM246.8 161.1h0.9v0.9h-0.9zM235.3 162.8h0.9v0.9h-0.9zM245.9 157.6h0.9v0.9h-0.9zM232.4 165.0h0.9v0.9h-0.9zM250.4 163.2h0.9v0.9h-0.9zM233.2 150.5h0.9v0.9h-0.9zM253.2 170.6h0.9v0.9h-0.9zM232.7 157.0h0.9v0.9h-0.9zM253.4 170.2h0.9v0.9h-0.9zM243.6 156.3h0.9v0.9h-0.9zM257.7 159.3h0.9v0.9h-0.9zM244.7 164.0h0.9v0.9h-0.9zM244.6 172.6h0.9v0.9h-0.9zM258.5 164.6h0.9v0.9h-0.9zM229.7 169.3h0.9v0.9h-0.9zM254.1 161.7h0.9v0.9h-0.9zM248.0 172.1h0.9v0.9h-0.9zM245.0 167.2h0.9v0.9h-0.9zM255.5 159.1h0.9v0.9h-0.9zM254.5 160.4h0.9v0.9h-0.9zM262.4 156.6h0.9v0.9h-0.9zM241.3 166.7h0.9v0.9h-0.9zM230.1 166.2h0.9v0.9h-0.9zM242.1 158.3h0.9v0.9h-0.9zM245.3 168.8h0.9v0.9h-0.9zM243.1 159.1h0.9v0.9h-0.9zM267.6 168.2h0.9v0.9h-0.9zM231.0 158.2h0.9v0.9h-0.9zM256.4 156.4h0.9v0.9h-0.9zM241.3 151.0h0.9v0.9h-0.9zM247.5 167.1h0.9v0.9h-0.9zM254.6 155.5h0.9v0.9h-0.9zM250.4 171.6h0.9v0.9h-0.9zM246.4 163.8h0.9v0.9h-0.9zM249.6 167.8h0.9v0.9h-0.9zM253.9 154.5h0.9v0.9h-0.9zM252.7 159.0h0.9v0.9h-0.9zM265.7 164.1h0.9v0.9h-0.9zM220.1 167.7h0.9v0.9h-0.9zM240.0 154.5h0.9v0.9h-0.9zM241.8 165.1h0.9v0.9h-0.9zM254.5 157.5h0.9v0.9h-0.9zM249.0 168.2h0.9v0.9h-0.9zM254.7 161.4h0.9v0.9h-0.9zM234.2 161.0h0.9v0.9h-0.9zM245.1 165.7h0.9v0.9h-0.9zM252.8 170.4h0.9v0.9h-0.9zM246.6 161.3h0.9v0.9h-0.9zM243.4 170.9h0.9v0.9h-0.9zM249.5 156.4h0.9v0.9h-0.9zM261.9 164.7h0.9v0.9h-0.9zM228.1 155.6h0.9v0.9h-0.9zM261.3 164.3h0.9v0.9h-0.9zM249.5 157.0h0.9v0.9h-0.9zM239.3 163.1h0.9v0.9h-0.9zM253.0 166.9h0.9v0.9h-0.9zM247.4 156.6h0.9v0.9h-0.9zM257.9 151.5h0.9v0.9h-0.9zM239.8 161.8h0.9v0.9h-0.9zM255.7 166.3h0.9v0.9h-0.9zM238.9 164.4h0.9v0.9h-0.9zM249.9 157.0h0.9v0.9h-0.9zM253.3 168.3h0.9v0.9h-0.9zM246.3 161.0h0.9v0.9h-0.9zM252.8 167.8h0.9v0.9h-0.9zM241.7 157.2h0.9v0.9h-0.9zM256.6 165.7h0.9v0.9h-0.9zM242.5 170.5h0.9v0.9h-0.9zM240.7 158.6h0.9v0.9h-0.9zM246.0 161.0h0.9v0.9h-0.9zM246.6 166.9h0.9v0.9h-0.9zM239.5 166.3h0.9v0.9h-0.9zM254.2 165.2h0.9v0.9h-0.9zM245.9 162.1h0.9v0.9h-0.9zM252.5 152.7h0.9v0.9h-0.9zM233.6 162.8h0.9v0.9h-0.9zM235.2 154.5h0.9v0.9h-0.9zM244.6 163.4h0.9v0.9h-0.9zM238.1 147.7h0.9v0.9h-0.9zM245.8 172.1h0.9v0.9h-0.9zM257.1 165.7h0.9v0.9h-0.9zM260.3 157.3h0.9v0.9h-0.9zM254.1 160.9h0.9v0.9h-0.9zM240.7 168.6h0.9v0.9h-0.9zM252.0 167.1h0.9v0.9h-0.9zM242.3 158.3h0.9v0.9h-0.9zM251.9 170.6h0.9v0.9h-0.9zM237.6 167.5h0.9v0.9h-0.9zM259.2 166.3h0.9v0.9h-0.9zM250.8 160.5h0.9v0.9h-0.9zM244.5 162.8h0.9v0.9h-0.9zM234.8 158.2h0.9v0.9h-0.9zM249.6 164.0h0.9v0.9h-0.9zM242.3 158.5h0.9v0.9h-0.9zM249.3 170.4h0.9v0.9h-0.9zM240.6 163.0h0.9v0.9h-0.9zM242.2 164.2h0.9v0.9h-0.9zM252.7 164.9h0.9v0.9h-0.9zM260.4 164.9h0.9v0.9h-0.9zM235.7 153.6h0.9v0.9h-0.9zM245.3 171.0h0.9v0.9h-0.9zM250.6 163.4h0.9v0.9h-0.9zM245.7 159.2h0.9v0.9h-0.9zM243.1 156.5h0.9v0.9h-0.9zM266.6 158.4h0.9v0.9h-0.9zM239.5 158.8h0.9v0.9h-0.9zM250.3 162.9h0.9v0.9h-0.9zM242.7 157.2h0.9v0.9h-0.9zM246.2 163.5h0.9v0.9h-0.9zM226.5 163.7h0.9v0.9h-0.9zM255.1 158.3h0.9v0.9h-0.9zM238.4 162.0h0.9v0.9h-0.9zM262.0 164.9h0.9v0.9h-0.9zM244.6 163.5h0.9v0.9h-0.9zM241.6 161.7h0.9v0.9h-0.9zM239.5 167.1h0.9v0.9h-0.9zM256.7 171.6h0.9v0.9h-0.9zM247.3 162.3h0.9v0.9h-0.9zM244.3 157.2h0.9v0.9h-0.9zM235.2 166.2h0.9v0.9h-0.9zM239.0 148.8h0.9v0.9h-0.9zM250.2 163.7h0.9v0.9h-0.9zM246.9 161.5h0.9v0.9h-0.9zM229.0 164.8h0.9v0.9h-0.9zM239.2 153.0h0.9v0.9h-0.9zM249.1 159.9h0.9v0.9h-0.9zM240.3 159.2h0.9v0.9h-0.9zM227.1 166.4h0.9v0.9h-0.9zM254.0 161.4h0.9v0.9h-0.9zM242.8 158.8h0.9v0.9h-0.9zM235.2 170.2h0.9v0.9h-0.9zM252.2 162.7h0.9v0.9h-0.9zM245.0 149.5h0.9v0.9h-0.9zM238.4 155.9h0.9v0.9h-0.9zM235.3 165.2h0.9v0.9h-0.9zM246.0 165.3h0.9v0.9h-0.9zM247.9 163.9h0.9v0.9h-0.9zM231.1 164.2h0.9v0.9h-0.9zM256.0 156.7h0.9v0.9h-0.9zM235.7 161.9h0.9v0.9h-0.9zM259.7 154.8h0.9v0.9h-0.9zM250.1 157.1h0.9v0.9h-0.9zM245.4 156.6h0.9v0.9h-0.9zM250.1 157.0h0.9v0.9h-0.9zM241.8 160.2h0.9v0.9h-0.9zM246.5 160.9h0.9v0.9h-0.9zM261.9 157.2h0.9v0.9h-0.9zM241.9 169.3h0.9v0.9h-0.9zM254.4 159.4h0.9v0.9h-0.9zM239.0 172.2h0.9v0.9h-0.9zM246.9 168.7h0.9v0.9h-0.9zM255.8 154.5h0.9v0.9h-0.9zM236.3 168.0h0.9v0.9h-0.9zM250.1 153.3h0.9v0.9h-0.9zM239.1 170.0h0.9v0.9h-0.9zM210.5 169.5h0.9v0.9h-0.9zM242.5 156.4h0.9v0.9h-0.9zM244.9 164.4h0.9v0.9h-0.9zM242.9 152.2h0.9v0.9h-0.9zM239.4 153.5h0.9v0.9h-0.9zM242.4 170.9h0.9v0.9h-0.9zM227.9 154.2h0.9v0.9h-0.9zM240.5 165.7h0.9v0.9h-0.9zM221.3 167.1h0.9v0.9h-0.9zM222.0 162.7h0.9v0.9h-0.9zM240.9 162.0h0.9v0.9h-0.9zM217.4 166.3h0.9v0.9h-0.9zM249.9 150.6h0.9v0.9h-0.9zM236.1 164.6h0.9v0.9h-0.9zM221.7 161.5h0.9v0.9h-0.9zM225.8 156.7h0.9v0.9h-0.9zM216.3 156.6h0.9v0.9h-0.9zM245.5 164.8h0.9v0.9h-0.9zM255.9 154.6h0.9v0.9h-0.9zM214.8 166.8h0.9v0.9h-0.9zM212.5 152.1h0.9v0.9h-0.9zM230.3 159.3h0.9v0.9h-0.9zM256.6 156.8h0.9v0.9h-0.9zM219.2 150.0h0.9v0.9h-0.9zM219.0 166.7h0.9v0.9h-0.9zM228.6 171.3h0.9v0.9h-0.9zM225.4 159.3h0.9v0.9h-0.9zM222.0 155.8h0.9v0.9h-0.9zM237.2 165.8h0.9v0.9h-0.9zM214.3 152.7h0.9v0.9h-0.9zM213.4 170.4h0.9v0.9h-0.9zM233.1 162.1h0.9v0.9h-0.9zM255.4 166.3h0.9v0.9h-0.9zM218.6 157.4h0.9v0.9h-0.9zM220.2 162.6h0.9v0.9h-0.9zM220.1 163.6h0.9v0.9h-0.9zM213.1 164.9h0.9v0.9h-0.9zM213.8 169.0h0.9v0.9h-0.9zM224.6 160.3h0.9v0.9h-0.9zM223.0 160.4h0.9v0.9h-0.9zM237.8 160.3h0.9v0.9h-0.9zM217.0 150.9h0.9v0.9h-0.9zM253.6 158.9h0.9v0.9h-0.9zM236.9 172.3h0.9v0.9h-0.9zM248.4 166.3h0.9v0.9h-0.9zM215.2 159.0h0.9v0.9h-0.9zM249.0 169.7h0.9v0.9h-0.9zM229.0 156.6h0.9v0.9h-0.9zM225.2 160.0h0.9v0.9h-0.9zM252.1 157.0h0.9v0.9h-0.9zM230.6 159.8h0.9v0.9h-0.9zM223.4 153.3h0.9v0.9h-0.9zM228.6 163.8h0.9v0.9h-0.9zM237.9 153.4h0.9v0.9h-0.9zM220.9 160.9h0.9v0.9h-0.9zM233.6 168.3h0.9v0.9h-0.9zM225.1 171.5h0.9v0.9h-0.9zM215.2 165.9h0.9v0.9h-0.9zM210.4 159.2h0.9v0.9h-0.9zM249.4 154.9h0.9v0.9h-0.9zM253.0 156.7h0.9v0.9h-0.9zM222.9 156.5h0.9v0.9h-0.9zM246.4 166.0h0.9v0.9h-0.9zM229.0 168.4h0.9v0.9h-0.9zM226.2 153.4h0.9v0.9h-0.9zM223.1 160.9h0.9v0.9h-0.9zM225.2 168.2h0.9v0.9h-0.9zM226.4 166.8h0.9v0.9h-0.9zM214.8 152.6h0.9v0.9h-0.9zM249.3 163.8h0.9v0.9h-0.9zM229.8 172.4h0.9v0.9h-0.9zM218.4 170.6h0.9v0.9h-0.9zM229.2 155.7h0.9v0.9h-0.9zM232.4 170.2h0.9v0.9h-0.9zM216.9 172.4h0.9v0.9h-0.9zM233.5 170.8h0.9v0.9h-0.9zM246.5 152.9h0.9v0.9h-0.9zM248.9 160.4h0.9v0.9h-0.9zM216.4 165.8h0.9v0.9h-0.9zM226.9 170.8h0.9v0.9h-0.9zM243.4 169.9h0.9v0.9h-0.9zM225.6 159.9h0.9v0.9h-0.9zM241.4 158.5h0.9v0.9h-0.9zM221.9 166.8h0.9v0.9h-0.9zM224.9 156.6h0.9v0.9h-0.9zM212.7 160.1h0.9v0.9h-0.9zM240.5 170.5h0.9v0.9h-0.9zM223.4 156.7h0.9v0.9h-0.9zM213.3 170.4h0.9v0.9h-0.9zM221.9 151.4h0.9v0.9h-0.9zM217.8 152.1h0.9v0.9h-0.9zM227.3 158.7h0.9v0.9h-0.9zM255.8 166.3h0.9v0.9h-0.9zM254.0 155.4h0.9v0.9h-0.9zM250.1 173.1h0.9v0.9h-0.9zM248.2 164.4h0.9v0.9h-0.9zM253.4 151.9h0.9v0.9h-0.9zM217.3 155.6h0.9v0.9h-0.9zM233.4 170.6h0.9v0.9h-0.9zM247.5 152.7h0.9v0.9h-0.9zM255.1 150.6h0.9v0.9h-0.9zM238.9 155.9h0.9v0.9h-0.9zM215.6 150.7h0.9v0.9h-0.9zM226.0 154.8h0.9v0.9h-0.9zM218.2 161.8h0.9v0.9h-0.9zM246.5 169.9h0.9v0.9h-0.9zM248.4 161.0h0.9v0.9h-0.9zM228.4 163.3h0.9v0.9h-0.9zM209.0 152.8h0.9v0.9h-0.9zM254.2 158.3h0.9v0.9h-0.9zM252.1 165.6h0.9v0.9h-0.9zM254.5 161.6h0.9v0.9h-0.9zM245.6 172.5h0.9v0.9h-0.9zM257.5 160.0h0.9v0.9h-0.9zM222.4 172.2h0.9v0.9h-0.9zM215.2 155.0h0.9v0.9h-0.9zM244.2 128.1h0.9v0.9h-0.9zM248.1 128.7h0.9v0.9h-0.9zM256.5 138.8h0.9v0.9h-0.9zM222.4 136.9h0.9v0.9h-0.9zM241.6 128.5h0.9v0.9h-0.9zM255.0 129.0h0.9v0.9h-0.9zM236.4 129.3h0.9v0.9h-0.9zM257.3 138.1h0.9v0.9h-0.9zM253.9 133.7h0.9v0.9h-0.9zM227.7 138.0h0.9v0.9h-0.9zM235.9 135.2h0.9v0.9h-0.9zM229.0 137.2h0.9v0.9h-0.9zM249.7 129.6h0.9v0.9h-0.9zM217.4 136.6h0.9v0.9h-0.9zM244.6 131.6h0.9v0.9h-0.9zM215.2 135.6h0.9v0.9h-0.9zM217.4 129.8h0.9v0.9h-0.9zM248.5 131.9h0.9v0.9h-0.9zM224.2 137.6h0.9v0.9h-0.9zM239.5 128.9h0.9v0.9h-0.9zM254.2 129.9h0.9v0.9h-0.9zM222.6 131.4h0.9v0.9h-0.9zM231.9 130.5h0.9v0.9h-0.9zM248.4 138.0h0.9v0.9h-0.9zM241.5 138.5h0.9v0.9h-0.9zM241.9 138.0h0.9v0.9h-0.9zM223.3 133.2h0.9v0.9h-0.9zM237.6 135.6h0.9v0.9h-0.9zM251.1 134.9h0.9v0.9h-0.9zM237.6 135.7h0.9v0.9h-0.9zM242.5 135.4h0.9v0.9h-0.9zM245.0 139.1h0.9v0.9h-0.9zM230.7 135.8h0.9v0.9h-0.9zM237.2 128.4h0.9v0.9h-0.9zM230.3 137.0h0.9v0.9h-0.9zM226.9 134.7h0.9v0.9h-0.9zM218.2 137.4h0.9v0.9h-0.9zM253.1 132.0h0.9v0.9h-0.9zM229.8 130.5h0.9v0.9h-0.9zM245.6 134.1h0.9v0.9h-0.9zM223.9 130.7h0.9v0.9h-0.9zM240.6 135.1h0.9v0.9h-0.9zM246.9 134.5h0.9v0.9h-0.9zM245.0 136.3h0.9v0.9h-0.9zM235.5 128.3h0.9v0.9h-0.9zM257.5 137.4h0.9v0.9h-0.9zM221.6 129.5h0.9v0.9h-0.9zM247.0 133.7h0.9v0.9h-0.9zM220.2 133.0h0.9v0.9h-0.9zM236.6 139.8h0.9v0.9h-0.9zM262.9 116.4h0.9v0.9h-0.9zM267.0 120.6h0.9v0.9h-0.9zM244.4 129.0h0.9v0.9h-0.9zM252.5 121.6h0.9v0.9h-0.9zM265.6 129.9h0.9v0.9h-0.9zM265.0 121.6h0.9v0.9h-0.9zM255.7 126.2h0.9v0.9h-0.9zM252.6 125.5h0.9v0.9h-0.9zM243.8 113.2h0.9v0.9h-0.9zM253.5 120.8h0.9v0.9h-0.9zM265.3 123.3h0.9v0.9h-0.9zM260.2 130.7h0.9v0.9h-0.9zM263.7 127.7h0.9v0.9h-0.9zM256.2 117.3h0.9v0.9h-0.9zM238.4 118.3h0.9v0.9h-0.9z" fill="#2020b0"/>
<rect x="207.8" y="112.5" width="62.2" height="62.1" fill="none" stroke="#333" stroke-width="1" />
<line x1="257.4" y1="112.5" x2="257.4" y2="174.6" stroke="#333" stroke-width="1" />
<text x="209.5" y="118.8" font-size="6.0" textLength="10" lengthAdjust="spacingAndGlyphs">17.9</text>
<text x="257.9" y="118.8" font-size="6.0" textLength="10.8" lengthAdjust="spacingAndGlyphs">54.6</text>
<text x="209.5" y="172.8" font-size="6.0" textLength="10" lengthAdjust="spacingAndGlyphs">18.8</text>
<text x="258.2" y="172.8" font-size="6.0" textLength="10.5" lengthAdjust="spacingAndGlyphs">8.75</text>
<text x="238.5" y="183.2" font-size="7" text-anchor="middle" textLength="26" lengthAdjust="spacingAndGlyphs">CD45RA</text>
<text x="202.5" y="143.5" font-size="7" text-anchor="middle" textLength="17" lengthAdjust="spacingAndGlyphs" transform="rotate(-90 202.5 143.5)">CCR7</text>
<text x="318.3" y="102.3" font-size="7" text-anchor="middle" textLength="17.5" lengthAdjust="spacingAndGlyphs">+CMV</text>
<text x="321.8" y="109.8" font-size="7" text-anchor="middle" textLength="52.3" lengthAdjust="spacingAndGlyphs">Memory subsets</text>
<rect x="294" y="152.6" width="38" height="21.4" fill="#f01a1a" />
<path d="M326.3 150.9h0.9v0.9h-0.9zM324.7 149.4h0.9v0.9h-0.9zM324.8 148.9h0.9v0.9h-0.9zM327.4 170.9h0.9v0.9h-0.9zM320.6 149.1h0.9v0.9h-0.9zM320.9 172.1h0.9v0.9h-0.9zM320.2 160.8h0.9v0.9h-0.9zM331.1 170.9h0.9v0.9h-0.9zM320.8 147.6h0.9v0.9h-0.9zM328.5 167.4h0.9v0.9h-0.9zM330.0 161.3h0.9v0.9h-0.9zM321.1 163.5h0.9v0.9h-0.9zM320.4 151.3h0.9v0.9h-0.9zM331.4 155.3h0.9v0.9h-0.9zM326.2 165.5h0.9v0.9h-0.9zM321.9 151.9h0.9v0.9h-0.9zM332.7 171.9h0.9v0.9h-0.9zM328.0 151.4h0.9v0.9h-0.9zM331.5 157.6h0.9v0.9h-0.9zM321.3 167.2h0.9v0.9h-0.9zM327.6 170.4h0.9v0.9h-0.9zM329.8 168.3h0.9v0.9h-0.9zM325.8 169.1h0.9v0.9h-0.9zM326.4 158.0h0.9v0.9h-0.9zM320.7 157.2h0.9v0.9h-0.9zM322.8 161.7h0.9v0.9h-0.9zM323.3 151.7h0.9v0.9h-0.9zM325.7 161.5h0.9v0.9h-0.9zM320.2 161.9h0.9v0.9h-0.9zM321.1 155.6h0.9v0.9h-0.9zM327.7 150.9h0.9v0.9h-0.9zM332.8 149.4h0.9v0.9h-0.9zM323.3 156.7h0.9v0.9h-0.9zM326.9 161.6h0.9v0.9h-0.9zM330.0 152.3h0.9v0.9h-0.9zM326.9 147.5h0.9v0.9h-0.9zM326.6 155.1h0.9v0.9h-0.9zM320.5 159.7h0.9v0.9h-0.9zM320.2 162.6h0.9v0.9h-0.9zM325.8 156.1h0.9v0.9h-0.9zM321.6 171.7h0.9v0.9h-0.9zM324.2 152.8h0.9v0.9h-0.9zM321.9 154.1h0.9v0.9h-0.9zM330.3 153.9h0.9v0.9h-0.9zM328.4 159.9h0.9v0.9h-0.9zM327.7 156.5h0.9v0.9h-0.9zM329.1 148.4h0.9v0.9h-0.9zM323.5 157.4h0.9v0.9h-0.9zM322.1 168.7h0.9v0.9h-0.9zM331.3 169.6h0.9v0.9h-0.9zM326.4 172.7h0.9v0.9h-0.9zM329.3 152.4h0.9v0.9h-0.9zM325.8 148.0h0.9v0.9h-0.9zM320.3 151.8h0.9v0.9h-0.9zM321.6 148.9h0.9v0.9h-0.9zM321.9 170.3h0.9v0.9h-0.9zM320.4 154.8h0.9v0.9h-0.9zM329.3 169.6h0.9v0.9h-0.9zM332.5 154.8h0.9v0.9h-0.9zM325.2 149.8h0.9v0.9h-0.9zM332.6 154.3h0.9v0.9h-0.9zM321.5 163.5h0.9v0.9h-0.9zM327.8 164.2h0.9v0.9h-0.9zM328.4 168.7h0.9v0.9h-0.9zM320.4 160.8h0.9v0.9h-0.9zM331.6 171.9h0.9v0.9h-0.9zM332.9 170.2h0.9v0.9h-0.9zM323.8 169.8h0.9v0.9h-0.9zM328.2 165.8h0.9v0.9h-0.9zM325.4 169.5h0.9v0.9h-0.9zM326.8 171.1h0.9v0.9h-0.9zM331.2 165.3h0.9v0.9h-0.9zM328.4 149.1h0.9v0.9h-0.9zM321.5 158.8h0.9v0.9h-0.9zM331.2 165.7h0.9v0.9h-0.9zM332.1 157.8h0.9v0.9h-0.9zM324.0 171.0h0.9v0.9h-0.9zM321.0 156.7h0.9v0.9h-0.9zM330.2 157.6h0.9v0.9h-0.9zM322.8 161.5h0.9v0.9h-0.9zM322.9 165.3h0.9v0.9h-0.9zM325.4 162.4h0.9v0.9h-0.9zM321.1 156.0h0.9v0.9h-0.9zM328.8 162.2h0.9v0.9h-0.9zM331.1 156.5h0.9v0.9h-0.9zM324.4 165.1h0.9v0.9h-0.9zM328.7 162.1h0.9v0.9h-0.9zM321.7 149.9h0.9v0.9h-0.9zM324.7 164.0h0.9v0.9h-0.9zM322.0 172.4h0.9v0.9h-0.9zM321.4 163.8h0.9v0.9h-0.9zM323.6 149.0h0.9v0.9h-0.9zM324.8 161.9h0.9v0.9h-0.9zM320.3 151.4h0.9v0.9h-0.9zM328.3 158.3h0.9v0.9h-0.9zM328.4 151.5h0.9v0.9h-0.9zM323.7 171.8h0.9v0.9h-0.9zM325.6 167.9h0.9v0.9h-0.9zM323.5 162.4h0.9v0.9h-0.9zM321.3 155.0h0.9v0.9h-0.9zM332.4 149.8h0.9v0.9h-0.9zM332.1 166.2h0.9v0.9h-0.9zM326.0 153.5h0.9v0.9h-0.9zM330.7 171.5h0.9v0.9h-0.9zM326.6 170.7h0.9v0.9h-0.9zM332.4 151.4h0.9v0.9h-0.9zM327.3 149.1h0.9v0.9h-0.9zM327.3 160.8h0.9v0.9h-0.9zM328.1 154.9h0.9v0.9h-0.9zM330.9 164.0h0.9v0.9h-0.9zM321.6 169.7h0.9v0.9h-0.9zM329.3 154.1h0.9v0.9h-0.9zM329.3 148.9h0.9v0.9h-0.9zM333.0 156.9h0.9v0.9h-0.9zM324.6 152.4h0.9v0.9h-0.9zM328.9 166.2h0.9v0.9h-0.9zM324.8 155.0h0.9v0.9h-0.9zM327.7 163.2h0.9v0.9h-0.9zM320.1 150.0h0.9v0.9h-0.9zM330.7 154.3h0.9v0.9h-0.9zM322.5 167.7h0.9v0.9h-0.9zM326.3 169.4h0.9v0.9h-0.9zM322.1 161.9h0.9v0.9h-0.9zM332.3 162.6h0.9v0.9h-0.9zM329.4 148.5h0.9v0.9h-0.9zM331.2 163.0h0.9v0.9h-0.9zM329.9 162.8h0.9v0.9h-0.9zM331.7 153.0h0.9v0.9h-0.9zM328.5 166.6h0.9v0.9h-0.9zM321.1 150.4h0.9v0.9h-0.9zM320.9 161.4h0.9v0.9h-0.9zM329.7 149.5h0.9v0.9h-0.9zM323.7 169.8h0.9v0.9h-0.9zM329.3 157.9h0.9v0.9h-0.9zM331.1 159.1h0.9v0.9h-0.9zM324.4 167.9h0.9v0.9h-0.9zM321.2 160.6h0.9v0.9h-0.9zM330.9 148.3h0.9v0.9h-0.9zM323.9 155.6h0.9v0.9h-0.9zM325.2 162.9h0.9v0.9h-0.9zM330.1 168.4h0.9v0.9h-0.9zM323.3 148.7h0.9v0.9h-0.9zM332.2 160.7h0.9v0.9h-0.9zM320.4 167.9h0.9v0.9h-0.9zM329.9 152.9h0.9v0.9h-0.9zM331.1 156.3h0.9v0.9h-0.9zM328.1 154.8h0.9v0.9h-0.9zM322.5 167.0h0.9v0.9h-0.9zM321.4 154.7h0.9v0.9h-0.9zM330.0 171.5h0.9v0.9h-0.9zM329.5 169.4h0.9v0.9h-0.9zM330.1 161.8h0.9v0.9h-0.9zM327.9 155.6h0.9v0.9h-0.9zM332.3 147.3h0.9v0.9h-0.9zM332.8 165.4h0.9v0.9h-0.9zM327.7 169.0h0.9v0.9h-0.9zM330.1 172.4h0.9v0.9h-0.9zM322.1 151.6h0.9v0.9h-0.9zM333.0 147.9h0.9v0.9h-0.9zM326.5 162.9h0.9v0.9h-0.9zM326.5 157.7h0.9v0.9h-0.9zM328.9 153.2h0.9v0.9h-0.9zM331.1 165.1h0.9v0.9h-0.9zM323.6 161.1h0.9v0.9h-0.9zM329.8 163.5h0.9v0.9h-0.9zM330.8 171.9h0.9v0.9h-0.9zM325.1 170.2h0.9v0.9h-0.9zM325.7 151.8h0.9v0.9h-0.9zM331.5 148.7h0.9v0.9h-0.9zM324.3 164.5h0.9v0.9h-0.9zM330.5 147.3h0.9v0.9h-0.9zM331.6 152.6h0.9v0.9h-0.9zM324.7 171.8h0.9v0.9h-0.9zM324.1 157.5h0.9v0.9h-0.9zM322.4 166.8h0.9v0.9h-0.9zM322.6 164.8h0.9v0.9h-0.9zM331.2 150.0h0.9v0.9h-0.9zM323.6 167.1h0.9v0.9h-0.9zM323.5 167.3h0.9v0.9h-0.9zM328.5 147.4h0.9v0.9h-0.9zM323.7 172.8h0.9v0.9h-0.9zM323.7 149.8h0.9v0.9h-0.9zM332.1 159.8h0.9v0.9h-0.9zM332.9 160.0h0.9v0.9h-0.9zM329.9 159.7h0.9v0.9h-0.9zM324.9 151.7h0.9v0.9h-0.9zM324.5 168.8h0.9v0.9h-0.9zM330.6 170.7h0.9v0.9h-0.9zM326.8 150.9h0.9v0.9h-0.9zM322.7 147.1h0.9v0.9h-0.9zM324.2 154.0h0.9v0.9h-0.9zM329.5 148.2h0.9v0.9h-0.9zM325.0 148.8h0.9v0.9h-0.9zM330.5 169.4h0.9v0.9h-0.9zM322.9 147.7h0.9v0.9h-0.9zM320.0 154.2h0.9v0.9h-0.9zM321.9 149.1h0.9v0.9h-0.9zM321.4 150.8h0.9v0.9h-0.9zM322.4 161.6h0.9v0.9h-0.9zM332.7 171.5h0.9v0.9h-0.9zM328.5 170.5h0.9v0.9h-0.9zM325.6 150.1h0.9v0.9h-0.9zM321.9 169.5h0.9v0.9h-0.9zM330.5 170.4h0.9v0.9h-0.9zM328.3 153.7h0.9v0.9h-0.9zM323.4 152.6h0.9v0.9h-0.9zM326.2 156.9h0.9v0.9h-0.9zM331.0 168.0h0.9v0.9h-0.9zM332.4 161.6h0.9v0.9h-0.9zM327.6 157.9h0.9v0.9h-0.9zM326.9 156.8h0.9v0.9h-0.9zM325.5 159.1h0.9v0.9h-0.9zM320.1 153.6h0.9v0.9h-0.9zM323.8 166.0h0.9v0.9h-0.9zM330.7 162.7h0.9v0.9h-0.9zM324.7 156.4h0.9v0.9h-0.9zM328.5 166.0h0.9v0.9h-0.9zM332.8 168.1h0.9v0.9h-0.9zM330.3 152.0h0.9v0.9h-0.9zM324.1 157.5h0.9v0.9h-0.9zM323.1 163.8h0.9v0.9h-0.9zM332.0 167.1h0.9v0.9h-0.9zM322.7 148.8h0.9v0.9h-0.9zM329.3 149.9h0.9v0.9h-0.9zM328.3 168.0h0.9v0.9h-0.9zM327.3 167.5h0.9v0.9h-0.9zM324.0 152.7h0.9v0.9h-0.9zM332.7 157.5h0.9v0.9h-0.9zM330.0 165.4h0.9v0.9h-0.9zM325.4 160.7h0.9v0.9h-0.9zM322.1 168.1h0.9v0.9h-0.9zM325.3 152.6h0.9v0.9h-0.9zM320.6 158.4h0.9v0.9h-0.9zM322.4 155.9h0.9v0.9h-0.9zM323.1 169.6h0.9v0.9h-0.9zM322.0 155.9h0.9v0.9h-0.9zM327.0 166.6h0.9v0.9h-0.9zM327.7 146.4h0.9v0.9h-0.9zM329.6 150.9h0.9v0.9h-0.9zM325.7 153.7h0.9v0.9h-0.9zM326.8 149.6h0.9v0.9h-0.9zM329.9 149.1h0.9v0.9h-0.9zM331.5 149.9h0.9v0.9h-0.9zM324.5 148.6h0.9v0.9h-0.9zM321.1 149.3h0.9v0.9h-0.9zM332.2 151.0h0.9v0.9h-0.9zM329.1 148.9h0.9v0.9h-0.9zM331.2 152.5h0.9v0.9h-0.9zM328.4 148.3h0.9v0.9h-0.9zM326.3 152.0h0.9v0.9h-0.9zM323.6 151.2h0.9v0.9h-0.9zM322.6 149.6h0.9v0.9h-0.9zM330.1 149.8h0.9v0.9h-0.9zM328.6 149.8h0.9v0.9h-0.9zM326.5 154.2h0.9v0.9h-0.9zM322.1 148.7h0.9v0.9h-0.9zM323.9 153.1h0.9v0.9h-0.9zM323.6 152.7h0.9v0.9h-0.9zM324.6 149.7h0.9v0.9h-0.9zM316.6 154.0h0.9v0.9h-0.9zM326.3 145.3h0.9v0.9h-0.9zM330.4 151.0h0.9v0.9h-0.9zM323.9 150.8h0.9v0.9h-0.9zM325.6 150.5h0.9v0.9h-0.9zM326.4 152.3h0.9v0.9h-0.9zM322.5 149.6h0.9v0.9h-0.9zM326.9 150.1h0.9v0.9h-0.9zM323.0 153.0h0.9v0.9h-0.9zM324.2 150.2h0.9v0.9h-0.9zM326.4 148.2h0.9v0.9h-0.9zM325.4 151.7h0.9v0.9h-0.9zM325.9 150.3h0.9v0.9h-0.9zM322.7 149.2h0.9v0.9h-0.9zM327.8 151.7h0.9v0.9h-0.9zM322.2 148.8h0.9v0.9h-0.9zM328.2 148.3h0.9v0.9h-0.9zM324.1 149.9h0.9v0.9h-0.9zM321.9 150.1h0.9v0.9h-0.9zM325.3 150.6h0.9v0.9h-0.9zM322.3 147.8h0.9v0.9h-0.9zM323.9 154.3h0.9v0.9h-0.9zM325.1 152.0h0.9v0.9h-0.9zM328.0 150.8h0.9v0.9h-0.9zM328.0 151.0h0.9v0.9h-0.9zM327.1 145.0h0.9v0.9h-0.9zM324.7 152.5h0.9v0.9h-0.9zM320.8 148.2h0.9v0.9h-0.9zM324.9 151.6h0.9v0.9h-0.9zM324.6 147.9h0.9v0.9h-0.9zM325.2 152.7h0.9v0.9h-0.9zM323.9 149.3h0.9v0.9h-0.9zM323.9 150.0h0.9v0.9h-0.9zM328.1 153.8h0.9v0.9h-0.9zM321.4 152.7h0.9v0.9h-0.9zM325.6 147.5h0.9v0.9h-0.9zM329.5 148.9h0.9v0.9h-0.9zM323.2 150.9h0.9v0.9h-0.9zM322.5 150.0h0.9v0.9h-0.9zM324.9 152.3h0.9v0.9h-0.9zM324.5 149.0h0.9v0.9h-0.9zM326.4 146.4h0.9v0.9h-0.9zM329.8 148.5h0.9v0.9h-0.9zM325.2 150.1h0.9v0.9h-0.9zM327.3 151.7h0.9v0.9h-0.9zM323.8 152.1h0.9v0.9h-0.9zM324.0 153.2h0.9v0.9h-0.9zM326.5 151.0h0.9v0.9h-0.9zM323.5 150.0h0.9v0.9h-0.9zM329.3 152.1h0.9v0.9h-0.9zM324.3 150.3h0.9v0.9h-0.9zM325.1 149.5h0.9v0.9h-0.9zM322.3 149.5h0.9v0.9h-0.9zM324.2 152.5h0.9v0.9h-0.9zM322.4 153.8h0.9v0.9h-0.9zM324.0 153.4h0.9v0.9h-0.9zM320.0 147.0h0.9v0.9h-0.9zM325.5 152.9h0.9v0.9h-0.9zM331.0 148.0h0.9v0.9h-0.9zM319.7 149.7h0.9v0.9h-0.9zM331.0 151.8h0.9v0.9h-0.9zM325.2 147.6h0.9v0.9h-0.9zM328.3 147.8h0.9v0.9h-0.9zM322.4 148.8h0.9v0.9h-0.9zM331.9 154.2h0.9v0.9h-0.9zM322.2 152.9h0.9v0.9h-0.9zM325.3 148.5h0.9v0.9h-0.9zM330.4 150.8h0.9v0.9h-0.9zM321.6 150.8h0.9v0.9h-0.9zM318.2 151.2h0.9v0.9h-0.9zM325.3 148.9h0.9v0.9h-0.9zM323.1 153.7h0.9v0.9h-0.9zM322.5 149.7h0.9v0.9h-0.9zM322.7 152.3h0.9v0.9h-0.9zM320.9 146.8h0.9v0.9h-0.9zM330.0 151.3h0.9v0.9h-0.9zM329.4 150.8h0.9v0.9h-0.9zM321.3 153.5h0.9v0.9h-0.9zM325.2 144.8h0.9v0.9h-0.9zM324.1 151.7h0.9v0.9h-0.9zM329.0 152.3h0.9v0.9h-0.9zM322.9 149.9h0.9v0.9h-0.9zM330.7 153.4h0.9v0.9h-0.9zM325.6 155.1h0.9v0.9h-0.9zM323.1 152.4h0.9v0.9h-0.9zM325.3 152.3h0.9v0.9h-0.9zM323.7 153.5h0.9v0.9h-0.9zM332.7 151.5h0.9v0.9h-0.9zM326.0 153.2h0.9v0.9h-0.9zM324.0 151.8h0.9v0.9h-0.9zM325.8 149.0h0.9v0.9h-0.9zM330.2 148.2h0.9v0.9h-0.9zM322.5 153.1h0.9v0.9h-0.9zM320.2 151.8h0.9v0.9h-0.9zM329.7 149.0h0.9v0.9h-0.9zM327.5 150.5h0.9v0.9h-0.9zM324.1 153.7h0.9v0.9h-0.9zM325.3 146.7h0.9v0.9h-0.9zM329.0 148.5h0.9v0.9h-0.9zM316.9 152.0h0.9v0.9h-0.9zM329.6 152.3h0.9v0.9h-0.9zM325.0 147.9h0.9v0.9h-0.9zM327.7 148.3h0.9v0.9h-0.9zM325.4 150.9h0.9v0.9h-0.9zM335.3 153.6h0.9v0.9h-0.9zM323.6 150.5h0.9v0.9h-0.9zM329.0 145.4h0.9v0.9h-0.9zM317.3 152.8h0.9v0.9h-0.9zM325.7 150.4h0.9v0.9h-0.9zM328.0 149.5h0.9v0.9h-0.9zM320.6 147.9h0.9v0.9h-0.9zM319.1 153.1h0.9v0.9h-0.9zM325.8 151.1h0.9v0.9h-0.9zM328.7 151.4h0.9v0.9h-0.9zM329.3 151.3h0.9v0.9h-0.9zM323.3 151.5h0.9v0.9h-0.9zM326.6 152.3h0.9v0.9h-0.9zM321.0 154.3h0.9v0.9h-0.9zM331.1 148.2h0.9v0.9h-0.9zM323.7 150.3h0.9v0.9h-0.9zM329.6 149.5h0.9v0.9h-0.9zM324.7 154.2h0.9v0.9h-0.9zM324.5 149.9h0.9v0.9h-0.9zM330.7 146.9h0.9v0.9h-0.9zM322.7 150.4h0.9v0.9h-0.9zM329.6 148.9h0.9v0.9h-0.9zM324.4 148.9h0.9v0.9h-0.9zM322.7 149.5h0.9v0.9h-0.9zM322.8 147.6h0.9v0.9h-0.9zM329.1 146.2h0.9v0.9h-0.9zM325.3 154.8h0.9v0.9h-0.9zM324.4 150.2h0.9v0.9h-0.9zM320.7 148.4h0.9v0.9h-0.9zM329.3 151.9h0.9v0.9h-0.9zM328.9 153.4h0.9v0.9h-0.9zM326.5 146.6h0.9v0.9h-0.9zM328.0 149.5h0.9v0.9h-0.9zM315.1 151.1h0.9v0.9h-0.9zM323.8 148.6h0.9v0.9h-0.9zM326.0 151.5h0.9v0.9h-0.9zM325.8 147.8h0.9v0.9h-0.9zM323.7 149.0h0.9v0.9h-0.9zM326.3 150.2h0.9v0.9h-0.9zM323.2 151.4h0.9v0.9h-0.9zM323.4 150.6h0.9v0.9h-0.9zM321.5 149.0h0.9v0.9h-0.9zM325.9 149.7h0.9v0.9h-0.9zM323.2 145.8h0.9v0.9h-0.9zM323.9 155.2h0.9v0.9h-0.9zM329.9 149.6h0.9v0.9h-0.9zM325.4 149.8h0.9v0.9h-0.9zM325.4 151.1h0.9v0.9h-0.9zM320.6 151.7h0.9v0.9h-0.9zM323.8 151.2h0.9v0.9h-0.9zM328.6 149.0h0.9v0.9h-0.9zM327.3 146.8h0.9v0.9h-0.9zM325.7 150.1h0.9v0.9h-0.9zM324.9 148.7h0.9v0.9h-0.9zM325.7 149.3h0.9v0.9h-0.9zM326.8 150.5h0.9v0.9h-0.9zM324.5 151.0h0.9v0.9h-0.9zM317.5 153.3h0.9v0.9h-0.9zM331.8 150.2h0.9v0.9h-0.9zM329.1 146.7h0.9v0.9h-0.9zM325.0 151.8h0.9v0.9h-0.9zM330.0 152.5h0.9v0.9h-0.9zM321.3 146.9h0.9v0.9h-0.9zM329.6 151.8h0.9v0.9h-0.9zM326.1 150.9h0.9v0.9h-0.9zM328.3 149.3h0.9v0.9h-0.9zM324.4 150.9h0.9v0.9h-0.9zM326.0 151.3h0.9v0.9h-0.9zM327.4 151.8h0.9v0.9h-0.9zM328.9 153.0h0.9v0.9h-0.9zM327.1 150.5h0.9v0.9h-0.9zM326.9 150.5h0.9v0.9h-0.9zM323.6 155.8h0.9v0.9h-0.9zM331.0 148.1h0.9v0.9h-0.9zM326.2 149.9h0.9v0.9h-0.9zM324.8 149.7h0.9v0.9h-0.9zM324.5 152.2h0.9v0.9h-0.9zM321.6 152.9h0.9v0.9h-0.9zM323.1 147.6h0.9v0.9h-0.9zM320.6 153.2h0.9v0.9h-0.9zM326.2 147.9h0.9v0.9h-0.9zM325.2 156.2h0.9v0.9h-0.9zM326.2 149.0h0.9v0.9h-0.9zM321.5 152.9h0.9v0.9h-0.9zM324.1 149.9h0.9v0.9h-0.9zM323.4 152.0h0.9v0.9h-0.9zM328.7 148.8h0.9v0.9h-0.9zM320.7 150.8h0.9v0.9h-0.9zM320.6 150.5h0.9v0.9h-0.9zM329.6 150.7h0.9v0.9h-0.9zM326.7 152.2h0.9v0.9h-0.9zM320.5 149.5h0.9v0.9h-0.9zM329.8 149.8h0.9v0.9h-0.9zM330.3 147.6h0.9v0.9h-0.9zM329.2 150.2h0.9v0.9h-0.9zM318.9 149.4h0.9v0.9h-0.9zM325.9 152.4h0.9v0.9h-0.9zM322.7 152.0h0.9v0.9h-0.9zM324.6 148.9h0.9v0.9h-0.9zM320.4 151.5h0.9v0.9h-0.9zM331.0 153.4h0.9v0.9h-0.9zM323.3 150.0h0.9v0.9h-0.9zM326.4 147.9h0.9v0.9h-0.9zM328.1 155.9h0.9v0.9h-0.9zM327.5 151.7h0.9v0.9h-0.9zM326.8 152.0h0.9v0.9h-0.9zM324.2 156.0h0.9v0.9h-0.9zM326.2 148.7h0.9v0.9h-0.9zM324.8 151.2h0.9v0.9h-0.9zM318.2 146.3h0.9v0.9h-0.9zM328.7 151.6h0.9v0.9h-0.9zM323.5 151.4h0.9v0.9h-0.9zM323.8 148.8h0.9v0.9h-0.9zM324.2 148.6h0.9v0.9h-0.9zM321.0 150.1h0.9v0.9h-0.9zM321.6 150.0h0.9v0.9h-0.9zM319.7 154.0h0.9v0.9h-0.9zM327.0 149.9h0.9v0.9h-0.9zM329.3 150.1h0.9v0.9h-0.9zM325.7 150.1h0.9v0.9h-0.9zM321.8 147.0h0.9v0.9h-0.9zM329.7 149.4h0.9v0.9h-0.9zM324.5 147.5h0.9v0.9h-0.9zM320.4 150.8h0.9v0.9h-0.9zM329.4 149.1h0.9v0.9h-0.9zM329.1 149.1h0.9v0.9h-0.9zM320.8 149.2h0.9v0.9h-0.9zM325.0 149.0h0.9v0.9h-0.9zM324.2 146.2h0.9v0.9h-0.9zM328.8 145.7h0.9v0.9h-0.9zM327.4 143.0h0.9v0.9h-0.9zM326.6 147.7h0.9v0.9h-0.9zM329.8 146.2h0.9v0.9h-0.9zM320.3 144.6h0.9v0.9h-0.9zM320.4 141.5h0.9v0.9h-0.9zM324.8 142.6h0.9v0.9h-0.9zM326.9 147.2h0.9v0.9h-0.9zM327.0 145.6h0.9v0.9h-0.9zM329.3 148.0h0.9v0.9h-0.9zM321.1 142.0h0.9v0.9h-0.9zM320.3 147.1h0.9v0.9h-0.9zM323.2 148.9h0.9v0.9h-0.9zM327.3 141.3h0.9v0.9h-0.9zM322.6 149.8h0.9v0.9h-0.9zM327.7 141.5h0.9v0.9h-0.9zM325.5 147.6h0.9v0.9h-0.9zM322.5 145.8h0.9v0.9h-0.9zM325.7 143.8h0.9v0.9h-0.9zM324.6 144.2h0.9v0.9h-0.9zM329.1 141.3h0.9v0.9h-0.9zM328.6 147.8h0.9v0.9h-0.9zM321.8 141.2h0.9v0.9h-0.9zM321.6 149.6h0.9v0.9h-0.9zM329.1 149.7h0.9v0.9h-0.9zM329.2 148.5h0.9v0.9h-0.9zM329.4 142.1h0.9v0.9h-0.9zM323.5 146.6h0.9v0.9h-0.9zM320.5 148.3h0.9v0.9h-0.9zM325.6 144.6h0.9v0.9h-0.9zM330.4 144.8h0.9v0.9h-0.9zM326.0 148.1h0.9v0.9h-0.9zM327.2 141.2h0.9v0.9h-0.9zM319.4 144.4h0.9v0.9h-0.9zM323.9 148.6h0.9v0.9h-0.9zM321.1 148.2h0.9v0.9h-0.9zM320.0 149.3h0.9v0.9h-0.9zM321.6 148.8h0.9v0.9h-0.9zM322.5 142.8h0.9v0.9h-0.9zM325.0 149.3h0.9v0.9h-0.9zM326.4 143.2h0.9v0.9h-0.9zM325.5 146.0h0.9v0.9h-0.9zM323.3 146.2h0.9v0.9h-0.9zM320.8 147.0h0.9v0.9h-0.9zM324.9 146.6h0.9v0.9h-0.9zM303.0 150.2h0.9v0.9h-0.9zM327.9 152.8h0.9v0.9h-0.9zM299.8 150.7h0.9v0.9h-0.9zM323.0 149.8h0.9v0.9h-0.9zM294.2 152.0h0.9v0.9h-0.9zM328.9 153.1h0.9v0.9h-0.9zM328.3 152.7h0.9v0.9h-0.9zM304.2 153.1h0.9v0.9h-0.9zM315.6 152.7h0.9v0.9h-0.9zM312.9 151.2h0.9v0.9h-0.9zM330.4 150.5h0.9v0.9h-0.9zM305.4 151.0h0.9v0.9h-0.9zM297.0 153.2h0.9v0.9h-0.9zM309.5 149.6h0.9v0.9h-0.9zM306.1 149.8h0.9v0.9h-0.9zM304.2 153.6h0.9v0.9h-0.9zM324.3 149.5h0.9v0.9h-0.9zM309.0 152.0h0.9v0.9h-0.9zM299.5 153.5h0.9v0.9h-0.9zM301.2 151.8h0.9v0.9h-0.9zM327.9 152.8h0.9v0.9h-0.9zM312.1 149.6h0.9v0.9h-0.9zM301.9 152.8h0.9v0.9h-0.9zM312.6 152.3h0.9v0.9h-0.9zM298.3 152.3h0.9v0.9h-0.9zM312.7 150.7h0.9v0.9h-0.9zM303.3 152.2h0.9v0.9h-0.9zM309.0 152.9h0.9v0.9h-0.9zM330.3 153.3h0.9v0.9h-0.9zM312.9 149.8h0.9v0.9h-0.9zM322.8 153.5h0.9v0.9h-0.9zM306.7 152.7h0.9v0.9h-0.9zM301.5 152.0h0.9v0.9h-0.9zM307.5 152.8h0.9v0.9h-0.9zM302.3 152.9h0.9v0.9h-0.9zM313.9 152.0h0.9v0.9h-0.9zM320.3 153.4h0.9v0.9h-0.9zM304.3 153.4h0.9v0.9h-0.9zM321.4 153.1h0.9v0.9h-0.9zM314.0 150.5h0.9v0.9h-0.9zM325.0 151.2h0.9v0.9h-0.9zM323.7 153.6h0.9v0.9h-0.9zM330.7 152.0h0.9v0.9h-0.9zM320.8 150.3h0.9v0.9h-0.9zM296.5 153.1h0.9v0.9h-0.9zM307.4 150.3h0.9v0.9h-0.9zM309.5 153.8h0.9v0.9h-0.9zM328.0 152.5h0.9v0.9h-0.9zM327.8 153.8h0.9v0.9h-0.9zM302.5 150.9h0.9v0.9h-0.9zM329.0 153.5h0.9v0.9h-0.9zM310.1 150.9h0.9v0.9h-0.9zM320.3 149.8h0.9v0.9h-0.9zM320.1 152.9h0.9v0.9h-0.9zM310.8 153.7h0.9v0.9h-0.9zM315.9 153.7h0.9v0.9h-0.9zM312.4 150.1h0.9v0.9h-0.9zM320.6 152.0h0.9v0.9h-0.9zM326.2 152.5h0.9v0.9h-0.9zM315.2 150.9h0.9v0.9h-0.9zM328.2 152.8h0.9v0.9h-0.9zM313.6 151.2h0.9v0.9h-0.9zM296.1 153.4h0.9v0.9h-0.9zM317.2 152.0h0.9v0.9h-0.9zM306.6 151.4h0.9v0.9h-0.9zM322.8 151.8h0.9v0.9h-0.9zM305.1 151.4h0.9v0.9h-0.9zM319.1 151.7h0.9v0.9h-0.9zM301.5 152.6h0.9v0.9h-0.9zM319.3 151.0h0.9v0.9h-0.9zM317.5 149.6h0.9v0.9h-0.9zM321.0 152.6h0.9v0.9h-0.9zM295.3 151.5h0.9v0.9h-0.9zM311.6 153.4h0.9v0.9h-0.9zM323.1 149.6h0.9v0.9h-0.9zM311.4 152.9h0.9v0.9h-0.9zM305.4 150.9h0.9v0.9h-0.9zM323.4 153.2h0.9v0.9h-0.9zM320.4 151.0h0.9v0.9h-0.9zM311.3 150.1h0.9v0.9h-0.9zM326.8 152.4h0.9v0.9h-0.9zM320.5 150.5h0.9v0.9h-0.9zM332.8 153.1h0.9v0.9h-0.9zM319.7 152.0h0.9v0.9h-0.9zM331.7 153.3h0.9v0.9h-0.9zM322.8 152.5h0.9v0.9h-0.9zM311.6 151.5h0.9v0.9h-0.9zM294.3 152.2h0.9v0.9h-0.9zM322.7 149.8h0.9v0.9h-0.9zM310.7 150.0h0.9v0.9h-0.9zM327.7 150.6h0.9v0.9h-0.9zM328.5 151.8h0.9v0.9h-0.9zM326.5 153.5h0.9v0.9h-0.9zM315.4 149.5h0.9v0.9h-0.9zM318.6 150.7h0.9v0.9h-0.9zM319.0 149.9h0.9v0.9h-0.9zM311.4 153.2h0.9v0.9h-0.9zM309.7 153.5h0.9v0.9h-0.9zM332.2 152.0h0.9v0.9h-0.9zM294.0 150.5h0.9v0.9h-0.9zM327.8 153.2h0.9v0.9h-0.9zM299.1 151.0h0.9v0.9h-0.9zM298.4 152.3h0.9v0.9h-0.9zM324.0 153.1h0.9v0.9h-0.9zM294.6 151.0h0.9v0.9h-0.9zM319.8 150.5h0.9v0.9h-0.9zM303.4 149.8h0.9v0.9h-0.9zM327.5 153.6h0.9v0.9h-0.9zM316.0 149.7h0.9v0.9h-0.9zM303.0 153.2h0.9v0.9h-0.9zM316.8 153.7h0.9v0.9h-0.9zM322.6 151.4h0.9v0.9h-0.9zM327.1 150.1h0.9v0.9h-0.9zM294.8 152.6h0.9v0.9h-0.9zM330.1 150.4h0.9v0.9h-0.9zM326.2 151.5h0.9v0.9h-0.9zM303.1 151.0h0.9v0.9h-0.9zM317.5 152.8h0.9v0.9h-0.9zM314.4 152.9h0.9v0.9h-0.9zM317.6 152.3h0.9v0.9h-0.9zM303.5 151.8h0.9v0.9h-0.9zM330.0 152.8h0.9v0.9h-0.9zM321.5 150.3h0.9v0.9h-0.9zM316.1 150.4h0.9v0.9h-0.9zM331.0 150.3h0.9v0.9h-0.9zM308.5 150.4h0.9v0.9h-0.9zM315.0 151.5h0.9v0.9h-0.9zM318.7 150.1h0.9v0.9h-0.9zM318.1 153.7h0.9v0.9h-0.9zM307.1 149.8h0.9v0.9h-0.9zM317.2 153.7h0.9v0.9h-0.9zM310.7 153.1h0.9v0.9h-0.9zM322.3 152.0h0.9v0.9h-0.9zM308.2 151.9h0.9v0.9h-0.9zM311.6 153.1h0.9v0.9h-0.9zM317.0 151.0h0.9v0.9h-0.9zM301.2 153.2h0.9v0.9h-0.9zM315.3 151.4h0.9v0.9h-0.9zM328.3 153.1h0.9v0.9h-0.9zM321.1 151.8h0.9v0.9h-0.9zM313.5 153.9h0.9v0.9h-0.9zM299.0 152.3h0.9v0.9h-0.9zM316.4 152.4h0.9v0.9h-0.9zM310.1 150.6h0.9v0.9h-0.9zM308.7 154.0h0.9v0.9h-0.9zM322.0 149.8h0.9v0.9h-0.9zM332.0 149.6h0.9v0.9h-0.9zM314.2 151.1h0.9v0.9h-0.9zM301.2 153.9h0.9v0.9h-0.9zM320.5 150.7h0.9v0.9h-0.9zM311.6 149.8h0.9v0.9h-0.9zM327.2 150.9h0.9v0.9h-0.9zM323.4 152.9h0.9v0.9h-0.9zM307.9 153.1h0.9v0.9h-0.9zM326.1 149.9h0.9v0.9h-0.9zM314.8 151.4h0.9v0.9h-0.9zM321.6 151.4h0.9v0.9h-0.9zM296.4 150.3h0.9v0.9h-0.9zM304.8 150.2h0.9v0.9h-0.9zM327.4 150.9h0.9v0.9h-0.9zM294.8 151.2h0.9v0.9h-0.9zM320.8 152.2h0.9v0.9h-0.9zM330.1 152.4h0.9v0.9h-0.9zM326.9 152.3h0.9v0.9h-0.9zM299.9 151.4h0.9v0.9h-0.9zM299.0 150.3h0.9v0.9h-0.9zM308.7 150.0h0.9v0.9h-0.9zM296.3 150.1h0.9v0.9h-0.9zM318.0 152.8h0.9v0.9h-0.9zM319.7 150.4h0.9v0.9h-0.9zM320.6 151.6h0.9v0.9h-0.9zM326.2 150.6h0.9v0.9h-0.9zM306.5 150.7h0.9v0.9h-0.9zM294.6 152.9h0.9v0.9h-0.9zM301.0 153.0h0.9v0.9h-0.9zM326.0 151.9h0.9v0.9h-0.9zM299.8 152.3h0.9v0.9h-0.9zM298.1 152.4h0.9v0.9h-0.9zM320.8 153.1h0.9v0.9h-0.9zM317.8 149.5h0.9v0.9h-0.9zM329.8 150.7h0.9v0.9h-0.9zM325.6 153.1h0.9v0.9h-0.9zM328.2 154.0h0.9v0.9h-0.9zM329.2 152.7h0.9v0.9h-0.9zM294.5 153.2h0.9v0.9h-0.9zM331.0 150.3h0.9v0.9h-0.9zM304.3 149.7h0.9v0.9h-0.9zM297.6 153.7h0.9v0.9h-0.9zM329.2 150.6h0.9v0.9h-0.9zM305.6 150.7h0.9v0.9h-0.9zM299.6 152.4h0.9v0.9h-0.9zM316.1 151.8h0.9v0.9h-0.9zM326.2 153.3h0.9v0.9h-0.9zM306.7 150.6h0.9v0.9h-0.9zM327.4 150.3h0.9v0.9h-0.9zM331.8 149.9h0.9v0.9h-0.9zM314.8 153.1h0.9v0.9h-0.9zM303.0 152.4h0.9v0.9h-0.9zM305.6 152.6h0.9v0.9h-0.9zM300.6 150.7h0.9v0.9h-0.9zM311.2 150.4h0.9v0.9h-0.9zM309.5 152.8h0.9v0.9h-0.9zM305.4 153.1h0.9v0.9h-0.9zM309.8 150.8h0.9v0.9h-0.9zM304.2 150.9h0.9v0.9h-0.9zM327.5 153.1h0.9v0.9h-0.9zM329.7 153.1h0.9v0.9h-0.9zM311.0 150.3h0.9v0.9h-0.9zM298.5 150.7h0.9v0.9h-0.9zM305.4 152.9h0.9v0.9h-0.9zM320.7 152.7h0.9v0.9h-0.9zM332.2 151.2h0.9v0.9h-0.9zM323.5 153.1h0.9v0.9h-0.9zM296.6 152.6h0.9v0.9h-0.9zM307.6 151.5h0.9v0.9h-0.9zM296.6 151.7h0.9v0.9h-0.9zM315.9 150.4h0.9v0.9h-0.9zM309.4 151.3h0.9v0.9h-0.9zM311.4 150.0h0.9v0.9h-0.9zM305.1 151.8h0.9v0.9h-0.9zM297.5 149.8h0.9v0.9h-0.9zM324.5 149.5h0.9v0.9h-0.9zM307.4 153.8h0.9v0.9h-0.9zM296.7 150.1h0.9v0.9h-0.9zM301.9 150.9h0.9v0.9h-0.9zM295.9 153.5h0.9v0.9h-0.9zM328.1 149.9h0.9v0.9h-0.9zM300.7 152.1h0.9v0.9h-0.9zM330.6 151.7h0.9v0.9h-0.9zM331.9 152.1h0.9v0.9h-0.9zM298.8 152.4h0.9v0.9h-0.9zM324.8 151.7h0.9v0.9h-0.9zM302.4 153.6h0.9v0.9h-0.9zM321.8 152.4h0.9v0.9h-0.9zM331.7 150.2h0.9v0.9h-0.9zM312.1 152.1h0.9v0.9h-0.9zM302.4 149.7h0.9v0.9h-0.9zM319.7 150.7h0.9v0.9h-0.9zM317.7 153.6h0.9v0.9h-0.9zM303.5 149.8h0.9v0.9h-0.9zM315.0 151.0h0.9v0.9h-0.9zM313.8 149.8h0.9v0.9h-0.9zM310.0 153.5h0.9v0.9h-0.9zM308.5 149.8h0.9v0.9h-0.9zM330.0 152.0h0.9v0.9h-0.9zM319.8 151.6h0.9v0.9h-0.9zM310.0 153.5h0.9v0.9h-0.9zM316.0 149.7h0.9v0.9h-0.9zM318.4 149.6h0.9v0.9h-0.9zM327.9 153.2h0.9v0.9h-0.9zM311.6 150.3h0.9v0.9h-0.9zM325.8 151.5h0.9v0.9h-0.9zM300.2 153.6h0.9v0.9h-0.9zM322.5 150.9h0.9v0.9h-0.9zM321.4 150.5h0.9v0.9h-0.9zM294.5 153.2h0.9v0.9h-0.9zM319.1 153.1h0.9v0.9h-0.9zM296.9 154.0h0.9v0.9h-0.9zM329.5 153.1h0.9v0.9h-0.9zM315.6 152.2h0.9v0.9h-0.9zM330.8 170.7h0.9v0.9h-0.9zM332.9 168.8h0.9v0.9h-0.9zM332.1 162.9h0.9v0.9h-0.9zM331.6 153.6h0.9v0.9h-0.9zM332.2 167.2h0.9v0.9h-0.9zM330.6 163.1h0.9v0.9h-0.9zM333.5 169.8h0.9v0.9h-0.9zM331.4 162.6h0.9v0.9h-0.9zM333.5 153.0h0.9v0.9h-0.9zM333.0 163.4h0.9v0.9h-0.9zM332.5 154.7h0.9v0.9h-0.9zM331.1 171.6h0.9v0.9h-0.9zM332.7 153.1h0.9v0.9h-0.9zM331.4 161.6h0.9v0.9h-0.9zM333.5 155.0h0.9v0.9h-0.9zM331.4 164.3h0.9v0.9h-0.9zM333.3 153.1h0.9v0.9h-0.9zM333.1 166.3h0.9v0.9h-0.9zM331.9 170.4h0.9v0.9h-0.9zM332.3 160.4h0.9v0.9h-0.9zM332.4 159.6h0.9v0.9h-0.9zM333.7 161.0h0.9v0.9h-0.9zM332.4 152.5h0.9v0.9h-0.9zM333.6 167.3h0.9v0.9h-0.9zM332.7 163.9h0.9v0.9h-0.9zM331.7 165.6h0.9v0.9h-0.9zM333.5 158.8h0.9v0.9h-0.9zM332.9 153.2h0.9v0.9h-0.9zM332.7 166.6h0.9v0.9h-0.9zM333.5 170.4h0.9v0.9h-0.9zM330.7 160.8h0.9v0.9h-0.9zM330.7 161.0h0.9v0.9h-0.9zM332.3 157.7h0.9v0.9h-0.9zM331.3 157.0h0.9v0.9h-0.9zM330.6 168.4h0.9v0.9h-0.9zM331.0 163.9h0.9v0.9h-0.9zM333.2 165.5h0.9v0.9h-0.9zM330.5 155.9h0.9v0.9h-0.9zM330.1 157.8h0.9v0.9h-0.9zM332.1 166.8h0.9v0.9h-0.9zM331.0 159.8h0.9v0.9h-0.9zM330.6 167.5h0.9v0.9h-0.9zM332.0 166.4h0.9v0.9h-0.9zM331.6 169.2h0.9v0.9h-0.9zM331.5 165.2h0.9v0.9h-0.9zM332.5 162.9h0.9v0.9h-0.9zM330.6 163.1h0.9v0.9h-0.9zM331.9 157.8h0.9v0.9h-0.9zM333.5 156.4h0.9v0.9h-0.9zM331.4 170.4h0.9v0.9h-0.9zM332.8 166.9h0.9v0.9h-0.9zM331.4 164.6h0.9v0.9h-0.9zM330.9 169.4h0.9v0.9h-0.9zM331.5 154.0h0.9v0.9h-0.9zM330.3 165.2h0.9v0.9h-0.9zM331.1 170.5h0.9v0.9h-0.9zM331.2 164.6h0.9v0.9h-0.9zM333.2 171.3h0.9v0.9h-0.9zM306.3 170.9h0.9v0.9h-0.9zM347.5 140.8h0.9v0.9h-0.9zM314.6 141.7h0.9v0.9h-0.9zM335.1 141.8h0.9v0.9h-0.9zM348.1 142.3h0.9v0.9h-0.9zM327.9 133.7h0.9v0.9h-0.9zM314.3 163.1h0.9v0.9h-0.9zM349.0 151.4h0.9v0.9h-0.9zM312.9 151.6h0.9v0.9h-0.9zM335.8 141.1h0.9v0.9h-0.9zM329.5 150.2h0.9v0.9h-0.9zM325.8 149.3h0.9v0.9h-0.9zM338.9 130.7h0.9v0.9h-0.9zM346.2 142.6h0.9v0.9h-0.9zM347.7 137.2h0.9v0.9h-0.9zM339.0 142.5h0.9v0.9h-0.9zM341.2 148.0h0.9v0.9h-0.9zM301.5 171.4h0.9v0.9h-0.9zM318.6 145.7h0.9v0.9h-0.9zM328.1 167.5h0.9v0.9h-0.9zM323.8 161.1h0.9v0.9h-0.9zM346.8 171.4h0.9v0.9h-0.9zM345.8 164.3h0.9v0.9h-0.9zM324.1 169.6h0.9v0.9h-0.9zM346.0 136.2h0.9v0.9h-0.9zM317.7 162.9h0.9v0.9h-0.9zM339.7 144.7h0.9v0.9h-0.9zM306.7 146.5h0.9v0.9h-0.9zM349.5 134.6h0.9v0.9h-0.9zM322.6 136.0h0.9v0.9h-0.9z" fill="#ee1a1a"/>
<rect x="293.2" y="112.4" width="62.1" height="62" fill="none" stroke="#333" stroke-width="1" />
<line x1="321.4" y1="112.4" x2="321.4" y2="174.4" stroke="#666" stroke-width="0.9" />
<line x1="293.2" y1="149.9" x2="355.3" y2="149.9" stroke="#666" stroke-width="0.9" />
<text x="294.8" y="118.9" font-size="5.4" textLength="13" lengthAdjust="spacingAndGlyphs">0.076</text>
<text x="339.8" y="118.9" font-size="5.4" textLength="13.6" lengthAdjust="spacingAndGlyphs">0.516</text>
<text x="294.8" y="173.2" font-size="5.4" textLength="11" lengthAdjust="spacingAndGlyphs" fill="#000">51.8</text>
<text x="343.2" y="173.2" font-size="5.4" textLength="10.5" lengthAdjust="spacingAndGlyphs">47.6</text>
<text x="324.5" y="183.2" font-size="7" text-anchor="middle" textLength="25" lengthAdjust="spacingAndGlyphs">CD45RA</text>
<text x="287.6" y="144" font-size="7" text-anchor="middle" textLength="16" lengthAdjust="spacingAndGlyphs" transform="rotate(-90 287.6 144)">CCR7</text>
<rect x="465.4" y="157" width="4.6" height="4.4" fill="#e8141c" />
<text x="479.8" y="161.3" font-size="7.4" textLength="25.4" lengthAdjust="spacingAndGlyphs">+ CMV</text>
<path d="M467.7 166.8L470.2 169.2L467.7 171.6L465.2 169.2Z" fill="#22aa22"/>
<rect x="470" y="167" width="6.6" height="4.2" fill="#c4c4c4" />
<text x="479.8" y="171.6" font-size="7.4" textLength="29.2" lengthAdjust="spacingAndGlyphs">Control</text>
<circle cx="467.7" cy="179.8" r="2.2" fill="#1818d8"/>
<text x="479.8" y="182" font-size="7.4" textLength="23.4" lengthAdjust="spacingAndGlyphs">- CMV</text>
<rect x="466" y="190.8" width="3.7" height="15.8" fill="#c8a2cf" />
<text x="497.1" y="194" font-size="6.6" text-anchor="middle" textLength="34.5" lengthAdjust="spacingAndGlyphs">Mean Day</text>
<text x="496.7" y="202.4" font-size="6.6" text-anchor="middle" textLength="16" lengthAdjust="spacingAndGlyphs">CMV</text>
<text x="497.2" y="210.8" font-size="6.6" text-anchor="middle" textLength="42.3" lengthAdjust="spacingAndGlyphs">Reactivation</text>
<text x="4" y="197.3" font-size="16" class="pl" textLength="9.6" lengthAdjust="spacingAndGlyphs">B</text>
<text x="108.3" y="208.3" font-size="10.5" textLength="62.5" lengthAdjust="spacingAndGlyphs">CD8+ Naive</text>
<text x="11.3" y="256.3" font-size="11" text-anchor="middle" textLength="85" lengthAdjust="spacingAndGlyphs" transform="rotate(-90 11.3 256.3)">% of CD8+ Cells</text>
<rect x="33.7" y="261.5" width="210.7" height="6.6" fill="#b3b3b3" />
<rect x="53.8" y="219.2" width="6.4" height="75.8" fill="#c9a3d0" />
<line x1="31.1" y1="294.8" x2="33.7" y2="294.8" stroke="#000" stroke-width="1.2" />
<text x="30.1" y="298.1" font-size="9.3" text-anchor="end">0</text>
<line x1="31.1" y1="279.6" x2="33.7" y2="279.6" stroke="#000" stroke-width="1.2" />
<text x="30.1" y="283" font-size="9.3" text-anchor="end">20</text>
<line x1="31.1" y1="264.4" x2="33.7" y2="264.4" stroke="#000" stroke-width="1.2" />
<text x="30.1" y="267.8" font-size="9.3" text-anchor="end">40</text>
<line x1="31.1" y1="249.3" x2="33.7" y2="249.3" stroke="#000" stroke-width="1.2" />
<text x="30.1" y="252.6" font-size="9.3" text-anchor="end">60</text>
<line x1="31.1" y1="234.1" x2="33.7" y2="234.1" stroke="#000" stroke-width="1.2" />
<text x="30.1" y="237.4" font-size="9.3" text-anchor="end">80</text>
<line x1="31.1" y1="218.9" x2="33.7" y2="218.9" stroke="#000" stroke-width="1.2" />
<text x="30.1" y="222.2" font-size="9.3" text-anchor="end">100</text>
<line x1="34.5" y1="295" x2="34.5" y2="297.5" stroke="#000" stroke-width="1.2" />
<text x="34.5" y="307.3" font-size="9.5" text-anchor="middle">-20</text>
<line x1="60.8" y1="295" x2="60.8" y2="297.5" stroke="#000" stroke-width="1.2" />
<text x="60.8" y="307.3" font-size="9.5" text-anchor="middle">30</text>
<line x1="87" y1="295" x2="87" y2="297.5" stroke="#000" stroke-width="1.2" />
<text x="87" y="307.3" font-size="9.5" text-anchor="middle">80</text>
<line x1="113.2" y1="295" x2="113.2" y2="297.5" stroke="#000" stroke-width="1.2" />
<text x="113.2" y="307.3" font-size="9.5" text-anchor="middle">130</text>
<line x1="139.5" y1="295" x2="139.5" y2="297.5" stroke="#000" stroke-width="1.2" />
<text x="139.5" y="307.3" font-size="9.5" text-anchor="middle">180</text>
<line x1="165.8" y1="295" x2="165.8" y2="297.5" stroke="#000" stroke-width="1.2" />
<text x="165.8" y="307.3" font-size="9.5" text-anchor="middle">230</text>
<line x1="192" y1="295" x2="192" y2="297.5" stroke="#000" stroke-width="1.2" />
<text x="192" y="307.3" font-size="9.5" text-anchor="middle">280</text>
<line x1="218.2" y1="295" x2="218.2" y2="297.5" stroke="#000" stroke-width="1.2" />
<text x="218.2" y="307.3" font-size="9.5" text-anchor="middle">330</text>
<line x1="244.5" y1="295" x2="244.5" y2="297.5" stroke="#000" stroke-width="1.2" />
<text x="244.5" y="307.3" font-size="9.5" text-anchor="middle">380</text>
<line x1="33.7" y1="218.6" x2="33.7" y2="295.6" stroke="#000" stroke-width="1.4" />
<line x1="33.2" y1="295" x2="244.8" y2="295" stroke="#000" stroke-width="1.4" />
<text x="140" y="322.3" font-size="10.5" text-anchor="middle" textLength="105" lengthAdjust="spacingAndGlyphs">Days post-transplant</text>
<polyline points="41.3,278 43.7,272.7 47,266.3 51,272.7 53.8,274.6 56.3,276 59,277 66,282.7 76,285.6 97.1,287.5 139.4,287.5 237,290.7" fill="none" stroke="#dc2a30" stroke-width="1.7" stroke-linejoin="round" />
<polyline points="41.3,276 43.7,265.4 46.7,253.5 51,263 55.2,257.7 59,272 66.3,265.4 76,270.2 97.1,260.6 139.4,263.8 237,255.7" fill="none" stroke="#1f1fb4" stroke-width="1.7" stroke-linejoin="round" />
<line x1="41.3" y1="274" x2="41.3" y2="282" stroke="#111" stroke-width="1.1" />
<line x1="38.9" y1="274" x2="43.7" y2="274" stroke="#111" stroke-width="1.3" />
<line x1="38.9" y1="282" x2="43.7" y2="282" stroke="#111" stroke-width="1.3" />
<line x1="43.7" y1="268.7" x2="43.7" y2="276.7" stroke="#111" stroke-width="1.1" />
<line x1="41.3" y1="268.7" x2="46.1" y2="268.7" stroke="#111" stroke-width="1.3" />
<line x1="41.3" y1="276.7" x2="46.1" y2="276.7" stroke="#111" stroke-width="1.3" />
<line x1="47" y1="262.3" x2="47" y2="270.3" stroke="#111" stroke-width="1.1" />
<line x1="44.6" y1="262.3" x2="49.4" y2="262.3" stroke="#111" stroke-width="1.3" />
<line x1="44.6" y1="270.3" x2="49.4" y2="270.3" stroke="#111" stroke-width="1.3" />
<line x1="51" y1="269.7" x2="51" y2="275.7" stroke="#111" stroke-width="1.1" />
<line x1="48.6" y1="269.7" x2="53.4" y2="269.7" stroke="#111" stroke-width="1.3" />
<line x1="48.6" y1="275.7" x2="53.4" y2="275.7" stroke="#111" stroke-width="1.3" />
<line x1="53.8" y1="271.6" x2="53.8" y2="277.6" stroke="#111" stroke-width="1.1" />
<line x1="51.4" y1="271.6" x2="56.2" y2="271.6" stroke="#111" stroke-width="1.3" />
<line x1="51.4" y1="277.6" x2="56.2" y2="277.6" stroke="#111" stroke-width="1.3" />
<line x1="56.3" y1="273" x2="56.3" y2="279" stroke="#111" stroke-width="1.1" />
<line x1="53.9" y1="273" x2="58.7" y2="273" stroke="#111" stroke-width="1.3" />
<line x1="53.9" y1="279" x2="58.7" y2="279" stroke="#111" stroke-width="1.3" />
<line x1="59" y1="273.5" x2="59" y2="280.5" stroke="#111" stroke-width="1.1" />
<line x1="56.6" y1="273.5" x2="61.4" y2="273.5" stroke="#111" stroke-width="1.3" />
<line x1="56.6" y1="280.5" x2="61.4" y2="280.5" stroke="#111" stroke-width="1.3" />
<line x1="66" y1="279.2" x2="66" y2="286.2" stroke="#111" stroke-width="1.1" />
<line x1="63.6" y1="279.2" x2="68.4" y2="279.2" stroke="#111" stroke-width="1.3" />
<line x1="63.6" y1="286.2" x2="68.4" y2="286.2" stroke="#111" stroke-width="1.3" />
<line x1="76" y1="281.9" x2="76" y2="289.3" stroke="#111" stroke-width="1.1" />
<line x1="73.6" y1="281.9" x2="78.4" y2="281.9" stroke="#111" stroke-width="1.3" />
<line x1="73.6" y1="289.3" x2="78.4" y2="289.3" stroke="#111" stroke-width="1.3" />
<line x1="97.1" y1="283" x2="97.1" y2="292" stroke="#111" stroke-width="1.1" />
<line x1="94.7" y1="283" x2="99.5" y2="283" stroke="#111" stroke-width="1.3" />
<line x1="94.7" y1="292" x2="99.5" y2="292" stroke="#111" stroke-width="1.3" />
<line x1="139.4" y1="284" x2="139.4" y2="291" stroke="#111" stroke-width="1.1" />
<line x1="137" y1="284" x2="141.8" y2="284" stroke="#111" stroke-width="1.3" />
<line x1="137" y1="291" x2="141.8" y2="291" stroke="#111" stroke-width="1.3" />
<line x1="237" y1="287.7" x2="237" y2="293.7" stroke="#111" stroke-width="1.1" />
<line x1="234.6" y1="287.7" x2="239.4" y2="287.7" stroke="#111" stroke-width="1.3" />
<line x1="234.6" y1="293.7" x2="239.4" y2="293.7" stroke="#111" stroke-width="1.3" />
<line x1="41.3" y1="271" x2="41.3" y2="281" stroke="#111" stroke-width="1.1" />
<line x1="38.9" y1="271" x2="43.7" y2="271" stroke="#111" stroke-width="1.3" />
<line x1="38.9" y1="281" x2="43.7" y2="281" stroke="#111" stroke-width="1.3" />
<line x1="43.7" y1="260.4" x2="43.7" y2="270.4" stroke="#111" stroke-width="1.1" />
<line x1="41.3" y1="260.4" x2="46.1" y2="260.4" stroke="#111" stroke-width="1.3" />
<line x1="41.3" y1="270.4" x2="46.1" y2="270.4" stroke="#111" stroke-width="1.3" />
<line x1="46.7" y1="245.5" x2="46.7" y2="261.5" stroke="#111" stroke-width="1.1" />
<line x1="44.3" y1="245.5" x2="49.1" y2="245.5" stroke="#111" stroke-width="1.3" />
<line x1="44.3" y1="261.5" x2="49.1" y2="261.5" stroke="#111" stroke-width="1.3" />
<line x1="51" y1="257" x2="51" y2="269" stroke="#111" stroke-width="1.1" />
<line x1="48.6" y1="257" x2="53.4" y2="257" stroke="#111" stroke-width="1.3" />
<line x1="48.6" y1="269" x2="53.4" y2="269" stroke="#111" stroke-width="1.3" />
<line x1="55.2" y1="250.7" x2="55.2" y2="264.7" stroke="#111" stroke-width="1.1" />
<line x1="52.8" y1="250.7" x2="57.6" y2="250.7" stroke="#111" stroke-width="1.3" />
<line x1="52.8" y1="264.7" x2="57.6" y2="264.7" stroke="#111" stroke-width="1.3" />
<line x1="59" y1="264" x2="59" y2="280" stroke="#111" stroke-width="1.1" />
<line x1="56.6" y1="264" x2="61.4" y2="264" stroke="#111" stroke-width="1.3" />
<line x1="56.6" y1="280" x2="61.4" y2="280" stroke="#111" stroke-width="1.3" />
<line x1="66.3" y1="256.7" x2="66.3" y2="274.1" stroke="#111" stroke-width="1.1" />
<line x1="63.9" y1="256.7" x2="68.7" y2="256.7" stroke="#111" stroke-width="1.3" />
<line x1="63.9" y1="274.1" x2="68.7" y2="274.1" stroke="#111" stroke-width="1.3" />
<line x1="76" y1="264.2" x2="76" y2="276.2" stroke="#111" stroke-width="1.1" />
<line x1="73.6" y1="264.2" x2="78.4" y2="264.2" stroke="#111" stroke-width="1.3" />
<line x1="73.6" y1="276.2" x2="78.4" y2="276.2" stroke="#111" stroke-width="1.3" />
<line x1="97.1" y1="254.3" x2="97.1" y2="266.9" stroke="#111" stroke-width="1.1" />
<line x1="94.7" y1="254.3" x2="99.5" y2="254.3" stroke="#111" stroke-width="1.3" />
<line x1="94.7" y1="266.9" x2="99.5" y2="266.9" stroke="#111" stroke-width="1.3" />
<line x1="139.4" y1="257.6" x2="139.4" y2="270" stroke="#111" stroke-width="1.1" />
<line x1="137" y1="257.6" x2="141.8" y2="257.6" stroke="#111" stroke-width="1.3" />
<line x1="137" y1="270" x2="141.8" y2="270" stroke="#111" stroke-width="1.3" />
<line x1="237" y1="249.9" x2="237" y2="261.5" stroke="#111" stroke-width="1.1" />
<line x1="234.6" y1="249.9" x2="239.4" y2="249.9" stroke="#111" stroke-width="1.3" />
<line x1="234.6" y1="261.5" x2="239.4" y2="261.5" stroke="#111" stroke-width="1.3" />
<rect x="39.1" y="275.8" width="4.4" height="4.4" fill="#ec1c24" rx="1.2"/>
<rect x="41.5" y="270.5" width="4.4" height="4.4" fill="#ec1c24" rx="1.2"/>
<rect x="44.8" y="264.1" width="4.4" height="4.4" fill="#ec1c24" rx="1.2"/>
<rect x="48.8" y="270.5" width="4.4" height="4.4" fill="#ec1c24" rx="1.2"/>
<rect x="51.6" y="272.4" width="4.4" height="4.4" fill="#ec1c24" rx="1.2"/>
<rect x="54.1" y="273.8" width="4.4" height="4.4" fill="#ec1c24" rx="1.2"/>
<rect x="56.8" y="274.8" width="4.4" height="4.4" fill="#ec1c24" rx="1.2"/>
<rect x="63.8" y="280.5" width="4.4" height="4.4" fill="#ec1c24" rx="1.2"/>
<rect x="73.8" y="283.4" width="4.4" height="4.4" fill="#ec1c24" rx="1.2"/>
<rect x="94.9" y="285.3" width="4.4" height="4.4" fill="#ec1c24" rx="1.2"/>
<rect x="137.2" y="285.3" width="4.4" height="4.4" fill="#ec1c24" rx="1.2"/>
<rect x="234.8" y="288.5" width="4.4" height="4.4" fill="#ec1c24" rx="1.2"/>
<circle cx="41.3" cy="276" r="2.4" fill="#1e1ed6"/>
<circle cx="43.7" cy="265.4" r="2.4" fill="#1e1ed6"/>
<circle cx="46.7" cy="253.5" r="2.4" fill="#1e1ed6"/>
<circle cx="51" cy="263" r="2.4" fill="#1e1ed6"/>
<circle cx="55.2" cy="257.7" r="2.4" fill="#1e1ed6"/>
<circle cx="59" cy="272" r="2.4" fill="#1e1ed6"/>
<circle cx="66.3" cy="265.4" r="2.4" fill="#1e1ed6"/>
<circle cx="76" cy="270.2" r="2.4" fill="#1e1ed6"/>
<circle cx="97.1" cy="260.6" r="2.4" fill="#1e1ed6"/>
<circle cx="139.4" cy="263.8" r="2.4" fill="#1e1ed6"/>
<circle cx="237" cy="255.7" r="2.4" fill="#1e1ed6"/>
<rect x="33.4" y="262.6" width="4.6" height="4.8" fill="#7fd07f" stroke="#2a9a2a" stroke-width="0.9" />
<text x="97.1" y="251.5" font-size="10" text-anchor="middle">*</text>
<text x="234.4" y="248.6" font-size="10" text-anchor="middle">*</text>
<text x="242.5" y="248.6" font-size="10" text-anchor="middle">*</text>
<text x="366.4" y="210.8" font-size="10.5" textLength="52" lengthAdjust="spacingAndGlyphs">CD8+ TEM</text>
<text x="273.5" y="255.4" font-size="10.5" text-anchor="middle" textLength="72.5" lengthAdjust="spacingAndGlyphs" transform="rotate(-90 273.5 255.4)">% of CD8+ Cells</text>
<rect x="296" y="268.9" width="193.3" height="6.9" fill="#b3b3b3" />
<rect x="314.9" y="222.3" width="5.4" height="73.7" fill="#c9a3d0" />
<line x1="293.4" y1="296" x2="296" y2="296" stroke="#000" stroke-width="1.2" />
<text x="292.4" y="299.2" font-size="9.0" text-anchor="end">0</text>
<line x1="293.4" y1="281" x2="296" y2="281" stroke="#000" stroke-width="1.2" />
<text x="292.4" y="284.3" font-size="9.0" text-anchor="end">20</text>
<line x1="293.4" y1="266.1" x2="296" y2="266.1" stroke="#000" stroke-width="1.2" />
<text x="292.4" y="269.3" font-size="9.0" text-anchor="end">40</text>
<line x1="293.4" y1="251.1" x2="296" y2="251.1" stroke="#000" stroke-width="1.2" />
<text x="292.4" y="254.4" font-size="9.0" text-anchor="end">60</text>
<line x1="293.4" y1="236.2" x2="296" y2="236.2" stroke="#000" stroke-width="1.2" />
<text x="292.4" y="239.4" font-size="9.0" text-anchor="end">80</text>
<line x1="293.4" y1="221.2" x2="296" y2="221.2" stroke="#000" stroke-width="1.2" />
<text x="292.4" y="224.4" font-size="9.0" text-anchor="end">100</text>
<line x1="296.3" y1="296" x2="296.3" y2="298.5" stroke="#000" stroke-width="1.2" />
<text x="296.3" y="307.3" font-size="9.0" text-anchor="middle">-20</text>
<line x1="320.3" y1="296" x2="320.3" y2="298.5" stroke="#000" stroke-width="1.2" />
<text x="320.3" y="307.3" font-size="9.0" text-anchor="middle">30</text>
<line x1="344.2" y1="296" x2="344.2" y2="298.5" stroke="#000" stroke-width="1.2" />
<text x="344.2" y="307.3" font-size="9.0" text-anchor="middle">80</text>
<line x1="368.2" y1="296" x2="368.2" y2="298.5" stroke="#000" stroke-width="1.2" />
<text x="368.2" y="307.3" font-size="9.0" text-anchor="middle">130</text>
<line x1="392.1" y1="296" x2="392.1" y2="298.5" stroke="#000" stroke-width="1.2" />
<text x="392.1" y="307.3" font-size="9.0" text-anchor="middle">180</text>
<line x1="416.1" y1="296" x2="416.1" y2="298.5" stroke="#000" stroke-width="1.2" />
<text x="416.1" y="307.3" font-size="9.0" text-anchor="middle">230</text>
<line x1="440" y1="296" x2="440" y2="298.5" stroke="#000" stroke-width="1.2" />
<text x="440" y="307.3" font-size="9.0" text-anchor="middle">280</text>
<line x1="464" y1="296" x2="464" y2="298.5" stroke="#000" stroke-width="1.2" />
<text x="464" y="307.3" font-size="9.0" text-anchor="middle">330</text>
<line x1="487.9" y1="296" x2="487.9" y2="298.5" stroke="#000" stroke-width="1.2" />
<text x="487.9" y="307.3" font-size="9.0" text-anchor="middle">380</text>
<line x1="296" y1="220.6" x2="296" y2="296.6" stroke="#000" stroke-width="1.4" />
<line x1="295.5" y1="296" x2="488.8" y2="296" stroke="#000" stroke-width="1.4" />
<text x="392.6" y="322.2" font-size="9.7" text-anchor="middle" textLength="95.6" lengthAdjust="spacingAndGlyphs">Days post-transplant</text>
<polyline points="303.5,262.6 305.4,282.3 308,283.8 312.3,275.4 315.4,272.3 318.8,253.8 326.2,268.2 334.6,259.5 353.8,270.3 392.9,269.5 480.9,278" fill="none" stroke="#1f1fb4" stroke-width="1.7" stroke-linejoin="round" />
<polyline points="303.5,268.5 307.4,280 312.3,264.6 315.4,258.5 318.8,251.8 326.2,255.8 334.6,245 353.8,243.5 392.9,245.8 480.9,245" fill="none" stroke="#dc2a30" stroke-width="1.7" stroke-linejoin="round" />
<line x1="303.5" y1="263.5" x2="303.5" y2="273.5" stroke="#111" stroke-width="1.1" />
<line x1="301.1" y1="263.5" x2="305.9" y2="263.5" stroke="#111" stroke-width="1.3" />
<line x1="301.1" y1="273.5" x2="305.9" y2="273.5" stroke="#111" stroke-width="1.3" />
<line x1="307.4" y1="276" x2="307.4" y2="284" stroke="#111" stroke-width="1.1" />
<line x1="305" y1="276" x2="309.8" y2="276" stroke="#111" stroke-width="1.3" />
<line x1="305" y1="284" x2="309.8" y2="284" stroke="#111" stroke-width="1.3" />
<line x1="312.3" y1="259.6" x2="312.3" y2="269.6" stroke="#111" stroke-width="1.1" />
<line x1="309.9" y1="259.6" x2="314.7" y2="259.6" stroke="#111" stroke-width="1.3" />
<line x1="309.9" y1="269.6" x2="314.7" y2="269.6" stroke="#111" stroke-width="1.3" />
<line x1="315.4" y1="252.5" x2="315.4" y2="264.5" stroke="#111" stroke-width="1.1" />
<line x1="313" y1="252.5" x2="317.8" y2="252.5" stroke="#111" stroke-width="1.3" />
<line x1="313" y1="264.5" x2="317.8" y2="264.5" stroke="#111" stroke-width="1.3" />
<line x1="318.8" y1="245.8" x2="318.8" y2="257.8" stroke="#111" stroke-width="1.1" />
<line x1="316.4" y1="245.8" x2="321.2" y2="245.8" stroke="#111" stroke-width="1.3" />
<line x1="316.4" y1="257.8" x2="321.2" y2="257.8" stroke="#111" stroke-width="1.3" />
<line x1="326.2" y1="247.8" x2="326.2" y2="263.8" stroke="#111" stroke-width="1.1" />
<line x1="323.8" y1="247.8" x2="328.6" y2="247.8" stroke="#111" stroke-width="1.3" />
<line x1="323.8" y1="263.8" x2="328.6" y2="263.8" stroke="#111" stroke-width="1.3" />
<line x1="334.6" y1="239" x2="334.6" y2="251" stroke="#111" stroke-width="1.1" />
<line x1="332.2" y1="239" x2="337" y2="239" stroke="#111" stroke-width="1.3" />
<line x1="332.2" y1="251" x2="337" y2="251" stroke="#111" stroke-width="1.3" />
<line x1="353.8" y1="236.5" x2="353.8" y2="250.5" stroke="#111" stroke-width="1.1" />
<line x1="351.4" y1="236.5" x2="356.2" y2="236.5" stroke="#111" stroke-width="1.3" />
<line x1="351.4" y1="250.5" x2="356.2" y2="250.5" stroke="#111" stroke-width="1.3" />
<line x1="392.9" y1="240.2" x2="392.9" y2="251.4" stroke="#111" stroke-width="1.1" />
<line x1="390.5" y1="240.2" x2="395.3" y2="240.2" stroke="#111" stroke-width="1.3" />
<line x1="390.5" y1="251.4" x2="395.3" y2="251.4" stroke="#111" stroke-width="1.3" />
<line x1="480.9" y1="239.5" x2="480.9" y2="250.5" stroke="#111" stroke-width="1.1" />
<line x1="478.5" y1="239.5" x2="483.3" y2="239.5" stroke="#111" stroke-width="1.3" />
<line x1="478.5" y1="250.5" x2="483.3" y2="250.5" stroke="#111" stroke-width="1.3" />
<line x1="303.5" y1="257.6" x2="303.5" y2="267.6" stroke="#111" stroke-width="1.1" />
<line x1="301.1" y1="257.6" x2="305.9" y2="257.6" stroke="#111" stroke-width="1.3" />
<line x1="301.1" y1="267.6" x2="305.9" y2="267.6" stroke="#111" stroke-width="1.3" />
<line x1="305.4" y1="278.3" x2="305.4" y2="286.3" stroke="#111" stroke-width="1.1" />
<line x1="303" y1="278.3" x2="307.8" y2="278.3" stroke="#111" stroke-width="1.3" />
<line x1="303" y1="286.3" x2="307.8" y2="286.3" stroke="#111" stroke-width="1.3" />
<line x1="308" y1="280.8" x2="308" y2="286.8" stroke="#111" stroke-width="1.1" />
<line x1="305.6" y1="280.8" x2="310.4" y2="280.8" stroke="#111" stroke-width="1.3" />
<line x1="305.6" y1="286.8" x2="310.4" y2="286.8" stroke="#111" stroke-width="1.3" />
<line x1="312.3" y1="271.4" x2="312.3" y2="279.4" stroke="#111" stroke-width="1.1" />
<line x1="309.9" y1="271.4" x2="314.7" y2="271.4" stroke="#111" stroke-width="1.3" />
<line x1="309.9" y1="279.4" x2="314.7" y2="279.4" stroke="#111" stroke-width="1.3" />
<line x1="315.4" y1="267.3" x2="315.4" y2="277.3" stroke="#111" stroke-width="1.1" />
<line x1="313" y1="267.3" x2="317.8" y2="267.3" stroke="#111" stroke-width="1.3" />
<line x1="313" y1="277.3" x2="317.8" y2="277.3" stroke="#111" stroke-width="1.3" />
<line x1="318.8" y1="247.8" x2="318.8" y2="259.8" stroke="#111" stroke-width="1.1" />
<line x1="316.4" y1="247.8" x2="321.2" y2="247.8" stroke="#111" stroke-width="1.3" />
<line x1="316.4" y1="259.8" x2="321.2" y2="259.8" stroke="#111" stroke-width="1.3" />
<line x1="326.2" y1="260.9" x2="326.2" y2="275.5" stroke="#111" stroke-width="1.1" />
<line x1="323.8" y1="260.9" x2="328.6" y2="260.9" stroke="#111" stroke-width="1.3" />
<line x1="323.8" y1="275.5" x2="328.6" y2="275.5" stroke="#111" stroke-width="1.3" />
<line x1="334.6" y1="252.1" x2="334.6" y2="266.9" stroke="#111" stroke-width="1.1" />
<line x1="332.2" y1="252.1" x2="337" y2="252.1" stroke="#111" stroke-width="1.3" />
<line x1="332.2" y1="266.9" x2="337" y2="266.9" stroke="#111" stroke-width="1.3" />
<line x1="353.8" y1="264.1" x2="353.8" y2="276.5" stroke="#111" stroke-width="1.1" />
<line x1="351.4" y1="264.1" x2="356.2" y2="264.1" stroke="#111" stroke-width="1.3" />
<line x1="351.4" y1="276.5" x2="356.2" y2="276.5" stroke="#111" stroke-width="1.3" />
<line x1="392.9" y1="263" x2="392.9" y2="276" stroke="#111" stroke-width="1.1" />
<line x1="390.5" y1="263" x2="395.3" y2="263" stroke="#111" stroke-width="1.3" />
<line x1="390.5" y1="276" x2="395.3" y2="276" stroke="#111" stroke-width="1.3" />
<line x1="480.9" y1="272.2" x2="480.9" y2="283.8" stroke="#111" stroke-width="1.1" />
<line x1="478.5" y1="272.2" x2="483.3" y2="272.2" stroke="#111" stroke-width="1.3" />
<line x1="478.5" y1="283.8" x2="483.3" y2="283.8" stroke="#111" stroke-width="1.3" />
<circle cx="303.5" cy="262.6" r="2.4" fill="#1e1ed6"/>
<circle cx="305.4" cy="282.3" r="2.4" fill="#1e1ed6"/>
<circle cx="308" cy="283.8" r="2.4" fill="#1e1ed6"/>
<circle cx="312.3" cy="275.4" r="2.4" fill="#1e1ed6"/>
<circle cx="315.4" cy="272.3" r="2.4" fill="#1e1ed6"/>
<circle cx="318.8" cy="253.8" r="2.4" fill="#1e1ed6"/>
<circle cx="326.2" cy="268.2" r="2.4" fill="#1e1ed6"/>
<circle cx="334.6" cy="259.5" r="2.4" fill="#1e1ed6"/>
<circle cx="353.8" cy="270.3" r="2.4" fill="#1e1ed6"/>
<circle cx="392.9" cy="269.5" r="2.4" fill="#1e1ed6"/>
<circle cx="480.9" cy="278" r="2.4" fill="#1e1ed6"/>
<rect x="301.3" y="266.3" width="4.4" height="4.4" fill="#ec1c24" rx="1.2"/>
<rect x="305.2" y="277.8" width="4.4" height="4.4" fill="#ec1c24" rx="1.2"/>
<rect x="310.1" y="262.4" width="4.4" height="4.4" fill="#ec1c24" rx="1.2"/>
<rect x="313.2" y="256.3" width="4.4" height="4.4" fill="#ec1c24" rx="1.2"/>
<rect x="316.6" y="249.6" width="4.4" height="4.4" fill="#ec1c24" rx="1.2"/>
<rect x="324" y="253.6" width="4.4" height="4.4" fill="#ec1c24" rx="1.2"/>
<rect x="332.4" y="242.8" width="4.4" height="4.4" fill="#ec1c24" rx="1.2"/>
<rect x="351.6" y="241.3" width="4.4" height="4.4" fill="#ec1c24" rx="1.2"/>
<rect x="390.7" y="243.6" width="4.4" height="4.4" fill="#ec1c24" rx="1.2"/>
<rect x="478.7" y="242.8" width="4.4" height="4.4" fill="#ec1c24" rx="1.2"/>
<rect x="296.6" y="269.8" width="4.4" height="4.4" fill="#8fd88f" stroke="#2a9a2a" stroke-width="0.9" />
<text x="353.8" y="237.3" font-size="10" text-anchor="middle">*</text>
<text x="392.9" y="240.2" font-size="10" text-anchor="middle">*</text>
<text x="480.9" y="240.2" font-size="10" text-anchor="middle">*</text>
<text x="3.8" y="348.2" font-size="16" class="pl" textLength="10.1" lengthAdjust="spacingAndGlyphs">C</text>
<text x="114" y="360.2" font-size="10.5" textLength="65.3" lengthAdjust="spacingAndGlyphs">CD8+ Naive</text>
<text x="10.2" y="401.8" font-size="11" text-anchor="middle" textLength="38.5" lengthAdjust="spacingAndGlyphs" transform="rotate(-90 10.2 401.8)">Cells/µl</text>
<rect x="41.7" y="398.8" width="214.3" height="8.2" fill="#b3b3b3" />
<rect x="63" y="367.2" width="6.4" height="72.4" fill="#c9a3d0" />
<line x1="41" y1="371" x2="41" y2="390.4" stroke="#000" stroke-width="1.4" />
<line x1="38.5" y1="371.6" x2="41" y2="371.6" stroke="#000" stroke-width="1.2" />
<text x="37.9" y="374.9" font-size="9.2" text-anchor="end">2500</text>
<line x1="38.5" y1="390" x2="41" y2="390" stroke="#000" stroke-width="1.2" />
<text x="37.9" y="393.3" font-size="9.2" text-anchor="end">500</text>
<line x1="41.7" y1="395.8" x2="41.7" y2="440.2" stroke="#000" stroke-width="1.4" />
<line x1="39.2" y1="439.6" x2="41.7" y2="439.6" stroke="#000" stroke-width="1.2" />
<text x="38.1" y="442.9" font-size="9.2" text-anchor="end">0</text>
<line x1="39.2" y1="426.7" x2="41.7" y2="426.7" stroke="#000" stroke-width="1.2" />
<text x="38.1" y="430" font-size="9.2" text-anchor="end">100</text>
<line x1="39.2" y1="413.9" x2="41.7" y2="413.9" stroke="#000" stroke-width="1.2" />
<text x="38.1" y="417.2" font-size="9.2" text-anchor="end">200</text>
<line x1="39.2" y1="401" x2="41.7" y2="401" stroke="#000" stroke-width="1.2" />
<text x="38.1" y="404.3" font-size="9.2" text-anchor="end">300</text>
<line x1="41.2" y1="439.6" x2="256" y2="439.6" stroke="#000" stroke-width="1.4" />
<line x1="42" y1="439.6" x2="42" y2="442.1" stroke="#000" stroke-width="1.2" />
<text x="42" y="452.3" font-size="9.8" text-anchor="middle">-20</text>
<line x1="68.7" y1="439.6" x2="68.7" y2="442.1" stroke="#000" stroke-width="1.2" />
<text x="68.7" y="452.3" font-size="9.8" text-anchor="middle">30</text>
<line x1="95.4" y1="439.6" x2="95.4" y2="442.1" stroke="#000" stroke-width="1.2" />
<text x="95.4" y="452.3" font-size="9.8" text-anchor="middle">80</text>
<line x1="122.1" y1="439.6" x2="122.1" y2="442.1" stroke="#000" stroke-width="1.2" />
<text x="122.1" y="452.3" font-size="9.8" text-anchor="middle">130</text>
<line x1="148.8" y1="439.6" x2="148.8" y2="442.1" stroke="#000" stroke-width="1.2" />
<text x="148.8" y="452.3" font-size="9.8" text-anchor="middle">180</text>
<line x1="175.5" y1="439.6" x2="175.5" y2="442.1" stroke="#000" stroke-width="1.2" />
<text x="175.5" y="452.3" font-size="9.8" text-anchor="middle">230</text>
<line x1="202.2" y1="439.6" x2="202.2" y2="442.1" stroke="#000" stroke-width="1.2" />
<text x="202.2" y="452.3" font-size="9.8" text-anchor="middle">280</text>
<line x1="228.9" y1="439.6" x2="228.9" y2="442.1" stroke="#000" stroke-width="1.2" />
<text x="228.9" y="452.3" font-size="9.8" text-anchor="middle">330</text>
<line x1="255.6" y1="439.6" x2="255.6" y2="442.1" stroke="#000" stroke-width="1.2" />
<text x="255.6" y="452.3" font-size="9.8" text-anchor="middle">380</text>
<text x="149.2" y="468.6" font-size="10" text-anchor="middle" textLength="106" lengthAdjust="spacingAndGlyphs">Days post-transplant</text>
<polyline points="49.5,418.8 53,437 59.5,437.5 64.2,435.5 67.5,435.5 75,434 84.5,434.5 105.5,431 148.5,436.1 247.1,435" fill="none" stroke="#dc2a30" stroke-width="1.7" stroke-linejoin="round" />
<polyline points="49.5,432.5 53,437.5 55.5,438.7 59.5,437.5 64.2,433.8 67.5,432 75,433.2 84.5,433.8 105.5,429.5 148.5,429.7 247.1,420" fill="none" stroke="#1f1fb4" stroke-width="1.7" stroke-linejoin="round" />
<line x1="49.5" y1="406.8" x2="49.5" y2="439.6" stroke="#111" stroke-width="1.1" />
<line x1="47.1" y1="406.8" x2="51.9" y2="406.8" stroke="#111" stroke-width="1.3" />
<line x1="47.1" y1="439.6" x2="51.9" y2="439.6" stroke="#111" stroke-width="1.3" />
<line x1="53" y1="435" x2="53" y2="439" stroke="#111" stroke-width="1.1" />
<line x1="50.6" y1="435" x2="55.4" y2="435" stroke="#111" stroke-width="1.3" />
<line x1="50.6" y1="439" x2="55.4" y2="439" stroke="#111" stroke-width="1.3" />
<line x1="59.5" y1="435.5" x2="59.5" y2="439.5" stroke="#111" stroke-width="1.1" />
<line x1="57.1" y1="435.5" x2="61.9" y2="435.5" stroke="#111" stroke-width="1.3" />
<line x1="57.1" y1="439.5" x2="61.9" y2="439.5" stroke="#111" stroke-width="1.3" />
<line x1="64.2" y1="433.5" x2="64.2" y2="437.5" stroke="#111" stroke-width="1.1" />
<line x1="61.9" y1="433.5" x2="66.7" y2="433.5" stroke="#111" stroke-width="1.3" />
<line x1="61.9" y1="437.5" x2="66.7" y2="437.5" stroke="#111" stroke-width="1.3" />
<line x1="67.5" y1="432.5" x2="67.5" y2="438.5" stroke="#111" stroke-width="1.1" />
<line x1="65.1" y1="432.5" x2="69.9" y2="432.5" stroke="#111" stroke-width="1.3" />
<line x1="65.1" y1="438.5" x2="69.9" y2="438.5" stroke="#111" stroke-width="1.3" />
<line x1="75" y1="431" x2="75" y2="437" stroke="#111" stroke-width="1.1" />
<line x1="72.6" y1="431" x2="77.4" y2="431" stroke="#111" stroke-width="1.3" />
<line x1="72.6" y1="437" x2="77.4" y2="437" stroke="#111" stroke-width="1.3" />
<line x1="84.5" y1="432.5" x2="84.5" y2="436.5" stroke="#111" stroke-width="1.1" />
<line x1="82.1" y1="432.5" x2="86.9" y2="432.5" stroke="#111" stroke-width="1.3" />
<line x1="82.1" y1="436.5" x2="86.9" y2="436.5" stroke="#111" stroke-width="1.3" />
<line x1="105.5" y1="423" x2="105.5" y2="439" stroke="#111" stroke-width="1.1" />
<line x1="103.1" y1="423" x2="107.9" y2="423" stroke="#111" stroke-width="1.3" />
<line x1="103.1" y1="439" x2="107.9" y2="439" stroke="#111" stroke-width="1.3" />
<line x1="148.5" y1="434.1" x2="148.5" y2="438.1" stroke="#111" stroke-width="1.1" />
<line x1="146.1" y1="434.1" x2="150.9" y2="434.1" stroke="#111" stroke-width="1.3" />
<line x1="146.1" y1="438.1" x2="150.9" y2="438.1" stroke="#111" stroke-width="1.3" />
<line x1="247.1" y1="433" x2="247.1" y2="437" stroke="#111" stroke-width="1.1" />
<line x1="244.7" y1="433" x2="249.5" y2="433" stroke="#111" stroke-width="1.3" />
<line x1="244.7" y1="437" x2="249.5" y2="437" stroke="#111" stroke-width="1.3" />
<line x1="49.5" y1="429.5" x2="49.5" y2="435.5" stroke="#111" stroke-width="1.1" />
<line x1="47.1" y1="429.5" x2="51.9" y2="429.5" stroke="#111" stroke-width="1.3" />
<line x1="47.1" y1="435.5" x2="51.9" y2="435.5" stroke="#111" stroke-width="1.3" />
<line x1="53" y1="435.5" x2="53" y2="439.5" stroke="#111" stroke-width="1.1" />
<line x1="50.6" y1="435.5" x2="55.4" y2="435.5" stroke="#111" stroke-width="1.3" />
<line x1="50.6" y1="439.5" x2="55.4" y2="439.5" stroke="#111" stroke-width="1.3" />
<line x1="55.5" y1="437.2" x2="55.5" y2="440.2" stroke="#111" stroke-width="1.1" />
<line x1="53.1" y1="437.2" x2="57.9" y2="437.2" stroke="#111" stroke-width="1.3" />
<line x1="53.1" y1="440.2" x2="57.9" y2="440.2" stroke="#111" stroke-width="1.3" />
<line x1="59.5" y1="435.5" x2="59.5" y2="439.5" stroke="#111" stroke-width="1.1" />
<line x1="57.1" y1="435.5" x2="61.9" y2="435.5" stroke="#111" stroke-width="1.3" />
<line x1="57.1" y1="439.5" x2="61.9" y2="439.5" stroke="#111" stroke-width="1.3" />
<line x1="64.2" y1="430.8" x2="64.2" y2="436.8" stroke="#111" stroke-width="1.1" />
<line x1="61.9" y1="430.8" x2="66.7" y2="430.8" stroke="#111" stroke-width="1.3" />
<line x1="61.9" y1="436.8" x2="66.7" y2="436.8" stroke="#111" stroke-width="1.3" />
<line x1="67.5" y1="427.5" x2="67.5" y2="436.5" stroke="#111" stroke-width="1.1" />
<line x1="65.1" y1="427.5" x2="69.9" y2="427.5" stroke="#111" stroke-width="1.3" />
<line x1="65.1" y1="436.5" x2="69.9" y2="436.5" stroke="#111" stroke-width="1.3" />
<line x1="75" y1="430.2" x2="75" y2="436.2" stroke="#111" stroke-width="1.1" />
<line x1="72.6" y1="430.2" x2="77.4" y2="430.2" stroke="#111" stroke-width="1.3" />
<line x1="72.6" y1="436.2" x2="77.4" y2="436.2" stroke="#111" stroke-width="1.3" />
<line x1="84.5" y1="430.8" x2="84.5" y2="436.8" stroke="#111" stroke-width="1.1" />
<line x1="82.1" y1="430.8" x2="86.9" y2="430.8" stroke="#111" stroke-width="1.3" />
<line x1="82.1" y1="436.8" x2="86.9" y2="436.8" stroke="#111" stroke-width="1.3" />
<line x1="105.5" y1="423.5" x2="105.5" y2="435.5" stroke="#111" stroke-width="1.1" />
<line x1="103.1" y1="423.5" x2="107.9" y2="423.5" stroke="#111" stroke-width="1.3" />
<line x1="103.1" y1="435.5" x2="107.9" y2="435.5" stroke="#111" stroke-width="1.3" />
<line x1="148.5" y1="425.7" x2="148.5" y2="433.7" stroke="#111" stroke-width="1.1" />
<line x1="146.1" y1="425.7" x2="150.9" y2="425.7" stroke="#111" stroke-width="1.3" />
<line x1="146.1" y1="433.7" x2="150.9" y2="433.7" stroke="#111" stroke-width="1.3" />
<line x1="247.1" y1="415.5" x2="247.1" y2="424.5" stroke="#111" stroke-width="1.1" />
<line x1="244.7" y1="415.5" x2="249.5" y2="415.5" stroke="#111" stroke-width="1.3" />
<line x1="244.7" y1="424.5" x2="249.5" y2="424.5" stroke="#111" stroke-width="1.3" />
<rect x="47.5" y="416.7" width="4.1" height="4.1" fill="#ec1c24" rx="1.2"/>
<rect x="51" y="434.9" width="4.1" height="4.1" fill="#ec1c24" rx="1.2"/>
<rect x="57.5" y="435.4" width="4.1" height="4.1" fill="#ec1c24" rx="1.2"/>
<rect x="62.2" y="433.4" width="4.1" height="4.1" fill="#ec1c24" rx="1.2"/>
<rect x="65.5" y="433.4" width="4.1" height="4.1" fill="#ec1c24" rx="1.2"/>
<rect x="73" y="431.9" width="4.1" height="4.1" fill="#ec1c24" rx="1.2"/>
<rect x="82.5" y="432.4" width="4.1" height="4.1" fill="#ec1c24" rx="1.2"/>
<rect x="103.5" y="428.9" width="4.1" height="4.1" fill="#ec1c24" rx="1.2"/>
<rect x="146.4" y="434.1" width="4.1" height="4.1" fill="#ec1c24" rx="1.2"/>
<rect x="245" y="432.9" width="4.1" height="4.1" fill="#ec1c24" rx="1.2"/>
<circle cx="49.5" cy="432.5" r="2.1" fill="#1e1ed6"/>
<circle cx="53" cy="437.5" r="2.1" fill="#1e1ed6"/>
<circle cx="55.5" cy="438.7" r="2.1" fill="#1e1ed6"/>
<circle cx="59.5" cy="437.5" r="2.1" fill="#1e1ed6"/>
<circle cx="64.2" cy="433.8" r="2.1" fill="#1e1ed6"/>
<circle cx="67.5" cy="432" r="2.1" fill="#1e1ed6"/>
<circle cx="75" cy="433.2" r="2.1" fill="#1e1ed6"/>
<circle cx="84.5" cy="433.8" r="2.1" fill="#1e1ed6"/>
<circle cx="105.5" cy="429.5" r="2.1" fill="#1e1ed6"/>
<circle cx="148.5" cy="429.7" r="2.1" fill="#1e1ed6"/>
<circle cx="247.1" cy="420" r="2.1" fill="#1e1ed6"/>
<line x1="43.5" y1="397.1" x2="43.5" y2="408.3" stroke="#111" stroke-width="1.1" />
<line x1="41.1" y1="397.1" x2="45.9" y2="397.1" stroke="#111" stroke-width="1.3" />
<line x1="41.1" y1="408.3" x2="45.9" y2="408.3" stroke="#111" stroke-width="1.3" />
<rect x="41.8" y="401" width="3.6" height="3.6" fill="#8fd88f" stroke="#2a9a2a" stroke-width="0.8" />
<text x="247.7" y="414.3" font-size="10" text-anchor="middle">*</text>
<text x="381.3" y="353.4" font-size="10.5" textLength="53.9" lengthAdjust="spacingAndGlyphs">CD8+ TEM</text>
<text x="276.2" y="400.5" font-size="11" text-anchor="middle" textLength="37" lengthAdjust="spacingAndGlyphs" transform="rotate(-90 276.2 400.5)">Cells/µl</text>
<rect x="308" y="414" width="205.3" height="8.7" fill="#b3b3b3" />
<rect x="327.2" y="362.7" width="5.6" height="76.9" fill="#c9a3d0" />
<line x1="307.6" y1="366.4" x2="307.6" y2="440.2" stroke="#000" stroke-width="1.4" />
<line x1="305.1" y1="439.6" x2="307.6" y2="439.6" stroke="#000" stroke-width="1.2" />
<text x="304.6" y="442.8" font-size="8.8" text-anchor="end">0</text>
<line x1="305.1" y1="417.7" x2="307.6" y2="417.7" stroke="#000" stroke-width="1.2" />
<text x="304.6" y="420.9" font-size="8.8" text-anchor="end">250</text>
<line x1="305.1" y1="395.8" x2="307.6" y2="395.8" stroke="#000" stroke-width="1.2" />
<text x="304.6" y="399" font-size="8.8" text-anchor="end">500</text>
<line x1="305.1" y1="387.6" x2="307.6" y2="387.6" stroke="#000" stroke-width="1.2" />
<text x="304.6" y="390.8" font-size="8.8" text-anchor="end">1000</text>
<line x1="305.1" y1="367" x2="307.6" y2="367" stroke="#000" stroke-width="1.2" />
<text x="304.6" y="370.2" font-size="8.8" text-anchor="end">2500</text>
<line x1="307.1" y1="439.6" x2="511.6" y2="439.6" stroke="#000" stroke-width="1.4" />
<line x1="306.7" y1="439.6" x2="306.7" y2="442.1" stroke="#000" stroke-width="1.2" />
<text x="306.7" y="452.3" font-size="9.7" text-anchor="middle">-20</text>
<line x1="332.2" y1="439.6" x2="332.2" y2="442.1" stroke="#000" stroke-width="1.2" />
<text x="332.2" y="452.3" font-size="9.7" text-anchor="middle">30</text>
<line x1="357.7" y1="439.6" x2="357.7" y2="442.1" stroke="#000" stroke-width="1.2" />
<text x="357.7" y="452.3" font-size="9.7" text-anchor="middle">80</text>
<line x1="383.2" y1="439.6" x2="383.2" y2="442.1" stroke="#000" stroke-width="1.2" />
<text x="383.2" y="452.3" font-size="9.7" text-anchor="middle">130</text>
<line x1="408.6" y1="439.6" x2="408.6" y2="442.1" stroke="#000" stroke-width="1.2" />
<text x="408.6" y="452.3" font-size="9.7" text-anchor="middle">180</text>
<line x1="434.1" y1="439.6" x2="434.1" y2="442.1" stroke="#000" stroke-width="1.2" />
<text x="434.1" y="452.3" font-size="9.7" text-anchor="middle">230</text>
<line x1="459.6" y1="439.6" x2="459.6" y2="442.1" stroke="#000" stroke-width="1.2" />
<text x="459.6" y="452.3" font-size="9.7" text-anchor="middle">280</text>
<line x1="485.1" y1="439.6" x2="485.1" y2="442.1" stroke="#000" stroke-width="1.2" />
<text x="485.1" y="452.3" font-size="9.7" text-anchor="middle">330</text>
<line x1="510.6" y1="439.6" x2="510.6" y2="442.1" stroke="#000" stroke-width="1.2" />
<text x="510.6" y="452.3" font-size="9.7" text-anchor="middle">380</text>
<text x="409.3" y="466.3" font-size="10" text-anchor="middle" textLength="101" lengthAdjust="spacingAndGlyphs">Days post-transplant</text>
<polyline points="409.6,404.9 448.7,395.4" fill="none" stroke="#dc2a30" stroke-width="1.7" stroke-linejoin="round" />
<polyline points="483.7,387.9 503.9,383" fill="none" stroke="#dc2a30" stroke-width="1.7" stroke-linejoin="round" />
<polyline points="332.2,425 339.4,427.5 348.3,424.8 369,413 409.6,404.9" fill="none" stroke="#dc2a30" stroke-width="1.7" stroke-linejoin="round" />
<polyline points="315.2,429.6 317.9,439 320,439.3 322.5,439.2 325,438.5 327.3,437 332.2,429 339.4,437.7 348.3,430.2 369,427.5 409.6,425.6 503.9,428.3" fill="none" stroke="#1f1fb4" stroke-width="1.7" stroke-linejoin="round" />
<line x1="315.2" y1="423.4" x2="315.2" y2="429.4" stroke="#111" stroke-width="1.1" />
<line x1="312.8" y1="423.4" x2="317.6" y2="423.4" stroke="#111" stroke-width="1.3" />
<line x1="312.8" y1="429.4" x2="317.6" y2="429.4" stroke="#111" stroke-width="1.3" />
<line x1="332.2" y1="420" x2="332.2" y2="430" stroke="#111" stroke-width="1.1" />
<line x1="329.8" y1="420" x2="334.6" y2="420" stroke="#111" stroke-width="1.3" />
<line x1="329.8" y1="430" x2="334.6" y2="430" stroke="#111" stroke-width="1.3" />
<line x1="339.4" y1="422.5" x2="339.4" y2="432.5" stroke="#111" stroke-width="1.1" />
<line x1="337" y1="422.5" x2="341.8" y2="422.5" stroke="#111" stroke-width="1.3" />
<line x1="337" y1="432.5" x2="341.8" y2="432.5" stroke="#111" stroke-width="1.3" />
<line x1="348.3" y1="418.8" x2="348.3" y2="430.8" stroke="#111" stroke-width="1.1" />
<line x1="345.9" y1="418.8" x2="350.7" y2="418.8" stroke="#111" stroke-width="1.3" />
<line x1="345.9" y1="430.8" x2="350.7" y2="430.8" stroke="#111" stroke-width="1.3" />
<line x1="369" y1="405" x2="369" y2="421" stroke="#111" stroke-width="1.1" />
<line x1="366.6" y1="405" x2="371.4" y2="405" stroke="#111" stroke-width="1.3" />
<line x1="366.6" y1="421" x2="371.4" y2="421" stroke="#111" stroke-width="1.3" />
<line x1="409.6" y1="395.4" x2="409.6" y2="414.4" stroke="#111" stroke-width="1.1" />
<line x1="407.2" y1="395.4" x2="412" y2="395.4" stroke="#111" stroke-width="1.3" />
<line x1="407.2" y1="414.4" x2="412" y2="414.4" stroke="#111" stroke-width="1.3" />
<line x1="315.2" y1="425.6" x2="315.2" y2="433.6" stroke="#111" stroke-width="1.1" />
<line x1="312.8" y1="425.6" x2="317.6" y2="425.6" stroke="#111" stroke-width="1.3" />
<line x1="312.8" y1="433.6" x2="317.6" y2="433.6" stroke="#111" stroke-width="1.3" />
<line x1="317.9" y1="438" x2="317.9" y2="440" stroke="#111" stroke-width="1.1" />
<line x1="315.5" y1="438" x2="320.3" y2="438" stroke="#111" stroke-width="1.3" />
<line x1="315.5" y1="440" x2="320.3" y2="440" stroke="#111" stroke-width="1.3" />
<line x1="327.3" y1="435.5" x2="327.3" y2="438.5" stroke="#111" stroke-width="1.1" />
<line x1="324.9" y1="435.5" x2="329.7" y2="435.5" stroke="#111" stroke-width="1.3" />
<line x1="324.9" y1="438.5" x2="329.7" y2="438.5" stroke="#111" stroke-width="1.3" />
<line x1="332.2" y1="424" x2="332.2" y2="434" stroke="#111" stroke-width="1.1" />
<line x1="329.8" y1="424" x2="334.6" y2="424" stroke="#111" stroke-width="1.3" />
<line x1="329.8" y1="434" x2="334.6" y2="434" stroke="#111" stroke-width="1.3" />
<line x1="339.4" y1="435.7" x2="339.4" y2="439.7" stroke="#111" stroke-width="1.1" />
<line x1="337" y1="435.7" x2="341.8" y2="435.7" stroke="#111" stroke-width="1.3" />
<line x1="337" y1="439.7" x2="341.8" y2="439.7" stroke="#111" stroke-width="1.3" />
<line x1="348.3" y1="425.2" x2="348.3" y2="435.2" stroke="#111" stroke-width="1.1" />
<line x1="345.9" y1="425.2" x2="350.7" y2="425.2" stroke="#111" stroke-width="1.3" />
<line x1="345.9" y1="435.2" x2="350.7" y2="435.2" stroke="#111" stroke-width="1.3" />
<line x1="369" y1="419" x2="369" y2="436" stroke="#111" stroke-width="1.1" />
<line x1="366.6" y1="419" x2="371.4" y2="419" stroke="#111" stroke-width="1.3" />
<line x1="366.6" y1="436" x2="371.4" y2="436" stroke="#111" stroke-width="1.3" />
<line x1="409.6" y1="415.1" x2="409.6" y2="436.1" stroke="#111" stroke-width="1.1" />
<line x1="407.2" y1="415.1" x2="412" y2="415.1" stroke="#111" stroke-width="1.3" />
<line x1="407.2" y1="436.1" x2="412" y2="436.1" stroke="#111" stroke-width="1.3" />
<line x1="503.9" y1="420.3" x2="503.9" y2="436.3" stroke="#111" stroke-width="1.1" />
<line x1="501.5" y1="420.3" x2="506.3" y2="420.3" stroke="#111" stroke-width="1.3" />
<line x1="501.5" y1="436.3" x2="506.3" y2="436.3" stroke="#111" stroke-width="1.3" />
<line x1="503.9" y1="372.3" x2="503.9" y2="388" stroke="#111" stroke-width="1.1" />
<line x1="501.5" y1="372.3" x2="506.3" y2="372.3" stroke="#111" stroke-width="1.3" />
<line x1="501.5" y1="388" x2="506.3" y2="388" stroke="#111" stroke-width="1.3" />
<rect x="313.1" y="424.3" width="4.1" height="4.1" fill="#ec1c24" rx="1.2"/>
<rect x="330.1" y="422.9" width="4.1" height="4.1" fill="#ec1c24" rx="1.2"/>
<rect x="337.3" y="425.4" width="4.1" height="4.1" fill="#ec1c24" rx="1.2"/>
<rect x="346.2" y="422.8" width="4.1" height="4.1" fill="#ec1c24" rx="1.2"/>
<rect x="366.9" y="410.9" width="4.1" height="4.1" fill="#ec1c24" rx="1.2"/>
<rect x="407.6" y="402.8" width="4.1" height="4.1" fill="#ec1c24" rx="1.2"/>
<circle cx="315.2" cy="429.6" r="2.1" fill="#1e1ed6"/>
<circle cx="317.9" cy="439" r="2.1" fill="#1e1ed6"/>
<circle cx="320" cy="439.3" r="2.1" fill="#1e1ed6"/>
<circle cx="322.5" cy="439.2" r="2.1" fill="#1e1ed6"/>
<circle cx="325" cy="438.5" r="2.1" fill="#1e1ed6"/>
<circle cx="327.3" cy="437" r="2.1" fill="#1e1ed6"/>
<circle cx="332.2" cy="429" r="2.1" fill="#1e1ed6"/>
<circle cx="339.4" cy="437.7" r="2.1" fill="#1e1ed6"/>
<circle cx="348.3" cy="430.2" r="2.1" fill="#1e1ed6"/>
<circle cx="369" cy="427.5" r="2.1" fill="#1e1ed6"/>
<circle cx="409.6" cy="425.6" r="2.1" fill="#1e1ed6"/>
<circle cx="503.9" cy="428.3" r="2.1" fill="#1e1ed6"/>
<rect x="501.5" y="380.6" width="4.8" height="4.8" fill="#ec1c24" rx="1.2"/>
<line x1="310.3" y1="412.5" x2="310.3" y2="423.5" stroke="#111" stroke-width="1.1" />
<line x1="307.9" y1="412.5" x2="312.7" y2="412.5" stroke="#111" stroke-width="1.3" />
<line x1="307.9" y1="423.5" x2="312.7" y2="423.5" stroke="#111" stroke-width="1.3" />
<rect x="308.6" y="416.2" width="3.6" height="3.6" fill="#8fd88f" stroke="#2a9a2a" stroke-width="0.8" />
<text x="409.6" y="392.5" font-size="10" text-anchor="middle">*</text>
<text x="503.9" y="368.3" font-size="10" text-anchor="middle">*</text>
<text x="4" y="495.9" font-size="16" class="pl" textLength="9.8" lengthAdjust="spacingAndGlyphs">D</text>
<defs><filter id="bl" x="-30%" y="-30%" width="160%" height="160%"><feGaussianBlur stdDeviation="0.9"/></filter>
<filter id="bl2" x="-30%" y="-30%" width="160%" height="160%"><feGaussianBlur stdDeviation="0.6"/></filter></defs>
<text x="75" y="510.9" font-size="7.6" text-anchor="middle" textLength="25.4" lengthAdjust="spacingAndGlyphs">+CMV</text>
<text x="74.2" y="521.3" font-size="8" text-anchor="middle" textLength="64.6" lengthAdjust="spacingAndGlyphs">CD28- CD8 TEM</text>
<path d="M83.6 552.7h0.9v0.9h-0.9zM77.7 545.9h0.9v0.9h-0.9zM85.0 549.5h0.9v0.9h-0.9zM87.9 553.2h0.9v0.9h-0.9zM86.4 548.4h0.9v0.9h-0.9zM86.1 551.6h0.9v0.9h-0.9zM92.0 546.3h0.9v0.9h-0.9zM87.0 547.1h0.9v0.9h-0.9zM89.2 550.7h0.9v0.9h-0.9zM87.2 547.6h0.9v0.9h-0.9zM91.7 548.5h0.9v0.9h-0.9zM84.8 548.4h0.9v0.9h-0.9zM90.1 545.1h0.9v0.9h-0.9zM92.3 552.5h0.9v0.9h-0.9zM84.7 547.7h0.9v0.9h-0.9zM89.6 547.1h0.9v0.9h-0.9zM81.4 546.8h0.9v0.9h-0.9zM87.1 548.3h0.9v0.9h-0.9zM88.6 545.4h0.9v0.9h-0.9zM83.2 550.7h0.9v0.9h-0.9zM79.9 547.1h0.9v0.9h-0.9zM86.2 550.5h0.9v0.9h-0.9zM84.9 545.5h0.9v0.9h-0.9zM86.7 545.1h0.9v0.9h-0.9zM87.1 545.4h0.9v0.9h-0.9zM88.9 548.8h0.9v0.9h-0.9zM91.4 544.2h0.9v0.9h-0.9zM87.5 550.6h0.9v0.9h-0.9zM80.8 547.1h0.9v0.9h-0.9zM88.4 550.8h0.9v0.9h-0.9zM87.4 547.0h0.9v0.9h-0.9zM86.6 550.5h0.9v0.9h-0.9zM91.5 545.1h0.9v0.9h-0.9zM87.0 544.9h0.9v0.9h-0.9zM84.8 549.9h0.9v0.9h-0.9zM87.7 546.5h0.9v0.9h-0.9zM80.6 551.2h0.9v0.9h-0.9zM89.4 546.0h0.9v0.9h-0.9zM86.3 549.6h0.9v0.9h-0.9zM91.9 545.7h0.9v0.9h-0.9zM88.4 543.0h0.9v0.9h-0.9zM87.4 552.3h0.9v0.9h-0.9zM86.7 547.5h0.9v0.9h-0.9zM82.0 551.0h0.9v0.9h-0.9zM85.8 548.6h0.9v0.9h-0.9zM87.1 543.0h0.9v0.9h-0.9zM89.5 549.3h0.9v0.9h-0.9zM87.6 551.3h0.9v0.9h-0.9zM88.5 551.9h0.9v0.9h-0.9zM88.5 552.9h0.9v0.9h-0.9zM84.3 549.2h0.9v0.9h-0.9zM87.2 547.8h0.9v0.9h-0.9zM85.4 548.3h0.9v0.9h-0.9zM81.8 544.6h0.9v0.9h-0.9zM80.9 550.3h0.9v0.9h-0.9zM89.0 550.2h0.9v0.9h-0.9zM91.1 549.1h0.9v0.9h-0.9zM91.0 545.8h0.9v0.9h-0.9zM83.2 550.0h0.9v0.9h-0.9zM91.3 546.4h0.9v0.9h-0.9zM85.9 540.4h0.9v0.9h-0.9zM91.4 543.9h0.9v0.9h-0.9zM85.7 545.5h0.9v0.9h-0.9zM83.4 542.3h0.9v0.9h-0.9zM87.4 535.6h0.9v0.9h-0.9zM89.3 535.2h0.9v0.9h-0.9zM86.7 544.3h0.9v0.9h-0.9zM89.7 542.9h0.9v0.9h-0.9zM89.7 543.8h0.9v0.9h-0.9zM85.0 540.5h0.9v0.9h-0.9zM86.6 541.1h0.9v0.9h-0.9zM91.9 534.9h0.9v0.9h-0.9zM87.7 539.1h0.9v0.9h-0.9zM90.9 540.8h0.9v0.9h-0.9zM86.6 537.4h0.9v0.9h-0.9zM85.0 535.0h0.9v0.9h-0.9zM90.9 544.6h0.9v0.9h-0.9zM87.1 535.8h0.9v0.9h-0.9zM83.1 540.2h0.9v0.9h-0.9zM89.3 542.1h0.9v0.9h-0.9z" fill="#8090f0" fill-opacity="0.6"/>
<g filter="url(#bl)"><path d="M80.5 549 Q85 544.5 91.5 548 L92.5 563 Q94.5 570 93.8 579 Q93.5 588 88 588 L78 588 Q75.3 585 75.6 575 Q76 566 79.5 562 Z" fill="#1a1ae6"/><ellipse cx="86.5" cy="577.5" rx="3.8" ry="9.5" fill="#10c8f0"/><ellipse cx="86.6" cy="578" rx="2.7" ry="6.5" fill="#40e060"/><ellipse cx="86.7" cy="578" rx="1.7" ry="4.2" fill="#f0e020"/><ellipse cx="86.8" cy="577.8" rx="0.9" ry="2.2" fill="#e02010"/></g>
<rect x="40.8" y="525.8" width="68.5" height="62.2" fill="none" stroke="#222" stroke-width="1" />
<rect x="61.8" y="563.6" width="36.2" height="24.4" fill="none" stroke="#111" stroke-width="1" />
<text x="93.5" y="561.6" font-size="6.4" textLength="13.3" lengthAdjust="spacingAndGlyphs">94.5</text>
<text x="74.4" y="596.6" font-size="6.6" text-anchor="middle" textLength="13.6" lengthAdjust="spacingAndGlyphs">CD8</text>
<text x="36.6" y="556.7" font-size="6.4" text-anchor="middle" textLength="17.4" lengthAdjust="spacingAndGlyphs" transform="rotate(-90 36.6 556.7)">CD28</text>
<text x="170.8" y="513.4" font-size="7.6" text-anchor="middle" textLength="24" lengthAdjust="spacingAndGlyphs">+CMV</text>
<text x="175.4" y="524.6" font-size="8" text-anchor="middle" textLength="87.7" lengthAdjust="spacingAndGlyphs">Granzyme+ CD8 TEM</text>
<g filter="url(#bl)"><path d="M170 540 Q172 536 176 537 L180 534 Q186 534 186 542 L186 552 Q186 559 180 559 Q172 558 170 553 Z" fill="#9aa0f0"/><path d="M177 538 Q179 533.5 183 534 Q186.5 536 186 544 L185.8 553 Q185 559 180 558.5 Q176.5 557 176.5 550 Z" fill="#1a1ae6"/><ellipse cx="181" cy="545.5" rx="2.5" ry="9" fill="#10c8f0"/><ellipse cx="181.1" cy="545" rx="1.8" ry="7.5" fill="#40e060"/><ellipse cx="181.2" cy="541.5" rx="1.3" ry="3.2" fill="#f0d020"/><ellipse cx="181.2" cy="541" rx="0.8" ry="1.8" fill="#d02010"/></g>
<rect x="146" y="526.2" width="59.8" height="64.8" fill="none" stroke="#222" stroke-width="1" />
<rect x="154.6" y="526.2" width="51.4" height="21.1" fill="none" stroke="#111" stroke-width="1" />
<text x="190.6" y="534.6" font-size="6.4" textLength="13.6" lengthAdjust="spacingAndGlyphs">72.5</text>
<text x="175.6" y="599.9" font-size="6.8" text-anchor="middle" textLength="14" lengthAdjust="spacingAndGlyphs">CD8</text>
<text x="142.6" y="558.4" font-size="6.4" text-anchor="middle" textLength="41.5" lengthAdjust="spacingAndGlyphs" transform="rotate(-90 142.6 558.4)">Granzyme B</text>
<text x="248.6" y="545.8" font-size="10" text-anchor="middle" textLength="77" lengthAdjust="spacingAndGlyphs" transform="rotate(-90 248.6 545.8)">% CD28- CD8 TEM</text>
<text x="450.2" y="544.6" font-size="10" text-anchor="middle" textLength="101.8" lengthAdjust="spacingAndGlyphs" transform="rotate(90 450.2 544.6)">% Granzyme+ CD8 TEM</text>
<line x1="268.2" y1="589.2" x2="270.4" y2="589.2" stroke="#000" stroke-width="1.2" />
<text x="267.9" y="592.2" font-size="8.3" text-anchor="end">0</text>
<line x1="427.6" y1="589.2" x2="429.8" y2="589.2" stroke="#000" stroke-width="1.2" />
<text x="429.6" y="592.2" font-size="8.6">0</text>
<line x1="268.2" y1="572" x2="270.4" y2="572" stroke="#000" stroke-width="1.2" />
<text x="267.9" y="575" font-size="8.3" text-anchor="end">20</text>
<line x1="427.6" y1="572" x2="429.8" y2="572" stroke="#000" stroke-width="1.2" />
<text x="429.6" y="575" font-size="8.6">20</text>
<line x1="268.2" y1="554.8" x2="270.4" y2="554.8" stroke="#000" stroke-width="1.2" />
<text x="267.9" y="557.8" font-size="8.3" text-anchor="end">40</text>
<line x1="427.6" y1="554.8" x2="429.8" y2="554.8" stroke="#000" stroke-width="1.2" />
<text x="429.6" y="557.8" font-size="8.6">40</text>
<line x1="268.2" y1="537.5" x2="270.4" y2="537.5" stroke="#000" stroke-width="1.2" />
<text x="267.9" y="540.5" font-size="8.3" text-anchor="end">60</text>
<line x1="427.6" y1="537.5" x2="429.8" y2="537.5" stroke="#000" stroke-width="1.2" />
<text x="429.6" y="540.5" font-size="8.6">60</text>
<line x1="268.2" y1="520.3" x2="270.4" y2="520.3" stroke="#000" stroke-width="1.2" />
<text x="267.9" y="523.3" font-size="8.3" text-anchor="end">80</text>
<line x1="427.6" y1="520.3" x2="429.8" y2="520.3" stroke="#000" stroke-width="1.2" />
<text x="429.6" y="523.3" font-size="8.6">80</text>
<line x1="268.2" y1="503.1" x2="270.4" y2="503.1" stroke="#000" stroke-width="1.2" />
<text x="267.9" y="506.1" font-size="8.3" text-anchor="end">100</text>
<line x1="427.6" y1="503.1" x2="429.8" y2="503.1" stroke="#000" stroke-width="1.2" />
<text x="429.6" y="506.1" font-size="8.6">100</text>
<line x1="270.4" y1="502.6" x2="270.4" y2="589.8" stroke="#000" stroke-width="1.4" />
<line x1="427.6" y1="502.6" x2="427.6" y2="589.8" stroke="#000" stroke-width="1.4" />
<line x1="270" y1="589.2" x2="428" y2="589.2" stroke="#000" stroke-width="1.4" />
<line x1="270.8" y1="589.2" x2="270.8" y2="591.4" stroke="#000" stroke-width="1.2" />
<text x="270.8" y="599.2" font-size="8.3" text-anchor="middle">-20</text>
<line x1="290.4" y1="589.2" x2="290.4" y2="591.4" stroke="#000" stroke-width="1.2" />
<text x="290.4" y="599.2" font-size="8.3" text-anchor="middle">30</text>
<line x1="310" y1="589.2" x2="310" y2="591.4" stroke="#000" stroke-width="1.2" />
<text x="310" y="599.2" font-size="8.3" text-anchor="middle">80</text>
<line x1="329.6" y1="589.2" x2="329.6" y2="591.4" stroke="#000" stroke-width="1.2" />
<text x="329.6" y="599.2" font-size="8.3" text-anchor="middle">130</text>
<line x1="349.2" y1="589.2" x2="349.2" y2="591.4" stroke="#000" stroke-width="1.2" />
<text x="349.2" y="599.2" font-size="8.3" text-anchor="middle">180</text>
<line x1="368.9" y1="589.2" x2="368.9" y2="591.4" stroke="#000" stroke-width="1.2" />
<text x="368.9" y="599.2" font-size="8.3" text-anchor="middle">230</text>
<line x1="388.5" y1="589.2" x2="388.5" y2="591.4" stroke="#000" stroke-width="1.2" />
<text x="388.5" y="599.2" font-size="8.3" text-anchor="middle">280</text>
<line x1="408.1" y1="589.2" x2="408.1" y2="591.4" stroke="#000" stroke-width="1.2" />
<text x="408.1" y="599.2" font-size="8.3" text-anchor="middle">330</text>
<line x1="427.8" y1="589.2" x2="427.8" y2="591.4" stroke="#000" stroke-width="1.2" />
<text x="427.8" y="599.2" font-size="8.3" text-anchor="middle">380</text>
<text x="349" y="611.8" font-size="9.5" text-anchor="middle" textLength="93.5" lengthAdjust="spacingAndGlyphs">Days Post Transplant</text>
<polyline points="272.3,558.3 277.5,551.2 280,544.2 283.3,558.8 289,558.3 295.8,536.2 302,536.5 318.5,528.5 348,525.7 427.7,538.5" fill="none" stroke="#e02028" stroke-width="1.6" stroke-linejoin="round" />
<polyline points="272.3,568.5 277.5,568.8 280,557.7 283.3,561.5 286.2,551.2 289,542.3 295.8,529.4 302,550.6 318.5,536.5 348,539.5 427.7,536" fill="none" stroke="#d02020" stroke-width="1.6" stroke-linejoin="round" />
<line x1="272.3" y1="552.3" x2="272.3" y2="564.3" stroke="#111" stroke-width="1.1" />
<line x1="269.9" y1="552.3" x2="274.7" y2="552.3" stroke="#111" stroke-width="1.3" />
<line x1="269.9" y1="564.3" x2="274.7" y2="564.3" stroke="#111" stroke-width="1.3" />
<line x1="277.5" y1="544.2" x2="277.5" y2="558.2" stroke="#111" stroke-width="1.1" />
<line x1="275.1" y1="544.2" x2="279.9" y2="544.2" stroke="#111" stroke-width="1.3" />
<line x1="275.1" y1="558.2" x2="279.9" y2="558.2" stroke="#111" stroke-width="1.3" />
<line x1="280" y1="536.2" x2="280" y2="552.2" stroke="#111" stroke-width="1.1" />
<line x1="277.6" y1="536.2" x2="282.4" y2="536.2" stroke="#111" stroke-width="1.3" />
<line x1="277.6" y1="552.2" x2="282.4" y2="552.2" stroke="#111" stroke-width="1.3" />
<line x1="283.3" y1="548.8" x2="283.3" y2="568.8" stroke="#111" stroke-width="1.1" />
<line x1="280.9" y1="548.8" x2="285.7" y2="548.8" stroke="#111" stroke-width="1.3" />
<line x1="280.9" y1="568.8" x2="285.7" y2="568.8" stroke="#111" stroke-width="1.3" />
<line x1="289" y1="550.3" x2="289" y2="566.3" stroke="#111" stroke-width="1.1" />
<line x1="286.6" y1="550.3" x2="291.4" y2="550.3" stroke="#111" stroke-width="1.3" />
<line x1="286.6" y1="566.3" x2="291.4" y2="566.3" stroke="#111" stroke-width="1.3" />
<line x1="295.8" y1="526.2" x2="295.8" y2="546.2" stroke="#111" stroke-width="1.1" />
<line x1="293.4" y1="526.2" x2="298.2" y2="526.2" stroke="#111" stroke-width="1.3" />
<line x1="293.4" y1="546.2" x2="298.2" y2="546.2" stroke="#111" stroke-width="1.3" />
<line x1="302" y1="528.5" x2="302" y2="544.5" stroke="#111" stroke-width="1.1" />
<line x1="299.6" y1="528.5" x2="304.4" y2="528.5" stroke="#111" stroke-width="1.3" />
<line x1="299.6" y1="544.5" x2="304.4" y2="544.5" stroke="#111" stroke-width="1.3" />
<line x1="318.5" y1="520.5" x2="318.5" y2="536.5" stroke="#111" stroke-width="1.1" />
<line x1="316.1" y1="520.5" x2="320.9" y2="520.5" stroke="#111" stroke-width="1.3" />
<line x1="316.1" y1="536.5" x2="320.9" y2="536.5" stroke="#111" stroke-width="1.3" />
<line x1="348" y1="518.7" x2="348" y2="532.7" stroke="#111" stroke-width="1.1" />
<line x1="345.6" y1="518.7" x2="350.4" y2="518.7" stroke="#111" stroke-width="1.3" />
<line x1="345.6" y1="532.7" x2="350.4" y2="532.7" stroke="#111" stroke-width="1.3" />
<line x1="427.7" y1="526.5" x2="427.7" y2="550.5" stroke="#111" stroke-width="1.1" />
<line x1="425.3" y1="526.5" x2="430.1" y2="526.5" stroke="#111" stroke-width="1.3" />
<line x1="425.3" y1="550.5" x2="430.1" y2="550.5" stroke="#111" stroke-width="1.3" />
<line x1="272.3" y1="563.5" x2="272.3" y2="573.5" stroke="#111" stroke-width="1.1" />
<line x1="269.9" y1="563.5" x2="274.7" y2="563.5" stroke="#111" stroke-width="1.3" />
<line x1="269.9" y1="573.5" x2="274.7" y2="573.5" stroke="#111" stroke-width="1.3" />
<line x1="277.5" y1="563.8" x2="277.5" y2="573.8" stroke="#111" stroke-width="1.1" />
<line x1="275.1" y1="563.8" x2="279.9" y2="563.8" stroke="#111" stroke-width="1.3" />
<line x1="275.1" y1="573.8" x2="279.9" y2="573.8" stroke="#111" stroke-width="1.3" />
<line x1="280" y1="547.7" x2="280" y2="567.7" stroke="#111" stroke-width="1.1" />
<line x1="277.6" y1="547.7" x2="282.4" y2="547.7" stroke="#111" stroke-width="1.3" />
<line x1="277.6" y1="567.7" x2="282.4" y2="567.7" stroke="#111" stroke-width="1.3" />
<line x1="283.3" y1="549.5" x2="283.3" y2="573.5" stroke="#111" stroke-width="1.1" />
<line x1="280.9" y1="549.5" x2="285.7" y2="549.5" stroke="#111" stroke-width="1.3" />
<line x1="280.9" y1="573.5" x2="285.7" y2="573.5" stroke="#111" stroke-width="1.3" />
<line x1="286.2" y1="541.2" x2="286.2" y2="561.2" stroke="#111" stroke-width="1.1" />
<line x1="283.8" y1="541.2" x2="288.6" y2="541.2" stroke="#111" stroke-width="1.3" />
<line x1="283.8" y1="561.2" x2="288.6" y2="561.2" stroke="#111" stroke-width="1.3" />
<line x1="289" y1="530.3" x2="289" y2="554.3" stroke="#111" stroke-width="1.1" />
<line x1="286.6" y1="530.3" x2="291.4" y2="530.3" stroke="#111" stroke-width="1.3" />
<line x1="286.6" y1="554.3" x2="291.4" y2="554.3" stroke="#111" stroke-width="1.3" />
<line x1="295.8" y1="522.4" x2="295.8" y2="536.4" stroke="#111" stroke-width="1.1" />
<line x1="293.4" y1="522.4" x2="298.2" y2="522.4" stroke="#111" stroke-width="1.3" />
<line x1="293.4" y1="536.4" x2="298.2" y2="536.4" stroke="#111" stroke-width="1.3" />
<line x1="302" y1="538.6" x2="302" y2="562.6" stroke="#111" stroke-width="1.1" />
<line x1="299.6" y1="538.6" x2="304.4" y2="538.6" stroke="#111" stroke-width="1.3" />
<line x1="299.6" y1="562.6" x2="304.4" y2="562.6" stroke="#111" stroke-width="1.3" />
<line x1="318.5" y1="523.5" x2="318.5" y2="549.5" stroke="#111" stroke-width="1.1" />
<line x1="316.1" y1="523.5" x2="320.9" y2="523.5" stroke="#111" stroke-width="1.3" />
<line x1="316.1" y1="549.5" x2="320.9" y2="549.5" stroke="#111" stroke-width="1.3" />
<line x1="348" y1="527.5" x2="348" y2="551.5" stroke="#111" stroke-width="1.1" />
<line x1="345.6" y1="527.5" x2="350.4" y2="527.5" stroke="#111" stroke-width="1.3" />
<line x1="345.6" y1="551.5" x2="350.4" y2="551.5" stroke="#111" stroke-width="1.3" />
<line x1="427.7" y1="522" x2="427.7" y2="550" stroke="#111" stroke-width="1.1" />
<line x1="425.3" y1="522" x2="430.1" y2="522" stroke="#111" stroke-width="1.3" />
<line x1="425.3" y1="550" x2="430.1" y2="550" stroke="#111" stroke-width="1.3" />
<rect x="269.7" y="555.7" width="5.2" height="5.2" fill="#ee1c24" rx="1.2"/>
<rect x="274.9" y="548.6" width="5.2" height="5.2" fill="#ee1c24" rx="1.2"/>
<rect x="277.4" y="541.6" width="5.2" height="5.2" fill="#ee1c24" rx="1.2"/>
<rect x="280.7" y="556.2" width="5.2" height="5.2" fill="#ee1c24" rx="1.2"/>
<rect x="286.4" y="555.7" width="5.2" height="5.2" fill="#ee1c24" rx="1.2"/>
<rect x="293.2" y="533.6" width="5.2" height="5.2" fill="#ee1c24" rx="1.2"/>
<rect x="299.4" y="533.9" width="5.2" height="5.2" fill="#ee1c24" rx="1.2"/>
<rect x="315.9" y="525.9" width="5.2" height="5.2" fill="#ee1c24" rx="1.2"/>
<rect x="345.4" y="523.1" width="5.2" height="5.2" fill="#ee1c24" rx="1.2"/>
<rect x="425.1" y="535.9" width="5.2" height="5.2" fill="#ee1c24" rx="1.2"/>
<circle cx="272.3" cy="568.5" r="2.8" fill="#3a0808" stroke="#111" stroke-width="0.8"/>
<circle cx="277.5" cy="568.8" r="2.8" fill="#3a0808" stroke="#111" stroke-width="0.8"/>
<circle cx="280" cy="557.7" r="2.8" fill="#3a0808" stroke="#111" stroke-width="0.8"/>
<circle cx="283.3" cy="561.5" r="2.8" fill="#3a0808" stroke="#111" stroke-width="0.8"/>
<circle cx="286.2" cy="551.2" r="2.8" fill="#3a0808" stroke="#111" stroke-width="0.8"/>
<circle cx="289" cy="542.3" r="2.8" fill="#3a0808" stroke="#111" stroke-width="0.8"/>
<circle cx="295.8" cy="529.4" r="2.8" fill="#3a0808" stroke="#111" stroke-width="0.8"/>
<circle cx="302" cy="550.6" r="2.8" fill="#3a0808" stroke="#111" stroke-width="0.8"/>
<circle cx="318.5" cy="536.5" r="2.8" fill="#3a0808" stroke="#111" stroke-width="0.8"/>
<circle cx="348" cy="539.5" r="2.8" fill="#3a0808" stroke="#111" stroke-width="0.8"/>
<circle cx="427.7" cy="536" r="2.8" fill="#3a0808" stroke="#111" stroke-width="0.8"/>
<line x1="463.2" y1="529.8" x2="473" y2="529.8" stroke="#e02028" stroke-width="1.8" />
<rect x="465.2" y="526.9" width="6" height="5.8" fill="#ee1c24" />
<text x="476.3" y="527.4" font-size="7.6" textLength="20.8" lengthAdjust="spacingAndGlyphs">CD28-</text>
<text x="476.3" y="537.8" font-size="7.6" textLength="36.8" lengthAdjust="spacingAndGlyphs">CD8 TEM</text>
<line x1="463.2" y1="550" x2="473" y2="550" stroke="#e02028" stroke-width="1.8" />
<circle cx="468.2" cy="550" r="3.2" fill="#3a0808" stroke="#111" stroke-width="0.8"/>
<text x="476.3" y="547.9" font-size="7.6" textLength="43.7" lengthAdjust="spacingAndGlyphs">Granzyme+</text>
<text x="476.3" y="558.1" font-size="7.6" textLength="36.8" lengthAdjust="spacingAndGlyphs">CD8 TEM</text>
<text x="4" y="638.7" font-size="16" class="pl" textLength="8.7" lengthAdjust="spacingAndGlyphs">E</text>
<text x="185.5" y="639" font-size="10" textLength="61.5" lengthAdjust="spacingAndGlyphs">PD1- /CD57+</text>
<text x="110.2" y="679.5" font-size="10" text-anchor="middle" textLength="98" lengthAdjust="spacingAndGlyphs" transform="rotate(-90 110.2 679.5)">% of CD8+ TEM/ Naive</text>
<text x="121" y="677.6" font-size="10" text-anchor="middle" textLength="20.7" lengthAdjust="spacingAndGlyphs" transform="rotate(-90 121 677.6)">Cells</text>
<rect x="138.3" y="679.4" width="153.1" height="17.4" fill="#b3b3b3" />
<line x1="135.8" y1="716.4" x2="138.3" y2="716.4" stroke="#000" stroke-width="1.2" />
<text x="135.2" y="719.7" font-size="9.4" text-anchor="end">0</text>
<line x1="135.8" y1="693.3" x2="138.3" y2="693.3" stroke="#000" stroke-width="1.2" />
<text x="135.2" y="696.6" font-size="9.4" text-anchor="end">20</text>
<line x1="135.8" y1="670.3" x2="138.3" y2="670.3" stroke="#000" stroke-width="1.2" />
<text x="135.2" y="673.6" font-size="9.4" text-anchor="end">40</text>
<line x1="135.8" y1="647.2" x2="138.3" y2="647.2" stroke="#000" stroke-width="1.2" />
<text x="135.2" y="650.5" font-size="9.4" text-anchor="end">60</text>
<line x1="138.3" y1="646.6" x2="138.3" y2="717" stroke="#000" stroke-width="1.4" />
<line x1="137.8" y1="716.4" x2="293.2" y2="716.4" stroke="#000" stroke-width="1.4" />
<line x1="138.9" y1="716.4" x2="138.9" y2="718.6" stroke="#000" stroke-width="1.2" />
<text x="138.9" y="726.5" font-size="8.5" text-anchor="middle">-20</text>
<line x1="158.2" y1="716.4" x2="158.2" y2="718.6" stroke="#000" stroke-width="1.2" />
<text x="158.2" y="726.5" font-size="8.5" text-anchor="middle">30</text>
<line x1="177.4" y1="716.4" x2="177.4" y2="718.6" stroke="#000" stroke-width="1.2" />
<text x="177.4" y="726.5" font-size="8.5" text-anchor="middle">80</text>
<line x1="196.7" y1="716.4" x2="196.7" y2="718.6" stroke="#000" stroke-width="1.2" />
<text x="196.7" y="726.5" font-size="8.5" text-anchor="middle">130</text>
<line x1="215.9" y1="716.4" x2="215.9" y2="718.6" stroke="#000" stroke-width="1.2" />
<text x="215.9" y="726.5" font-size="8.5" text-anchor="middle">180</text>
<line x1="235.1" y1="716.4" x2="235.1" y2="718.6" stroke="#000" stroke-width="1.2" />
<text x="235.1" y="726.5" font-size="8.5" text-anchor="middle">230</text>
<line x1="254.4" y1="716.4" x2="254.4" y2="718.6" stroke="#000" stroke-width="1.2" />
<text x="254.4" y="726.5" font-size="8.5" text-anchor="middle">280</text>
<line x1="273.6" y1="716.4" x2="273.6" y2="718.6" stroke="#000" stroke-width="1.2" />
<text x="273.6" y="726.5" font-size="8.5" text-anchor="middle">330</text>
<line x1="292.9" y1="716.4" x2="292.9" y2="718.6" stroke="#000" stroke-width="1.2" />
<text x="292.9" y="726.5" font-size="8.5" text-anchor="middle">380</text>
<text x="216.5" y="738.3" font-size="9.2" text-anchor="middle" textLength="93.5" lengthAdjust="spacingAndGlyphs">Days post-transplant</text>
<polyline points="143.8,704.6 149,698 154.2,708 161.7,708 169.2,709.8 184.8,706.3 216,703 287.5,703" fill="none" stroke="#dc2a30" stroke-width="1.5" stroke-linejoin="round" stroke-dasharray="3 2"/>
<polyline points="143.8,709.2 146.7,711.5 155.3,713.8 161.7,713.8 169.2,712.9 184.8,710.4 216,709.2 287.5,713.2" fill="none" stroke="#1f1fb4" stroke-width="1.5" stroke-linejoin="round" stroke-dasharray="3 2"/>
<polyline points="143.8,699.4 146.7,695.4 151.3,686.2 155.3,696.5 161.7,693.7 169.2,696.3 184.8,695.2 216,690.2 287.5,696.3" fill="none" stroke="#1f1fb4" stroke-width="1.7" stroke-linejoin="round" />
<polyline points="143.8,683.8 145.5,675.2 148,686 151.5,694 154.5,706 161.7,708 169.2,686.7 184.8,686.2 216,662.2 287.5,660" fill="none" stroke="#dc2a30" stroke-width="1.7" stroke-linejoin="round" />
<line x1="143.8" y1="700.6" x2="143.8" y2="708.6" stroke="#111" stroke-width="1.1" />
<line x1="141.4" y1="700.6" x2="146.2" y2="700.6" stroke="#111" stroke-width="1.3" />
<line x1="141.4" y1="708.6" x2="146.2" y2="708.6" stroke="#111" stroke-width="1.3" />
<line x1="149" y1="694" x2="149" y2="702" stroke="#111" stroke-width="1.1" />
<line x1="146.6" y1="694" x2="151.4" y2="694" stroke="#111" stroke-width="1.3" />
<line x1="146.6" y1="702" x2="151.4" y2="702" stroke="#111" stroke-width="1.3" />
<line x1="154.2" y1="704" x2="154.2" y2="712" stroke="#111" stroke-width="1.1" />
<line x1="151.8" y1="704" x2="156.6" y2="704" stroke="#111" stroke-width="1.3" />
<line x1="151.8" y1="712" x2="156.6" y2="712" stroke="#111" stroke-width="1.3" />
<line x1="161.7" y1="704" x2="161.7" y2="712" stroke="#111" stroke-width="1.1" />
<line x1="159.3" y1="704" x2="164.1" y2="704" stroke="#111" stroke-width="1.3" />
<line x1="159.3" y1="712" x2="164.1" y2="712" stroke="#111" stroke-width="1.3" />
<line x1="169.2" y1="706.8" x2="169.2" y2="712.8" stroke="#111" stroke-width="1.1" />
<line x1="166.8" y1="706.8" x2="171.6" y2="706.8" stroke="#111" stroke-width="1.3" />
<line x1="166.8" y1="712.8" x2="171.6" y2="712.8" stroke="#111" stroke-width="1.3" />
<line x1="184.8" y1="703.3" x2="184.8" y2="709.3" stroke="#111" stroke-width="1.1" />
<line x1="182.4" y1="703.3" x2="187.2" y2="703.3" stroke="#111" stroke-width="1.3" />
<line x1="182.4" y1="709.3" x2="187.2" y2="709.3" stroke="#111" stroke-width="1.3" />
<line x1="216" y1="700" x2="216" y2="706" stroke="#111" stroke-width="1.1" />
<line x1="213.6" y1="700" x2="218.4" y2="700" stroke="#111" stroke-width="1.3" />
<line x1="213.6" y1="706" x2="218.4" y2="706" stroke="#111" stroke-width="1.3" />
<line x1="287.5" y1="699" x2="287.5" y2="707" stroke="#111" stroke-width="1.1" />
<line x1="285.1" y1="699" x2="289.9" y2="699" stroke="#111" stroke-width="1.3" />
<line x1="285.1" y1="707" x2="289.9" y2="707" stroke="#111" stroke-width="1.3" />
<line x1="143.8" y1="705.2" x2="143.8" y2="713.2" stroke="#111" stroke-width="1.1" />
<line x1="141.4" y1="705.2" x2="146.2" y2="705.2" stroke="#111" stroke-width="1.3" />
<line x1="141.4" y1="713.2" x2="146.2" y2="713.2" stroke="#111" stroke-width="1.3" />
<line x1="146.7" y1="708.5" x2="146.7" y2="714.5" stroke="#111" stroke-width="1.1" />
<line x1="144.3" y1="708.5" x2="149.1" y2="708.5" stroke="#111" stroke-width="1.3" />
<line x1="144.3" y1="714.5" x2="149.1" y2="714.5" stroke="#111" stroke-width="1.3" />
<line x1="155.3" y1="711.8" x2="155.3" y2="715.8" stroke="#111" stroke-width="1.1" />
<line x1="152.9" y1="711.8" x2="157.7" y2="711.8" stroke="#111" stroke-width="1.3" />
<line x1="152.9" y1="715.8" x2="157.7" y2="715.8" stroke="#111" stroke-width="1.3" />
<line x1="161.7" y1="711.8" x2="161.7" y2="715.8" stroke="#111" stroke-width="1.1" />
<line x1="159.3" y1="711.8" x2="164.1" y2="711.8" stroke="#111" stroke-width="1.3" />
<line x1="159.3" y1="715.8" x2="164.1" y2="715.8" stroke="#111" stroke-width="1.3" />
<line x1="169.2" y1="710.9" x2="169.2" y2="714.9" stroke="#111" stroke-width="1.1" />
<line x1="166.8" y1="710.9" x2="171.6" y2="710.9" stroke="#111" stroke-width="1.3" />
<line x1="166.8" y1="714.9" x2="171.6" y2="714.9" stroke="#111" stroke-width="1.3" />
<line x1="184.8" y1="708.4" x2="184.8" y2="712.4" stroke="#111" stroke-width="1.1" />
<line x1="182.4" y1="708.4" x2="187.2" y2="708.4" stroke="#111" stroke-width="1.3" />
<line x1="182.4" y1="712.4" x2="187.2" y2="712.4" stroke="#111" stroke-width="1.3" />
<line x1="216" y1="706.2" x2="216" y2="712.2" stroke="#111" stroke-width="1.1" />
<line x1="213.6" y1="706.2" x2="218.4" y2="706.2" stroke="#111" stroke-width="1.3" />
<line x1="213.6" y1="712.2" x2="218.4" y2="712.2" stroke="#111" stroke-width="1.3" />
<line x1="287.5" y1="711.2" x2="287.5" y2="715.2" stroke="#111" stroke-width="1.1" />
<line x1="285.1" y1="711.2" x2="289.9" y2="711.2" stroke="#111" stroke-width="1.3" />
<line x1="285.1" y1="715.2" x2="289.9" y2="715.2" stroke="#111" stroke-width="1.3" />
<line x1="143.8" y1="695.4" x2="143.8" y2="703.4" stroke="#111" stroke-width="1.1" />
<line x1="141.4" y1="695.4" x2="146.2" y2="695.4" stroke="#111" stroke-width="1.3" />
<line x1="141.4" y1="703.4" x2="146.2" y2="703.4" stroke="#111" stroke-width="1.3" />
<line x1="146.7" y1="690.4" x2="146.7" y2="700.4" stroke="#111" stroke-width="1.1" />
<line x1="144.3" y1="690.4" x2="149.1" y2="690.4" stroke="#111" stroke-width="1.3" />
<line x1="144.3" y1="700.4" x2="149.1" y2="700.4" stroke="#111" stroke-width="1.3" />
<line x1="151.3" y1="680.2" x2="151.3" y2="692.2" stroke="#111" stroke-width="1.1" />
<line x1="148.9" y1="680.2" x2="153.7" y2="680.2" stroke="#111" stroke-width="1.3" />
<line x1="148.9" y1="692.2" x2="153.7" y2="692.2" stroke="#111" stroke-width="1.3" />
<line x1="155.3" y1="691.5" x2="155.3" y2="701.5" stroke="#111" stroke-width="1.1" />
<line x1="152.9" y1="691.5" x2="157.7" y2="691.5" stroke="#111" stroke-width="1.3" />
<line x1="152.9" y1="701.5" x2="157.7" y2="701.5" stroke="#111" stroke-width="1.3" />
<line x1="161.7" y1="688.7" x2="161.7" y2="698.7" stroke="#111" stroke-width="1.1" />
<line x1="159.3" y1="688.7" x2="164.1" y2="688.7" stroke="#111" stroke-width="1.3" />
<line x1="159.3" y1="698.7" x2="164.1" y2="698.7" stroke="#111" stroke-width="1.3" />
<line x1="169.2" y1="692.3" x2="169.2" y2="700.3" stroke="#111" stroke-width="1.1" />
<line x1="166.8" y1="692.3" x2="171.6" y2="692.3" stroke="#111" stroke-width="1.3" />
<line x1="166.8" y1="700.3" x2="171.6" y2="700.3" stroke="#111" stroke-width="1.3" />
<line x1="184.8" y1="691.2" x2="184.8" y2="699.2" stroke="#111" stroke-width="1.1" />
<line x1="182.4" y1="691.2" x2="187.2" y2="691.2" stroke="#111" stroke-width="1.3" />
<line x1="182.4" y1="699.2" x2="187.2" y2="699.2" stroke="#111" stroke-width="1.3" />
<line x1="216" y1="684.7" x2="216" y2="695.7" stroke="#111" stroke-width="1.1" />
<line x1="213.6" y1="684.7" x2="218.4" y2="684.7" stroke="#111" stroke-width="1.3" />
<line x1="213.6" y1="695.7" x2="218.4" y2="695.7" stroke="#111" stroke-width="1.3" />
<line x1="287.5" y1="692.3" x2="287.5" y2="700.3" stroke="#111" stroke-width="1.1" />
<line x1="285.1" y1="692.3" x2="289.9" y2="692.3" stroke="#111" stroke-width="1.3" />
<line x1="285.1" y1="700.3" x2="289.9" y2="700.3" stroke="#111" stroke-width="1.3" />
<line x1="143.8" y1="678.8" x2="143.8" y2="688.8" stroke="#111" stroke-width="1.1" />
<line x1="141.4" y1="678.8" x2="146.2" y2="678.8" stroke="#111" stroke-width="1.3" />
<line x1="141.4" y1="688.8" x2="146.2" y2="688.8" stroke="#111" stroke-width="1.3" />
<line x1="145.5" y1="665.4" x2="145.5" y2="685" stroke="#111" stroke-width="1.1" />
<line x1="143.1" y1="665.4" x2="147.9" y2="665.4" stroke="#111" stroke-width="1.3" />
<line x1="143.1" y1="685" x2="147.9" y2="685" stroke="#111" stroke-width="1.3" />
<line x1="148" y1="681" x2="148" y2="691" stroke="#111" stroke-width="1.1" />
<line x1="145.6" y1="681" x2="150.4" y2="681" stroke="#111" stroke-width="1.3" />
<line x1="145.6" y1="691" x2="150.4" y2="691" stroke="#111" stroke-width="1.3" />
<line x1="151.5" y1="689" x2="151.5" y2="699" stroke="#111" stroke-width="1.1" />
<line x1="149.1" y1="689" x2="153.9" y2="689" stroke="#111" stroke-width="1.3" />
<line x1="149.1" y1="699" x2="153.9" y2="699" stroke="#111" stroke-width="1.3" />
<line x1="154.5" y1="702" x2="154.5" y2="710" stroke="#111" stroke-width="1.1" />
<line x1="152.1" y1="702" x2="156.9" y2="702" stroke="#111" stroke-width="1.3" />
<line x1="152.1" y1="710" x2="156.9" y2="710" stroke="#111" stroke-width="1.3" />
<line x1="161.7" y1="704" x2="161.7" y2="712" stroke="#111" stroke-width="1.1" />
<line x1="159.3" y1="704" x2="164.1" y2="704" stroke="#111" stroke-width="1.3" />
<line x1="159.3" y1="712" x2="164.1" y2="712" stroke="#111" stroke-width="1.3" />
<line x1="169.2" y1="682.7" x2="169.2" y2="690.7" stroke="#111" stroke-width="1.1" />
<line x1="166.8" y1="682.7" x2="171.6" y2="682.7" stroke="#111" stroke-width="1.3" />
<line x1="166.8" y1="690.7" x2="171.6" y2="690.7" stroke="#111" stroke-width="1.3" />
<line x1="184.8" y1="682.2" x2="184.8" y2="690.2" stroke="#111" stroke-width="1.1" />
<line x1="182.4" y1="682.2" x2="187.2" y2="682.2" stroke="#111" stroke-width="1.3" />
<line x1="182.4" y1="690.2" x2="187.2" y2="690.2" stroke="#111" stroke-width="1.3" />
<line x1="216" y1="655.2" x2="216" y2="669.2" stroke="#111" stroke-width="1.1" />
<line x1="213.6" y1="655.2" x2="218.4" y2="655.2" stroke="#111" stroke-width="1.3" />
<line x1="213.6" y1="669.2" x2="218.4" y2="669.2" stroke="#111" stroke-width="1.3" />
<line x1="287.5" y1="650" x2="287.5" y2="670" stroke="#111" stroke-width="1.1" />
<line x1="285.1" y1="650" x2="289.9" y2="650" stroke="#111" stroke-width="1.3" />
<line x1="285.1" y1="670" x2="289.9" y2="670" stroke="#111" stroke-width="1.3" />
<path d="M143.8 701.8L146.6 707.1L141 707.1Z" fill="#ec1c24"/>
<path d="M149 695.2L151.8 700.5L146.2 700.5Z" fill="#ec1c24"/>
<path d="M154.2 705.2L157 710.5L151.4 710.5Z" fill="#ec1c24"/>
<path d="M161.7 705.2L164.5 710.5L158.9 710.5Z" fill="#ec1c24"/>
<path d="M169.2 707L172 712.3L166.4 712.3Z" fill="#ec1c24"/>
<path d="M184.8 703.5L187.6 708.8L182 708.8Z" fill="#ec1c24"/>
<path d="M216 700.2L218.8 705.5L213.2 705.5Z" fill="#ec1c24"/>
<path d="M287.5 700.2L290.3 705.5L284.7 705.5Z" fill="#ec1c24"/>
<path d="M143.8 712L146.6 706.7L141 706.7Z" fill="#1e1ed6"/>
<path d="M146.7 714.3L149.5 709L143.9 709Z" fill="#1e1ed6"/>
<path d="M155.3 716.6L158.1 711.3L152.5 711.3Z" fill="#1e1ed6"/>
<path d="M161.7 716.6L164.5 711.3L158.9 711.3Z" fill="#1e1ed6"/>
<path d="M169.2 715.7L172 710.4L166.4 710.4Z" fill="#1e1ed6"/>
<path d="M184.8 713.2L187.6 707.9L182 707.9Z" fill="#1e1ed6"/>
<path d="M216 712L218.8 706.7L213.2 706.7Z" fill="#1e1ed6"/>
<path d="M287.5 716L290.3 710.7L284.7 710.7Z" fill="#1e1ed6"/>
<circle cx="143.8" cy="699.4" r="2.4" fill="#1e1ed6"/>
<circle cx="146.7" cy="695.4" r="2.4" fill="#1e1ed6"/>
<circle cx="151.3" cy="686.2" r="2.4" fill="#1e1ed6"/>
<circle cx="155.3" cy="696.5" r="2.4" fill="#1e1ed6"/>
<circle cx="161.7" cy="693.7" r="2.4" fill="#1e1ed6"/>
<circle cx="169.2" cy="696.3" r="2.4" fill="#1e1ed6"/>
<circle cx="184.8" cy="695.2" r="2.4" fill="#1e1ed6"/>
<circle cx="216" cy="690.2" r="2.4" fill="#1e1ed6"/>
<circle cx="287.5" cy="696.3" r="2.4" fill="#1e1ed6"/>
<rect x="141.6" y="681.6" width="4.4" height="4.4" fill="#ec1c24" rx="1.2"/>
<rect x="143.3" y="673" width="4.4" height="4.4" fill="#ec1c24" rx="1.2"/>
<rect x="145.8" y="683.8" width="4.4" height="4.4" fill="#ec1c24" rx="1.2"/>
<rect x="149.3" y="691.8" width="4.4" height="4.4" fill="#ec1c24" rx="1.2"/>
<rect x="152.3" y="703.8" width="4.4" height="4.4" fill="#ec1c24" rx="1.2"/>
<rect x="159.5" y="705.8" width="4.4" height="4.4" fill="#ec1c24" rx="1.2"/>
<rect x="167" y="684.5" width="4.4" height="4.4" fill="#ec1c24" rx="1.2"/>
<rect x="182.6" y="684" width="4.4" height="4.4" fill="#ec1c24" rx="1.2"/>
<rect x="213.8" y="660" width="4.4" height="4.4" fill="#ec1c24" rx="1.2"/>
<rect x="285.3" y="657.8" width="4.4" height="4.4" fill="#ec1c24" rx="1.2"/>
<circle cx="140.3" cy="688.5" r="2.3" fill="#3a9a3a"/>
<line x1="296.3" y1="660" x2="296.3" y2="695.4" stroke="#000" stroke-width="1.3" />
<line x1="292" y1="660" x2="296.3" y2="660" stroke="#000" stroke-width="1.3" />
<line x1="292" y1="695.4" x2="296.3" y2="695.4" stroke="#000" stroke-width="1.3" />
<text x="303" y="684.5" font-size="10" text-anchor="middle">*</text>
<line x1="345.2" y1="663" x2="356" y2="663" stroke="#dc2a30" stroke-width="1.8" />
<rect x="347.7" y="660.1" width="5.8" height="5.8" fill="#ec1c24" rx="1.2"/>
<text x="364.3" y="666" font-size="8.3" textLength="45.7" lengthAdjust="spacingAndGlyphs">TEM +CMV</text>
<line x1="345.2" y1="675" x2="356" y2="675" stroke="#dc2a30" stroke-width="1.8" stroke-dasharray="2.5 1.2"/>
<path d="M350.6 671.8L353.8 677.9L347.4 677.9Z" fill="#ec1c24"/>
<text x="364.3" y="678" font-size="8.3" textLength="50.3" lengthAdjust="spacingAndGlyphs">Naive +CMV</text>
<circle cx="349.6" cy="686.9" r="2.3" fill="#3a9a3a"/>
<rect x="351.8" y="684.9" width="9.7" height="4" fill="#b3b3b3" />
<text x="364.3" y="689.9" font-size="8.3" textLength="51.5" lengthAdjust="spacingAndGlyphs">TEM Control</text>
<line x1="345.2" y1="698.4" x2="356" y2="698.4" stroke="#1f1fb4" stroke-width="1.8" />
<circle cx="350.6" cy="698.4" r="2.9" fill="#1e1ed6"/>
<text x="364.3" y="701.4" font-size="8.3" textLength="42.9" lengthAdjust="spacingAndGlyphs">TEM -CMV</text>
<line x1="345.2" y1="710.4" x2="356" y2="710.4" stroke="#1f1fb4" stroke-width="1.8" stroke-dasharray="2.5 1.2"/>
<path d="M350.6 713.6L353.8 707.5L347.4 707.5Z" fill="#1e1ed6"/>
<text x="364.3" y="713.4" font-size="8.3" textLength="48" lengthAdjust="spacingAndGlyphs">Naive -CMV</text>
</svg>
</body></html>
